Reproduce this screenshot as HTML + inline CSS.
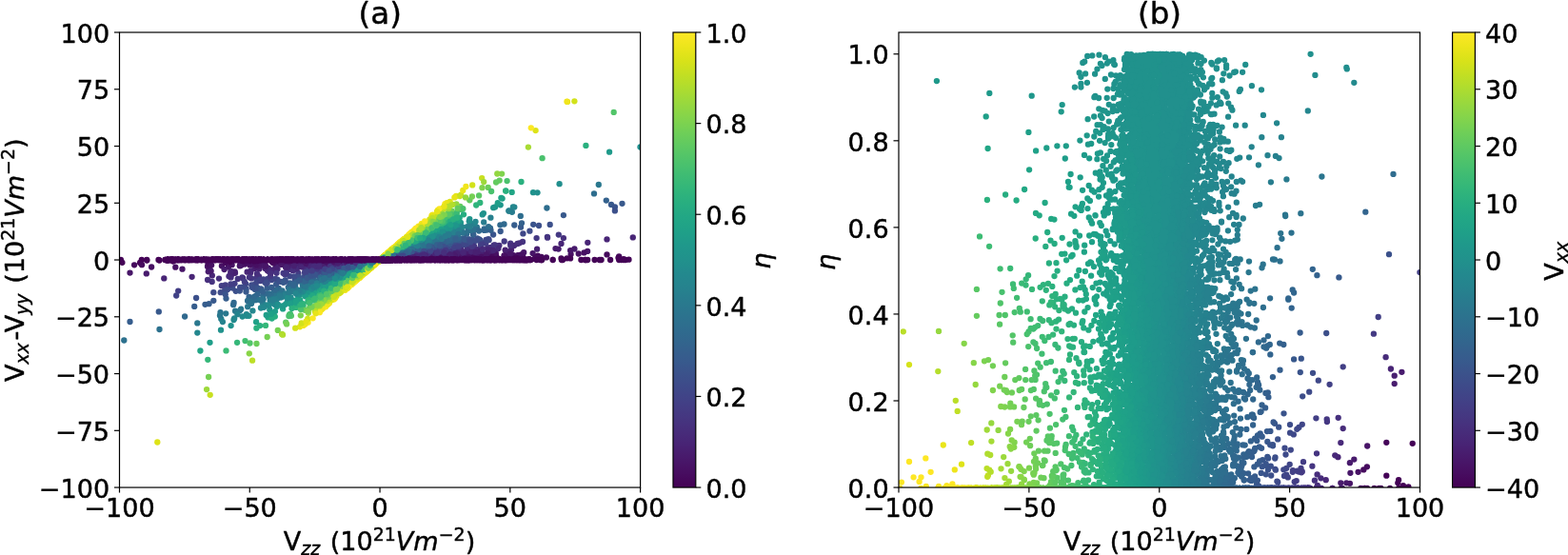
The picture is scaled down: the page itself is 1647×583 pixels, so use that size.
<!DOCTYPE html>
<html lang="en"><head><meta charset="utf-8"><title>EFG distribution scatter plots</title>
<style>html,body{margin:0;padding:0;background:#fff;overflow:hidden}svg{display:block}text{font-family:"DejaVu Sans","Liberation Sans",sans-serif;font-size:27.05px;fill:#000;stroke:#000;stroke-width:0.45px;stroke-linejoin:round}.t{font-size:32.5px}.i{font-style:italic}.s{font-size:18.93px}</style></head><body>
<svg width="1647" height="583" viewBox="0 0 1647 583">
<rect width="1647" height="583" fill="#fff"/>
<defs><linearGradient id="vg" x1="0" y1="0" x2="0" y2="1"><stop offset="0.0000" stop-color="#fde725"/><stop offset="0.0312" stop-color="#ece51b"/><stop offset="0.0625" stop-color="#d8e219"/><stop offset="0.0938" stop-color="#c2df23"/><stop offset="0.1250" stop-color="#addc30"/><stop offset="0.1562" stop-color="#98d83e"/><stop offset="0.1875" stop-color="#84d44b"/><stop offset="0.2188" stop-color="#70cf57"/><stop offset="0.2500" stop-color="#5ec962"/><stop offset="0.2812" stop-color="#4ec36b"/><stop offset="0.3125" stop-color="#3fbc73"/><stop offset="0.3438" stop-color="#32b67a"/><stop offset="0.3750" stop-color="#28ae80"/><stop offset="0.4062" stop-color="#22a785"/><stop offset="0.4375" stop-color="#1fa088"/><stop offset="0.4688" stop-color="#1f988b"/><stop offset="0.5000" stop-color="#21918c"/><stop offset="0.5312" stop-color="#23898e"/><stop offset="0.5625" stop-color="#26828e"/><stop offset="0.5938" stop-color="#297a8e"/><stop offset="0.6250" stop-color="#2c728e"/><stop offset="0.6562" stop-color="#2f6b8e"/><stop offset="0.6875" stop-color="#33638d"/><stop offset="0.7188" stop-color="#375b8d"/><stop offset="0.7500" stop-color="#3b528b"/><stop offset="0.7812" stop-color="#3e4989"/><stop offset="0.8125" stop-color="#424086"/><stop offset="0.8438" stop-color="#453781"/><stop offset="0.8750" stop-color="#472d7b"/><stop offset="0.9062" stop-color="#482374"/><stop offset="0.9375" stop-color="#48186a"/><stop offset="0.9688" stop-color="#470d60"/><stop offset="1.0000" stop-color="#440154"/></linearGradient>
<clipPath id="ca"><rect x="125.50" y="34.00" width="547.10" height="478.05"/></clipPath>
<clipPath id="cb"><rect x="944.00" y="34.00" width="547.50" height="478.05"/></clipPath>
</defs>
<g clip-path="url(#ca)" fill="none" stroke-width="6.30" stroke-linecap="round">
<path stroke="#30698e" d="M302.8 301.8h0"/>
<path stroke="#63cb5f" d="M483.4 216.9h0"/>
<path stroke="#fbe723" d="M408.1 265.1h0"/>
<path stroke="#42be71" d="M305.0 329.9h0"/>
<path stroke="#460a5d" d="M397.6 273.0h0"/>
<path stroke="#7fd34e" d="M330.7 321.4h0"/>
<path stroke="#450457" d="M387.6 273.0h0"/>
<path stroke="#fbe723" d="M362.5 304.7h0"/>
<path stroke="#450457" d="M284.8 273.0h0"/>
<path stroke="#6ccd5a" d="M474.6 221.7h0"/>
<path stroke="#fbe723" d="M419.1 255.6h0"/>
<path stroke="#450457" d="M419.9 272.9h0M389.9 273.1h0"/>
<path stroke="#1f968b" d="M520.1 217.4h0"/>
<path stroke="#450457" d="M450.4 273.0h0M417.9 273.0h0"/>
<path stroke="#365d8d" d="M280.5 302.8h0"/>
<path stroke="#460a5d" d="M400.4 273.0h0"/>
<path stroke="#450457" d="M395.6 273.0h0M409.8 273.0h0M324.6 273.0h0"/>
<path stroke="#32658e" d="M292.7 302.9h0"/>
<path stroke="#450457" d="M290.6 273.0h0"/>
<path stroke="#3a548c" d="M518.1 246.5h0"/>
<path stroke="#482576" d="M589.5 255.9h0"/>
<path stroke="#21a585" d="M325.5 310.3h0"/>
<path stroke="#30698e" d="M317.3 297.0h0"/>
<path stroke="#472f7d" d="M308.7 283.4h0"/>
<path stroke="#365d8d" d="M215.5 319.8h0"/>
<path stroke="#450457" d="M400.8 273.0h0"/>
<path stroke="#472f7d" d="M242.5 291.4h0"/>
<path stroke="#450457" d="M387.4 273.1h0"/>
<path stroke="#fbe723" d="M403.3 269.3h0"/>
<path stroke="#471063" d="M403.0 272.9h0"/>
<path stroke="#433e85" d="M313.4 286.9h0"/>
<path stroke="#3e4c8a" d="M278.2 296.4h0"/>
<path stroke="#f1e51d" d="M396.8 275.0h0"/>
<path stroke="#482071" d="M281.8 281.7h0"/>
<path stroke="#e7e419" d="M596.0 106.9h0"/>
<path stroke="#450457" d="M197.4 273.0h0"/>
<path stroke="#3f4788" d="M285.4 294.1h0"/>
<path stroke="#460a5d" d="M274.8 275.5h0"/>
<path stroke="#450457" d="M488.4 273.0h0"/>
<path stroke="#fbe723" d="M376.5 292.6h0"/>
<path stroke="#3e4c8a" d="M513.0 251.2h0"/>
<path stroke="#450457" d="M556.7 273.0h0"/>
<path stroke="#93d741" d="M479.4 214.4h0"/>
<path stroke="#4ac16d" d="M480.0 223.1h0"/>
<path stroke="#450457" d="M657.0 273.0h0"/>
<path stroke="#481668" d="M400.3 273.0h0"/>
<path stroke="#414287" d="M506.7 255.1h0"/>
<path stroke="#2d718e" d="M290.9 307.6h0"/>
<path stroke="#fbe723" d="M424.7 250.9h0"/>
<path stroke="#f1e51d" d="M393.5 277.8h0"/>
<path stroke="#481668" d="M516.0 268.0h0"/>
<path stroke="#450457" d="M404.9 273.0h0"/>
<path stroke="#fbe723" d="M365.0 302.7h0"/>
<path stroke="#bddf26" d="M397.4 274.3h0"/>
<path stroke="#fbe723" d="M412.0 261.7h0"/>
<path stroke="#450457" d="M186.6 273.0h0M407.3 272.9h0M297.7 273.0h0M393.3 273.1h0"/>
<path stroke="#433e85" d="M299.4 288.6h0"/>
<path stroke="#482071" d="M278.5 281.9h0"/>
<path stroke="#471063" d="M539.2 268.2h0"/>
<path stroke="#450457" d="M424.6 273.0h0"/>
<path stroke="#472a7a" d="M282.2 285.0h0"/>
<path stroke="#450457" d="M351.8 273.0h0M388.5 273.0h0"/>
<path stroke="#f1e51d" d="M352.2 313.0h0"/>
<path stroke="#34618d" d="M497.0 246.3h0"/>
<path stroke="#450457" d="M507.2 273.0h0M412.5 273.0h0"/>
<path stroke="#2ab07f" d="M531.4 200.6h0"/>
<path stroke="#228b8d" d="M245.5 336.0h0"/>
<path stroke="#481668" d="M267.4 279.9h0"/>
<path stroke="#450457" d="M380.8 273.0h0"/>
<path stroke="#f1e51d" d="M407.0 266.2h0"/>
<path stroke="#20928c" d="M507.9 224.1h0"/>
<path stroke="#24878e" d="M495.0 235.0h0"/>
<path stroke="#472a7a" d="M304.2 282.8h0"/>
<path stroke="#f1e51d" d="M402.9 269.7h0"/>
<path stroke="#450457" d="M425.6 273.0h0M312.4 273.0h0M403.5 273.0h0"/>
<path stroke="#471063" d="M397.6 273.1h0"/>
<path stroke="#d2e21b" d="M451.4 230.5h0"/>
<path stroke="#450457" d="M401.3 273.0h0M406.0 273.0h0"/>
<path stroke="#2e6d8e" d="M276.2 310.3h0"/>
<path stroke="#32658e" d="M304.5 300.0h0"/>
<path stroke="#482576" d="M263.5 284.4h0"/>
<path stroke="#2e6d8e" d="M574.4 218.5h0"/>
<path stroke="#450457" d="M216.5 273.0h0M186.7 273.0h0"/>
<path stroke="#460a5d" d="M403.1 272.9h0"/>
<path stroke="#450457" d="M216.4 273.0h0"/>
<path stroke="#fbe723" d="M391.5 279.6h0"/>
<path stroke="#3c508b" d="M247.7 305.8h0"/>
<path stroke="#460a5d" d="M396.8 273.1h0"/>
<path stroke="#450457" d="M540.2 273.0h0M408.7 272.9h0M441.0 273.0h0"/>
<path stroke="#481668" d="M276.3 278.4h0"/>
<path stroke="#f1e51d" d="M404.2 268.6h0"/>
<path stroke="#fbe723" d="M400.6 271.7h0"/>
<path stroke="#1f968b" d="M301.5 317.7h0"/>
<path stroke="#2ab07f" d="M309.6 322.0h0"/>
<path stroke="#f1e51d" d="M397.3 274.5h0"/>
<path stroke="#450457" d="M348.3 273.0h0"/>
<path stroke="#2a788e" d="M260.2 322.2h0"/>
<path stroke="#3e4c8a" d="M482.1 257.1h0"/>
<path stroke="#450457" d="M405.8 273.0h0M468.5 273.0h0M236.2 273.0h0M405.6 272.9h0"/>
<path stroke="#d2e21b" d="M397.5 274.3h0"/>
<path stroke="#450457" d="M530.9 273.0h0M546.8 273.0h0M402.0 273.0h0M154.3 273.5h0M401.5 273.0h0"/>
<path stroke="#24878e" d="M476.6 241.8h0"/>
<path stroke="#e7e419" d="M315.0 343.3h0"/>
<path stroke="#450457" d="M408.4 273.0h0"/>
<path stroke="#25838e" d="M290.0 315.5h0"/>
<path stroke="#30698e" d="M490.1 245.7h0"/>
<path stroke="#471063" d="M402.4 272.9h0"/>
<path stroke="#450457" d="M326.4 273.0h0M241.5 273.0h0M451.7 273.0h0M519.1 273.0h0M371.4 273.0h0"/>
<path stroke="#365d8d" d="M485.1 250.9h0"/>
<path stroke="#443983" d="M491.5 259.9h0"/>
<path stroke="#c8e020" d="M220.7 414.8h0"/>
<path stroke="#450457" d="M390.4 273.0h0"/>
<path stroke="#f1e51d" d="M404.2 268.6h0"/>
<path stroke="#450457" d="M219.0 273.0h0M414.6 272.9h0M379.3 273.0h0M467.2 273.0h0"/>
<path stroke="#21a585" d="M281.6 333.4h0"/>
<path stroke="#450457" d="M316.3 273.0h0"/>
<path stroke="#fbe723" d="M402.8 269.8h0"/>
<path stroke="#472a7a" d="M322.5 281.2h0"/>
<path stroke="#3f4788" d="M497.4 255.5h0"/>
<path stroke="#450457" d="M402.2 273.0h0"/>
<path stroke="#481b6d" d="M400.4 272.9h0"/>
<path stroke="#3e4c8a" d="M280.7 296.9h0"/>
<path stroke="#f1e51d" d="M393.3 277.9h0"/>
<path stroke="#450457" d="M388.9 273.1h0"/>
<path stroke="#25838e" d="M540.3 217.6h0"/>
<path stroke="#4ac16d" d="M569.6 166.2h0"/>
<path stroke="#3e4c8a" d="M264.3 299.4h0"/>
<path stroke="#450457" d="M344.8 273.1h0M521.7 273.0h0M650.2 273.0h0"/>
<path stroke="#3f4788" d="M489.2 257.0h0"/>
<path stroke="#463480" d="M536.2 255.7h0"/>
<path stroke="#38598c" d="M591.9 226.1h0"/>
<path stroke="#481b6d" d="M400.4 272.9h0"/>
<path stroke="#460a5d" d="M396.4 273.1h0"/>
<path stroke="#450457" d="M524.9 273.0h0M405.5 273.0h0M424.9 273.0h0M589.5 271.3h0"/>
<path stroke="#463480" d="M249.8 292.9h0"/>
<path stroke="#450457" d="M409.8 273.0h0"/>
<path stroke="#460a5d" d="M253.0 276.2h0"/>
<path stroke="#450457" d="M409.8 273.0h0"/>
<path stroke="#c8e020" d="M484.2 204.7h0"/>
<path stroke="#450457" d="M332.3 273.0h0M437.8 273.0h0"/>
<path stroke="#a8db34" d="M475.6 214.8h0"/>
<path stroke="#460a5d" d="M400.5 273.0h0"/>
<path stroke="#450457" d="M284.8 273.0h0M274.4 273.0h0"/>
<path stroke="#30698e" d="M508.7 240.5h0"/>
<path stroke="#38598c" d="M267.8 303.9h0"/>
<path stroke="#450457" d="M569.1 273.0h0M323.7 273.0h0M207.4 273.0h0"/>
<path stroke="#fbe723" d="M411.6 262.1h0"/>
<path stroke="#450457" d="M236.5 273.0h0M397.9 273.0h0"/>
<path stroke="#26ad81" d="M288.8 332.6h0"/>
<path stroke="#460a5d" d="M406.9 272.9h0"/>
<path stroke="#365d8d" d="M271.6 304.9h0"/>
<path stroke="#471063" d="M299.4 277.0h0"/>
<path stroke="#450457" d="M409.6 272.9h0"/>
<path stroke="#218f8d" d="M321.3 306.9h0"/>
<path stroke="#414287" d="M320.1 286.2h0"/>
<path stroke="#481b6d" d="M603.4 261.5h0"/>
<path stroke="#4ac16d" d="M532.6 190.1h0"/>
<path stroke="#450457" d="M291.9 273.0h0M401.0 273.0h0M514.6 273.0h0M316.1 273.0h0"/>
<path stroke="#365d8d" d="M304.4 297.4h0"/>
<path stroke="#2d718e" d="M296.5 305.3h0"/>
<path stroke="#450457" d="M262.8 273.0h0"/>
<path stroke="#460a5d" d="M396.0 273.1h0"/>
<path stroke="#450457" d="M230.3 273.0h0"/>
<path stroke="#471063" d="M232.9 279.3h0M397.5 273.1h0"/>
<path stroke="#450457" d="M569.0 273.0h0M308.1 273.0h0"/>
<path stroke="#481668" d="M401.0 272.9h0"/>
<path stroke="#460a5d" d="M402.5 272.9h0"/>
<path stroke="#450457" d="M508.7 273.0h0"/>
<path stroke="#482071" d="M320.1 279.2h0"/>
<path stroke="#fbe723" d="M401.5 270.9h0"/>
<path stroke="#460a5d" d="M405.2 272.9h0"/>
<path stroke="#450457" d="M394.5 273.1h0M254.0 273.0h0"/>
<path stroke="#460a5d" d="M401.8 273.0h0"/>
<path stroke="#3e4c8a" d="M236.1 305.1h0"/>
<path stroke="#450457" d="M480.6 273.0h0"/>
<path stroke="#f1e51d" d="M397.2 274.6h0"/>
<path stroke="#472f7d" d="M591.9 250.1h0"/>
<path stroke="#481b6d" d="M520.7 265.6h0"/>
<path stroke="#2b748e" d="M500.9 238.7h0"/>
<path stroke="#450457" d="M439.8 273.0h0M305.2 273.0h0M511.7 273.0h0"/>
<path stroke="#443983" d="M497.0 258.7h0"/>
<path stroke="#450457" d="M323.7 273.0h0"/>
<path stroke="#fbe723" d="M373.1 295.6h0"/>
<path stroke="#450457" d="M302.8 273.0h0M409.5 273.0h0"/>
<path stroke="#481668" d="M397.6 273.1h0"/>
<path stroke="#450457" d="M416.9 273.0h0"/>
<path stroke="#21a585" d="M471.2 235.7h0"/>
<path stroke="#471063" d="M547.6 267.3h0"/>
<path stroke="#75d054" d="M291.8 346.9h0"/>
<path stroke="#450457" d="M265.8 273.0h0"/>
<path stroke="#fbe723" d="M389.1 281.7h0"/>
<path stroke="#460a5d" d="M407.3 272.9h0M397.1 273.1h0"/>
<path stroke="#3f4788" d="M549.4 245.4h0"/>
<path stroke="#450457" d="M388.3 273.0h0"/>
<path stroke="#1fa187" d="M297.1 324.4h0"/>
<path stroke="#450457" d="M317.9 273.0h0"/>
<path stroke="#4ac16d" d="M486.3 219.2h0"/>
<path stroke="#450457" d="M356.5 273.0h0"/>
<path stroke="#472a7a" d="M286.0 284.7h0"/>
<path stroke="#481b6d" d="M507.5 267.0h0"/>
<path stroke="#dde318" d="M397.3 274.5h0"/>
<path stroke="#450457" d="M390.1 273.1h0"/>
<path stroke="#f1e51d" d="M454.5 225.7h0"/>
<path stroke="#fbe723" d="M418.7 255.9h0"/>
<path stroke="#21a585" d="M537.7 201.9h0"/>
<path stroke="#450457" d="M390.3 273.1h0M401.0 273.0h0M397.8 273.0h0M266.1 273.0h0"/>
<path stroke="#460a5d" d="M407.7 272.9h0"/>
<path stroke="#32658e" d="M261.6 312.0h0"/>
<path stroke="#30698e" d="M310.1 299.7h0"/>
<path stroke="#450457" d="M298.0 273.0h0M459.3 273.0h0M432.5 273.0h0M401.7 273.0h0M414.6 272.9h0"/>
<path stroke="#414287" d="M273.4 295.0h0"/>
<path stroke="#228b8d" d="M480.1 238.8h0"/>
<path stroke="#34618d" d="M305.4 298.1h0"/>
<path stroke="#460a5d" d="M396.6 273.1h0"/>
<path stroke="#450457" d="M417.6 272.9h0M464.3 273.0h0"/>
<path stroke="#52c569" d="M305.9 331.8h0"/>
<path stroke="#fbe723" d="M342.2 322.3h0"/>
<path stroke="#471063" d="M397.5 273.1h0"/>
<path stroke="#450457" d="M396.2 273.1h0M394.8 273.1h0"/>
<path stroke="#fbe723" d="M378.7 290.7h0"/>
<path stroke="#471063" d="M400.6 273.0h0"/>
<path stroke="#450457" d="M427.8 273.0h0M343.0 273.0h0"/>
<path stroke="#481b6d" d="M513.3 266.3h0"/>
<path stroke="#20928c" d="M314.7 310.0h0"/>
<path stroke="#fbe723" d="M389.0 281.7h0"/>
<path stroke="#24878e" d="M538.9 217.3h0"/>
<path stroke="#450457" d="M411.4 273.0h0M384.5 273.0h0M363.0 273.0h0"/>
<path stroke="#460a5d" d="M403.6 272.9h0"/>
<path stroke="#482071" d="M267.7 282.0h0"/>
<path stroke="#450457" d="M412.7 272.9h0M652.6 273.0h0M615.0 273.0h0"/>
<path stroke="#fbe723" d="M369.4 298.9h0"/>
<path stroke="#3bbb75" d="M318.5 321.3h0"/>
<path stroke="#450457" d="M493.1 273.0h0"/>
<path stroke="#f1e51d" d="M460.0 220.7h0"/>
<path stroke="#a8db34" d="M339.4 318.4h0"/>
<path stroke="#fbe723" d="M404.9 267.9h0"/>
<path stroke="#2e6d8e" d="M245.1 320.2h0"/>
<path stroke="#34618d" d="M463.6 255.8h0"/>
<path stroke="#450457" d="M350.4 273.0h0"/>
<path stroke="#472f7d" d="M524.4 257.8h0"/>
<path stroke="#a8db34" d="M554.9 154.6h0"/>
<path stroke="#450457" d="M286.7 273.0h0M412.0 272.9h0M226.3 273.0h0"/>
<path stroke="#481b6d" d="M218.8 285.3h0"/>
<path stroke="#27808e" d="M490.8 238.2h0"/>
<path stroke="#450457" d="M316.8 273.0h0"/>
<path stroke="#3a548c" d="M251.8 305.5h0"/>
<path stroke="#26ad81" d="M327.2 311.7h0"/>
<path stroke="#450457" d="M542.2 273.0h0M309.2 273.0h0"/>
<path stroke="#30698e" d="M515.0 239.6h0"/>
<path stroke="#450457" d="M417.2 272.9h0M396.6 273.1h0"/>
<path stroke="#460a5d" d="M286.2 275.6h0"/>
<path stroke="#472f7d" d="M490.5 262.3h0"/>
<path stroke="#450457" d="M405.1 273.0h0"/>
<path stroke="#d2e21b" d="M496.2 194.4h0"/>
<path stroke="#450457" d="M336.9 273.0h0M319.0 273.0h0"/>
<path stroke="#3a548c" d="M309.7 293.8h0"/>
<path stroke="#2d718e" d="M309.4 302.4h0"/>
<path stroke="#460a5d" d="M408.0 272.9h0"/>
<path stroke="#450457" d="M524.4 273.0h0"/>
<path stroke="#460a5d" d="M404.6 272.9h0M406.8 272.9h0"/>
<path stroke="#35b779" d="M323.6 317.0h0"/>
<path stroke="#2a788e" d="M484.7 243.0h0"/>
<path stroke="#2ab07f" d="M547.5 191.0h0"/>
<path stroke="#450457" d="M492.1 273.0h0"/>
<path stroke="#460a5d" d="M277.9 275.3h0"/>
<path stroke="#450457" d="M417.4 273.0h0"/>
<path stroke="#32658e" d="M326.1 293.8h0"/>
<path stroke="#1f9a8a" d="M640.1 159.7h0"/>
<path stroke="#482576" d="M247.0 286.8h0"/>
<path stroke="#f1e51d" d="M344.2 319.9h0"/>
<path stroke="#1f968b" d="M283.3 325.4h0"/>
<path stroke="#450457" d="M367.2 273.0h0"/>
<path stroke="#fbe723" d="M350.8 314.6h0"/>
<path stroke="#20928c" d="M560.0 202.2h0"/>
<path stroke="#450457" d="M476.6 273.0h0M281.9 273.0h0"/>
<path stroke="#dde318" d="M406.1 267.2h0"/>
<path stroke="#fbe723" d="M397.2 274.6h0"/>
<path stroke="#450457" d="M439.9 273.0h0"/>
<path stroke="#27808e" d="M515.4 228.7h0"/>
<path stroke="#471063" d="M218.0 280.0h0"/>
<path stroke="#fbe723" d="M404.5 268.3h0M396.3 275.4h0"/>
<path stroke="#3e4c8a" d="M504.5 252.3h0"/>
<path stroke="#2fb47c" d="M311.0 322.9h0"/>
<path stroke="#471063" d="M607.7 266.5h0"/>
<path stroke="#450457" d="M390.2 273.0h0M245.2 273.0h0"/>
<path stroke="#463480" d="M272.0 290.3h0"/>
<path stroke="#7fd34e" d="M351.2 306.9h0"/>
<path stroke="#450457" d="M492.6 273.0h0M218.5 273.0h0M516.0 273.0h0"/>
<path stroke="#2e6d8e" d="M624.0 203.4h0"/>
<path stroke="#2d718e" d="M491.4 242.8h0"/>
<path stroke="#365d8d" d="M487.2 250.5h0"/>
<path stroke="#32658e" d="M467.1 254.0h0"/>
<path stroke="#471063" d="M400.5 273.0h0"/>
<path stroke="#21a585" d="M311.0 318.4h0"/>
<path stroke="#481b6d" d="M153.8 287.4h0"/>
<path stroke="#e7e419" d="M397.5 274.3h0"/>
<path stroke="#2e6d8e" d="M260.1 315.9h0"/>
<path stroke="#fbe723" d="M433.4 243.4h0"/>
<path stroke="#482576" d="M201.6 290.8h0"/>
<path stroke="#fbe723" d="M390.3 280.6h0"/>
<path stroke="#a8db34" d="M296.1 351.0h0"/>
<path stroke="#fbe723" d="M362.3 304.7h0"/>
<path stroke="#287c8e" d="M252.2 326.1h0"/>
<path stroke="#f1e51d" d="M345.9 318.6h0"/>
<path stroke="#460a5d" d="M402.4 273.0h0M141.1 278.3h0"/>
<path stroke="#7fd34e" d="M471.1 222.8h0"/>
<path stroke="#450457" d="M344.3 273.0h0"/>
<path stroke="#f1e51d" d="M404.3 268.5h0"/>
<path stroke="#471063" d="M220.6 279.3h0"/>
<path stroke="#450457" d="M397.7 273.0h0M381.5 273.0h0"/>
<path stroke="#20928c" d="M232.0 346.7h0"/>
<path stroke="#450457" d="M410.6 273.0h0M407.4 273.0h0M393.8 273.1h0M403.0 273.0h0M551.4 273.0h0"/>
<path stroke="#f1e51d" d="M397.7 274.1h0"/>
<path stroke="#fbe723" d="M393.5 277.8h0"/>
<path stroke="#dde318" d="M465.2 218.7h0"/>
<path stroke="#21a585" d="M334.6 305.7h0"/>
<path stroke="#450457" d="M432.5 272.9h0M471.6 273.0h0M488.4 273.0h0"/>
<path stroke="#d2e21b" d="M397.4 274.4h0"/>
<path stroke="#2ab07f" d="M273.1 342.1h0"/>
<path stroke="#450457" d="M419.3 273.0h0M655.1 273.0h0"/>
<path stroke="#471063" d="M401.6 272.9h0"/>
<path stroke="#450457" d="M287.9 273.0h0"/>
<path stroke="#443983" d="M563.6 250.1h0"/>
<path stroke="#482576" d="M244.1 287.8h0"/>
<path stroke="#481668" d="M400.8 272.9h0"/>
<path stroke="#dde318" d="M562.6 137.1h0"/>
<path stroke="#443983" d="M574.9 248.8h0"/>
<path stroke="#472f7d" d="M515.6 259.8h0"/>
<path stroke="#450457" d="M126.9 273.0h0"/>
<path stroke="#2fb47c" d="M318.3 319.2h0"/>
<path stroke="#481b6d" d="M400.2 273.0h0"/>
<path stroke="#450457" d="M182.2 273.0h0"/>
<path stroke="#481668" d="M239.9 280.6h0"/>
<path stroke="#481b6d" d="M401.0 272.9h0"/>
<path stroke="#450457" d="M242.2 273.0h0"/>
<path stroke="#3c508b" d="M496.6 251.9h0"/>
<path stroke="#1f9a8a" d="M299.7 319.8h0"/>
<path stroke="#fbe723" d="M406.8 266.3h0"/>
<path stroke="#dde318" d="M403.0 269.8h0M397.6 274.2h0"/>
<path stroke="#3e4c8a" d="M239.2 303.7h0"/>
<path stroke="#38598c" d="M480.3 253.9h0"/>
<path stroke="#450457" d="M406.2 273.0h0"/>
<path stroke="#93d741" d="M459.8 228.7h0"/>
<path stroke="#450457" d="M414.5 273.0h0"/>
<path stroke="#7fd34e" d="M315.8 331.3h0"/>
<path stroke="#1f9a8a" d="M308.0 315.7h0"/>
<path stroke="#bddf26" d="M344.0 316.2h0"/>
<path stroke="#450457" d="M212.0 273.0h0"/>
<path stroke="#dde318" d="M165.3 464.5h0"/>
<path stroke="#3c508b" d="M299.7 294.4h0"/>
<path stroke="#433e85" d="M187.2 305.6h0"/>
<path stroke="#450457" d="M392.7 273.0h0M403.2 273.0h0M660.5 272.7h0"/>
<path stroke="#460a5d" d="M394.6 273.1h0"/>
<path stroke="#450457" d="M441.5 273.0h0"/>
<path stroke="#460a5d" d="M532.4 269.6h0"/>
<path stroke="#471063" d="M400.3 273.0h0"/>
<path stroke="#450457" d="M290.4 273.0h0M402.9 273.0h0M391.7 273.0h0M405.0 273.0h0"/>
<path stroke="#fbe723" d="M409.4 264.0h0"/>
<path stroke="#450457" d="M402.1 273.0h0M508.8 273.0h0"/>
<path stroke="#481b6d" d="M269.2 280.6h0"/>
<path stroke="#e7e419" d="M333.9 328.0h0"/>
<path stroke="#287c8e" d="M299.8 308.7h0"/>
<path stroke="#2d718e" d="M264.1 316.3h0"/>
<path stroke="#dde318" d="M348.3 315.2h0"/>
<path stroke="#450457" d="M392.5 273.0h0"/>
<path stroke="#38598c" d="M642.0 214.9h0"/>
<path stroke="#482071" d="M272.3 282.4h0"/>
<path stroke="#471063" d="M397.0 273.1h0"/>
<path stroke="#450457" d="M410.2 273.0h0"/>
<path stroke="#463480" d="M254.4 291.3h0"/>
<path stroke="#450457" d="M519.5 273.0h0M302.7 273.0h0"/>
<path stroke="#5ac864" d="M469.6 227.4h0"/>
<path stroke="#450457" d="M220.4 273.0h0"/>
<path stroke="#d2e21b" d="M397.2 274.5h0"/>
<path stroke="#63cb5f" d="M300.2 338.6h0"/>
<path stroke="#450457" d="M515.8 273.0h0"/>
<path stroke="#3a548c" d="M299.0 296.0h0"/>
<path stroke="#450457" d="M263.4 273.0h0"/>
<path stroke="#218f8d" d="M261.5 331.8h0"/>
<path stroke="#471063" d="M159.1 280.5h0"/>
<path stroke="#fbe723" d="M405.0 267.9h0"/>
<path stroke="#450457" d="M414.6 273.0h0M407.4 273.0h0M471.3 273.0h0"/>
<path stroke="#2b748e" d="M285.9 310.6h0"/>
<path stroke="#450457" d="M269.7 273.0h0M468.1 273.0h0M395.5 273.0h0M255.8 273.0h0M166.5 273.0h0"/>
<path stroke="#1f968b" d="M525.7 215.3h0"/>
<path stroke="#450457" d="M281.4 273.0h0M294.0 273.0h0M397.1 273.0h0M521.1 273.0h0M402.8 273.0h0"/>
<path stroke="#3f4788" d="M492.0 255.6h0"/>
<path stroke="#3a548c" d="M270.4 302.3h0"/>
<path stroke="#460a5d" d="M403.1 272.9h0"/>
<path stroke="#472a7a" d="M263.2 286.4h0"/>
<path stroke="#450457" d="M402.5 273.0h0"/>
<path stroke="#482071" d="M400.5 272.9h0"/>
<path stroke="#450457" d="M395.1 273.0h0M263.3 273.0h0"/>
<path stroke="#481668" d="M269.2 278.7h0"/>
<path stroke="#75d054" d="M324.2 324.8h0"/>
<path stroke="#450457" d="M408.3 273.0h0"/>
<path stroke="#30698e" d="M245.6 317.9h0"/>
<path stroke="#450457" d="M243.6 273.0h0"/>
<path stroke="#287c8e" d="M289.6 312.9h0"/>
<path stroke="#443983" d="M269.8 291.9h0"/>
<path stroke="#450457" d="M379.7 273.0h0"/>
<path stroke="#24878e" d="M321.0 304.1h0"/>
<path stroke="#a8db34" d="M345.0 313.8h0"/>
<path stroke="#481b6d" d="M400.3 272.9h0"/>
<path stroke="#2a788e" d="M247.1 326.7h0"/>
<path stroke="#450457" d="M419.6 273.0h0"/>
<path stroke="#30698e" d="M268.9 310.7h0"/>
<path stroke="#f1e51d" d="M396.4 275.3h0"/>
<path stroke="#450457" d="M285.4 274.3h0"/>
<path stroke="#2a788e" d="M311.3 303.9h0"/>
<path stroke="#482071" d="M246.7 285.4h0"/>
<path stroke="#450457" d="M198.5 273.0h0"/>
<path stroke="#2ab07f" d="M331.9 309.8h0"/>
<path stroke="#414287" d="M242.7 299.5h0"/>
<path stroke="#9dd93b" d="M323.9 328.8h0"/>
<path stroke="#450457" d="M480.3 273.0h0"/>
<path stroke="#2e6d8e" d="M287.5 307.4h0"/>
<path stroke="#fbe723" d="M404.7 268.1h0"/>
<path stroke="#450457" d="M429.5 273.0h0M441.6 273.0h0M394.9 273.0h0"/>
<path stroke="#3e4c8a" d="M244.3 302.6h0"/>
<path stroke="#450457" d="M393.9 273.1h0"/>
<path stroke="#2b748e" d="M283.2 312.1h0"/>
<path stroke="#450457" d="M391.4 273.1h0"/>
<path stroke="#6ccd5a" d="M512.7 196.9h0"/>
<path stroke="#dde318" d="M403.0 269.7h0"/>
<path stroke="#450457" d="M177.9 273.0h0M428.1 273.0h0M389.5 273.1h0"/>
<path stroke="#20928c" d="M330.3 303.6h0"/>
<path stroke="#f1e51d" d="M469.4 213.1h0"/>
<path stroke="#450457" d="M332.9 273.0h0M408.0 272.9h0"/>
<path stroke="#2fb47c" d="M471.4 232.1h0"/>
<path stroke="#450457" d="M470.8 273.0h0"/>
<path stroke="#fbe723" d="M422.7 252.5h0"/>
<path stroke="#f1e51d" d="M396.8 275.0h0"/>
<path stroke="#450457" d="M194.8 273.0h0"/>
<path stroke="#42be71" d="M257.5 358.1h0"/>
<path stroke="#450457" d="M403.3 273.0h0"/>
<path stroke="#443983" d="M529.7 253.5h0"/>
<path stroke="#450457" d="M404.4 273.0h0"/>
<path stroke="#fbe723" d="M407.4 265.7h0"/>
<path stroke="#450457" d="M186.5 273.0h0"/>
<path stroke="#fbe723" d="M412.0 261.8h0"/>
<path stroke="#471063" d="M400.6 273.0h0"/>
<path stroke="#218f8d" d="M672.5 154.5h0"/>
<path stroke="#27808e" d="M232.3 335.0h0"/>
<path stroke="#e7e419" d="M459.2 222.3h0"/>
<path stroke="#450457" d="M392.7 273.1h0"/>
<path stroke="#482576" d="M617.3 254.8h0"/>
<path stroke="#450457" d="M215.6 273.0h0"/>
<path stroke="#472f7d" d="M512.1 260.2h0"/>
<path stroke="#b2dd2d" d="M346.1 313.9h0"/>
<path stroke="#481b6d" d="M531.7 264.2h0"/>
<path stroke="#463480" d="M478.3 262.5h0"/>
<path stroke="#450457" d="M466.8 273.0h0"/>
<path stroke="#472a7a" d="M483.6 264.0h0"/>
<path stroke="#fbe723" d="M390.2 280.7h0"/>
<path stroke="#24878e" d="M258.9 330.2h0"/>
<path stroke="#472a7a" d="M240.5 290.2h0"/>
<path stroke="#27808e" d="M534.5 221.7h0"/>
<path stroke="#450457" d="M532.3 273.0h0"/>
<path stroke="#63cb5f" d="M521.1 191.5h0"/>
<path stroke="#433e85" d="M236.7 299.4h0"/>
<path stroke="#287c8e" d="M297.9 309.9h0"/>
<path stroke="#450457" d="M409.8 273.0h0"/>
<path stroke="#471063" d="M400.4 273.0h0"/>
<path stroke="#450457" d="M520.4 273.0h0"/>
<path stroke="#26ad81" d="M325.2 313.2h0"/>
<path stroke="#2d718e" d="M266.8 315.3h0"/>
<path stroke="#fbe723" d="M396.4 275.3h0"/>
<path stroke="#450457" d="M400.2 273.0h0M408.1 272.9h0"/>
<path stroke="#f1e51d" d="M393.3 277.9h0"/>
<path stroke="#450457" d="M385.9 273.0h0"/>
<path stroke="#fbe723" d="M404.4 268.4h0"/>
<path stroke="#482576" d="M512.5 262.5h0"/>
<path stroke="#450457" d="M442.1 273.0h0"/>
<path stroke="#f1e51d" d="M595.5 106.7h0"/>
<path stroke="#26ad81" d="M336.6 306.3h0"/>
<path stroke="#450457" d="M393.3 273.0h0"/>
<path stroke="#2b748e" d="M303.9 304.2h0"/>
<path stroke="#f1e51d" d="M453.5 226.4h0"/>
<path stroke="#450457" d="M332.7 273.0h0"/>
<path stroke="#27808e" d="M296.8 311.7h0"/>
<path stroke="#481b6d" d="M235.6 283.0h0"/>
<path stroke="#460a5d" d="M400.8 273.0h0"/>
<path stroke="#450457" d="M404.2 273.0h0"/>
<path stroke="#42be71" d="M304.1 330.5h0"/>
<path stroke="#450457" d="M402.4 273.0h0"/>
<path stroke="#471063" d="M400.2 273.0h0"/>
<path stroke="#dde318" d="M397.6 274.2h0"/>
<path stroke="#365d8d" d="M475.7 253.4h0"/>
<path stroke="#450457" d="M409.8 273.0h0"/>
<path stroke="#1f968b" d="M290.9 322.0h0"/>
<path stroke="#6ccd5a" d="M472.9 223.0h0"/>
<path stroke="#4ac16d" d="M303.4 332.0h0"/>
<path stroke="#3c508b" d="M258.6 303.5h0"/>
<path stroke="#450457" d="M527.2 273.0h0M529.3 273.0h0M327.2 273.0h0M419.0 273.0h0"/>
<path stroke="#63cb5f" d="M493.3 210.3h0"/>
<path stroke="#450457" d="M395.7 273.0h0"/>
<path stroke="#460a5d" d="M397.5 273.0h0"/>
<path stroke="#450457" d="M407.2 273.0h0"/>
<path stroke="#f1e51d" d="M403.2 269.5h0"/>
<path stroke="#460a5d" d="M404.9 272.9h0"/>
<path stroke="#472a7a" d="M478.1 264.8h0"/>
<path stroke="#460a5d" d="M396.0 273.1h0"/>
<path stroke="#6ccd5a" d="M320.3 325.8h0"/>
<path stroke="#fbe723" d="M385.8 284.5h0M432.2 244.1h0"/>
<path stroke="#450457" d="M395.3 273.0h0M503.7 273.0h0M419.9 273.0h0"/>
<path stroke="#481b6d" d="M520.4 265.9h0"/>
<path stroke="#450457" d="M247.2 273.0h0"/>
<path stroke="#fbe723" d="M387.6 283.0h0"/>
<path stroke="#450457" d="M462.6 273.0h0M418.5 272.9h0"/>
<path stroke="#1fa187" d="M468.5 238.6h0"/>
<path stroke="#fbe723" d="M467.4 214.1h0"/>
<path stroke="#450457" d="M389.3 273.0h0M359.4 273.0h0"/>
<path stroke="#482071" d="M400.6 272.9h0"/>
<path stroke="#2e6d8e" d="M546.8 226.9h0"/>
<path stroke="#481668" d="M400.5 273.0h0M397.4 273.1h0"/>
<path stroke="#450457" d="M469.5 273.0h0"/>
<path stroke="#fbe723" d="M377.2 292.1h0"/>
<path stroke="#450457" d="M405.8 273.0h0M419.9 273.0h0"/>
<path stroke="#fbe723" d="M403.3 269.3h0"/>
<path stroke="#471063" d="M400.7 273.0h0"/>
<path stroke="#460a5d" d="M402.6 272.9h0"/>
<path stroke="#e7e419" d="M486.3 200.0h0"/>
<path stroke="#32658e" d="M306.0 299.4h0"/>
<path stroke="#fbe723" d="M404.3 268.5h0M421.7 253.3h0"/>
<path stroke="#471063" d="M400.1 273.0h0"/>
<path stroke="#63cb5f" d="M524.7 189.6h0"/>
<path stroke="#450457" d="M418.4 272.9h0"/>
<path stroke="#fbe723" d="M383.7 286.4h0"/>
<path stroke="#450457" d="M292.0 273.0h0"/>
<path stroke="#481668" d="M617.1 263.9h0"/>
<path stroke="#228b8d" d="M336.8 298.8h0"/>
<path stroke="#450457" d="M225.8 273.0h0M402.2 273.0h0"/>
<path stroke="#fbe723" d="M397.3 274.6h0"/>
<path stroke="#f1e51d" d="M427.4 248.7h0"/>
<path stroke="#1f9e89" d="M311.8 315.5h0"/>
<path stroke="#4ac16d" d="M484.6 220.1h0"/>
<path stroke="#481668" d="M252.0 279.2h0"/>
<path stroke="#482071" d="M537.0 262.6h0"/>
<path stroke="#1f968b" d="M483.9 234.0h0"/>
<path stroke="#fbe723" d="M411.4 262.2h0"/>
<path stroke="#27808e" d="M276.2 319.2h0"/>
<path stroke="#228b8d" d="M259.1 331.8h0"/>
<path stroke="#e7e419" d="M479.1 205.9h0"/>
<path stroke="#38598c" d="M547.0 238.7h0"/>
<path stroke="#450457" d="M308.7 273.0h0M309.3 273.3h0M372.4 273.0h0"/>
<path stroke="#f1e51d" d="M407.2 266.1h0"/>
<path stroke="#450457" d="M351.5 273.0h0M385.9 273.1h0"/>
<path stroke="#460a5d" d="M402.3 272.9h0"/>
<path stroke="#2b748e" d="M335.8 294.0h0"/>
<path stroke="#443983" d="M484.2 261.2h0"/>
<path stroke="#fbe723" d="M420.3 254.5h0"/>
<path stroke="#21a585" d="M315.3 315.5h0"/>
<path stroke="#450457" d="M315.6 273.0h0"/>
<path stroke="#471063" d="M243.6 278.2h0"/>
<path stroke="#3bbb75" d="M343.3 305.8h0"/>
<path stroke="#450457" d="M507.4 273.0h0M421.4 273.0h0M376.0 273.0h0"/>
<path stroke="#f1e51d" d="M392.9 278.3h0"/>
<path stroke="#3e4c8a" d="M486.9 256.1h0"/>
<path stroke="#414287" d="M276.7 293.3h0"/>
<path stroke="#dde318" d="M353.4 310.9h0"/>
<path stroke="#2d718e" d="M324.8 296.6h0"/>
<path stroke="#450457" d="M526.6 273.0h0M406.4 272.9h0"/>
<path stroke="#481668" d="M401.0 272.9h0"/>
<path stroke="#f1e51d" d="M424.9 250.9h0"/>
<path stroke="#482071" d="M400.4 272.9h0"/>
<path stroke="#450457" d="M394.7 273.0h0"/>
<path stroke="#460a5d" d="M400.9 273.0h0"/>
<path stroke="#450457" d="M550.6 273.0h0"/>
<path stroke="#bddf26" d="M397.3 274.4h0"/>
<path stroke="#450457" d="M550.6 273.0h0M468.8 273.0h0M300.8 273.0h0"/>
<path stroke="#481b6d" d="M312.8 278.1h0"/>
<path stroke="#450457" d="M531.2 273.0h0"/>
<path stroke="#fbe723" d="M370.6 297.8h0M382.3 287.5h0"/>
<path stroke="#d2e21b" d="M351.8 311.5h0"/>
<path stroke="#bddf26" d="M335.4 323.0h0"/>
<path stroke="#d2e21b" d="M397.3 274.5h0"/>
<path stroke="#450457" d="M344.3 273.0h0M401.5 273.0h0"/>
<path stroke="#1f968b" d="M324.4 306.7h0"/>
<path stroke="#450457" d="M437.2 273.0h0M475.0 273.0h0M274.7 273.0h0"/>
<path stroke="#b2dd2d" d="M453.1 231.1h0"/>
<path stroke="#471063" d="M545.4 268.4h0"/>
<path stroke="#93d741" d="M341.0 315.3h0"/>
<path stroke="#9dd93b" d="M217.1 409.1h0"/>
<path stroke="#e7e419" d="M396.8 274.9h0"/>
<path stroke="#471063" d="M520.6 268.5h0"/>
<path stroke="#1fa187" d="M337.3 303.7h0"/>
<path stroke="#460a5d" d="M396.1 273.1h0"/>
<path stroke="#e7e419" d="M403.7 269.1h0"/>
<path stroke="#450457" d="M420.4 273.0h0"/>
<path stroke="#482576" d="M311.0 280.3h0"/>
<path stroke="#450457" d="M208.2 273.0h0"/>
<path stroke="#fbe723" d="M410.4 263.2h0M392.4 278.8h0"/>
<path stroke="#450457" d="M408.0 273.0h0"/>
<path stroke="#2d718e" d="M486.3 244.5h0"/>
<path stroke="#450457" d="M255.1 273.0h0M369.2 273.0h0"/>
<path stroke="#1f9a8a" d="M306.5 316.1h0"/>
<path stroke="#4ac16d" d="M516.1 201.0h0"/>
<path stroke="#3c508b" d="M269.0 301.3h0"/>
<path stroke="#482576" d="M259.6 285.7h0"/>
<path stroke="#52c569" d="M262.5 360.5h0"/>
<path stroke="#450457" d="M291.7 273.0h0"/>
<path stroke="#fbe723" d="M323.6 338.7h0"/>
<path stroke="#482071" d="M564.1 261.7h0"/>
<path stroke="#d2e21b" d="M454.6 227.9h0"/>
<path stroke="#42be71" d="M474.4 227.4h0"/>
<path stroke="#450457" d="M391.0 273.1h0"/>
<path stroke="#89d548" d="M332.6 320.7h0"/>
<path stroke="#450457" d="M407.2 273.0h0"/>
<path stroke="#463480" d="M255.1 292.2h0"/>
<path stroke="#450457" d="M404.7 273.0h0"/>
<path stroke="#2d718e" d="M271.6 314.6h0"/>
<path stroke="#32658e" d="M511.4 241.5h0"/>
<path stroke="#35b779" d="M218.3 377.8h0"/>
<path stroke="#450457" d="M400.1 273.0h0"/>
<path stroke="#481668" d="M502.1 268.2h0"/>
<path stroke="#471063" d="M396.6 273.1h0"/>
<path stroke="#c8e020" d="M397.4 274.3h0"/>
<path stroke="#dde318" d="M316.7 341.2h0"/>
<path stroke="#450457" d="M414.8 273.0h0"/>
<path stroke="#2b748e" d="M290.5 309.4h0"/>
<path stroke="#42be71" d="M469.1 230.9h0"/>
<path stroke="#2a788e" d="M332.4 296.2h0"/>
<path stroke="#450457" d="M327.8 273.0h0M411.1 273.0h0"/>
<path stroke="#471063" d="M184.3 280.7h0"/>
<path stroke="#30698e" d="M289.8 304.5h0"/>
<path stroke="#1f9e89" d="M304.9 319.2h0"/>
<path stroke="#218f8d" d="M288.9 320.0h0"/>
<path stroke="#fbe723" d="M403.9 268.8h0"/>
<path stroke="#450457" d="M511.4 273.0h0"/>
<path stroke="#3e4c8a" d="M291.3 293.7h0"/>
<path stroke="#472a7a" d="M318.8 280.8h0"/>
<path stroke="#6ccd5a" d="M470.0 224.8h0"/>
<path stroke="#433e85" d="M510.3 255.2h0"/>
<path stroke="#7fd34e" d="M506.5 197.2h0"/>
<path stroke="#450457" d="M405.6 273.0h0"/>
<path stroke="#e7e419" d="M397.0 274.8h0"/>
<path stroke="#2fb47c" d="M500.2 215.5h0"/>
<path stroke="#e7e419" d="M403.6 269.2h0"/>
<path stroke="#450457" d="M397.0 273.0h0"/>
<path stroke="#fbe723" d="M385.8 284.5h0"/>
<path stroke="#460a5d" d="M499.3 270.8h0"/>
<path stroke="#450457" d="M377.0 273.0h0"/>
<path stroke="#75d054" d="M495.9 206.5h0"/>
<path stroke="#450457" d="M271.9 273.0h0"/>
<path stroke="#35b779" d="M326.3 315.1h0"/>
<path stroke="#3e4c8a" d="M231.7 307.2h0"/>
<path stroke="#25838e" d="M233.9 338.1h0"/>
<path stroke="#27808e" d="M318.9 303.3h0"/>
<path stroke="#450457" d="M396.7 273.0h0M409.0 273.0h0M392.1 273.0h0"/>
<path stroke="#228b8d" d="M254.6 332.5h0"/>
<path stroke="#460a5d" d="M395.1 273.1h0"/>
<path stroke="#481668" d="M400.4 273.0h0"/>
<path stroke="#460a5d" d="M650.2 269.3h0"/>
<path stroke="#3e4c8a" d="M267.2 299.1h0"/>
<path stroke="#472a7a" d="M540.0 258.0h0"/>
<path stroke="#fbe723" d="M393.6 277.7h0"/>
<path stroke="#287c8e" d="M283.7 315.4h0"/>
<path stroke="#460a5d" d="M534.0 270.3h0"/>
<path stroke="#c8e020" d="M483.0 206.0h0"/>
<path stroke="#450457" d="M508.4 273.0h0"/>
<path stroke="#1fa187" d="M269.1 338.2h0"/>
<path stroke="#93d741" d="M489.0 207.4h0"/>
<path stroke="#450457" d="M402.3 273.0h0"/>
<path stroke="#c8e020" d="M506.2 187.1h0"/>
<path stroke="#450457" d="M245.7 273.0h0"/>
<path stroke="#1f9e89" d="M279.7 331.0h0"/>
<path stroke="#dde318" d="M356.3 308.2h0"/>
<path stroke="#450457" d="M553.4 273.0h0"/>
<path stroke="#1f968b" d="M326.6 305.9h0"/>
<path stroke="#fbe723" d="M390.0 280.9h0"/>
<path stroke="#450457" d="M445.2 273.0h0M394.7 273.0h0"/>
<path stroke="#f1e51d" d="M422.2 253.1h0"/>
<path stroke="#3f4788" d="M289.2 292.8h0"/>
<path stroke="#3bbb75" d="M474.9 228.1h0"/>
<path stroke="#450457" d="M410.5 273.0h0M239.7 273.0h0M471.5 273.0h0"/>
<path stroke="#fbe723" d="M404.4 268.4h0"/>
<path stroke="#450457" d="M488.0 273.0h0M393.4 273.0h0"/>
<path stroke="#2b748e" d="M231.5 328.1h0"/>
<path stroke="#fbe723" d="M410.3 263.4h0"/>
<path stroke="#c8e020" d="M397.3 274.4h0"/>
<path stroke="#460a5d" d="M406.4 272.9h0"/>
<path stroke="#89d548" d="M345.2 311.9h0"/>
<path stroke="#fbe723" d="M420.8 254.1h0"/>
<path stroke="#450457" d="M456.8 273.0h0"/>
<path stroke="#1f9a8a" d="M320.3 310.4h0"/>
<path stroke="#1f9e89" d="M337.7 303.1h0"/>
<path stroke="#1f968b" d="M327.7 305.4h0"/>
<path stroke="#450457" d="M373.7 273.0h0M329.4 273.0h0M211.7 273.0h0"/>
<path stroke="#3c508b" d="M577.7 235.9h0"/>
<path stroke="#450457" d="M424.6 273.0h0"/>
<path stroke="#f1e51d" d="M337.2 325.8h0"/>
<path stroke="#e7e419" d="M403.7 269.1h0"/>
<path stroke="#450457" d="M476.4 273.0h0"/>
<path stroke="#471063" d="M521.1 268.7h0"/>
<path stroke="#dde318" d="M453.6 228.1h0"/>
<path stroke="#450457" d="M322.4 273.0h0"/>
<path stroke="#e7e419" d="M397.2 274.5h0"/>
<path stroke="#450457" d="M206.9 273.0h0"/>
<path stroke="#482576" d="M222.8 289.4h0"/>
<path stroke="#450457" d="M313.7 273.8h0"/>
<path stroke="#fbe723" d="M374.5 294.3h0M389.8 281.1h0"/>
<path stroke="#3c508b" d="M313.9 290.8h0"/>
<path stroke="#482576" d="M288.3 282.8h0"/>
<path stroke="#450457" d="M250.2 273.0h0M393.6 273.0h0"/>
<path stroke="#21a585" d="M526.4 207.8h0"/>
<path stroke="#450457" d="M232.7 273.0h0"/>
<path stroke="#433e85" d="M246.5 297.8h0"/>
<path stroke="#6ccd5a" d="M269.5 361.0h0"/>
<path stroke="#fbe723" d="M388.9 281.8h0"/>
<path stroke="#482576" d="M518.1 262.8h0"/>
<path stroke="#f1e51d" d="M404.8 268.1h0"/>
<path stroke="#42be71" d="M467.4 231.8h0"/>
<path stroke="#dde318" d="M472.7 211.9h0"/>
<path stroke="#f1e51d" d="M320.6 340.4h0"/>
<path stroke="#21a585" d="M330.4 308.1h0"/>
<path stroke="#26ad81" d="M472.5 233.0h0"/>
<path stroke="#482071" d="M314.4 279.3h0"/>
<path stroke="#450457" d="M241.7 273.0h0"/>
<path stroke="#f1e51d" d="M404.3 268.5h0"/>
<path stroke="#228b8d" d="M305.4 312.2h0"/>
<path stroke="#f1e51d" d="M396.8 275.0h0"/>
<path stroke="#24878e" d="M286.7 318.6h0"/>
<path stroke="#450457" d="M391.8 273.0h0M402.5 273.0h0"/>
<path stroke="#fbe723" d="M403.9 268.8h0"/>
<path stroke="#450457" d="M394.9 273.0h0M400.6 273.0h0M405.3 273.0h0"/>
<path stroke="#f1e51d" d="M404.4 268.5h0"/>
<path stroke="#3bbb75" d="M237.5 368.4h0"/>
<path stroke="#fbe723" d="M437.7 239.4h0"/>
<path stroke="#2e6d8e" d="M282.8 308.3h0"/>
<path stroke="#1f9e89" d="M289.0 327.1h0"/>
<path stroke="#481668" d="M400.1 273.0h0"/>
<path stroke="#450457" d="M234.4 273.0h0M400.2 273.0h0"/>
<path stroke="#2ab07f" d="M531.2 200.4h0"/>
<path stroke="#35b779" d="M335.5 310.3h0"/>
<path stroke="#450457" d="M397.6 273.0h0"/>
<path stroke="#481b6d" d="M221.6 284.6h0"/>
<path stroke="#450457" d="M366.6 273.0h0M444.2 273.0h0M417.8 273.0h0"/>
<path stroke="#7fd34e" d="M345.4 310.8h0"/>
<path stroke="#460a5d" d="M405.0 272.9h0"/>
<path stroke="#1f968b" d="M518.2 218.2h0"/>
<path stroke="#460a5d" d="M401.6 273.0h0"/>
<path stroke="#471063" d="M253.9 278.3h0"/>
<path stroke="#dde318" d="M397.4 274.4h0"/>
<path stroke="#450457" d="M377.4 273.0h0M238.4 273.0h0"/>
<path stroke="#1f9e89" d="M320.6 311.3h0"/>
<path stroke="#9dd93b" d="M338.9 317.8h0"/>
<path stroke="#52c569" d="M332.2 315.4h0"/>
<path stroke="#450457" d="M394.8 273.1h0"/>
<path stroke="#1fa187" d="M328.4 308.0h0"/>
<path stroke="#450457" d="M271.4 273.0h0M410.9 273.0h0"/>
<path stroke="#f1e51d" d="M403.6 269.2h0"/>
<path stroke="#450457" d="M401.3 273.0h0M245.0 273.0h0M403.2 273.0h0M148.8 273.0h0"/>
<path stroke="#1f9e89" d="M522.8 213.2h0"/>
<path stroke="#433e85" d="M483.8 259.6h0"/>
<path stroke="#fbe723" d="M417.7 256.7h0"/>
<path stroke="#450457" d="M473.1 273.0h0"/>
<path stroke="#482071" d="M400.6 272.9h0"/>
<path stroke="#f1e51d" d="M363.3 303.5h0"/>
<path stroke="#450457" d="M523.4 271.7h0"/>
<path stroke="#471063" d="M400.3 273.0h0"/>
<path stroke="#30698e" d="M525.4 236.3h0"/>
<path stroke="#450457" d="M411.1 273.0h0"/>
<path stroke="#f1e51d" d="M338.8 324.3h0"/>
<path stroke="#414287" d="M273.2 294.7h0"/>
<path stroke="#287c8e" d="M323.9 300.3h0"/>
<path stroke="#450457" d="M260.4 273.0h0"/>
<path stroke="#481668" d="M276.8 278.5h0"/>
<path stroke="#21a585" d="M210.4 368.5h0"/>
<path stroke="#450457" d="M396.7 273.0h0"/>
<path stroke="#443983" d="M264.2 292.4h0"/>
<path stroke="#482071" d="M243.2 285.2h0"/>
<path stroke="#38598c" d="M491.4 251.4h0"/>
<path stroke="#4ac16d" d="M474.9 225.5h0"/>
<path stroke="#e7e419" d="M393.4 277.8h0"/>
<path stroke="#450457" d="M443.0 273.0h0"/>
<path stroke="#fbe723" d="M408.1 265.2h0"/>
<path stroke="#450457" d="M397.8 273.0h0"/>
<path stroke="#fbe723" d="M414.2 259.8h0"/>
<path stroke="#450457" d="M462.4 273.0h0"/>
<path stroke="#365d8d" d="M540.3 236.5h0"/>
<path stroke="#f1e51d" d="M318.6 341.9h0"/>
<path stroke="#21a585" d="M343.1 302.0h0"/>
<path stroke="#450457" d="M408.7 273.0h0M491.1 273.0h0"/>
<path stroke="#365d8d" d="M204.2 321.9h0"/>
<path stroke="#450457" d="M401.0 273.0h0M462.0 273.0h0"/>
<path stroke="#1f968b" d="M493.3 230.1h0"/>
<path stroke="#75d054" d="M341.9 312.7h0"/>
<path stroke="#20928c" d="M338.4 299.8h0"/>
<path stroke="#63cb5f" d="M344.4 309.6h0"/>
<path stroke="#450457" d="M445.1 273.0h0"/>
<path stroke="#c8e020" d="M465.8 219.8h0"/>
<path stroke="#450457" d="M254.0 273.0h0"/>
<path stroke="#b2dd2d" d="M462.9 223.5h0"/>
<path stroke="#450457" d="M649.5 270.8h0"/>
<path stroke="#463480" d="M520.2 257.4h0"/>
<path stroke="#fbe723" d="M417.6 256.9h0"/>
<path stroke="#450457" d="M507.2 273.0h0"/>
<path stroke="#fbe723" d="M412.2 261.6h0"/>
<path stroke="#f1e51d" d="M417.9 256.9h0"/>
<path stroke="#471063" d="M401.5 272.9h0"/>
<path stroke="#450457" d="M492.6 273.0h0M405.1 272.9h0"/>
<path stroke="#27808e" d="M298.0 310.4h0"/>
<path stroke="#f1e51d" d="M403.6 269.1h0"/>
<path stroke="#fbe723" d="M396.8 275.0h0"/>
<path stroke="#2b748e" d="M305.4 304.0h0"/>
<path stroke="#fbe723" d="M419.7 255.1h0"/>
<path stroke="#450457" d="M189.8 273.0h0"/>
<path stroke="#3c508b" d="M279.6 298.0h0"/>
<path stroke="#450457" d="M190.7 273.0h0M205.5 273.0h0"/>
<path stroke="#471063" d="M400.8 273.0h0"/>
<path stroke="#30698e" d="M329.7 293.4h0"/>
<path stroke="#26ad81" d="M464.3 238.1h0"/>
<path stroke="#e7e419" d="M403.7 269.1h0"/>
<path stroke="#fbe723" d="M397.5 274.3h0"/>
<path stroke="#450457" d="M201.5 273.0h0"/>
<path stroke="#2b748e" d="M317.9 299.9h0"/>
<path stroke="#450457" d="M504.2 273.0h0"/>
<path stroke="#30698e" d="M339.1 290.4h0"/>
<path stroke="#a8db34" d="M350.1 310.3h0"/>
<path stroke="#481668" d="M271.4 279.3h0"/>
<path stroke="#fbe723" d="M384.3 285.9h0"/>
<path stroke="#414287" d="M185.2 310.5h0"/>
<path stroke="#463480" d="M261.9 291.3h0"/>
<path stroke="#450457" d="M386.7 273.1h0M385.3 273.0h0"/>
<path stroke="#2ab07f" d="M453.9 242.4h0"/>
<path stroke="#450457" d="M405.7 273.0h0"/>
<path stroke="#3a548c" d="M268.6 302.4h0"/>
<path stroke="#450457" d="M416.4 273.0h0M407.3 273.0h0M416.6 273.0h0"/>
<path stroke="#a8db34" d="M350.2 310.1h0"/>
<path stroke="#38598c" d="M166.8 327.4h0"/>
<path stroke="#481668" d="M400.4 273.0h0"/>
<path stroke="#34618d" d="M475.1 252.7h0"/>
<path stroke="#471063" d="M400.7 273.0h0"/>
<path stroke="#450457" d="M401.7 273.0h0M147.1 276.0h0"/>
<path stroke="#471063" d="M262.4 278.4h0"/>
<path stroke="#450457" d="M406.4 272.9h0"/>
<path stroke="#f1e51d" d="M397.8 274.1h0"/>
<path stroke="#25838e" d="M249.5 330.2h0"/>
<path stroke="#450457" d="M543.6 273.0h0M405.2 273.0h0"/>
<path stroke="#481b6d" d="M307.5 278.4h0"/>
<path stroke="#450457" d="M395.3 273.1h0M307.0 273.0h0M199.9 273.0h0"/>
<path stroke="#fbe723" d="M413.4 260.5h0"/>
<path stroke="#450457" d="M412.8 273.0h0"/>
<path stroke="#1f9a8a" d="M456.6 245.5h0"/>
<path stroke="#5ac864" d="M503.1 205.4h0"/>
<path stroke="#450457" d="M421.9 273.0h0"/>
<path stroke="#21a585" d="M459.0 242.1h0"/>
<path stroke="#450457" d="M328.7 273.0h0"/>
<path stroke="#443983" d="M324.1 283.6h0"/>
<path stroke="#c8e020" d="M355.2 307.7h0"/>
<path stroke="#24878e" d="M483.0 238.7h0"/>
<path stroke="#481668" d="M504.3 267.4h0"/>
<path stroke="#3c508b" d="M311.3 291.6h0"/>
<path stroke="#443983" d="M498.3 259.1h0"/>
<path stroke="#bddf26" d="M397.4 274.3h0"/>
<path stroke="#482576" d="M280.9 284.2h0"/>
<path stroke="#450457" d="M435.3 273.0h0"/>
<path stroke="#d2e21b" d="M448.9 232.8h0"/>
<path stroke="#472a7a" d="M502.2 262.2h0"/>
<path stroke="#35b779" d="M249.1 359.8h0"/>
<path stroke="#463480" d="M339.3 280.7h0"/>
<path stroke="#fbe723" d="M377.3 291.9h0"/>
<path stroke="#481b6d" d="M496.2 267.1h0"/>
<path stroke="#450457" d="M413.0 272.9h0M318.9 273.0h0M416.6 273.0h0"/>
<path stroke="#23a983" d="M482.7 228.7h0"/>
<path stroke="#450457" d="M408.2 273.0h0"/>
<path stroke="#471063" d="M291.1 276.9h0"/>
<path stroke="#450457" d="M404.5 273.0h0M540.9 271.4h0"/>
<path stroke="#2b748e" d="M485.7 244.1h0"/>
<path stroke="#450457" d="M330.8 273.0h0M412.7 273.0h0"/>
<path stroke="#414287" d="M281.2 292.8h0"/>
<path stroke="#1f968b" d="M476.0 238.3h0"/>
<path stroke="#472f7d" d="M270.0 287.7h0"/>
<path stroke="#450457" d="M419.9 272.9h0M405.3 273.0h0"/>
<path stroke="#32658e" d="M270.5 309.1h0"/>
<path stroke="#472a7a" d="M477.6 265.4h0"/>
<path stroke="#218f8d" d="M312.6 309.9h0"/>
<path stroke="#34618d" d="M341.7 288.0h0"/>
<path stroke="#fbe723" d="M433.3 243.5h0"/>
<path stroke="#460a5d" d="M404.7 272.9h0"/>
<path stroke="#450457" d="M388.0 273.1h0"/>
<path stroke="#fbe723" d="M404.5 268.3h0"/>
<path stroke="#443983" d="M586.8 246.6h0"/>
<path stroke="#365d8d" d="M486.5 251.2h0"/>
<path stroke="#450457" d="M404.8 273.0h0"/>
<path stroke="#21a585" d="M344.6 300.7h0"/>
<path stroke="#482576" d="M291.5 282.6h0"/>
<path stroke="#f1e51d" d="M404.4 268.5h0"/>
<path stroke="#228b8d" d="M318.1 306.6h0"/>
<path stroke="#450457" d="M448.1 273.0h0"/>
<path stroke="#218f8d" d="M470.1 242.3h0"/>
<path stroke="#450457" d="M400.9 273.0h0"/>
<path stroke="#35b779" d="M346.4 303.7h0"/>
<path stroke="#450457" d="M385.6 273.0h0M405.4 273.0h0"/>
<path stroke="#93d741" d="M464.8 225.3h0"/>
<path stroke="#3a548c" d="M560.2 235.8h0"/>
<path stroke="#450457" d="M395.2 273.1h0M290.5 273.0h0"/>
<path stroke="#fbe723" d="M391.3 279.7h0"/>
<path stroke="#2b748e" d="M264.0 318.9h0"/>
<path stroke="#20928c" d="M506.7 225.4h0"/>
<path stroke="#450457" d="M476.7 273.0h0"/>
<path stroke="#460a5d" d="M401.6 273.0h0"/>
<path stroke="#471063" d="M400.6 273.0h0"/>
<path stroke="#450457" d="M433.4 273.0h0"/>
<path stroke="#fbe723" d="M382.8 287.2h0"/>
<path stroke="#450457" d="M400.9 273.0h0"/>
<path stroke="#472a7a" d="M523.4 260.9h0"/>
<path stroke="#450457" d="M315.8 273.0h0"/>
<path stroke="#4ac16d" d="M316.0 324.9h0"/>
<path stroke="#450457" d="M442.7 273.0h0M440.0 273.0h0"/>
<path stroke="#433e85" d="M358.2 279.3h0"/>
<path stroke="#460a5d" d="M403.5 272.9h0"/>
<path stroke="#e7e419" d="M397.4 274.4h0"/>
<path stroke="#450457" d="M408.1 272.9h0"/>
<path stroke="#25838e" d="M474.3 243.7h0"/>
<path stroke="#481668" d="M550.2 265.2h0M400.4 273.0h0"/>
<path stroke="#fbe723" d="M335.8 328.2h0"/>
<path stroke="#d2e21b" d="M316.7 339.5h0"/>
<path stroke="#463480" d="M518.8 257.3h0"/>
<path stroke="#482071" d="M530.7 262.6h0"/>
<path stroke="#3a548c" d="M645.9 217.4h0"/>
<path stroke="#481b6d" d="M304.1 279.4h0"/>
<path stroke="#450457" d="M396.1 273.1h0"/>
<path stroke="#fbe723" d="M404.5 268.4h0"/>
<path stroke="#38598c" d="M482.3 252.8h0"/>
<path stroke="#450457" d="M251.7 273.0h0"/>
<path stroke="#471063" d="M513.1 269.0h0"/>
<path stroke="#a8db34" d="M335.7 321.4h0"/>
<path stroke="#481668" d="M461.2 269.8h0"/>
<path stroke="#24878e" d="M315.9 306.5h0"/>
<path stroke="#482576" d="M515.4 263.0h0M464.7 266.9h0"/>
<path stroke="#21a585" d="M337.7 304.1h0"/>
<path stroke="#1f9a8a" d="M468.9 239.9h0"/>
<path stroke="#450457" d="M548.4 273.0h0"/>
<path stroke="#2d718e" d="M130.3 357.5h0"/>
<path stroke="#450457" d="M386.3 273.0h0M412.2 273.0h0"/>
<path stroke="#481668" d="M535.9 266.7h0"/>
<path stroke="#450457" d="M449.2 273.0h0"/>
<path stroke="#f1e51d" d="M371.1 297.0h0"/>
<path stroke="#450457" d="M397.0 273.0h0"/>
<path stroke="#460a5d" d="M400.3 273.0h0M400.2 273.0h0"/>
<path stroke="#dde318" d="M358.0 307.1h0"/>
<path stroke="#450457" d="M407.1 273.0h0"/>
<path stroke="#3e4c8a" d="M487.4 256.1h0"/>
<path stroke="#471063" d="M269.5 277.9h0"/>
<path stroke="#450457" d="M408.6 273.0h0M372.3 273.0h0M400.3 273.0h0"/>
<path stroke="#481b6d" d="M586.6 261.6h0"/>
<path stroke="#450457" d="M182.2 273.0h0"/>
<path stroke="#5ac864" d="M471.9 225.4h0"/>
<path stroke="#481b6d" d="M324.6 277.8h0"/>
<path stroke="#460a5d" d="M637.5 267.4h0"/>
<path stroke="#21a585" d="M453.2 244.9h0"/>
<path stroke="#3a548c" d="M295.7 295.9h0"/>
<path stroke="#f1e51d" d="M489.4 196.0h0"/>
<path stroke="#450457" d="M223.7 273.0h0M154.2 273.0h0M397.7 273.0h0"/>
<path stroke="#fbe723" d="M404.1 268.7h0"/>
<path stroke="#450457" d="M178.7 273.0h0M479.5 273.0h0"/>
<path stroke="#482071" d="M498.5 265.8h0"/>
<path stroke="#fbe723" d="M387.6 283.1h0"/>
<path stroke="#38598c" d="M290.1 298.6h0"/>
<path stroke="#450457" d="M519.7 273.0h0"/>
<path stroke="#75d054" d="M301.1 340.4h0"/>
<path stroke="#481668" d="M498.6 268.9h0"/>
<path stroke="#2ab07f" d="M615.4 152.9h0"/>
<path stroke="#450457" d="M207.1 273.0h0"/>
<path stroke="#fbe723" d="M403.9 268.8h0"/>
<path stroke="#450457" d="M236.6 273.0h0M443.4 273.0h0M391.9 273.1h0M318.5 273.0h0"/>
<path stroke="#9dd93b" d="M330.5 324.2h0"/>
<path stroke="#460a5d" d="M401.4 273.0h0"/>
<path stroke="#f1e51d" d="M407.6 265.7h0"/>
<path stroke="#e7e419" d="M469.4 213.6h0"/>
<path stroke="#1fa187" d="M527.6 208.6h0"/>
<path stroke="#2b748e" d="M348.9 289.5h0"/>
<path stroke="#fbe723" d="M389.1 281.6h0"/>
<path stroke="#bddf26" d="M330.7 326.8h0"/>
<path stroke="#7fd34e" d="M527.1 182.6h0"/>
<path stroke="#f1e51d" d="M386.6 283.7h0"/>
<path stroke="#fbe723" d="M389.7 281.2h0"/>
<path stroke="#482576" d="M283.6 283.4h0"/>
<path stroke="#2ab07f" d="M462.9 237.4h0"/>
<path stroke="#450457" d="M457.1 273.0h0"/>
<path stroke="#472f7d" d="M484.5 263.0h0"/>
<path stroke="#450457" d="M409.4 272.9h0"/>
<path stroke="#21a585" d="M459.9 241.5h0"/>
<path stroke="#450457" d="M426.9 273.0h0"/>
<path stroke="#481668" d="M400.6 272.9h0"/>
<path stroke="#472a7a" d="M469.5 266.1h0"/>
<path stroke="#482071" d="M400.4 272.9h0M506.3 264.5h0"/>
<path stroke="#463480" d="M549.0 254.0h0"/>
<path stroke="#450457" d="M249.7 273.0h0M349.7 273.0h0"/>
<path stroke="#460a5d" d="M218.6 276.9h0"/>
<path stroke="#75d054" d="M280.7 354.0h0"/>
<path stroke="#450457" d="M498.7 273.0h0"/>
<path stroke="#7fd34e" d="M457.5 232.0h0"/>
<path stroke="#471063" d="M549.0 268.2h0"/>
<path stroke="#482576" d="M637.5 251.4h0"/>
<path stroke="#89d548" d="M339.9 315.7h0"/>
<path stroke="#365d8d" d="M237.5 313.6h0"/>
<path stroke="#38598c" d="M274.1 303.3h0"/>
<path stroke="#460a5d" d="M498.5 271.5h0"/>
<path stroke="#481668" d="M401.1 272.9h0"/>
<path stroke="#218f8d" d="M564.5 202.3h0"/>
<path stroke="#1f968b" d="M481.0 236.0h0"/>
<path stroke="#fbe723" d="M389.1 281.7h0"/>
<path stroke="#460a5d" d="M397.4 273.1h0"/>
<path stroke="#481b6d" d="M512.5 266.0h0"/>
<path stroke="#463480" d="M222.7 295.9h0"/>
<path stroke="#24878e" d="M343.9 295.5h0"/>
<path stroke="#9dd93b" d="M471.4 219.0h0"/>
<path stroke="#450457" d="M513.0 273.0h0"/>
<path stroke="#472f7d" d="M218.1 294.0h0"/>
<path stroke="#450457" d="M407.7 272.9h0"/>
<path stroke="#e7e419" d="M362.3 304.0h0"/>
<path stroke="#93d741" d="M522.3 182.5h0"/>
<path stroke="#f1e51d" d="M386.8 283.4h0"/>
<path stroke="#dde318" d="M454.5 227.3h0"/>
<path stroke="#3e4c8a" d="M478.7 257.6h0"/>
<path stroke="#482576" d="M488.9 265.4h0"/>
<path stroke="#fbe723" d="M389.8 281.0h0"/>
<path stroke="#450457" d="M405.4 273.0h0"/>
<path stroke="#481b6d" d="M278.2 279.7h0"/>
<path stroke="#472a7a" d="M311.8 282.2h0"/>
<path stroke="#450457" d="M409.1 273.0h0"/>
<path stroke="#30698e" d="M335.6 291.8h0"/>
<path stroke="#450457" d="M405.2 273.0h0"/>
<path stroke="#3bbb75" d="M465.4 233.5h0"/>
<path stroke="#450457" d="M377.2 273.0h0"/>
<path stroke="#414287" d="M341.4 282.5h0"/>
<path stroke="#450457" d="M198.5 273.0h0M406.7 273.0h0"/>
<path stroke="#d2e21b" d="M357.6 306.6h0"/>
<path stroke="#30698e" d="M278.7 308.6h0"/>
<path stroke="#fbe723" d="M397.0 274.8h0"/>
<path stroke="#481668" d="M480.5 269.5h0M136.5 286.6h0"/>
<path stroke="#218f8d" d="M492.8 232.4h0"/>
<path stroke="#433e85" d="M320.7 285.7h0"/>
<path stroke="#3e4c8a" d="M224.3 307.2h0"/>
<path stroke="#472a7a" d="M504.7 261.9h0"/>
<path stroke="#fbe723" d="M369.0 299.1h0"/>
<path stroke="#482576" d="M325.9 279.5h0"/>
<path stroke="#52c569" d="M449.1 241.4h0"/>
<path stroke="#34618d" d="M515.5 241.8h0M548.0 234.3h0"/>
<path stroke="#450457" d="M380.6 273.1h0"/>
<path stroke="#365d8d" d="M327.8 291.2h0"/>
<path stroke="#450457" d="M304.8 273.0h0"/>
<path stroke="#3a548c" d="M493.0 251.4h0M340.0 286.1h0"/>
<path stroke="#482576" d="M400.5 272.9h0"/>
<path stroke="#f1e51d" d="M386.6 283.7h0"/>
<path stroke="#fbe723" d="M420.7 254.2h0"/>
<path stroke="#450457" d="M538.6 273.0h0M400.8 273.0h0"/>
<path stroke="#fbe723" d="M403.9 268.8h0"/>
<path stroke="#450457" d="M554.1 273.0h0"/>
<path stroke="#3c508b" d="M493.6 253.4h0"/>
<path stroke="#450457" d="M490.5 273.0h0"/>
<path stroke="#b2dd2d" d="M446.0 237.0h0"/>
<path stroke="#38598c" d="M325.9 290.4h0"/>
<path stroke="#481668" d="M559.6 266.1h0"/>
<path stroke="#fbe723" d="M423.6 251.7h0"/>
<path stroke="#450457" d="M430.2 273.0h0"/>
<path stroke="#fbe723" d="M404.2 268.6h0"/>
<path stroke="#450457" d="M514.3 273.0h0"/>
<path stroke="#3e4c8a" d="M279.7 297.0h0"/>
<path stroke="#34618d" d="M480.6 251.0h0"/>
<path stroke="#460a5d" d="M402.6 273.0h0"/>
<path stroke="#450457" d="M506.0 273.0h0"/>
<path stroke="#471063" d="M397.7 273.1h0"/>
<path stroke="#3e4c8a" d="M556.4 242.7h0"/>
<path stroke="#32658e" d="M508.7 241.9h0"/>
<path stroke="#fbe723" d="M397.4 274.4h0"/>
<path stroke="#450457" d="M262.8 274.0h0"/>
<path stroke="#1f9a8a" d="M339.8 300.7h0"/>
<path stroke="#460a5d" d="M404.4 272.9h0"/>
<path stroke="#450457" d="M270.5 274.1h0"/>
<path stroke="#482576" d="M480.9 265.8h0M307.7 281.3h0"/>
<path stroke="#450457" d="M501.9 273.0h0"/>
<path stroke="#3f4788" d="M487.9 257.0h0"/>
<path stroke="#3c508b" d="M503.3 251.5h0"/>
<path stroke="#d2e21b" d="M403.2 269.7h0"/>
<path stroke="#f1e51d" d="M410.6 263.2h0"/>
<path stroke="#fbe723" d="M378.2 291.2h0"/>
<path stroke="#471063" d="M529.5 268.3h0"/>
<path stroke="#460a5d" d="M297.9 275.5h0"/>
<path stroke="#34618d" d="M636.8 210.6h0"/>
<path stroke="#27808e" d="M498.5 236.1h0"/>
<path stroke="#1fa187" d="M481.1 232.0h0"/>
<path stroke="#481668" d="M279.1 279.4h0"/>
<path stroke="#450457" d="M411.4 273.0h0"/>
<path stroke="#460a5d" d="M298.2 274.9h0"/>
<path stroke="#34618d" d="M275.8 306.2h0"/>
<path stroke="#fbe723" d="M404.0 268.7h0"/>
<path stroke="#481b6d" d="M400.4 272.9h0"/>
<path stroke="#fbe723" d="M409.4 264.0h0"/>
<path stroke="#3e4c8a" d="M476.4 257.7h0"/>
<path stroke="#b2dd2d" d="M297.0 351.7h0"/>
<path stroke="#f1e51d" d="M385.9 284.3h0"/>
<path stroke="#27808e" d="M314.5 304.9h0"/>
<path stroke="#2a788e" d="M473.6 247.5h0"/>
<path stroke="#2ab07f" d="M306.5 324.1h0"/>
<path stroke="#450457" d="M519.0 273.0h0"/>
<path stroke="#24878e" d="M485.4 238.4h0"/>
<path stroke="#433e85" d="M242.4 298.5h0"/>
<path stroke="#450457" d="M421.9 273.0h0"/>
<path stroke="#e7e419" d="M397.7 274.1h0"/>
<path stroke="#25838e" d="M344.3 294.2h0"/>
<path stroke="#414287" d="M323.2 285.9h0"/>
<path stroke="#f1e51d" d="M390.1 280.7h0"/>
<path stroke="#287c8e" d="M537.9 222.8h0"/>
<path stroke="#38598c" d="M333.2 288.8h0"/>
<path stroke="#450457" d="M412.1 273.0h0M284.5 273.0h0"/>
<path stroke="#460a5d" d="M495.1 271.2h0"/>
<path stroke="#450457" d="M376.3 273.0h0M390.4 273.1h0"/>
<path stroke="#3f4788" d="M510.6 251.8h0"/>
<path stroke="#52c569" d="M449.4 241.4h0"/>
<path stroke="#3f4788" d="M258.1 298.1h0"/>
<path stroke="#450457" d="M330.0 273.1h0M333.2 273.0h0"/>
<path stroke="#460a5d" d="M253.9 276.1h0"/>
<path stroke="#27808e" d="M322.2 302.2h0"/>
<path stroke="#450457" d="M265.6 273.0h0"/>
<path stroke="#3c508b" d="M293.0 295.6h0"/>
<path stroke="#450457" d="M452.3 273.0h0"/>
<path stroke="#27808e" d="M466.5 247.6h0"/>
<path stroke="#dde318" d="M423.9 252.4h0"/>
<path stroke="#35b779" d="M461.6 237.1h0"/>
<path stroke="#c8e020" d="M397.3 274.4h0"/>
<path stroke="#481668" d="M465.0 269.5h0"/>
<path stroke="#450457" d="M175.9 273.8h0"/>
<path stroke="#30698e" d="M460.0 255.4h0"/>
<path stroke="#460a5d" d="M405.0 272.9h0"/>
<path stroke="#fbe723" d="M378.2 291.2h0"/>
<path stroke="#450457" d="M176.8 273.0h0"/>
<path stroke="#52c569" d="M644.7 117.9h0"/>
<path stroke="#2ab07f" d="M447.5 245.9h0"/>
<path stroke="#218f8d" d="M462.2 245.8h0"/>
<path stroke="#450457" d="M251.4 273.0h0"/>
<path stroke="#482071" d="M504.0 264.4h0"/>
<path stroke="#450457" d="M412.2 273.0h0"/>
<path stroke="#2a788e" d="M207.3 339.4h0"/>
<path stroke="#450457" d="M507.2 273.0h0"/>
<path stroke="#460a5d" d="M406.6 272.9h0"/>
<path stroke="#b2dd2d" d="M474.4 215.3h0"/>
<path stroke="#450457" d="M396.1 273.1h0"/>
<path stroke="#2d718e" d="M342.9 290.7h0M472.8 249.4h0"/>
<path stroke="#482071" d="M326.8 278.1h0"/>
<path stroke="#228b8d" d="M301.9 313.0h0"/>
<path stroke="#1f9e89" d="M311.9 315.2h0"/>
<path stroke="#460a5d" d="M402.6 273.0h0"/>
<path stroke="#218f8d" d="M349.9 294.2h0"/>
<path stroke="#450457" d="M595.5 271.3h0"/>
<path stroke="#218f8d" d="M457.7 247.7h0"/>
<path stroke="#fbe723" d="M403.7 269.0h0"/>
<path stroke="#482576" d="M172.3 292.4h0"/>
<path stroke="#21a585" d="M481.1 231.3h0"/>
<path stroke="#471063" d="M505.9 269.9h0"/>
<path stroke="#450457" d="M407.0 272.9h0"/>
<path stroke="#f1e51d" d="M390.0 280.8h0"/>
<path stroke="#471063" d="M543.9 268.2h0"/>
<path stroke="#460a5d" d="M564.8 268.7h0"/>
<path stroke="#e7e419" d="M331.5 329.3h0"/>
<path stroke="#481b6d" d="M490.8 267.3h0"/>
<path stroke="#471063" d="M599.6 267.1h0"/>
<path stroke="#30698e" d="M308.2 300.2h0"/>
<path stroke="#450457" d="M194.5 273.0h0"/>
<path stroke="#2d718e" d="M268.5 315.2h0M167.5 346.0h0"/>
<path stroke="#7fd34e" d="M336.5 316.8h0"/>
<path stroke="#fbe723" d="M439.7 237.6h0"/>
<path stroke="#463480" d="M473.1 263.4h0"/>
<path stroke="#38598c" d="M319.5 291.7h0"/>
<path stroke="#450457" d="M376.5 273.0h0M552.6 273.0h0M412.6 273.0h0M392.0 273.0h0"/>
<path stroke="#26ad81" d="M285.6 334.5h0"/>
<path stroke="#450457" d="M432.0 273.0h0M475.2 273.0h0"/>
<path stroke="#482071" d="M316.1 278.8h0"/>
<path stroke="#450457" d="M343.9 273.0h0"/>
<path stroke="#32658e" d="M321.5 295.2h0"/>
<path stroke="#450457" d="M415.6 273.0h0"/>
<path stroke="#23a983" d="M328.5 310.6h0"/>
<path stroke="#32658e" d="M455.5 257.5h0"/>
<path stroke="#fbe723" d="M408.0 265.2h0"/>
<path stroke="#450457" d="M407.0 273.0h0"/>
<path stroke="#fbe723" d="M413.9 260.2h0"/>
<path stroke="#450457" d="M401.8 273.0h0"/>
<path stroke="#89d548" d="M336.6 317.6h0"/>
<path stroke="#f1e51d" d="M371.3 296.7h0"/>
<path stroke="#481668" d="M251.9 279.2h0"/>
<path stroke="#450457" d="M365.7 273.0h0"/>
<path stroke="#f1e51d" d="M400.7 271.6h0"/>
<path stroke="#460a5d" d="M516.5 270.2h0"/>
<path stroke="#3bbb75" d="M330.8 313.7h0"/>
<path stroke="#30698e" d="M336.9 291.5h0"/>
<path stroke="#1fa187" d="M478.4 233.5h0"/>
<path stroke="#fbe723" d="M408.9 264.5h0"/>
<path stroke="#482576" d="M326.6 279.6h0"/>
<path stroke="#450457" d="M552.1 273.0h0"/>
<path stroke="#35b779" d="M466.1 233.7h0"/>
<path stroke="#450457" d="M249.3 273.0h0"/>
<path stroke="#433e85" d="M505.8 256.7h0"/>
<path stroke="#450457" d="M225.5 273.0h0"/>
<path stroke="#24878e" d="M246.2 334.4h0"/>
<path stroke="#450457" d="M188.0 273.0h0"/>
<path stroke="#1fa187" d="M310.8 316.9h0"/>
<path stroke="#fbe723" d="M383.1 286.8h0"/>
<path stroke="#c8e020" d="M355.7 307.8h0"/>
<path stroke="#471063" d="M266.6 276.8h0"/>
<path stroke="#2b748e" d="M276.6 314.2h0"/>
<path stroke="#450457" d="M464.7 273.0h0"/>
<path stroke="#472a7a" d="M499.3 263.1h0"/>
<path stroke="#450457" d="M385.9 273.1h0"/>
<path stroke="#443983" d="M471.1 262.8h0"/>
<path stroke="#30698e" d="M529.5 235.5h0"/>
<path stroke="#fbe723" d="M421.6 253.6h0M415.8 258.5h0"/>
<path stroke="#2b748e" d="M468.7 249.9h0"/>
<path stroke="#472f7d" d="M307.5 284.2h0"/>
<path stroke="#1f9e89" d="M342.0 301.0h0"/>
<path stroke="#460a5d" d="M404.4 272.9h0"/>
<path stroke="#75d054" d="M348.6 307.8h0"/>
<path stroke="#450457" d="M174.9 273.0h0M404.7 273.0h0"/>
<path stroke="#460a5d" d="M469.4 271.8h0"/>
<path stroke="#450457" d="M404.0 273.0h0"/>
<path stroke="#c8e020" d="M360.2 304.0h0"/>
<path stroke="#450457" d="M181.9 274.5h0"/>
<path stroke="#460a5d" d="M562.1 270.7h0"/>
<path stroke="#471063" d="M222.1 278.6h0"/>
<path stroke="#e7e419" d="M477.4 207.4h0"/>
<path stroke="#3e4c8a" d="M470.9 258.9h0"/>
<path stroke="#fbe723" d="M411.1 262.5h0M429.1 247.0h0"/>
<path stroke="#450457" d="M356.9 273.0h0M368.5 273.0h0"/>
<path stroke="#27808e" d="M348.0 291.9h0"/>
<path stroke="#fbe723" d="M400.6 271.7h0"/>
<path stroke="#42be71" d="M339.0 309.4h0"/>
<path stroke="#27808e" d="M291.1 314.0h0"/>
<path stroke="#450457" d="M292.3 273.0h0"/>
<path stroke="#1f9e89" d="M449.5 248.9h0"/>
<path stroke="#481668" d="M321.1 276.8h0"/>
<path stroke="#482071" d="M300.1 280.4h0"/>
<path stroke="#63cb5f" d="M325.6 321.8h0"/>
<path stroke="#27808e" d="M534.5 221.3h0"/>
<path stroke="#450457" d="M270.2 273.0h0M495.0 273.0h0M235.7 273.0h0"/>
<path stroke="#35b779" d="M279.0 341.9h0"/>
<path stroke="#38598c" d="M224.3 315.8h0"/>
<path stroke="#460a5d" d="M511.0 270.1h0"/>
<path stroke="#fbe723" d="M391.6 279.5h0"/>
<path stroke="#450457" d="M365.8 273.0h0"/>
<path stroke="#2d718e" d="M327.7 296.3h0"/>
<path stroke="#450457" d="M332.2 273.0h0M179.8 273.0h0M389.3 273.1h0"/>
<path stroke="#f1e51d" d="M427.0 249.2h0"/>
<path stroke="#482071" d="M477.8 266.9h0"/>
<path stroke="#287c8e" d="M479.0 244.5h0"/>
<path stroke="#34618d" d="M320.5 294.5h0"/>
<path stroke="#218f8d" d="M327.4 303.6h0"/>
<path stroke="#24878e" d="M265.4 326.4h0"/>
<path stroke="#450457" d="M394.6 273.0h0"/>
<path stroke="#3bbb75" d="M479.7 224.8h0"/>
<path stroke="#450457" d="M434.9 273.0h0"/>
<path stroke="#218f8d" d="M451.9 250.0h0"/>
<path stroke="#228b8d" d="M474.7 241.6h0"/>
<path stroke="#471063" d="M290.4 276.7h0"/>
<path stroke="#20928c" d="M479.4 237.7h0"/>
<path stroke="#460a5d" d="M400.6 273.0h0"/>
<path stroke="#450457" d="M401.3 273.0h0M456.6 273.0h0"/>
<path stroke="#fbe723" d="M411.2 262.5h0"/>
<path stroke="#482071" d="M479.1 267.0h0"/>
<path stroke="#f1e51d" d="M351.5 313.6h0"/>
<path stroke="#460a5d" d="M406.5 272.9h0"/>
<path stroke="#d2e21b" d="M323.2 334.9h0"/>
<path stroke="#482576" d="M518.2 263.0h0"/>
<path stroke="#450457" d="M267.1 274.4h0"/>
<path stroke="#471063" d="M403.5 272.9h0"/>
<path stroke="#2ab07f" d="M340.3 305.6h0"/>
<path stroke="#481668" d="M191.5 282.7h0"/>
<path stroke="#450457" d="M404.7 273.0h0"/>
<path stroke="#34618d" d="M311.9 295.8h0"/>
<path stroke="#472f7d" d="M450.5 267.3h0"/>
<path stroke="#e7e419" d="M321.5 337.7h0"/>
<path stroke="#481b6d" d="M583.5 261.1h0"/>
<path stroke="#481668" d="M334.8 276.1h0"/>
<path stroke="#fbe723" d="M392.9 278.3h0"/>
<path stroke="#30698e" d="M476.8 249.7h0"/>
<path stroke="#472f7d" d="M455.2 266.6h0"/>
<path stroke="#450457" d="M395.9 273.0h0M307.3 273.4h0"/>
<path stroke="#481668" d="M510.8 267.7h0"/>
<path stroke="#2fb47c" d="M504.3 213.0h0"/>
<path stroke="#450457" d="M319.4 273.0h0"/>
<path stroke="#fbe723" d="M407.3 265.8h0"/>
<path stroke="#f1e51d" d="M396.4 275.3h0M386.0 284.3h0"/>
<path stroke="#3c508b" d="M474.0 257.2h0"/>
<path stroke="#38598c" d="M258.5 306.5h0"/>
<path stroke="#25838e" d="M340.5 295.9h0"/>
<path stroke="#bddf26" d="M351.0 310.7h0"/>
<path stroke="#52c569" d="M343.1 308.8h0"/>
<path stroke="#450457" d="M284.1 273.0h0"/>
<path stroke="#3a548c" d="M341.3 285.8h0"/>
<path stroke="#471063" d="M397.4 273.1h0"/>
<path stroke="#3e4c8a" d="M336.0 285.4h0"/>
<path stroke="#2fb47c" d="M317.3 319.3h0"/>
<path stroke="#3a548c" d="M491.7 252.6h0"/>
<path stroke="#450457" d="M230.6 273.0h0"/>
<path stroke="#dde318" d="M369.5 297.6h0"/>
<path stroke="#fbe723" d="M405.0 267.8h0"/>
<path stroke="#450457" d="M436.0 273.0h0"/>
<path stroke="#481668" d="M317.8 276.5h0"/>
<path stroke="#482576" d="M664.8 249.4h0"/>
<path stroke="#32658e" d="M452.6 257.9h0"/>
<path stroke="#471063" d="M257.1 277.6h0"/>
<path stroke="#3c508b" d="M320.2 289.7h0"/>
<path stroke="#fbe723" d="M419.7 255.1h0"/>
<path stroke="#3c508b" d="M265.0 302.1h0"/>
<path stroke="#6ccd5a" d="M337.2 314.8h0"/>
<path stroke="#fbe723" d="M378.2 291.1h0M407.8 265.5h0"/>
<path stroke="#34618d" d="M497.2 246.3h0"/>
<path stroke="#26ad81" d="M487.0 225.3h0"/>
<path stroke="#24878e" d="M329.0 301.3h0"/>
<path stroke="#450457" d="M409.1 272.9h0"/>
<path stroke="#414287" d="M477.1 259.9h0"/>
<path stroke="#e7e419" d="M397.7 274.2h0"/>
<path stroke="#450457" d="M274.8 273.0h0"/>
<path stroke="#fbe723" d="M402.8 269.8h0"/>
<path stroke="#460a5d" d="M236.8 276.1h0"/>
<path stroke="#450457" d="M383.6 273.0h0"/>
<path stroke="#2a788e" d="M471.0 247.6h0"/>
<path stroke="#460a5d" d="M397.2 273.1h0"/>
<path stroke="#481668" d="M454.0 270.5h0"/>
<path stroke="#38598c" d="M525.7 243.0h0"/>
<path stroke="#f1e51d" d="M403.0 269.7h0"/>
<path stroke="#287c8e" d="M307.4 306.0h0"/>
<path stroke="#472f7d" d="M536.3 257.9h0"/>
<path stroke="#3c508b" d="M206.1 313.0h0"/>
<path stroke="#1f968b" d="M478.4 236.6h0"/>
<path stroke="#2a788e" d="M320.6 300.8h0"/>
<path stroke="#433e85" d="M345.9 281.5h0"/>
<path stroke="#450457" d="M431.7 273.0h0M278.3 273.0h0"/>
<path stroke="#3bbb75" d="M446.8 244.5h0"/>
<path stroke="#450457" d="M406.2 273.0h0M457.1 273.0h0M184.1 273.0h0"/>
<path stroke="#fbe723" d="M403.0 269.6h0"/>
<path stroke="#2fb47c" d="M315.3 320.1h0"/>
<path stroke="#482576" d="M341.1 278.5h0"/>
<path stroke="#218f8d" d="M466.1 243.9h0"/>
<path stroke="#b2dd2d" d="M447.8 235.6h0"/>
<path stroke="#450457" d="M205.5 273.0h0M599.1 271.4h0"/>
<path stroke="#481b6d" d="M449.9 269.8h0"/>
<path stroke="#450457" d="M405.5 273.0h0"/>
<path stroke="#2ab07f" d="M476.2 230.3h0"/>
<path stroke="#3bbb75" d="M328.3 315.5h0"/>
<path stroke="#450457" d="M427.1 273.0h0"/>
<path stroke="#482071" d="M290.1 280.6h0"/>
<path stroke="#443983" d="M462.9 264.3h0"/>
<path stroke="#450457" d="M388.4 273.1h0"/>
<path stroke="#482576" d="M242.2 286.0h0"/>
<path stroke="#450457" d="M260.4 273.0h0M387.4 273.0h0"/>
<path stroke="#89d548" d="M453.3 234.3h0"/>
<path stroke="#482576" d="M495.1 264.1h0"/>
<path stroke="#3a548c" d="M443.0 263.3h0"/>
<path stroke="#fbe723" d="M407.9 265.3h0"/>
<path stroke="#450457" d="M490.2 273.0h0"/>
<path stroke="#482576" d="M329.6 279.3h0"/>
<path stroke="#450457" d="M401.2 273.0h0"/>
<path stroke="#460a5d" d="M402.5 273.0h0"/>
<path stroke="#450457" d="M466.6 273.0h0"/>
<path stroke="#460a5d" d="M493.9 271.6h0"/>
<path stroke="#450457" d="M247.5 273.0h0"/>
<path stroke="#f1e51d" d="M397.7 274.2h0"/>
<path stroke="#472f7d" d="M545.6 255.3h0"/>
<path stroke="#414287" d="M334.3 284.1h0"/>
<path stroke="#471063" d="M400.2 273.0h0"/>
<path stroke="#fbe723" d="M375.9 293.1h0"/>
<path stroke="#450457" d="M419.5 273.0h0M374.6 273.0h0M241.2 275.0h0"/>
<path stroke="#bddf26" d="M470.0 217.1h0"/>
<path stroke="#450457" d="M237.7 273.0h0"/>
<path stroke="#481b6d" d="M400.6 272.9h0"/>
<path stroke="#2a788e" d="M338.2 293.9h0"/>
<path stroke="#38598c" d="M472.5 255.9h0"/>
<path stroke="#4ac16d" d="M464.8 232.5h0"/>
<path stroke="#463480" d="M290.5 286.8h0"/>
<path stroke="#450457" d="M355.5 273.0h0M128.4 275.8h0M299.8 273.0h0"/>
<path stroke="#27808e" d="M451.6 253.1h0"/>
<path stroke="#450457" d="M542.9 271.1h0"/>
<path stroke="#2ab07f" d="M269.4 344.7h0"/>
<path stroke="#27808e" d="M295.0 312.6h0"/>
<path stroke="#450457" d="M506.3 273.0h0"/>
<path stroke="#fbe723" d="M430.4 245.6h0"/>
<path stroke="#27808e" d="M476.5 244.3h0"/>
<path stroke="#b2dd2d" d="M471.6 216.9h0"/>
<path stroke="#3e4c8a" d="M309.0 290.3h0"/>
<path stroke="#450457" d="M321.6 273.5h0"/>
<path stroke="#481668" d="M330.8 276.6h0"/>
<path stroke="#fbe723" d="M414.4 259.8h0"/>
<path stroke="#443983" d="M284.0 290.1h0"/>
<path stroke="#34618d" d="M474.2 253.0h0"/>
<path stroke="#fbe723" d="M396.9 274.9h0"/>
<path stroke="#481668" d="M295.7 277.9h0"/>
<path stroke="#fbe723" d="M378.2 291.1h0"/>
<path stroke="#450457" d="M390.7 273.0h0"/>
<path stroke="#fbe723" d="M407.5 265.7h0"/>
<path stroke="#2b748e" d="M458.8 253.1h0"/>
<path stroke="#450457" d="M468.0 272.4h0"/>
<path stroke="#3c508b" d="M645.9 221.4h0"/>
<path stroke="#2b748e" d="M293.5 308.8h0"/>
<path stroke="#26ad81" d="M479.9 228.9h0"/>
<path stroke="#52c569" d="M336.4 312.5h0"/>
<path stroke="#450457" d="M503.4 272.7h0M415.0 273.0h0"/>
<path stroke="#32658e" d="M470.1 253.5h0"/>
<path stroke="#3c508b" d="M449.2 262.5h0"/>
<path stroke="#2e6d8e" d="M513.1 238.2h0"/>
<path stroke="#460a5d" d="M397.4 273.1h0"/>
<path stroke="#24878e" d="M280.2 320.3h0"/>
<path stroke="#2d718e" d="M441.5 259.2h0"/>
<path stroke="#482071" d="M480.0 267.0h0"/>
<path stroke="#471063" d="M402.6 272.9h0"/>
<path stroke="#450457" d="M408.7 273.0h0"/>
<path stroke="#f1e51d" d="M403.2 269.5h0"/>
<path stroke="#38598c" d="M488.2 251.7h0"/>
<path stroke="#fbe723" d="M442.9 235.0h0M384.6 285.6h0"/>
<path stroke="#460a5d" d="M403.5 272.9h0"/>
<path stroke="#3bbb75" d="M335.7 311.0h0"/>
<path stroke="#450457" d="M489.3 273.0h0"/>
<path stroke="#1f9a8a" d="M351.6 295.2h0"/>
<path stroke="#450457" d="M431.7 273.0h0"/>
<path stroke="#30698e" d="M445.1 259.5h0"/>
<path stroke="#fbe723" d="M365.2 302.5h0"/>
<path stroke="#450457" d="M421.5 273.0h0"/>
<path stroke="#93d741" d="M443.5 240.6h0"/>
<path stroke="#63cb5f" d="M480.6 219.0h0"/>
<path stroke="#f1e51d" d="M385.7 284.4h0"/>
<path stroke="#450457" d="M546.0 273.0h0M401.3 273.0h0"/>
<path stroke="#6ccd5a" d="M358.7 300.3h0"/>
<path stroke="#c8e020" d="M454.5 229.0h0"/>
<path stroke="#414287" d="M321.0 286.7h0"/>
<path stroke="#3f4788" d="M304.4 290.2h0"/>
<path stroke="#fbe723" d="M404.5 268.3h0"/>
<path stroke="#2a788e" d="M628.8 194.0h0"/>
<path stroke="#450457" d="M167.5 273.5h0"/>
<path stroke="#472f7d" d="M230.0 292.6h0"/>
<path stroke="#472a7a" d="M338.4 279.5h0"/>
<path stroke="#f1e51d" d="M387.9 282.6h0"/>
<path stroke="#dde318" d="M370.0 296.8h0"/>
<path stroke="#30698e" d="M348.5 288.1h0"/>
<path stroke="#75d054" d="M327.5 322.6h0"/>
<path stroke="#450457" d="M468.1 272.6h0M368.2 273.0h0"/>
<path stroke="#38598c" d="M297.6 296.8h0"/>
<path stroke="#481b6d" d="M449.0 270.3h0"/>
<path stroke="#27808e" d="M285.2 315.5h0"/>
<path stroke="#dde318" d="M361.7 304.0h0"/>
<path stroke="#fbe723" d="M436.7 240.2h0"/>
<path stroke="#365d8d" d="M463.3 256.8h0"/>
<path stroke="#450457" d="M389.5 273.1h0"/>
<path stroke="#414287" d="M481.9 258.7h0"/>
<path stroke="#f1e51d" d="M404.6 268.3h0"/>
<path stroke="#482576" d="M301.0 281.5h0"/>
<path stroke="#3e4c8a" d="M238.2 304.5h0"/>
<path stroke="#463480" d="M459.0 265.4h0"/>
<path stroke="#7fd34e" d="M466.6 225.6h0"/>
<path stroke="#d2e21b" d="M310.2 344.7h0"/>
<path stroke="#fbe723" d="M381.4 288.3h0"/>
<path stroke="#1fa187" d="M356.9 294.3h0"/>
<path stroke="#32658e" d="M319.5 295.5h0"/>
<path stroke="#f1e51d" d="M417.6 257.1h0"/>
<path stroke="#460a5d" d="M568.6 269.9h0"/>
<path stroke="#2fb47c" d="M444.8 247.1h0"/>
<path stroke="#482071" d="M472.2 267.5h0"/>
<path stroke="#450457" d="M173.7 273.0h0"/>
<path stroke="#481b6d" d="M488.1 267.6h0"/>
<path stroke="#3bbb75" d="M445.0 246.0h0"/>
<path stroke="#450457" d="M401.9 273.0h0M391.3 273.1h0"/>
<path stroke="#fbe723" d="M389.4 281.4h0"/>
<path stroke="#450457" d="M306.1 273.0h0"/>
<path stroke="#481668" d="M485.6 269.3h0"/>
<path stroke="#fbe723" d="M400.7 271.6h0"/>
<path stroke="#93d741" d="M360.9 300.9h0"/>
<path stroke="#2fb47c" d="M323.7 315.4h0"/>
<path stroke="#9dd93b" d="M508.2 191.1h0"/>
<path stroke="#fbe723" d="M374.7 294.2h0"/>
<path stroke="#450457" d="M353.2 273.0h0"/>
<path stroke="#21a585" d="M357.4 294.3h0"/>
<path stroke="#42be71" d="M356.5 298.8h0"/>
<path stroke="#481668" d="M599.1 263.1h0"/>
<path stroke="#20928c" d="M450.5 250.4h0"/>
<path stroke="#f1e51d" d="M387.4 282.9h0"/>
<path stroke="#460a5d" d="M257.2 275.1h0"/>
<path stroke="#5ac864" d="M462.2 231.8h0"/>
<path stroke="#d2e21b" d="M426.5 250.5h0"/>
<path stroke="#2d718e" d="M494.9 242.0h0"/>
<path stroke="#3c508b" d="M566.0 237.0h0"/>
<path stroke="#460a5d" d="M400.7 273.0h0"/>
<path stroke="#5ac864" d="M348.1 306.0h0"/>
<path stroke="#27808e" d="M470.3 245.9h0"/>
<path stroke="#e7e419" d="M405.9 267.3h0"/>
<path stroke="#450457" d="M415.2 273.0h0"/>
<path stroke="#25838e" d="M456.0 250.6h0"/>
<path stroke="#450457" d="M414.9 273.0h0M407.8 273.0h0M410.5 273.0h0"/>
<path stroke="#24878e" d="M499.5 232.8h0"/>
<path stroke="#7fd34e" d="M464.0 227.4h0"/>
<path stroke="#fbe723" d="M461.5 219.3h0"/>
<path stroke="#63cb5f" d="M450.6 238.9h0"/>
<path stroke="#450457" d="M419.0 272.9h0M327.3 273.0h0M408.7 272.9h0"/>
<path stroke="#443983" d="M467.2 263.1h0"/>
<path stroke="#fbe723" d="M412.7 261.2h0"/>
<path stroke="#26ad81" d="M352.2 298.1h0"/>
<path stroke="#450457" d="M377.2 273.0h0M397.5 273.0h0"/>
<path stroke="#365d8d" d="M285.2 301.9h0"/>
<path stroke="#450457" d="M211.3 273.0h0"/>
<path stroke="#228b8d" d="M443.3 254.8h0"/>
<path stroke="#fbe723" d="M401.8 270.6h0"/>
<path stroke="#450457" d="M368.8 273.0h0M549.6 273.0h0M430.8 273.0h0"/>
<path stroke="#fbe723" d="M380.4 289.2h0"/>
<path stroke="#6ccd5a" d="M450.2 238.4h0"/>
<path stroke="#450457" d="M439.1 272.9h0"/>
<path stroke="#3e4c8a" d="M331.6 286.3h0"/>
<path stroke="#450457" d="M179.3 273.0h0"/>
<path stroke="#27808e" d="M287.7 314.5h0"/>
<path stroke="#450457" d="M412.0 273.0h0"/>
<path stroke="#1f9e89" d="M352.1 296.1h0"/>
<path stroke="#2b748e" d="M456.3 253.8h0"/>
<path stroke="#1f9a8a" d="M445.7 251.1h0"/>
<path stroke="#20928c" d="M462.4 244.6h0"/>
<path stroke="#27808e" d="M482.0 242.2h0"/>
<path stroke="#450457" d="M188.2 273.0h0"/>
<path stroke="#32658e" d="M481.7 250.1h0"/>
<path stroke="#fbe723" d="M377.4 291.7h0"/>
<path stroke="#450457" d="M193.5 273.0h0"/>
<path stroke="#2a788e" d="M231.0 331.4h0"/>
<path stroke="#bddf26" d="M436.8 243.2h0"/>
<path stroke="#460a5d" d="M400.3 273.0h0"/>
<path stroke="#482071" d="M308.8 279.3h0"/>
<path stroke="#287c8e" d="M508.2 233.4h0"/>
<path stroke="#e7e419" d="M391.3 279.6h0"/>
<path stroke="#fbe723" d="M373.0 295.7h0"/>
<path stroke="#472f7d" d="M284.3 286.8h0"/>
<path stroke="#fbe723" d="M411.9 261.9h0"/>
<path stroke="#f1e51d" d="M375.0 293.6h0"/>
<path stroke="#450457" d="M382.7 273.0h0M317.9 273.0h0"/>
<path stroke="#fbe723" d="M435.3 241.5h0"/>
<path stroke="#1f968b" d="M472.7 239.8h0"/>
<path stroke="#460a5d" d="M400.8 273.0h0"/>
<path stroke="#443983" d="M297.6 286.9h0"/>
<path stroke="#450457" d="M184.9 273.0h0"/>
<path stroke="#460a5d" d="M394.0 273.1h0"/>
<path stroke="#450457" d="M385.0 273.1h0"/>
<path stroke="#f1e51d" d="M403.1 269.5h0"/>
<path stroke="#38598c" d="M322.7 291.7h0"/>
<path stroke="#24878e" d="M207.3 349.6h0"/>
<path stroke="#482071" d="M339.4 277.6h0"/>
<path stroke="#450457" d="M453.1 273.0h0M290.1 274.2h0"/>
<path stroke="#443983" d="M332.6 282.6h0"/>
<path stroke="#2fb47c" d="M351.1 300.0h0"/>
<path stroke="#443983" d="M352.8 279.5h0"/>
<path stroke="#32658e" d="M360.0 284.0h0"/>
<path stroke="#450457" d="M545.2 273.0h0"/>
<path stroke="#e7e419" d="M432.9 244.5h0"/>
<path stroke="#6ccd5a" d="M456.5 234.6h0"/>
<path stroke="#287c8e" d="M293.8 310.6h0"/>
<path stroke="#365d8d" d="M314.5 294.3h0"/>
<path stroke="#218f8d" d="M441.1 254.7h0"/>
<path stroke="#433e85" d="M504.9 256.9h0"/>
<path stroke="#52c569" d="M434.0 250.9h0"/>
<path stroke="#42be71" d="M453.7 239.5h0"/>
<path stroke="#30698e" d="M347.6 288.5h0"/>
<path stroke="#e7e419" d="M402.4 270.2h0"/>
<path stroke="#2a788e" d="M442.8 257.8h0"/>
<path stroke="#23a983" d="M350.0 298.5h0"/>
<path stroke="#e7e419" d="M396.8 274.9h0"/>
<path stroke="#450457" d="M383.2 273.0h0"/>
<path stroke="#472a7a" d="M351.5 278.0h0"/>
<path stroke="#460a5d" d="M401.1 273.0h0"/>
<path stroke="#89d548" d="M261.8 371.3h0"/>
<path stroke="#1fa187" d="M435.3 255.1h0M462.4 241.2h0"/>
<path stroke="#450457" d="M410.9 272.9h0"/>
<path stroke="#443983" d="M442.7 266.8h0"/>
<path stroke="#9dd93b" d="M337.3 319.3h0"/>
<path stroke="#450457" d="M347.7 273.0h0M655.0 272.1h0M360.0 273.1h0M263.7 273.0h0"/>
<path stroke="#365d8d" d="M219.5 319.2h0"/>
<path stroke="#38598c" d="M450.2 260.6h0"/>
<path stroke="#e7e419" d="M421.9 253.8h0"/>
<path stroke="#d2e21b" d="M603.4 106.3h0"/>
<path stroke="#471063" d="M464.2 270.7h0"/>
<path stroke="#75d054" d="M456.9 233.1h0"/>
<path stroke="#365d8d" d="M349.6 285.8h0"/>
<path stroke="#fbe723" d="M395.2 276.3h0"/>
<path stroke="#450457" d="M417.6 273.0h0"/>
<path stroke="#bddf26" d="M460.0 225.0h0"/>
<path stroke="#fbe723" d="M390.0 280.9h0"/>
<path stroke="#2a788e" d="M237.2 329.3h0"/>
<path stroke="#f1e51d" d="M382.2 287.4h0"/>
<path stroke="#fbe723" d="M557.8 134.3h0"/>
<path stroke="#6ccd5a" d="M354.2 303.4h0"/>
<path stroke="#414287" d="M451.5 264.4h0"/>
<path stroke="#450457" d="M354.1 273.0h0"/>
<path stroke="#2ab07f" d="M432.8 254.4h0"/>
<path stroke="#fbe723" d="M430.8 245.4h0"/>
<path stroke="#f1e51d" d="M410.8 262.9h0"/>
<path stroke="#450457" d="M500.5 273.0h0"/>
<path stroke="#218f8d" d="M367.9 286.3h0"/>
<path stroke="#450457" d="M262.8 273.0h0M332.3 273.0h0M498.4 273.0h0"/>
<path stroke="#7fd34e" d="M323.1 326.9h0"/>
<path stroke="#2b748e" d="M481.5 245.9h0"/>
<path stroke="#450457" d="M401.0 273.0h0M405.6 273.0h0"/>
<path stroke="#2fb47c" d="M431.2 254.9h0"/>
<path stroke="#443983" d="M438.8 267.5h0"/>
<path stroke="#f1e51d" d="M397.7 274.2h0"/>
<path stroke="#2d718e" d="M434.2 261.9h0"/>
<path stroke="#471063" d="M492.4 270.4h0"/>
<path stroke="#e7e419" d="M441.3 237.6h0"/>
<path stroke="#450457" d="M409.1 273.0h0"/>
<path stroke="#34618d" d="M468.2 254.6h0"/>
<path stroke="#450457" d="M393.9 273.1h0"/>
<path stroke="#89d548" d="M360.7 300.3h0"/>
<path stroke="#3f4788" d="M269.5 296.3h0"/>
<path stroke="#1fa187" d="M347.5 298.6h0"/>
<path stroke="#481668" d="M457.7 270.5h0"/>
<path stroke="#450457" d="M409.3 273.0h0"/>
<path stroke="#3c508b" d="M493.1 252.5h0"/>
<path stroke="#472a7a" d="M328.9 280.2h0"/>
<path stroke="#2b748e" d="M369.5 283.1h0"/>
<path stroke="#414287" d="M455.9 263.4h0"/>
<path stroke="#2d718e" d="M354.4 287.6h0"/>
<path stroke="#25838e" d="M454.6 251.3h0"/>
<path stroke="#3a548c" d="M354.2 283.3h0"/>
<path stroke="#27808e" d="M332.7 297.6h0"/>
<path stroke="#35b779" d="M348.0 302.7h0"/>
<path stroke="#450457" d="M421.2 273.0h0M416.0 273.0h0"/>
<path stroke="#3a548c" d="M236.7 309.2h0"/>
<path stroke="#472a7a" d="M506.9 262.0h0"/>
<path stroke="#2b748e" d="M457.4 253.1h0"/>
<path stroke="#38598c" d="M451.8 260.3h0"/>
<path stroke="#450457" d="M358.3 273.1h0M340.1 273.0h0"/>
<path stroke="#472f7d" d="M334.4 280.3h0"/>
<path stroke="#3f4788" d="M513.6 252.2h0"/>
<path stroke="#228b8d" d="M370.3 285.0h0"/>
<path stroke="#450457" d="M324.5 273.0h0M395.3 273.1h0"/>
<path stroke="#e7e419" d="M459.1 222.2h0"/>
<path stroke="#433e85" d="M256.8 296.0h0"/>
<path stroke="#3a548c" d="M501.4 250.3h0"/>
<path stroke="#e7e419" d="M382.1 287.2h0"/>
<path stroke="#fbe723" d="M394.2 277.2h0"/>
<path stroke="#450457" d="M310.8 273.0h0M401.8 273.0h0M482.1 273.0h0"/>
<path stroke="#2a788e" d="M447.9 255.8h0"/>
<path stroke="#481668" d="M477.7 269.2h0"/>
<path stroke="#218f8d" d="M292.0 319.8h0"/>
<path stroke="#7fd34e" d="M440.9 243.4h0"/>
<path stroke="#472a7a" d="M330.8 279.7h0"/>
<path stroke="#1fa187" d="M360.2 292.3h0"/>
<path stroke="#450457" d="M471.5 273.0h0"/>
<path stroke="#482071" d="M341.8 277.5h0"/>
<path stroke="#460a5d" d="M340.3 274.0h0"/>
<path stroke="#443983" d="M496.1 258.8h0"/>
<path stroke="#463480" d="M575.1 249.7h0"/>
<path stroke="#24878e" d="M274.0 323.5h0"/>
<path stroke="#dde318" d="M422.9 253.2h0"/>
<path stroke="#fbe723" d="M389.7 281.2h0"/>
<path stroke="#2d718e" d="M499.1 240.9h0"/>
<path stroke="#463480" d="M449.0 266.5h0"/>
<path stroke="#93d741" d="M333.9 320.6h0"/>
<path stroke="#450457" d="M391.9 273.0h0"/>
<path stroke="#e7e419" d="M377.8 291.0h0"/>
<path stroke="#450457" d="M280.4 273.0h0"/>
<path stroke="#63cb5f" d="M440.4 245.6h0"/>
<path stroke="#482576" d="M486.7 265.5h0"/>
<path stroke="#450457" d="M254.4 273.9h0"/>
<path stroke="#3e4c8a" d="M254.6 301.6h0"/>
<path stroke="#481b6d" d="M477.3 268.1h0"/>
<path stroke="#482576" d="M316.2 280.3h0"/>
<path stroke="#f1e51d" d="M389.5 281.3h0"/>
<path stroke="#fbe723" d="M419.6 255.3h0"/>
<path stroke="#1fa187" d="M463.6 240.9h0"/>
<path stroke="#25838e" d="M432.9 259.7h0"/>
<path stroke="#460a5d" d="M303.4 274.4h0"/>
<path stroke="#1fa187" d="M284.9 329.9h0"/>
<path stroke="#450457" d="M341.8 273.0h0"/>
<path stroke="#38598c" d="M454.1 260.0h0"/>
<path stroke="#e7e419" d="M411.4 262.7h0"/>
<path stroke="#30698e" d="M357.3 285.6h0"/>
<path stroke="#365d8d" d="M434.6 264.0h0"/>
<path stroke="#450457" d="M396.9 273.1h0"/>
<path stroke="#472a7a" d="M335.1 279.3h0"/>
<path stroke="#f1e51d" d="M363.6 303.3h0"/>
<path stroke="#482576" d="M400.4 272.9h0"/>
<path stroke="#3c508b" d="M465.6 258.8h0"/>
<path stroke="#460a5d" d="M407.1 272.9h0"/>
<path stroke="#fbe723" d="M380.0 289.6h0"/>
<path stroke="#24878e" d="M450.0 252.5h0"/>
<path stroke="#218f8d" d="M357.0 291.3h0"/>
<path stroke="#463480" d="M447.9 266.4h0"/>
<path stroke="#25838e" d="M354.0 290.3h0"/>
<path stroke="#481668" d="M401.0 272.9h0"/>
<path stroke="#4ac16d" d="M336.9 311.6h0"/>
<path stroke="#218f8d" d="M587.6 193.2h0"/>
<path stroke="#32658e" d="M471.3 252.9h0"/>
<path stroke="#20928c" d="M464.8 243.4h0"/>
<path stroke="#2b748e" d="M340.2 293.0h0"/>
<path stroke="#24878e" d="M361.8 287.9h0"/>
<path stroke="#dde318" d="M391.3 279.4h0"/>
<path stroke="#f1e51d" d="M377.2 291.7h0M383.3 286.5h0"/>
<path stroke="#472f7d" d="M543.5 256.0h0"/>
<path stroke="#460a5d" d="M462.6 272.2h0"/>
<path stroke="#2ab07f" d="M479.9 228.7h0"/>
<path stroke="#2b748e" d="M358.7 286.3h0"/>
<path stroke="#e7e419" d="M417.1 257.8h0"/>
<path stroke="#450457" d="M377.1 273.1h0"/>
<path stroke="#460a5d" d="M149.0 278.2h0"/>
<path stroke="#fbe723" d="M384.4 285.7h0"/>
<path stroke="#e7e419" d="M466.6 216.7h0"/>
<path stroke="#b2dd2d" d="M432.2 247.4h0"/>
<path stroke="#3e4c8a" d="M445.2 263.9h0"/>
<path stroke="#52c569" d="M360.6 297.7h0"/>
<path stroke="#2d718e" d="M447.4 257.6h0"/>
<path stroke="#481668" d="M348.6 275.6h0"/>
<path stroke="#450457" d="M404.9 273.0h0M421.4 273.0h0"/>
<path stroke="#482071" d="M473.4 267.7h0"/>
<path stroke="#42be71" d="M358.2 298.0h0"/>
<path stroke="#443983" d="M468.1 263.0h0"/>
<path stroke="#f1e51d" d="M401.1 271.3h0"/>
<path stroke="#450457" d="M462.0 273.0h0"/>
<path stroke="#2b748e" d="M446.0 257.3h0"/>
<path stroke="#1fa187" d="M473.3 236.2h0"/>
<path stroke="#bddf26" d="M454.6 229.4h0"/>
<path stroke="#a8db34" d="M453.0 232.4h0"/>
<path stroke="#450457" d="M460.1 273.0h0"/>
<path stroke="#30698e" d="M479.3 250.0h0"/>
<path stroke="#450457" d="M474.7 273.0h0"/>
<path stroke="#30698e" d="M474.7 250.6h0"/>
<path stroke="#f1e51d" d="M385.8 284.2h0"/>
<path stroke="#20928c" d="M454.6 248.5h0"/>
<path stroke="#89d548" d="M454.8 232.8h0"/>
<path stroke="#3f4788" d="M360.3 280.2h0"/>
<path stroke="#460a5d" d="M453.0 272.2h0"/>
<path stroke="#2a788e" d="M347.1 291.2h0"/>
<path stroke="#b2dd2d" d="M433.9 246.2h0"/>
<path stroke="#f1e51d" d="M412.2 261.8h0"/>
<path stroke="#dde318" d="M382.8 286.5h0"/>
<path stroke="#450457" d="M392.1 273.0h0M178.0 273.0h0"/>
<path stroke="#e7e419" d="M444.2 235.3h0"/>
<path stroke="#25838e" d="M461.5 248.9h0"/>
<path stroke="#f1e51d" d="M388.4 282.1h0"/>
<path stroke="#93d741" d="M365.5 297.7h0"/>
<path stroke="#75d054" d="M435.7 247.9h0"/>
<path stroke="#450457" d="M316.4 273.0h0"/>
<path stroke="#30698e" d="M266.8 311.8h0"/>
<path stroke="#450457" d="M421.6 273.0h0"/>
<path stroke="#414287" d="M434.8 267.0h0"/>
<path stroke="#fbe723" d="M386.7 283.7h0"/>
<path stroke="#42be71" d="M325.0 318.1h0"/>
<path stroke="#30698e" d="M194.1 332.5h0"/>
<path stroke="#42be71" d="M458.2 236.9h0"/>
<path stroke="#482071" d="M440.1 269.7h0"/>
<path stroke="#433e85" d="M355.9 279.9h0"/>
<path stroke="#34618d" d="M439.3 262.3h0"/>
<path stroke="#f1e51d" d="M408.0 265.4h0"/>
<path stroke="#1f9e89" d="M220.5 359.8h0"/>
<path stroke="#3c508b" d="M459.2 260.3h0"/>
<path stroke="#e7e419" d="M402.8 269.9h0"/>
<path stroke="#34618d" d="M347.2 287.0h0"/>
<path stroke="#450457" d="M530.7 273.0h0"/>
<path stroke="#471063" d="M343.6 275.2h0"/>
<path stroke="#463480" d="M347.1 279.7h0"/>
<path stroke="#287c8e" d="M471.4 246.7h0"/>
<path stroke="#f1e51d" d="M409.3 264.3h0"/>
<path stroke="#23a983" d="M436.6 253.3h0"/>
<path stroke="#3bbb75" d="M447.3 244.6h0"/>
<path stroke="#fbe723" d="M436.8 240.2h0"/>
<path stroke="#463480" d="M445.1 266.9h0M456.9 265.8h0"/>
<path stroke="#450457" d="M515.3 273.0h0"/>
<path stroke="#471063" d="M613.5 265.4h0"/>
<path stroke="#fbe723" d="M419.8 255.2h0"/>
<path stroke="#24878e" d="M432.8 259.3h0"/>
<path stroke="#a8db34" d="M362.9 300.3h0"/>
<path stroke="#23a983" d="M351.7 298.2h0"/>
<path stroke="#482071" d="M499.5 265.1h0"/>
<path stroke="#2b748e" d="M273.9 315.6h0"/>
<path stroke="#9dd93b" d="M429.7 250.1h0"/>
<path stroke="#460a5d" d="M396.6 273.1h0"/>
<path stroke="#2d718e" d="M363.7 284.4h0"/>
<path stroke="#3a548c" d="M326.7 289.1h0"/>
<path stroke="#f1e51d" d="M392.9 278.3h0M389.9 280.8h0"/>
<path stroke="#450457" d="M311.7 273.0h0M492.6 273.0h0"/>
<path stroke="#460a5d" d="M401.5 273.0h0"/>
<path stroke="#c8e020" d="M402.9 270.0h0"/>
<path stroke="#fbe723" d="M380.6 288.9h0"/>
<path stroke="#e7e419" d="M388.2 282.2h0"/>
<path stroke="#365d8d" d="M136.5 338.0h0"/>
<path stroke="#32658e" d="M369.5 281.4h0"/>
<path stroke="#21a585" d="M437.5 253.4h0"/>
<path stroke="#27808e" d="M438.5 258.3h0"/>
<path stroke="#471063" d="M287.6 276.6h0"/>
<path stroke="#fbe723" d="M409.7 263.8h0"/>
<path stroke="#450457" d="M389.9 273.1h0M400.1 273.0h0"/>
<path stroke="#f1e51d" d="M390.5 280.3h0"/>
<path stroke="#450457" d="M433.8 273.0h0"/>
<path stroke="#482576" d="M361.0 276.6h0"/>
<path stroke="#dde318" d="M403.9 269.0h0"/>
<path stroke="#482576" d="M447.0 268.7h0"/>
<path stroke="#450457" d="M553.0 273.0h0"/>
<path stroke="#2a788e" d="M253.2 324.6h0"/>
<path stroke="#dde318" d="M378.0 290.4h0"/>
<path stroke="#481b6d" d="M441.3 270.5h0"/>
<path stroke="#e7e419" d="M401.0 271.4h0"/>
<path stroke="#460a5d" d="M357.4 273.8h0"/>
<path stroke="#450457" d="M393.9 273.0h0M427.5 273.0h0"/>
<path stroke="#a8db34" d="M448.9 235.1h0"/>
<path stroke="#450457" d="M395.2 273.1h0"/>
<path stroke="#27808e" d="M449.4 254.0h0"/>
<path stroke="#75d054" d="M363.9 297.1h0"/>
<path stroke="#fbe723" d="M366.6 301.3h0"/>
<path stroke="#3e4c8a" d="M252.1 301.8h0"/>
<path stroke="#443983" d="M437.5 267.7h0"/>
<path stroke="#450457" d="M390.5 273.0h0"/>
<path stroke="#23a983" d="M436.4 253.5h0"/>
<path stroke="#d2e21b" d="M363.3 302.3h0"/>
<path stroke="#e7e419" d="M425.2 250.9h0"/>
<path stroke="#21a585" d="M429.2 257.5h0"/>
<path stroke="#fbe723" d="M446.2 232.5h0"/>
<path stroke="#3e4c8a" d="M500.8 252.5h0"/>
<path stroke="#30698e" d="M345.0 288.7h0"/>
<path stroke="#e7e419" d="M379.9 289.0h0"/>
<path stroke="#2b748e" d="M432.6 261.7h0"/>
<path stroke="#4ac16d" d="M431.9 252.5h0"/>
<path stroke="#6ccd5a" d="M363.4 297.3h0"/>
<path stroke="#433e85" d="M461.8 263.0h0"/>
<path stroke="#25838e" d="M449.2 253.7h0"/>
<path stroke="#e7e419" d="M384.5 285.2h0"/>
<path stroke="#a8db34" d="M440.3 241.6h0"/>
<path stroke="#365d8d" d="M365.1 281.4h0"/>
<path stroke="#1f9a8a" d="M296.6 321.3h0"/>
<path stroke="#3e4c8a" d="M494.3 254.3h0"/>
<path stroke="#482576" d="M457.6 267.7h0"/>
<path stroke="#471063" d="M356.3 274.4h0"/>
<path stroke="#30698e" d="M503.1 242.5h0"/>
<path stroke="#d2e21b" d="M423.4 253.2h0"/>
<path stroke="#dde318" d="M364.9 301.4h0"/>
<path stroke="#38598c" d="M341.4 286.6h0"/>
<path stroke="#b2dd2d" d="M402.0 270.7h0"/>
<path stroke="#414287" d="M430.2 267.9h0"/>
<path stroke="#472a7a" d="M443.5 268.4h0"/>
<path stroke="#f1e51d" d="M376.4 292.3h0"/>
<path stroke="#3a548c" d="M330.8 288.3h0"/>
<path stroke="#228b8d" d="M282.4 321.0h0"/>
<path stroke="#21a585" d="M364.1 291.0h0"/>
<path stroke="#dde318" d="M416.0 259.1h0"/>
<path stroke="#fbe723" d="M394.6 276.9h0"/>
<path stroke="#481668" d="M430.7 271.4h0"/>
<path stroke="#e7e419" d="M393.8 277.4h0"/>
<path stroke="#433e85" d="M327.8 284.4h0M232.8 300.2h0"/>
<path stroke="#450457" d="M377.6 273.0h0"/>
<path stroke="#e7e419" d="M391.8 279.1h0"/>
<path stroke="#2d718e" d="M432.5 262.2h0"/>
<path stroke="#52c569" d="M439.0 247.5h0"/>
<path stroke="#dde318" d="M396.7 275.0h0"/>
<path stroke="#1f9a8a" d="M366.9 288.2h0"/>
<path stroke="#c8e020" d="M377.4 290.2h0"/>
<path stroke="#fbe723" d="M328.6 334.3h0"/>
<path stroke="#433e85" d="M435.9 267.3h0"/>
<path stroke="#63cb5f" d="M438.1 247.3h0"/>
<path stroke="#34618d" d="M459.1 257.2h0"/>
<path stroke="#b2dd2d" d="M425.1 253.0h0"/>
<path stroke="#27808e" d="M371.4 283.3h0"/>
<path stroke="#481668" d="M350.8 275.2h0"/>
<path stroke="#1f9a8a" d="M368.0 287.5h0"/>
<path stroke="#414287" d="M273.2 294.0h0"/>
<path stroke="#fbe723" d="M407.0 266.2h0"/>
<path stroke="#24878e" d="M277.2 322.8h0"/>
<path stroke="#d2e21b" d="M388.6 281.5h0"/>
<path stroke="#450457" d="M455.5 272.8h0"/>
<path stroke="#20928c" d="M374.2 284.2h0"/>
<path stroke="#b2dd2d" d="M417.5 258.9h0"/>
<path stroke="#27808e" d="M493.6 238.0h0"/>
<path stroke="#228b8d" d="M332.9 300.3h0"/>
<path stroke="#27808e" d="M493.5 237.8h0"/>
<path stroke="#38598c" d="M462.1 258.3h0"/>
<path stroke="#472f7d" d="M466.3 265.5h0"/>
<path stroke="#f1e51d" d="M406.3 266.9h0"/>
<path stroke="#dde318" d="M412.1 262.3h0"/>
<path stroke="#460a5d" d="M488.0 271.7h0"/>
<path stroke="#472f7d" d="M362.8 277.2h0"/>
<path stroke="#460a5d" d="M573.9 270.4h0"/>
<path stroke="#c8e020" d="M371.2 295.2h0"/>
<path stroke="#2a788e" d="M463.9 250.9h0"/>
<path stroke="#c8e020" d="M407.7 266.0h0"/>
<path stroke="#f1e51d" d="M419.6 255.4h0"/>
<path stroke="#d2e21b" d="M375.1 292.6h0"/>
<path stroke="#450457" d="M386.9 273.1h0"/>
<path stroke="#e7e419" d="M396.2 275.4h0"/>
<path stroke="#414287" d="M341.4 282.6h0"/>
<path stroke="#dde318" d="M390.4 280.2h0"/>
<path stroke="#450457" d="M406.7 272.9h0"/>
<path stroke="#e7e419" d="M420.7 254.9h0"/>
<path stroke="#32658e" d="M308.4 298.7h0"/>
<path stroke="#89d548" d="M462.2 227.8h0"/>
<path stroke="#1fa187" d="M310.9 316.5h0"/>
<path stroke="#b2dd2d" d="M390.2 279.9h0"/>
<path stroke="#3f4788" d="M452.2 263.3h0"/>
<path stroke="#b2dd2d" d="M442.5 239.2h0"/>
<path stroke="#38598c" d="M427.4 266.3h0M361.4 281.9h0"/>
<path stroke="#c8e020" d="M388.0 281.8h0"/>
<path stroke="#3f4788" d="M348.9 282.3h0"/>
<path stroke="#1fa187" d="M424.2 260.7h0"/>
<path stroke="#3a548c" d="M432.6 265.5h0"/>
<path stroke="#c8e020" d="M423.0 253.8h0"/>
<path stroke="#fbe723" d="M401.2 271.2h0"/>
<path stroke="#482071" d="M433.1 270.6h0"/>
<path stroke="#9dd93b" d="M375.4 290.5h0"/>
<path stroke="#b2dd2d" d="M397.4 274.3h0"/>
<path stroke="#5ac864" d="M366.0 294.3h0"/>
<path stroke="#450457" d="M338.7 273.0h0"/>
<path stroke="#75d054" d="M219.1 396.0h0"/>
<path stroke="#c8e020" d="M369.7 296.3h0"/>
<path stroke="#24878e" d="M310.7 308.2h0"/>
<path stroke="#2a788e" d="M374.0 281.6h0"/>
<path stroke="#450457" d="M641.1 273.0h0"/>
<path stroke="#52c569" d="M374.1 288.7h0"/>
<path stroke="#25838e" d="M450.0 253.0h0"/>
<path stroke="#c8e020" d="M350.8 311.9h0"/>
<path stroke="#38598c" d="M653.5 213.8h0"/>
<path stroke="#481b6d" d="M364.1 275.4h0"/>
<path stroke="#b2dd2d" d="M400.3 272.1h0"/>
<path stroke="#e7e419" d="M383.6 286.0h0"/>
<path stroke="#3bbb75" d="M438.5 249.8h0"/>
<path stroke="#472a7a" d="M437.2 268.9h0"/>
<path stroke="#6ccd5a" d="M401.4 271.4h0"/>
<path stroke="#450457" d="M395.1 273.0h0"/>
<path stroke="#42be71" d="M391.1 277.9h0"/>
<path stroke="#34618d" d="M478.5 251.5h0"/>
<path stroke="#c8e020" d="M419.6 256.6h0"/>
<path stroke="#2a788e" d="M429.5 262.4h0"/>
<path stroke="#463480" d="M367.9 277.0h0"/>
<path stroke="#1fa187" d="M366.8 289.1h0"/>
<path stroke="#c8e020" d="M381.4 287.1h0"/>
<path stroke="#20928c" d="M242.6 342.1h0"/>
<path stroke="#38598c" d="M399.1 273.0h0"/>
<path stroke="#e7e419" d="M413.2 261.2h0"/>
<path stroke="#21a585" d="M444.4 249.9h0"/>
<path stroke="#3a548c" d="M366.7 280.3h0"/>
<path stroke="#6ccd5a" d="M352.9 304.2h0"/>
<path stroke="#38598c" d="M367.5 280.5h0"/>
<path stroke="#93d741" d="M382.0 285.5h0"/>
<path stroke="#c8e020" d="M412.4 262.3h0"/>
<path stroke="#482071" d="M427.3 271.0h0"/>
<path stroke="#fbe723" d="M414.6 259.6h0"/>
<path stroke="#24878e" d="M422.8 263.4h0"/>
<path stroke="#c8e020" d="M408.7 265.3h0"/>
<path stroke="#471063" d="M365.2 274.3h0"/>
<path stroke="#450457" d="M527.6 273.0h0"/>
<path stroke="#89d548" d="M399.1 273.0h0"/>
<path stroke="#fbe723" d="M405.5 267.4h0"/>
<path stroke="#dde318" d="M428.3 248.9h0"/>
<path stroke="#fbe723" d="M396.5 275.3h0"/>
<path stroke="#3c508b" d="M345.7 284.4h0"/>
<path stroke="#63cb5f" d="M375.9 288.5h0"/>
<path stroke="#32658e" d="M450.7 258.4h0"/>
<path stroke="#287c8e" d="M303.3 307.1h0"/>
<path stroke="#481b6d" d="M428.8 271.1h0"/>
<path stroke="#287c8e" d="M360.2 286.9h0"/>
<path stroke="#3c508b" d="M365.7 280.3h0"/>
<path stroke="#7fd34e" d="M403.1 270.2h0"/>
<path stroke="#2b748e" d="M341.1 292.1h0"/>
<path stroke="#63cb5f" d="M370.2 292.1h0"/>
<path stroke="#482071" d="M354.9 276.5h0"/>
<path stroke="#25838e" d="M419.7 264.9h0"/>
<path stroke="#482071" d="M370.2 275.2h0"/>
<path stroke="#9dd93b" d="M388.2 281.1h0"/>
<path stroke="#2ab07f" d="M377.9 284.8h0"/>
<path stroke="#365d8d" d="M375.1 279.0h0"/>
<path stroke="#2ab07f" d="M418.5 262.3h0"/>
<path stroke="#30698e" d="M428.6 264.4h0"/>
<path stroke="#2e6d8e" d="M421.3 266.1h0"/>
<path stroke="#460a5d" d="M402.2 273.0h0"/>
<path stroke="#bddf26" d="M265.1 378.7h0"/>
<path stroke="#fbe723" d="M404.3 268.5h0"/>
<path stroke="#482071" d="M300.4 281.1h0"/>
<path stroke="#287c8e" d="M467.6 248.2h0"/>
<path stroke="#471063" d="M435.6 271.8h0"/>
<path stroke="#1f9a8a" d="M415.3 265.4h0"/>
<path stroke="#52c569" d="M416.4 262.0h0"/>
<path stroke="#dde318" d="M393.3 277.8h0"/>
<path stroke="#27808e" d="M380.9 279.9h0"/>
<path stroke="#3e4c8a" d="M421.0 268.7h0"/>
<path stroke="#e7e419" d="M384.4 285.3h0"/>
<path stroke="#3a548c" d="M416.2 269.1h0"/>
<path stroke="#433e85" d="M378.8 276.1h0"/>
<path stroke="#dde318" d="M384.6 285.0h0"/>
<path stroke="#25838e" d="M377.8 281.3h0"/>
<path stroke="#75d054" d="M402.3 270.8h0"/>
<path stroke="#c8e020" d="M394.1 277.0h0"/>
<path stroke="#34618d" d="M371.8 280.2h0"/>
<path stroke="#1f9a8a" d="M375.6 284.1h0"/>
<path stroke="#35b779" d="M422.7 259.2h0"/>
<path stroke="#472f7d" d="M417.1 271.0h0"/>
<path stroke="#63cb5f" d="M424.7 256.0h0"/>
<path stroke="#463480" d="M459.1 265.4h0"/>
<path stroke="#228b8d" d="M352.0 292.6h0"/>
<path stroke="#52c569" d="M457.4 236.0h0"/>
<path stroke="#26ad81" d="M441.3 250.1h0"/>
<path stroke="#3bbb75" d="M429.1 255.2h0"/>
<path stroke="#b2dd2d" d="M396.6 274.9h0"/>
<path stroke="#365d8d" d="M371.1 280.1h0"/>
<path stroke="#f1e51d" d="M409.2 264.4h0"/>
<path stroke="#bddf26" d="M378.4 289.3h0"/>
<path stroke="#1f9e89" d="M400.8 272.2h0"/>
<path stroke="#63cb5f" d="M404.0 269.8h0"/>
<path stroke="#93d741" d="M417.4 259.5h0"/>
<path stroke="#e7e419" d="M414.9 259.8h0"/>
<path stroke="#471063" d="M379.2 273.6h0"/>
<path stroke="#443983" d="M300.8 287.0h0"/>
<path stroke="#2b748e" d="M412.9 268.3h0"/>
<path stroke="#3bbb75" d="M382.5 282.9h0"/>
<path stroke="#2a788e" d="M384.0 278.3h0"/>
<path stroke="#9dd93b" d="M408.6 265.9h0"/>
<path stroke="#482071" d="M434.6 270.4h0"/>
<path stroke="#3e4c8a" d="M399.3 273.0h0"/>
<path stroke="#460a5d" d="M433.2 272.5h0"/>
<path stroke="#2fb47c" d="M425.9 257.7h0"/>
<path stroke="#450457" d="M312.0 273.0h0M490.4 273.0h0"/>
<path stroke="#35b779" d="M371.3 289.0h0"/>
<path stroke="#5ac864" d="M385.6 281.8h0"/>
<path stroke="#e7e419" d="M386.6 283.5h0"/>
<path stroke="#34618d" d="M426.1 265.8h0"/>
<path stroke="#c8e020" d="M411.4 263.1h0"/>
<path stroke="#472a7a" d="M445.7 268.5h0"/>
<path stroke="#42be71" d="M458.7 236.6h0"/>
<path stroke="#287c8e" d="M386.6 277.5h0"/>
<path stroke="#5ac864" d="M402.4 270.8h0"/>
<path stroke="#2b748e" d="M410.6 269.2h0"/>
<path stroke="#481668" d="M370.0 274.5h0"/>
<path stroke="#228b8d" d="M404.0 270.9h0"/>
<path stroke="#93d741" d="M415.6 261.0h0"/>
<path stroke="#3f4788" d="M423.4 268.7h0"/>
<path stroke="#481b6d" d="M412.1 272.3h0"/>
<path stroke="#463480" d="M374.1 276.3h0"/>
<path stroke="#2b748e" d="M378.2 279.9h0"/>
<path stroke="#2ab07f" d="M397.7 273.8h0"/>
<path stroke="#75d054" d="M386.9 281.5h0"/>
<path stroke="#f1e51d" d="M394.1 277.3h0"/>
<path stroke="#2ab07f" d="M388.9 278.6h0"/>
<path stroke="#471063" d="M383.0 273.5h0"/>
<path stroke="#3f4788" d="M399.9 272.9h0"/>
<path stroke="#460a5d" d="M286.6 275.4h0"/>
<path stroke="#2e6d8e" d="M392.2 275.1h0"/>
<path stroke="#3bbb75" d="M417.4 262.2h0"/>
<path stroke="#27808e" d="M390.2 276.3h0"/>
<path stroke="#7fd34e" d="M407.6 267.0h0"/>
<path stroke="#450457" d="M501.5 273.0h0M253.7 273.0h0M539.9 273.0h0M304.3 273.0h0M368.1 273.0h0M247.5 273.0h0M568.7 273.0h0M272.3 273.0h0M378.4 273.0h0M536.1 273.0h0M556.7 273.0h0M292.8 273.0h0M291.5 273.0h0M525.8 273.0h0M398.5 273.0h0M478.0 273.0h0M193.8 273.0h0M360.5 273.0h0M281.9 273.0h0M187.1 273.0h0M418.6 273.0h0M176.1 273.0h0M292.9 273.0h0M334.3 273.0h0M246.9 273.0h0M458.2 273.0h0M258.4 273.0h0M485.7 273.0h0M302.0 273.0h0M204.1 273.0h0M555.3 273.0h0M199.3 273.0h0M469.5 273.0h0M233.7 273.0h0M187.0 273.0h0M520.3 273.0h0M407.2 273.0h0M516.2 273.0h0M303.3 273.0h0M339.2 273.0h0M614.5 273.0h0M181.1 273.0h0M202.7 273.0h0M386.8 273.0h0M235.2 273.0h0M491.4 273.0h0M420.3 273.0h0M538.9 273.0h0M445.4 273.0h0M326.3 273.0h0M510.7 273.0h0M385.7 273.0h0M214.6 273.0h0M497.1 273.0h0M425.5 273.0h0M181.5 273.0h0M519.6 273.0h0M509.5 273.0h0M354.1 273.0h0M280.8 273.0h0M473.5 273.0h0M261.5 273.0h0M534.9 273.0h0M420.5 273.0h0M325.3 273.0h0M271.6 273.0h0M176.7 273.0h0M512.4 273.0h0M256.6 273.0h0M193.3 273.0h0M192.1 273.0h0M489.1 273.0h0M191.2 273.0h0M369.9 273.0h0M314.6 273.0h0M580.6 273.0h0M330.5 273.0h0M337.7 273.0h0M408.8 273.0h0M228.4 273.0h0M502.6 273.0h0M295.2 273.0h0M391.9 273.0h0M261.9 273.0h0M265.5 273.0h0M380.5 273.0h0M383.6 273.0h0M224.0 273.0h0M580.8 273.0h0M245.9 273.0h0M356.2 273.0h0M521.6 273.0h0M523.8 273.0h0M455.3 273.0h0M231.7 273.0h0M352.5 273.0h0M258.9 273.0h0M468.6 273.0h0M274.2 273.0h0M381.0 273.0h0M541.0 273.0h0M500.0 273.0h0M521.6 273.0h0M362.6 273.0h0M502.0 273.0h0M462.2 273.0h0M208.9 273.0h0M395.0 273.0h0M377.2 273.0h0M375.9 273.0h0M205.8 273.0h0M297.3 273.0h0M341.0 273.0h0M266.2 273.0h0M290.2 273.0h0M539.7 273.0h0M180.4 273.0h0M276.8 273.0h0M262.1 273.0h0M250.6 273.0h0M403.4 273.0h0M471.3 273.0h0M360.1 273.0h0M294.0 273.0h0M505.6 273.0h0M422.0 273.0h0M458.8 273.0h0M433.4 273.0h0M188.8 273.0h0M376.5 273.0h0M386.9 273.0h0M265.5 273.0h0M516.1 273.0h0M422.9 273.0h0M463.4 273.0h0M522.6 273.0h0M256.4 273.0h0M267.0 273.0h0M473.9 273.0h0M314.9 273.0h0M382.2 273.0h0M453.8 273.0h0M437.2 273.0h0M465.6 273.0h0M362.1 273.0h0M398.1 273.0h0M536.5 273.0h0M200.1 273.0h0M256.8 273.0h0M327.9 273.0h0M446.8 273.0h0M233.1 273.0h0M347.5 273.0h0M467.8 273.0h0M476.3 273.0h0M516.4 273.0h0M245.6 273.0h0M176.2 273.0h0M273.6 273.0h0M493.3 273.0h0M314.6 273.0h0M194.7 273.0h0M296.5 273.0h0M458.3 273.0h0M318.0 273.0h0M370.6 273.0h0M417.8 273.0h0M512.6 273.0h0M217.0 273.0h0M367.1 273.0h0M525.8 273.0h0M369.6 273.0h0M223.0 273.0h0M462.8 273.0h0M610.4 273.0h0M197.7 273.0h0M346.3 273.0h0M206.7 273.0h0M341.9 273.0h0M294.4 273.0h0M359.7 273.0h0M423.8 273.0h0M371.2 273.0h0M225.1 273.0h0M272.0 273.0h0M256.5 273.0h0M262.6 273.0h0M556.3 273.0h0M258.1 273.0h0M230.2 273.0h0M357.6 273.0h0M377.7 273.0h0M374.5 273.0h0M541.5 273.0h0M419.6 273.0h0M223.1 273.0h0M281.3 273.0h0M486.4 273.0h0M274.3 273.0h0M325.0 273.0h0M277.6 273.0h0M184.1 273.0h0M191.7 273.0h0M180.0 273.0h0M379.5 273.0h0M440.2 273.0h0M280.4 273.0h0M247.0 273.0h0M456.6 273.0h0M463.4 273.0h0M325.5 273.0h0M475.5 273.0h0M504.2 273.0h0M300.8 273.0h0M466.7 273.0h0M309.9 273.0h0M514.9 273.0h0M547.9 273.0h0M268.8 273.0h0M305.6 273.0h0M403.6 273.0h0M425.9 273.0h0M269.5 273.0h0M339.3 273.0h0M342.5 273.0h0M294.2 273.0h0M526.1 273.0h0M313.5 273.0h0M222.3 273.0h0M524.0 273.0h0M284.9 273.0h0M321.4 273.0h0M295.6 273.0h0M236.8 273.0h0M451.6 273.0h0M274.8 273.0h0M547.7 273.0h0M195.7 273.0h0M261.3 273.0h0M533.6 273.0h0M193.9 273.0h0M337.8 273.0h0M523.4 273.0h0M318.0 273.0h0M216.8 273.0h0M383.9 273.0h0M486.6 273.0h0M255.0 273.0h0M403.8 273.0h0M174.0 273.0h0M235.6 273.0h0M178.5 273.0h0M591.1 273.0h0M204.1 273.0h0M462.6 273.0h0M361.8 273.0h0M275.5 273.0h0M557.2 273.0h0M234.4 273.0h0M438.4 273.0h0M349.4 273.0h0M255.1 273.0h0M180.5 273.0h0M328.4 273.0h0M531.6 273.0h0M312.8 273.0h0M629.7 273.0h0M398.6 273.0h0M358.8 273.0h0M345.6 273.0h0M395.8 273.0h0M369.4 273.0h0M381.5 273.0h0M528.3 273.0h0M222.9 273.0h0M208.1 273.0h0M402.5 273.0h0M244.6 273.0h0M407.9 273.0h0M175.9 273.0h0M224.4 273.0h0M400.4 273.0h0M454.8 273.0h0M405.8 273.0h0M548.9 273.0h0M359.7 273.0h0M493.3 273.0h0M450.8 273.0h0M250.3 273.0h0M542.2 273.0h0M299.6 273.0h0M277.1 273.0h0M307.2 273.0h0M399.7 273.0h0M331.1 273.0h0M289.6 273.0h0M274.4 273.0h0M400.5 273.0h0M459.6 273.0h0M355.6 273.0h0M446.0 273.0h0M358.9 273.0h0M457.2 273.0h0M416.9 273.0h0M343.0 273.0h0M426.8 273.0h0M399.0 273.0h0M375.1 273.0h0M376.5 273.0h0M296.6 273.0h0M263.8 273.0h0M235.3 273.0h0M377.5 273.0h0M425.4 273.0h0M181.7 273.0h0M301.2 273.0h0M451.8 273.0h0M417.7 273.0h0M333.4 273.0h0M385.4 273.0h0M402.2 273.0h0M179.6 273.0h0M442.8 273.0h0M359.5 273.0h0M482.6 273.0h0M222.5 273.0h0M356.7 273.0h0M202.1 273.0h0M347.4 273.0h0M231.3 273.0h0M556.2 273.0h0M549.8 273.0h0M401.7 273.0h0M267.9 273.0h0M307.7 273.0h0M383.9 273.0h0M429.3 273.0h0M348.3 273.0h0M515.6 273.0h0M405.7 273.0h0M187.1 273.0h0M465.1 273.0h0M524.3 273.0h0M327.7 273.0h0M451.1 273.0h0M225.8 273.0h0M214.7 273.0h0M504.5 273.0h0M498.7 273.0h0M468.4 273.0h0M351.8 273.0h0M423.4 273.0h0M295.3 273.0h0M181.1 273.0h0M358.2 273.0h0M265.1 273.0h0M515.5 273.0h0M437.9 273.0h0M402.8 273.0h0M557.0 273.0h0M244.0 273.0h0M415.7 273.0h0M285.4 273.0h0M434.6 273.0h0M312.3 273.0h0M239.9 273.0h0M239.3 273.0h0M295.5 273.0h0M325.4 273.0h0M241.2 273.0h0M208.3 273.0h0M327.7 273.0h0M440.1 273.0h0M338.3 273.0h0M209.8 273.0h0M445.0 273.0h0M360.5 273.0h0M487.5 273.0h0M419.4 273.0h0M420.0 273.0h0M509.9 273.0h0M351.7 273.0h0M259.4 273.0h0M242.6 273.0h0M444.0 273.0h0M235.9 273.0h0M514.6 273.0h0M259.7 273.0h0M555.4 273.0h0M201.4 273.0h0M419.6 273.0h0M266.4 273.0h0M474.9 273.0h0M321.3 273.0h0M305.1 273.0h0M374.9 273.0h0M214.1 273.0h0M529.6 273.0h0M443.7 273.0h0M485.6 273.0h0M213.2 273.0h0M378.5 273.0h0M327.7 273.0h0M370.4 273.0h0M505.4 273.0h0M543.9 273.0h0M304.9 273.0h0M401.5 273.0h0M499.8 273.0h0M500.9 273.0h0M538.0 273.0h0M316.5 273.0h0M317.5 273.0h0M431.4 273.0h0M551.4 273.0h0M352.9 273.0h0M186.4 273.0h0M373.8 273.0h0M288.2 273.0h0M390.8 273.0h0M466.3 273.0h0M205.3 273.0h0M295.5 273.0h0M429.2 273.0h0M420.4 273.0h0M589.9 273.0h0M541.9 273.0h0M302.6 273.0h0M364.8 273.0h0M365.4 273.0h0M466.8 273.0h0M462.6 273.0h0M350.2 273.0h0M216.7 273.0h0M498.1 273.0h0M542.3 273.0h0M489.3 273.0h0M330.9 273.0h0M338.8 273.0h0M215.9 273.0h0M245.3 273.0h0M179.0 273.0h0M264.8 273.0h0M367.0 273.0h0M440.8 273.0h0M176.7 273.0h0M480.9 273.0h0M518.0 273.0h0M453.9 273.0h0M348.4 273.0h0M200.5 273.0h0M283.9 273.0h0M367.1 273.0h0M173.4 273.0h0M402.0 273.0h0M314.9 273.0h0M392.4 273.0h0M362.8 273.0h0M543.3 273.0h0M254.3 273.0h0M543.9 273.0h0M229.3 273.0h0M251.3 273.0h0M470.6 273.0h0M313.6 273.0h0M407.8 273.0h0M182.5 273.0h0M371.4 273.0h0M391.6 273.0h0M465.1 273.0h0M517.7 273.0h0M224.3 273.0h0M308.9 273.0h0M184.7 273.0h0M422.2 273.0h0M410.6 273.0h0M440.2 273.0h0M369.0 273.0h0M228.7 273.0h0M206.0 273.0h0M463.6 273.0h0M307.1 273.0h0M409.0 273.0h0M415.5 273.0h0M375.8 273.0h0M182.4 273.0h0M325.1 273.0h0M372.5 273.0h0M466.8 273.0h0M413.8 273.0h0M445.3 273.0h0M339.6 273.0h0M516.2 273.0h0M452.8 273.0h0M345.1 273.0h0M268.0 273.0h0M350.0 273.0h0M250.5 273.0h0M381.2 273.0h0M344.8 273.0h0M414.8 273.0h0M324.9 273.0h0M524.8 273.0h0M183.5 273.0h0M509.8 273.0h0M463.9 273.0h0M501.3 273.0h0M461.0 273.0h0M407.8 273.0h0M534.2 273.0h0M395.4 273.0h0M334.9 273.0h0M517.1 273.0h0M213.3 273.0h0M352.5 273.0h0M494.0 273.0h0M545.6 273.0h0M473.8 273.0h0M552.4 273.0h0M471.9 273.0h0M426.1 273.0h0M550.7 273.0h0M590.4 273.0h0M551.2 273.0h0M417.0 273.0h0M310.1 273.0h0M369.7 273.0h0M314.6 273.0h0M268.7 273.0h0M255.8 273.0h0M248.7 273.0h0M459.1 273.0h0M268.0 273.0h0M291.2 273.0h0M361.7 273.0h0M527.8 273.0h0M466.1 273.0h0M297.0 273.0h0M311.2 273.0h0M248.9 273.0h0M502.9 273.0h0M366.7 273.0h0M331.1 273.0h0M269.0 273.0h0M345.7 273.0h0M209.1 273.0h0M452.5 273.0h0M318.4 273.0h0M467.8 273.0h0M433.9 273.0h0M317.4 273.0h0M339.9 273.0h0M483.9 273.0h0M312.6 273.0h0M238.3 273.0h0M474.7 273.0h0M222.7 273.0h0M358.7 273.0h0M521.4 273.0h0M449.8 273.0h0M329.8 273.0h0M438.1 273.0h0M231.5 273.0h0M526.7 273.0h0M386.0 273.0h0M390.1 273.0h0M338.3 273.0h0M524.3 273.0h0M288.5 273.0h0M567.1 273.0h0M264.9 273.0h0M416.0 273.0h0M248.7 273.0h0M365.4 273.0h0M417.0 273.0h0M428.5 273.0h0M469.6 273.0h0M407.3 273.0h0M285.1 273.0h0M224.4 273.0h0M517.0 273.0h0M249.4 273.0h0M408.5 273.0h0M198.9 273.0h0M403.8 273.0h0M239.2 273.0h0M384.2 273.0h0M257.5 273.0h0M551.2 273.0h0M370.2 273.0h0M453.9 273.0h0M401.8 273.0h0M242.5 273.0h0M393.1 273.0h0M456.5 273.0h0M320.1 273.0h0M311.3 273.0h0M246.8 273.0h0M289.0 273.0h0M379.9 273.0h0M512.9 273.0h0M276.4 273.0h0M293.5 273.0h0M473.1 273.0h0M437.2 273.0h0M617.2 273.0h0M234.7 273.0h0M254.8 273.0h0M554.6 273.0h0M512.3 273.0h0M514.0 273.0h0M198.4 273.0h0M470.2 273.0h0M206.6 273.0h0M283.6 273.0h0M540.4 273.0h0M427.2 273.0h0M454.6 273.0h0M248.4 273.0h0M324.0 273.0h0M382.3 273.0h0M357.3 273.0h0M222.8 273.0h0M202.7 273.0h0M231.5 273.0h0M407.2 273.0h0M316.6 273.0h0M337.8 273.0h0M538.2 273.0h0M205.1 273.0h0M358.2 273.0h0M370.0 273.0h0M248.7 273.0h0M439.4 273.0h0M460.3 273.0h0M479.4 273.0h0M307.7 273.0h0M362.6 273.0h0M380.4 273.0h0M330.5 273.0h0M188.3 273.0h0M439.4 273.0h0M406.1 273.0h0M381.9 273.0h0M452.8 273.0h0M505.3 273.0h0M295.4 273.0h0M301.6 273.0h0M427.5 273.0h0M368.5 273.0h0M240.3 273.0h0M387.3 273.0h0M270.4 273.0h0M243.9 273.0h0M438.5 273.0h0M331.1 273.0h0M555.2 273.0h0M305.9 273.0h0M382.4 273.0h0M234.8 273.0h0M402.6 273.0h0M316.7 273.0h0M555.2 273.0h0M214.2 273.0h0M312.9 273.0h0M179.4 273.0h0M366.2 273.0h0M459.9 273.0h0M334.5 273.0h0M508.9 273.0h0M415.7 273.0h0M455.1 273.0h0M237.7 273.0h0M415.9 273.0h0M297.4 273.0h0M219.8 273.0h0M470.8 273.0h0M448.1 273.0h0M210.9 273.0h0M192.3 273.0h0M277.7 273.0h0M373.4 273.0h0M191.4 273.0h0M301.3 273.0h0M508.2 273.0h0M478.4 273.0h0M287.4 273.0h0M385.0 273.0h0M392.7 273.0h0M480.3 273.0h0M416.6 273.0h0M350.1 273.0h0M400.4 273.0h0M337.9 273.0h0M241.2 273.0h0M552.5 273.0h0M473.2 273.0h0M520.8 273.0h0M175.5 273.0h0M400.9 273.0h0M289.6 273.0h0M341.8 273.0h0M480.2 273.0h0M305.4 273.0h0M508.6 273.0h0M535.7 273.0h0M377.2 273.0h0M382.9 273.0h0M406.2 273.0h0M299.9 273.0h0M544.8 273.0h0M306.8 273.0h0M331.8 273.0h0M248.3 273.0h0M402.5 273.0h0M281.3 273.0h0M193.2 273.0h0M345.8 273.0h0M211.5 273.0h0M183.5 273.0h0M321.0 273.0h0M207.9 273.0h0M337.4 273.0h0M391.1 273.0h0M533.5 273.0h0M266.1 273.0h0M235.9 273.0h0M274.2 273.0h0M384.0 273.0h0M405.6 273.0h0M224.3 273.0h0M540.8 273.0h0M326.8 273.0h0M201.4 273.0h0M289.1 273.0h0M454.3 273.0h0M285.5 273.0h0M303.0 273.0h0M535.2 273.0h0M206.4 273.0h0M523.4 273.0h0M306.7 273.0h0M323.4 273.0h0M230.0 273.0h0M340.9 273.0h0M411.9 273.0h0M295.4 273.0h0M251.7 273.0h0M535.7 273.0h0M295.5 273.0h0M337.4 273.0h0M281.1 273.0h0M391.0 273.0h0M486.8 273.0h0M375.7 273.0h0M482.7 273.0h0M437.9 273.0h0M195.4 273.0h0M238.8 273.0h0M178.5 273.0h0M437.4 273.0h0M324.3 273.0h0M286.5 273.0h0M509.7 273.0h0M324.2 273.0h0M243.3 273.0h0M448.5 273.0h0M184.1 273.0h0M206.8 273.0h0M227.1 273.0h0M201.9 273.0h0M439.2 273.0h0M303.1 273.0h0M364.9 273.0h0M335.4 273.0h0M281.6 273.0h0M291.6 273.0h0M436.2 273.0h0M556.3 273.0h0M250.1 273.0h0M365.7 273.0h0M542.4 273.0h0M339.3 273.0h0M181.2 273.0h0M459.0 273.0h0M501.4 273.0h0M324.8 273.0h0M315.3 273.0h0M515.0 273.0h0M503.8 273.0h0M187.4 273.0h0M428.9 273.0h0M183.6 273.0h0M198.1 273.0h0M239.6 273.0h0M493.6 273.0h0M342.3 273.0h0M379.5 273.0h0M222.0 273.0h0M226.5 273.0h0M529.2 273.0h0M407.4 273.0h0M529.6 273.0h0M225.2 273.0h0M467.5 273.0h0M524.6 273.0h0M432.5 273.0h0M315.6 273.0h0M251.2 273.0h0M340.5 273.0h0M446.9 273.0h0M273.7 273.0h0M306.4 273.0h0M208.3 273.0h0M201.1 273.0h0M536.1 273.0h0M388.5 273.0h0M372.5 273.0h0M409.6 273.0h0M340.6 273.0h0M260.7 273.0h0M228.9 273.0h0M340.6 273.0h0M187.3 273.0h0M300.3 273.0h0M537.5 273.0h0M228.4 273.0h0M407.2 273.0h0M557.6 273.0h0M435.7 273.0h0M395.0 273.0h0M529.4 273.0h0M487.3 273.0h0M353.3 273.0h0M223.1 273.0h0M442.7 273.0h0M317.2 273.0h0M175.7 273.0h0M308.3 273.0h0M279.7 273.0h0M239.6 273.0h0M185.4 273.0h0M395.0 273.0h0M428.1 273.0h0M520.0 273.0h0M200.1 273.0h0M499.2 273.0h0M308.5 273.0h0M516.5 273.0h0M436.0 273.0h0M513.4 273.0h0M196.9 273.0h0M455.8 273.0h0M368.9 273.0h0M518.7 273.0h0M259.6 273.0h0M430.0 273.0h0M259.1 273.0h0M340.1 273.0h0M446.9 273.0h0M368.9 273.0h0M544.9 273.0h0M308.0 273.0h0M237.8 273.0h0M193.3 273.0h0M544.7 273.0h0M235.5 273.0h0M235.9 273.0h0M308.0 273.0h0M535.2 273.0h0M307.5 273.0h0M494.1 273.0h0M358.5 273.0h0M218.4 273.0h0M379.6 273.0h0M241.1 273.0h0M494.1 273.0h0M511.6 273.0h0M395.4 273.0h0M512.0 273.0h0M244.9 273.0h0M433.5 273.0h0M227.9 273.0h0M308.2 273.0h0M292.8 273.0h0M449.1 273.0h0M521.7 273.0h0M248.5 273.0h0M256.6 273.0h0M303.9 273.0h0M353.9 273.0h0M467.8 273.0h0M329.0 273.0h0M444.5 273.0h0M394.6 273.0h0M299.3 273.0h0M327.7 273.0h0M430.1 273.0h0M450.9 273.0h0M447.9 273.0h0M302.0 273.0h0M277.7 273.0h0M344.9 273.0h0M554.2 273.0h0M524.7 273.0h0M542.0 273.0h0M215.3 273.0h0M550.2 273.0h0M338.5 273.0h0M454.2 273.0h0M298.2 273.0h0M343.4 273.0h0M455.5 273.0h0M478.0 273.0h0M488.9 273.0h0M525.8 273.0h0M187.7 273.0h0M294.3 273.0h0M294.5 273.0h0M340.9 273.0h0M508.5 273.0h0M523.1 273.0h0M198.5 273.0h0M510.3 273.0h0M290.7 273.0h0M297.0 273.0h0M411.9 273.0h0M433.9 273.0h0M492.1 273.0h0M226.4 273.0h0M518.1 273.0h0M486.5 273.0h0M184.8 273.0h0M359.3 273.0h0M217.7 273.0h0M519.6 273.0h0M353.1 273.0h0M363.2 273.0h0M452.5 273.0h0M453.6 273.0h0M452.2 273.0h0M300.0 273.0h0M554.6 273.0h0M459.2 273.0h0M549.0 273.0h0M452.9 273.0h0M342.5 273.0h0M210.9 273.0h0M464.3 273.0h0M384.1 273.0h0M190.0 273.0h0M541.6 273.0h0M322.2 273.0h0M476.7 273.0h0M336.0 273.0h0M529.0 273.0h0M204.0 273.0h0M480.2 273.0h0M201.9 273.0h0M483.2 273.0h0M193.2 273.0h0M529.5 273.0h0M367.5 273.0h0M624.6 273.0h0M502.2 273.0h0M380.6 273.0h0M510.6 273.0h0M563.5 273.0h0M535.0 273.0h0M242.8 273.0h0M257.7 273.0h0M555.1 273.0h0M186.2 273.0h0M336.1 273.0h0M357.9 273.0h0M334.2 273.0h0M270.6 273.0h0M228.0 273.0h0M317.7 273.0h0M231.0 273.0h0M377.4 273.0h0M544.5 273.0h0M365.4 273.0h0M221.0 273.0h0M349.9 273.0h0M274.3 273.0h0M548.3 273.0h0M528.1 273.0h0M460.1 273.0h0M478.1 273.0h0M460.7 273.0h0M416.6 273.0h0M350.8 273.0h0M285.7 273.0h0M423.7 273.0h0M422.4 273.0h0M317.9 273.0h0M296.8 273.0h0M265.5 273.0h0M270.6 273.0h0M412.6 273.0h0M333.2 273.0h0M233.6 273.0h0M475.7 273.0h0M544.5 273.0h0M525.0 273.0h0M417.3 273.0h0M393.7 273.0h0M286.6 273.0h0M231.6 273.0h0M271.9 273.0h0M368.0 273.0h0M366.7 273.0h0M358.5 273.0h0M470.3 273.0h0M177.1 273.0h0M233.4 273.0h0M551.1 273.0h0M229.6 273.0h0M319.0 273.0h0M297.6 273.0h0M316.7 273.0h0M330.7 273.0h0M214.2 273.0h0M288.2 273.0h0M281.4 273.0h0M262.1 273.0h0M538.8 273.0h0M227.8 273.0h0M492.4 273.0h0M414.4 273.0h0M207.6 273.0h0M301.5 273.0h0M441.9 273.0h0M435.8 273.0h0M483.6 273.0h0M353.4 273.0h0M206.5 273.0h0M255.3 273.0h0M263.4 273.0h0M255.7 273.0h0M317.3 273.0h0M464.6 273.0h0M197.6 273.0h0M199.2 273.0h0M477.1 273.0h0M262.6 273.0h0M332.9 273.0h0M436.3 273.0h0M443.9 273.0h0M228.3 273.0h0M397.3 273.0h0M478.8 273.0h0M543.7 273.0h0M370.7 273.0h0M412.8 273.0h0M264.4 273.0h0M477.3 273.0h0M442.7 273.0h0M325.3 273.0h0M322.9 273.0h0M377.9 273.0h0M357.3 273.0h0M249.7 273.0h0M265.9 273.0h0M458.3 273.0h0M338.0 273.0h0M344.5 273.0h0M407.9 273.0h0M411.0 273.0h0M296.6 273.0h0M177.8 273.0h0M370.2 273.0h0M241.2 273.0h0M496.0 273.0h0M427.8 273.0h0M532.4 273.0h0M417.4 273.0h0M250.7 273.0h0M376.6 273.0h0M272.8 273.0h0M276.7 273.0h0M254.3 273.0h0M198.5 273.0h0M323.6 273.0h0M496.0 273.0h0M253.8 273.0h0M218.9 273.0h0M226.8 273.0h0M343.8 273.0h0M490.0 273.0h0M353.9 273.0h0M530.2 273.0h0M439.9 273.0h0M256.8 273.0h0M368.4 273.0h0M463.1 273.0h0M430.9 273.0h0M286.7 273.0h0M271.8 273.0h0M321.5 273.0h0M350.9 273.0h0M478.2 273.0h0M256.6 273.0h0M496.0 273.0h0M259.4 273.0h0M207.3 273.0h0M430.6 273.0h0M196.6 273.0h0M631.6 273.0h0M258.7 273.0h0M274.2 273.0h0M228.6 273.0h0M268.3 273.0h0M298.6 273.0h0M372.9 273.0h0M293.1 273.0h0M457.8 273.0h0M517.7 273.0h0M385.4 273.0h0M379.1 273.0h0M307.9 273.0h0M486.5 273.0h0M332.1 273.0h0M418.7 273.0h0M390.6 273.0h0M342.1 273.0h0M504.5 273.0h0M401.0 273.0h0M243.8 273.0h0M476.5 273.0h0M513.5 273.0h0M490.0 273.0h0M225.1 273.0h0M389.8 273.0h0M483.6 273.0h0M213.6 273.0h0M553.1 273.0h0"/>
</g>
<rect x="125.50" y="34.00" width="547.10" height="478.05" fill="none" stroke="#000" stroke-width="1.20"/>
<line x1="125.50" y1="512.05" x2="125.50" y2="517.55" stroke="#000" stroke-width="1.20"/>
<text x="125.50" y="543.00" text-anchor="middle">−100</text>
<line x1="262.27" y1="512.05" x2="262.27" y2="517.55" stroke="#000" stroke-width="1.20"/>
<text x="262.27" y="543.00" text-anchor="middle">−50</text>
<line x1="399.05" y1="512.05" x2="399.05" y2="517.55" stroke="#000" stroke-width="1.20"/>
<text x="399.05" y="543.00" text-anchor="middle">0</text>
<line x1="535.83" y1="512.05" x2="535.83" y2="517.55" stroke="#000" stroke-width="1.20"/>
<text x="535.83" y="543.00" text-anchor="middle">50</text>
<line x1="672.60" y1="512.05" x2="672.60" y2="517.55" stroke="#000" stroke-width="1.20"/>
<text x="672.60" y="543.00" text-anchor="middle">100</text>
<line x1="120.00" y1="512.05" x2="125.50" y2="512.05" stroke="#000" stroke-width="1.20"/>
<text x="115.10" y="522.75" text-anchor="end">−100</text>
<line x1="120.00" y1="452.29" x2="125.50" y2="452.29" stroke="#000" stroke-width="1.20"/>
<text x="115.10" y="462.99" text-anchor="end">−75</text>
<line x1="120.00" y1="392.54" x2="125.50" y2="392.54" stroke="#000" stroke-width="1.20"/>
<text x="115.10" y="403.24" text-anchor="end">−50</text>
<line x1="120.00" y1="332.78" x2="125.50" y2="332.78" stroke="#000" stroke-width="1.20"/>
<text x="115.10" y="343.48" text-anchor="end">−25</text>
<line x1="120.00" y1="273.02" x2="125.50" y2="273.02" stroke="#000" stroke-width="1.20"/>
<text x="115.10" y="283.72" text-anchor="end">0</text>
<line x1="120.00" y1="213.27" x2="125.50" y2="213.27" stroke="#000" stroke-width="1.20"/>
<text x="115.10" y="223.97" text-anchor="end">25</text>
<line x1="120.00" y1="153.51" x2="125.50" y2="153.51" stroke="#000" stroke-width="1.20"/>
<text x="115.10" y="164.21" text-anchor="end">50</text>
<line x1="120.00" y1="93.76" x2="125.50" y2="93.76" stroke="#000" stroke-width="1.20"/>
<text x="115.10" y="104.46" text-anchor="end">75</text>
<line x1="120.00" y1="34.00" x2="125.50" y2="34.00" stroke="#000" stroke-width="1.20"/>
<text x="115.10" y="44.70" text-anchor="end">100</text>
<rect x="707.00" y="34.00" width="23.80" height="478.05" fill="url(#vg)" stroke="#000" stroke-width="1.20"/>
<line x1="730.80" y1="512.05" x2="736.30" y2="512.05" stroke="#000" stroke-width="1.20"/>
<text x="741.50" y="522.75" text-anchor="start">0.0</text>
<line x1="730.80" y1="416.44" x2="736.30" y2="416.44" stroke="#000" stroke-width="1.20"/>
<text x="741.50" y="427.14" text-anchor="start">0.2</text>
<line x1="730.80" y1="320.83" x2="736.30" y2="320.83" stroke="#000" stroke-width="1.20"/>
<text x="741.50" y="331.53" text-anchor="start">0.4</text>
<line x1="730.80" y1="225.22" x2="736.30" y2="225.22" stroke="#000" stroke-width="1.20"/>
<text x="741.50" y="235.92" text-anchor="start">0.6</text>
<line x1="730.80" y1="129.61" x2="736.30" y2="129.61" stroke="#000" stroke-width="1.20"/>
<text x="741.50" y="140.31" text-anchor="start">0.8</text>
<line x1="730.80" y1="34.00" x2="736.30" y2="34.00" stroke="#000" stroke-width="1.20"/>
<text x="741.50" y="44.70" text-anchor="start">1.0</text>
<g clip-path="url(#cb)" fill="none" stroke-width="6.30" stroke-linecap="round">
<path stroke="#440256" d="M1475.9 512.8h0M1469.1 512.8h0M1471.5 512.8h0M1433.9 512.8h0M1474.0 512.8h0M1479.4 511.4h0"/>
<path stroke="#460b5e" d="M1435.9 490.3h0"/>
<path stroke="#471164" d="M1426.6 495.8h0"/>
<path stroke="#481467" d="M1436.2 468.5h0"/>
<path stroke="#481a6c" d="M1408.3 507.3h0M1422.3 482.6h0"/>
<path stroke="#482475" d="M1460.9 387.5h0"/>
<path stroke="#482979" d="M1408.3 465.1h0M1387.9 512.8h0M1387.9 512.8h0"/>
<path stroke="#472c7a" d="M1410.7 450.1h0M1383.8 509.9h0"/>
<path stroke="#46307e" d="M1375.5 512.8h0"/>
<path stroke="#453581" d="M1370.2 512.8h0M1369.4 512.8h0M1369.4 512.8h0"/>
<path stroke="#453882" d="M1365.6 512.8h0M1393.7 440.3h0"/>
<path stroke="#443a83" d="M1442.9 350.7h0"/>
<path stroke="#433d84" d="M1359.0 512.8h0M1366.5 491.8h0M1361.0 512.8h0"/>
<path stroke="#423f85" d="M1410.7 385.3h0M1382.4 439.3h0M1491.4 286.1h0"/>
<path stroke="#424186" d="M1357.8 495.8h0M1358.0 494.1h0"/>
<path stroke="#414487" d="M1349.7 512.8h0M1351.1 512.8h0M1348.1 512.8h0M1350.0 512.8h0"/>
<path stroke="#404688" d="M1351.3 491.8h0M1351.2 498.7h0M1349.0 499.9h0M1346.0 512.8h0M1345.4 512.8h0"/>
<path stroke="#3f4889" d="M1343.7 512.8h0M1343.2 512.8h0M1355.8 472.6h0"/>
<path stroke="#3e4a89" d="M1337.9 512.8h0M1340.5 512.8h0M1338.3 512.8h0M1339.9 512.8h0M1350.5 477.5h0M1339.2 512.8h0"/>
<path stroke="#3d4d8a" d="M1355.0 446.1h0M1368.2 416.3h0M1334.8 512.8h0M1334.6 512.8h0"/>
<path stroke="#3c4f8a" d="M1393.2 350.0h0M1333.3 512.8h0M1339.5 480.4h0M1339.2 481.6h0"/>
<path stroke="#3b518b" d="M1334.8 489.7h0M1327.5 512.8h0M1330.5 512.8h0M1459.0 267.2h0M1327.5 512.8h0"/>
<path stroke="#3a538b" d="M1326.0 512.8h0M1332.1 481.4h0M1343.2 448.7h0M1348.5 434.3h0M1365.8 391.1h0M1326.2 512.8h0"/>
<path stroke="#38588c" d="M1320.1 508.3h0M1326.3 483.2h0M1334.4 452.9h0M1331.3 463.9h0"/>
<path stroke="#375a8c" d="M1330.9 453.1h0"/>
<path stroke="#365c8d" d="M1311.8 512.8h0M1310.8 512.8h0M1311.4 512.8h0M1365.6 349.5h0M1323.7 455.4h0"/>
<path stroke="#355e8d" d="M1307.2 512.8h0M1331.8 412.3h0M1317.7 472.7h0M1320.3 462.9h0M1315.2 475.2h0M1307.1 512.8h0"/>
<path stroke="#34608d" d="M1336.9 396.1h0M1311.8 474.1h0M1325.5 425.5h0M1310.7 475.8h0"/>
<path stroke="#33628d" d="M1303.5 496.9h0M1316.1 446.5h0M1315.9 437.9h0"/>
<path stroke="#32648e" d="M1303.5 492.9h0M1299.4 512.8h0M1315.8 435.6h0M1309.3 450.9h0M1378.8 282.8h0M1323.3 409.7h0M1321.2 404.9h0M1299.1 512.8h0M1300.4 496.3h0M1300.9 491.4h0M1304.5 485.4h0M1301.5 498.0h0"/>
<path stroke="#31668e" d="M1321.0 401.4h0M1296.8 502.2h0M1310.3 438.2h0M1316.2 419.5h0M1359.1 307.5h0M1357.7 304.4h0M1333.8 361.9h0M1295.3 512.8h0M1353.3 314.7h0M1331.5 363.2h0M1301.0 480.7h0"/>
<path stroke="#31688e" d="M1293.7 503.2h0M1308.0 419.5h0M1327.5 357.3h0M1297.9 482.8h0M1315.4 399.1h0M1310.7 414.2h0M1292.8 506.1h0M1299.4 468.6h0M1302.3 456.5h0M1297.1 479.6h0"/>
<path stroke="#306a8e" d="M1293.2 474.2h0M1296.0 466.7h0M1298.3 449.4h0M1291.1 500.4h0M1295.5 464.2h0M1296.8 457.9h0M1303.0 439.6h0M1305.7 411.9h0"/>
<path stroke="#2f6c8e" d="M1315.8 370.1h0M1287.1 495.0h0M1286.1 499.6h0M1334.1 313.3h0M1296.2 436.6h0M1290.2 466.2h0M1288.3 498.3h0M1297.0 443.1h0M1287.4 499.5h0"/>
<path stroke="#2e6e8e" d="M1301.2 410.2h0M1286.0 469.9h0M1280.4 507.1h0M1287.3 481.9h0M1300.9 411.9h0M1283.5 495.9h0M1319.7 336.5h0M1285.1 491.1h0M1304.7 393.2h0M1305.9 378.7h0M1284.2 493.1h0M1286.3 478.4h0M1285.5 480.2h0"/>
<path stroke="#2d708e" d="M1293.8 417.2h0M1308.9 355.8h0M1285.5 448.5h0M1303.8 378.1h0M1299.0 390.6h0M1278.0 512.8h0M1277.0 504.0h0M1278.5 495.2h0M1278.9 496.0h0M1286.6 460.6h0M1299.1 389.2h0M1288.9 447.2h0M1344.5 274.4h0M1279.8 500.1h0M1281.6 472.6h0M1278.1 501.8h0"/>
<path stroke="#2c718e" d="M1338.9 272.7h0M1287.2 420.0h0M1275.2 504.0h0M1284.5 432.1h0M1289.5 416.4h0M1276.6 487.8h0M1356.5 244.6h0M1311.2 330.0h0M1284.1 432.9h0M1310.2 341.5h0M1287.9 430.2h0M1275.0 509.7h0M1277.6 483.5h0M1285.5 441.6h0"/>
<path stroke="#2c738e" d="M1269.2 511.4h0M1282.2 440.3h0M1326.7 277.7h0M1313.7 305.6h0M1270.4 512.8h0M1277.7 468.8h0M1271.3 494.6h0M1309.6 314.6h0M1303.5 329.6h0M1366.3 224.2h0M1283.7 417.6h0M1277.5 460.3h0M1295.9 355.8h0M1294.5 378.7h0M1273.7 486.0h0M1276.1 479.1h0"/>
<path stroke="#2b758e" d="M1294.9 354.9h0M1286.1 379.3h0M1350.2 227.1h0M1293.6 360.4h0M1271.9 481.0h0M1299.1 338.3h0M1270.1 487.7h0M1272.2 461.1h0M1388.4 185.5h0M1270.8 476.3h0M1275.2 447.5h0M1302.1 317.0h0M1300.2 334.7h0M1283.0 399.1h0M1301.2 328.1h0M1278.1 419.0h0M1289.2 380.6h0M1274.5 450.7h0M1294.0 356.7h0M1269.6 480.2h0M1272.8 462.7h0M1299.1 332.7h0M1273.1 451.4h0M1282.1 397.2h0M1281.9 404.5h0"/>
<path stroke="#2a778e" d="M1270.0 446.1h0M1283.4 376.0h0M1294.1 324.2h0M1277.2 398.5h0M1299.8 322.2h0M1272.4 440.9h0M1267.9 467.3h0M1287.7 352.9h0M1286.6 371.5h0M1296.7 328.2h0M1266.1 490.5h0M1282.4 373.3h0M1270.4 456.1h0M1269.2 472.8h0M1285.8 366.4h0M1276.8 413.7h0M1293.6 341.9h0M1277.3 400.9h0M1283.1 389.5h0M1272.2 432.8h0"/>
<path stroke="#29798e" d="M1263.5 471.6h0M1295.8 296.7h0M1295.4 302.6h0M1269.3 438.5h0M1286.2 344.3h0M1298.9 292.4h0M1277.4 388.6h0M1270.7 422.9h0M1278.5 380.5h0M1262.3 485.1h0M1275.5 406.1h0M1276.1 381.7h0M1261.6 499.9h0M1288.9 332.8h0M1293.9 321.2h0M1271.1 418.0h0M1268.8 433.1h0M1269.2 446.1h0"/>
<path stroke="#297b8e" d="M1281.1 340.2h0M1266.5 436.7h0M1298.3 271.9h0M1284.8 330.6h0M1259.1 488.9h0M1258.9 482.7h0M1265.3 439.7h0M1277.2 369.1h0M1351.4 188.4h0M1265.9 414.7h0M1259.5 470.6h0M1257.0 497.4h0M1269.6 394.5h0M1287.6 312.5h0M1259.3 487.6h0M1262.0 472.4h0M1302.7 272.4h0M1267.1 417.7h0M1271.0 405.6h0"/>
<path stroke="#287d8e" d="M1255.0 482.1h0M1266.4 403.9h0M1268.6 393.2h0M1268.9 379.1h0M1289.4 291.1h0M1266.7 386.7h0M1261.6 429.0h0M1281.0 319.0h0M1265.0 410.5h0M1282.3 311.8h0M1270.0 361.4h0M1261.5 421.6h0M1275.6 344.4h0M1259.7 435.4h0M1258.4 451.4h0M1263.5 412.8h0M1263.4 398.8h0"/>
<path stroke="#277f8e" d="M1273.9 327.6h0M1264.2 384.4h0M1262.4 383.4h0M1266.8 372.7h0M1258.4 431.1h0M1263.6 367.0h0M1268.9 354.5h0M1261.6 378.0h0M1254.3 448.9h0M1269.8 333.5h0M1258.9 424.1h0M1261.2 403.8h0M1267.3 359.5h0M1253.1 480.2h0M1268.7 333.6h0M1268.4 348.7h0M1285.4 275.3h0M1281.4 294.2h0M1258.3 407.0h0M1286.7 270.9h0M1259.7 394.2h0M1266.1 362.2h0M1258.5 429.1h0M1275.3 317.2h0M1290.3 267.9h0M1266.7 343.0h0M1265.0 358.1h0M1260.7 403.1h0M1259.9 395.9h0M1272.0 333.8h0"/>
<path stroke="#26818e" d="M1260.9 360.3h0M1279.9 272.9h0M1279.8 278.4h0M1254.4 402.6h0M1258.8 388.2h0M1289.9 242.3h0M1255.8 405.6h0M1253.8 418.1h0M1296.1 235.8h0M1265.3 332.9h0M1275.5 294.3h0M1272.7 283.5h0M1259.7 365.1h0M1250.3 444.9h0M1339.9 163.9h0M1266.2 320.4h0M1255.9 404.2h0M1287.2 253.4h0M1279.7 267.2h0M1343.5 166.1h0M1251.2 468.1h0M1257.4 371.3h0"/>
<path stroke="#26828e" d="M1296.5 203.7h0M1249.8 404.1h0M1261.3 336.6h0M1278.5 239.5h0M1261.7 331.3h0M1266.5 293.7h0M1305.1 190.8h0M1256.5 344.9h0M1276.5 246.0h0M1249.8 410.5h0M1256.2 350.6h0M1251.2 396.8h0M1272.9 269.9h0M1248.2 443.1h0M1283.0 233.5h0M1273.1 279.3h0M1331.5 163.2h0M1290.1 217.6h0M1252.8 401.4h0M1252.1 410.0h0M1251.9 388.0h0M1270.0 276.7h0M1255.9 355.9h0M1303.4 189.6h0M1263.3 310.8h0"/>
<path stroke="#25848e" d="M1289.0 190.8h0M1252.8 352.4h0M1298.8 190.9h0M1269.7 237.2h0M1261.4 306.3h0M1252.1 339.8h0M1275.0 221.6h0M1264.2 259.5h0M1261.7 288.5h0M1258.2 312.7h0M1249.1 373.6h0M1266.7 257.3h0M1249.9 358.6h0M1259.0 313.2h0M1247.4 398.3h0M1267.2 253.0h0M1247.4 401.9h0M1255.8 335.5h0M1273.6 245.3h0M1273.9 239.8h0M1259.8 309.2h0M1266.4 263.5h0M1253.3 337.9h0M1312.0 165.3h0M1254.4 323.4h0M1244.0 450.3h0M1251.3 342.3h0"/>
<path stroke="#24868e" d="M1302.2 165.6h0M1267.1 244.4h0M1248.2 353.3h0M1260.0 257.6h0M1274.0 210.8h0M1267.4 219.4h0M1256.1 300.5h0M1249.8 314.3h0M1254.0 314.5h0M1247.0 354.1h0M1250.1 320.2h0M1273.4 197.0h0M1275.0 219.8h0M1258.7 257.7h0M1262.3 247.7h0M1269.8 215.9h0M1373.8 116.4h0M1270.0 211.8h0M1266.7 217.8h0M1265.4 240.0h0M1257.0 263.7h0M1287.8 179.8h0M1288.3 174.8h0M1245.5 344.6h0M1247.3 345.1h0M1253.8 286.6h0M1254.3 306.0h0M1259.0 250.5h0M1253.7 309.1h0M1246.8 326.6h0M1284.9 195.0h0M1253.4 314.1h0M1252.8 320.6h0M1252.7 306.8h0M1272.1 216.8h0M1256.7 271.4h0M1251.1 336.0h0M1262.5 234.9h0M1245.6 339.2h0M1271.6 209.1h0M1245.7 380.5h0M1264.9 254.5h0"/>
<path stroke="#23888e" d="M1293.3 157.7h0M1275.4 169.2h0M1268.9 181.3h0M1250.4 258.6h0M1246.4 295.0h0M1285.7 148.6h0M1261.0 216.2h0M1247.7 308.7h0M1257.6 217.4h0M1271.6 183.8h0M1255.6 256.7h0M1278.4 169.9h0M1285.0 170.0h0M1251.5 259.2h0M1240.4 345.8h0M1273.1 174.8h0M1275.6 184.9h0M1253.3 271.4h0M1272.6 190.8h0M1272.0 198.7h0M1274.1 176.0h0M1289.8 148.7h0M1259.1 228.6h0M1250.1 273.5h0M1247.6 316.5h0M1270.1 182.9h0M1248.9 298.5h0M1281.2 164.4h0M1246.4 284.4h0M1268.3 185.9h0M1269.9 196.0h0M1291.7 158.9h0M1263.9 195.5h0M1264.5 194.1h0M1247.3 316.4h0M1253.2 265.9h0M1281.6 156.3h0M1246.1 284.9h0M1258.7 210.1h0M1247.1 281.9h0M1268.4 207.5h0"/>
<path stroke="#238a8d" d="M1263.0 185.4h0M1298.1 131.7h0M1246.0 258.5h0M1243.5 260.6h0M1251.0 231.6h0M1243.0 258.7h0M1254.3 194.6h0M1267.6 176.4h0M1259.5 173.0h0M1247.3 227.1h0M1271.5 156.8h0M1250.7 215.2h0M1281.9 144.4h0M1257.0 194.1h0M1249.6 233.2h0M1273.7 165.7h0M1265.0 176.2h0M1251.1 235.6h0M1255.5 201.3h0M1246.2 232.3h0M1254.7 194.3h0M1249.5 238.8h0M1255.6 195.4h0M1254.9 210.2h0M1251.3 231.3h0M1247.1 263.0h0M1270.1 172.5h0M1273.3 153.4h0M1256.0 195.5h0M1246.8 217.9h0M1253.6 217.3h0M1231.6 425.0h0M1272.3 169.6h0M1247.5 238.9h0M1250.9 205.2h0"/>
<path stroke="#228c8d" d="M1258.1 142.0h0M1277.7 110.4h0M1254.0 148.8h0M1265.9 138.0h0M1252.4 171.5h0M1253.3 163.9h0M1302.9 94.0h0M1294.4 115.7h0M1244.9 188.0h0M1247.1 215.6h0M1265.3 149.7h0M1275.5 119.7h0M1249.9 197.2h0M1314.9 90.2h0M1251.0 168.9h0M1256.2 144.6h0M1269.7 133.5h0M1261.5 144.2h0M1248.4 205.8h0M1381.4 78.9h0M1278.5 131.8h0M1274.6 135.9h0M1242.2 230.5h0M1271.1 130.9h0M1273.6 119.8h0M1241.6 231.5h0M1268.9 145.4h0M1281.2 107.6h0M1252.7 167.2h0M1274.3 130.8h0M1247.2 200.9h0M1250.3 162.4h0M1260.5 135.4h0M1242.1 229.8h0M1263.7 128.0h0M1247.3 183.2h0M1242.1 234.9h0M1245.6 169.3h0M1266.9 143.4h0M1235.9 302.3h0M1282.5 108.9h0M1256.9 150.9h0"/>
<path stroke="#218e8d" d="M1414.8 72.4h0M1269.4 111.9h0M1270.1 88.2h0M1251.6 113.7h0M1249.6 129.8h0M1256.0 132.8h0M1252.1 120.2h0M1247.0 158.3h0M1239.5 173.8h0M1244.7 157.0h0M1264.5 117.3h0M1249.1 138.7h0M1250.3 126.1h0M1244.2 156.2h0M1283.9 84.2h0M1258.3 125.0h0M1261.5 108.3h0M1243.9 133.1h0M1254.2 141.7h0M1251.4 143.6h0M1249.7 114.6h0M1256.2 135.1h0M1265.0 94.3h0M1251.8 113.3h0M1254.6 120.4h0M1414.3 71.0h0M1305.1 75.8h0M1243.8 158.5h0M1248.3 111.7h0"/>
<path stroke="#21908d" d="M1255.4 72.4h0M1261.5 67.0h0M1250.4 88.6h0M1259.8 88.4h0M1242.4 62.3h0M1259.0 87.7h0M1255.3 76.2h0M1246.0 77.9h0M1243.7 79.1h0M1273.2 67.6h0M1245.7 75.1h0M1278.7 64.6h0M1261.1 78.2h0M1243.1 78.5h0M1244.3 80.9h0M1257.3 84.6h0M1252.1 62.9h0M1247.0 81.2h0M1249.7 103.9h0M1243.8 73.5h0M1249.9 74.1h0M1288.1 68.5h0M1247.3 105.6h0M1258.0 61.1h0M1277.9 72.3h0M1239.2 113.5h0M1250.6 80.3h0M1272.3 66.0h0M1244.2 72.2h0M1261.3 73.1h0M1248.9 98.7h0M1251.4 69.5h0M1251.0 57.6h0M1286.1 63.1h0M1258.4 66.4h0M1246.1 64.2h0M1230.1 57.3h0M1297.9 75.3h0M1239.0 57.3h0M1243.7 67.1h0M1239.5 109.8h0M1243.2 68.5h0"/>
<path stroke="#20928c" d="M1181.2 60.8h0M1183.7 57.0h0M1170.9 68.1h0M1186.5 79.2h0M1215.3 57.4h0M1160.8 82.9h0M1185.0 98.1h0M1160.9 60.2h0M1197.4 58.6h0M1185.2 93.0h0M1188.1 57.1h0M1162.9 66.6h0M1169.4 63.2h0M1187.6 66.6h0M1209.8 56.8h0M1187.5 61.1h0M1181.0 63.0h0M1164.6 64.6h0M1187.2 86.3h0M1188.8 89.8h0M1184.2 62.6h0M1152.5 72.6h0M1167.0 78.5h0M1182.7 89.5h0M1191.8 101.6h0M1180.1 88.6h0M1180.3 84.4h0M1171.7 85.8h0M1188.5 106.3h0M1193.4 71.0h0M1215.1 57.3h0M1194.6 99.6h0M1188.0 92.3h0M1190.9 104.3h0M1193.7 65.0h0M1188.2 102.4h0M1216.0 57.5h0M1189.2 70.7h0M1172.1 79.3h0M1210.9 56.8h0M1189.3 58.4h0M1170.4 88.2h0"/>
<path stroke="#20938c" d="M1150.4 101.0h0M1163.3 93.6h0M1133.7 76.5h0M1177.0 109.1h0M1184.3 145.9h0M1135.4 87.8h0M1176.3 114.5h0M1169.5 111.7h0M1178.1 123.1h0M1185.3 117.5h0M1180.1 116.9h0M1176.8 124.4h0M1186.5 111.1h0M1183.8 143.9h0M1173.4 116.2h0M1180.7 102.2h0M1177.3 98.8h0M1162.7 102.8h0M1194.3 188.7h0M1178.2 111.9h0M1164.8 109.8h0M1197.7 192.6h0M1154.1 103.0h0"/>
<path stroke="#1f958b" d="M1185.2 197.6h0M1182.3 146.9h0M1173.2 130.5h0M1172.0 144.8h0M1164.2 141.0h0M1189.8 198.9h0M1178.8 174.8h0M1186.5 202.8h0M1188.3 183.5h0M1156.0 131.1h0M1168.6 140.0h0M1174.2 128.6h0M1184.4 193.8h0M1169.7 134.2h0M1194.7 196.3h0M1160.7 116.6h0M1167.3 143.3h0M1158.0 115.8h0M1189.8 203.7h0M1169.9 142.9h0M1178.3 142.9h0M1185.3 194.7h0M1190.1 214.9h0M1184.7 188.4h0M1177.1 147.8h0M1183.1 175.4h0M1181.2 144.0h0M1193.0 200.6h0M1163.6 119.0h0M1174.7 162.6h0M1164.8 127.6h0M1159.7 135.3h0M1186.5 194.0h0M1176.7 152.0h0M1186.9 190.8h0M1182.9 179.8h0M1192.0 206.1h0M1190.7 173.7h0M1177.4 136.1h0M1166.8 141.7h0M1167.5 143.0h0M1179.4 157.2h0M1178.7 166.8h0M1188.9 210.1h0"/>
<path stroke="#1f978b" d="M1149.3 143.5h0M1177.8 210.9h0M1166.5 158.9h0M1169.8 170.4h0M1182.3 200.7h0M1175.0 194.7h0M1190.9 287.6h0M1164.0 144.6h0M1187.2 236.8h0M1190.1 265.5h0M1178.9 212.2h0M1174.0 167.7h0M1142.6 125.2h0M1164.0 143.8h0M1184.7 224.3h0M1182.1 191.5h0M1184.0 210.3h0M1187.2 222.7h0M1189.2 258.7h0M1181.9 222.1h0M1184.3 216.0h0M1178.8 198.7h0"/>
<path stroke="#1f998a" d="M1178.9 219.1h0M1187.8 278.0h0M1152.4 167.2h0M1173.5 219.3h0M1177.6 217.6h0M1039.3 97.9h0M1183.6 254.4h0M1165.5 200.7h0M1179.5 254.7h0M1159.2 167.0h0M1167.5 182.6h0M1175.7 212.7h0M1164.0 183.3h0M1186.9 298.9h0M1178.3 224.3h0M1167.9 209.6h0M1177.2 212.0h0M1114.7 117.3h0M1134.4 147.6h0M1171.1 209.5h0M983.9 85.1h0M1155.5 180.5h0M1187.2 297.2h0M1157.3 185.5h0M1142.9 151.7h0M1187.3 284.8h0M1188.8 277.5h0M1178.6 241.4h0M1187.3 294.0h0M1168.0 184.8h0M1168.1 186.8h0M1177.3 239.9h0M1186.5 281.6h0M1176.9 219.0h0M1185.2 250.8h0M1155.6 181.3h0"/>
<path stroke="#1e9b8a" d="M1181.1 309.3h0M1163.9 223.6h0M1175.7 246.5h0M1180.2 286.5h0M1182.0 317.2h0M1185.0 303.3h0M1177.2 280.1h0M1188.4 357.4h0M1187.9 369.5h0M1164.6 219.6h0M1175.2 275.0h0M1180.9 274.5h0M1169.0 240.1h0M1174.2 239.6h0M1163.7 214.2h0M1186.8 329.1h0M1161.0 218.7h0M1164.7 204.5h0M1159.0 192.1h0M1184.3 316.4h0M1188.3 362.2h0M1192.3 368.6h0M1186.3 319.2h0M1178.9 268.7h0M1190.1 364.5h0M1175.5 252.4h0M1139.0 162.9h0M1186.8 331.9h0M1162.0 205.5h0M1189.8 364.2h0M1188.7 362.7h0"/>
<path stroke="#1e9d89" d="M1177.9 329.2h0M1175.0 303.1h0M1159.8 226.4h0M1110.4 153.3h0M1167.2 266.2h0M1169.8 273.2h0M1186.7 363.8h0M1180.1 330.4h0M1171.8 281.9h0M1118.8 166.5h0M1172.1 292.5h0M1181.7 320.3h0M1181.2 346.8h0"/>
<path stroke="#1f9f88" d="M1150.4 226.1h0M1175.2 321.1h0M1165.2 291.8h0M1161.5 273.3h0M1183.1 392.6h0M1156.8 237.0h0M1173.9 335.1h0M1182.2 376.1h0M1124.6 183.0h0M1137.1 199.8h0M1142.3 208.5h0M1166.6 296.1h0M1187.0 455.6h0M1153.2 247.8h0M1179.4 345.8h0M1160.5 269.0h0M1182.0 367.6h0M1175.7 350.0h0M1158.9 260.3h0M1150.6 226.4h0M1176.5 323.0h0M1155.3 234.1h0M1186.5 421.8h0M1165.6 291.6h0M1174.6 333.0h0M1180.2 354.3h0M1183.0 412.0h0M1166.4 286.1h0M1160.8 264.3h0M1158.9 256.0h0M1179.0 361.8h0"/>
<path stroke="#1fa188" d="M1123.6 196.8h0M1167.5 334.6h0M1169.1 334.5h0M1181.0 421.2h0M1180.2 407.0h0M1150.9 246.2h0M1173.9 347.1h0M1160.8 297.9h0M1154.1 273.5h0M1176.0 360.0h0M1145.8 232.0h0M1155.2 277.7h0M1180.8 406.6h0M1162.7 306.2h0M1135.7 220.9h0M1174.8 355.0h0M1136.9 214.0h0M1156.5 271.4h0M1162.2 283.0h0M1179.8 425.0h0M1175.2 362.4h0M1165.7 314.3h0M1171.7 327.6h0M1163.6 288.9h0M1177.2 402.4h0M1183.2 423.2h0M1182.1 425.4h0M1143.8 228.5h0M1122.8 196.7h0M1122.0 191.0h0M1163.8 303.3h0M1158.7 284.1h0M1162.5 309.2h0M1183.2 460.6h0"/>
<path stroke="#1fa287" d="M1144.2 247.5h0M1178.1 417.3h0M1128.3 226.8h0M1163.5 340.3h0M1179.5 436.6h0M1173.6 388.9h0M1170.1 366.4h0M1169.3 350.0h0M1129.6 217.3h0M1174.3 383.8h0M1175.0 394.2h0M1179.9 452.1h0M1181.1 449.3h0M1178.7 440.3h0M1183.3 473.5h0M1157.0 288.7h0M1178.2 422.5h0M1155.2 286.5h0M1149.0 280.1h0M1184.8 510.5h0M1176.2 403.0h0M1173.0 400.9h0M1169.3 355.6h0M1155.5 296.6h0"/>
<path stroke="#20a486" d="M1174.2 425.2h0M1167.5 397.0h0M1162.6 360.7h0M1154.3 304.1h0M1173.7 422.4h0M1164.9 381.0h0M1156.6 327.7h0M1176.9 472.0h0M1167.2 365.6h0M1170.7 420.9h0M1171.6 397.3h0M1166.5 386.2h0M1129.6 243.4h0M1171.6 394.8h0M1175.9 449.8h0M1158.3 331.9h0M1169.5 382.3h0M1177.6 447.6h0M1173.6 416.4h0M1174.0 446.8h0M1175.0 444.1h0M1173.1 434.2h0M1182.2 497.8h0M1152.0 311.3h0M1177.9 461.2h0M1134.0 247.6h0M1175.3 423.7h0"/>
<path stroke="#21a685" d="M1164.5 392.9h0M1163.4 390.8h0M1163.9 386.4h0M1158.2 355.6h0M1162.6 372.8h0M1154.0 345.5h0M1149.8 314.7h0M1139.9 285.0h0M1157.0 342.6h0M1170.7 449.0h0M1172.4 460.0h0M1176.8 504.8h0M1177.1 510.4h0M1165.6 398.3h0M1156.2 350.7h0M1156.8 352.0h0M1130.5 258.2h0M1154.5 339.0h0"/>
<path stroke="#22a884" d="M1138.0 301.5h0M1159.8 380.9h0M1165.8 440.3h0M1107.4 230.6h0M1140.8 308.9h0M1115.7 249.8h0M1162.9 413.3h0M1157.6 378.7h0M1133.3 283.9h0M1161.1 410.2h0M1163.1 402.9h0M1173.3 501.6h0M1174.3 508.9h0M1172.7 475.6h0M1158.6 381.9h0M1126.6 267.9h0M1171.4 467.9h0M1139.7 304.5h0M1162.1 416.4h0M1161.0 413.6h0M1172.5 499.0h0M1076.1 199.0h0M1171.8 474.2h0M1174.6 501.7h0M1149.3 337.0h0M1173.4 491.7h0"/>
<path stroke="#24aa83" d="M1154.1 393.7h0M1120.1 273.3h0M1156.3 393.7h0M1166.0 466.3h0M1157.6 407.1h0M1171.6 495.5h0M1156.9 410.2h0M1091.7 226.3h0M1118.4 266.6h0M1165.4 462.6h0M1164.2 443.6h0M1158.1 416.9h0M1143.4 346.7h0"/>
<path stroke="#25ac82" d="M1161.9 474.4h0M1160.0 456.5h0M1154.5 405.7h0M1166.0 497.8h0M1149.3 395.9h0M1100.2 244.0h0M1138.3 344.4h0M1161.4 468.1h0M1160.6 461.0h0M1151.8 404.7h0M1168.3 500.6h0M1168.5 509.9h0M1144.8 363.9h0M1159.0 446.1h0M1159.6 456.4h0M1162.9 472.4h0M1137.3 337.1h0M1151.7 396.1h0M1156.8 429.2h0M1137.2 337.6h0M1155.3 413.0h0"/>
<path stroke="#27ad81" d="M1141.8 379.7h0M1142.3 383.0h0M1136.0 359.2h0M1156.8 460.1h0M1163.4 505.2h0M1161.6 484.3h0M1155.1 452.7h0M1163.5 511.7h0M1153.7 429.0h0M1165.7 509.2h0M1158.8 477.6h0M1158.6 458.0h0M1130.0 328.7h0M1164.2 495.2h0M1138.5 369.9h0M1109.5 276.2h0M1162.4 499.2h0M1157.5 467.1h0"/>
<path stroke="#29af7f" d="M1117.7 320.2h0M1118.5 311.7h0M1150.1 433.2h0M1149.4 442.7h0M1144.9 407.5h0M1161.6 512.8h0M1128.0 341.6h0M1101.9 276.5h0M1163.0 512.8h0M1162.0 504.3h0M1157.3 482.0h0M1150.5 445.5h0M1115.4 314.7h0"/>
<path stroke="#2cb17e" d="M1147.7 443.0h0M1108.7 308.9h0M1155.4 495.3h0M1155.3 482.3h0M1128.8 355.8h0M1148.5 454.8h0M1153.7 478.4h0M1149.0 453.6h0M1156.5 499.6h0M1118.4 324.6h0M1152.7 471.9h0M1133.5 382.1h0M1116.5 321.9h0M1122.6 341.0h0M1144.3 437.9h0"/>
<path stroke="#2eb37c" d="M1121.5 356.1h0M1152.8 495.1h0M1149.9 474.7h0M1123.2 363.5h0M1145.3 446.6h0M1138.8 424.8h0M1124.0 372.4h0M1151.8 500.3h0M1108.2 322.3h0M1154.6 506.6h0M1105.3 311.1h0M1124.6 364.3h0M1148.3 465.9h0"/>
<path stroke="#31b57b" d="M1141.2 456.4h0M1123.0 377.9h0M1115.2 348.2h0M1128.3 391.2h0M1146.0 487.4h0M1147.9 493.1h0"/>
<path stroke="#34b679" d="M1143.5 496.4h0M1132.0 427.9h0M1109.5 345.6h0M1142.4 475.0h0M1080.1 289.2h0M1104.5 339.2h0M1101.8 336.2h0M1094.8 316.3h0"/>
<path stroke="#37b878" d="M1143.3 512.8h0M1111.4 365.5h0M1145.1 512.8h0M1138.8 471.4h0M1137.1 475.0h0M1118.3 400.0h0M1117.7 392.6h0M1106.1 351.6h0M1077.5 299.6h0M1145.8 512.8h0M1136.8 477.4h0M1077.7 293.3h0"/>
<path stroke="#3aba76" d="M1127.3 452.1h0M1137.7 486.0h0M1138.7 495.3h0"/>
<path stroke="#3dbc74" d="M1118.0 430.8h0M1064.0 298.4h0M1094.8 353.8h0M1136.5 512.8h0M1137.6 512.8h0M1134.0 485.4h0M1128.8 460.5h0M1128.4 462.3h0M1131.5 481.1h0"/>
<path stroke="#40bd72" d="M1099.1 381.2h0M1122.9 458.2h0M1078.8 327.4h0M1134.9 512.8h0M1134.7 512.8h0M1135.4 512.8h0M1050.6 282.3h0M1082.7 345.0h0M1126.5 478.6h0M1085.4 345.5h0M1134.3 512.8h0"/>
<path stroke="#44bf70" d="M1080.5 348.4h0M1070.8 323.8h0M1087.5 361.0h0M1125.4 489.0h0"/>
<path stroke="#48c16e" d="M1104.1 415.3h0M1099.3 406.9h0M1090.2 381.6h0M1078.7 351.1h0M1065.7 328.1h0M1127.9 510.5h0"/>
<path stroke="#4cc26c" d="M1096.8 411.2h0M1121.2 492.5h0M1118.0 491.2h0M1080.2 364.1h0M1124.0 510.8h0M1089.0 393.6h0"/>
<path stroke="#50c46a" d="M1117.3 498.4h0M1086.4 389.5h0M1121.3 512.8h0M1050.8 318.5h0M1095.3 425.8h0M1119.4 512.8h0"/>
<path stroke="#54c568" d="M1104.4 460.7h0M1104.7 458.1h0M1092.0 420.9h0M1063.7 352.3h0M1117.0 507.9h0M1064.2 359.7h0M1114.5 506.4h0M1114.9 510.0h0"/>
<path stroke="#58c765" d="M1100.8 458.5h0M1082.9 410.1h0M1108.6 490.3h0M1101.9 460.5h0M1110.5 501.8h0M1077.2 399.1h0"/>
<path stroke="#5cc863" d="M1100.5 473.7h0M1110.5 512.8h0M1090.6 441.3h0M1106.8 500.3h0M1088.4 436.1h0M1110.6 512.8h0"/>
<path stroke="#60ca60" d="M1097.1 473.7h0M1070.4 397.1h0M1104.8 500.0h0M1104.0 506.2h0"/>
<path stroke="#65cb5e" d="M1102.9 509.6h0M1066.3 399.1h0M1103.4 512.8h0M1090.9 473.7h0"/>
<path stroke="#69cd5b" d="M1094.9 489.1h0M1096.5 502.2h0M1100.5 512.8h0M1100.0 512.8h0"/>
<path stroke="#6ece58" d="M1093.4 501.7h0M1082.1 468.2h0M1086.3 476.3h0M1087.8 481.7h0M1081.8 460.8h0M1062.9 412.4h0"/>
<path stroke="#73d056" d="M1086.0 484.8h0M1093.0 512.8h0M1054.7 409.6h0M1057.8 412.1h0M1073.0 446.2h0M1087.8 489.5h0M1061.3 423.7h0"/>
<path stroke="#77d153" d="M1068.4 442.8h0M1086.5 496.7h0"/>
<path stroke="#7cd250" d="M1034.0 379.3h0M1084.4 512.8h0M1084.7 512.8h0M1055.3 427.5h0"/>
<path stroke="#81d34d" d="M1061.1 450.9h0M1065.6 464.7h0"/>
<path stroke="#86d549" d="M1062.7 462.5h0M1065.3 469.8h0M1075.7 503.7h0M1059.0 455.5h0M1070.6 490.3h0"/>
<path stroke="#8bd646" d="M1071.6 500.8h0"/>
<path stroke="#95d840" d="M1062.1 494.8h0"/>
<path stroke="#9bd93c" d="M1063.8 512.8h0M1058.5 487.2h0M1054.2 480.1h0M1065.8 512.8h0"/>
<path stroke="#a0da39" d="M1060.8 512.8h0M1062.2 512.8h0"/>
<path stroke="#a5db36" d="M1060.0 512.8h0M1051.5 492.3h0M1057.1 509.0h0"/>
<path stroke="#b0dd2f" d="M1037.3 476.7h0"/>
<path stroke="#b5de2b" d="M1048.9 512.8h0"/>
<path stroke="#bade28" d="M1044.9 512.8h0M1036.6 492.1h0M1039.2 493.7h0M1044.4 512.8h0"/>
<path stroke="#c0df25" d="M1037.9 499.3h0M1020.1 465.1h0M1005.7 431.9h0"/>
<path stroke="#c5e021" d="M1037.5 512.8h0M1037.1 512.8h0M1039.0 512.8h0"/>
<path stroke="#cae11f" d="M1035.0 512.8h0M1035.0 512.8h0M1034.2 512.8h0"/>
<path stroke="#d0e11c" d="M1030.6 512.8h0"/>
<path stroke="#dae319" d="M1025.9 512.8h0"/>
<path stroke="#e5e419" d="M1016.0 512.8h0M1017.0 512.8h0"/>
<path stroke="#eae51a" d="M1013.4 512.8h0"/>
<path stroke="#f8e621" d="M1005.1 512.8h0M1005.3 512.8h0M1005.0 512.8h0"/>
<path stroke="#fde725" d="M972.8 510.9h0M972.3 481.4h0M959.6 501.3h0M945.4 512.8h0M977.6 495.8h0M985.1 512.8h0"/>
<path stroke="#440256" d="M1469.1 504.2h0M1468.3 507.3h0M1456.3 499.7h0"/>
<path stroke="#450559" d="M1456.3 464.8h0"/>
<path stroke="#481f70" d="M1464.7 394.7h0"/>
<path stroke="#482475" d="M1405.4 480.2h0"/>
<path stroke="#46307e" d="M1405.7 438.8h0"/>
<path stroke="#46337f" d="M1372.2 512.8h0M1372.9 512.8h0"/>
<path stroke="#453581" d="M1383.0 476.3h0M1378.4 489.7h0"/>
<path stroke="#453882" d="M1367.2 512.8h0"/>
<path stroke="#443a83" d="M1367.0 496.3h0M1362.5 512.8h0M1367.8 495.4h0"/>
<path stroke="#433d84" d="M1364.2 495.6h0M1369.0 485.2h0"/>
<path stroke="#423f85" d="M1359.7 506.1h0M1357.4 512.8h0"/>
<path stroke="#424186" d="M1396.6 403.8h0"/>
<path stroke="#414487" d="M1352.8 501.4h0"/>
<path stroke="#404688" d="M1354.7 487.8h0M1367.8 445.8h0"/>
<path stroke="#3f4889" d="M1358.8 456.4h0"/>
<path stroke="#3e4a89" d="M1341.4 505.6h0M1342.2 506.5h0M1349.5 470.7h0M1338.5 512.8h0M1375.2 411.7h0"/>
<path stroke="#3d4d8a" d="M1339.4 492.8h0M1339.9 493.7h0M1379.0 391.8h0"/>
<path stroke="#3c4f8a" d="M1331.8 512.8h0M1333.1 512.8h0"/>
<path stroke="#3b518b" d="M1330.2 512.8h0M1342.2 461.4h0"/>
<path stroke="#3a538b" d="M1327.2 512.8h0M1330.0 489.0h0M1336.9 467.1h0M1326.0 512.8h0M1331.9 493.4h0M1324.8 512.8h0"/>
<path stroke="#39558c" d="M1338.9 444.8h0M1334.2 467.3h0M1325.8 490.2h0M1331.3 480.0h0M1366.8 376.7h0"/>
<path stroke="#38588c" d="M1320.9 504.6h0M1359.1 377.4h0M1337.6 443.5h0M1317.4 512.8h0"/>
<path stroke="#375a8c" d="M1320.8 487.7h0M1318.1 500.4h0M1323.1 484.4h0M1325.1 470.8h0M1317.3 504.3h0"/>
<path stroke="#365c8d" d="M1311.3 512.8h0M1314.4 504.9h0M1317.4 490.4h0M1323.5 457.0h0"/>
<path stroke="#355e8d" d="M1329.1 428.4h0M1306.8 512.8h0M1309.9 512.8h0M1321.0 457.4h0M1315.0 480.0h0M1317.2 474.1h0M1309.3 512.8h0"/>
<path stroke="#34608d" d="M1306.8 504.1h0M1306.4 497.2h0"/>
<path stroke="#33628d" d="M1306.4 486.3h0M1344.2 360.6h0M1317.1 439.0h0M1304.2 500.5h0M1383.4 289.2h0"/>
<path stroke="#32648e" d="M1321.4 403.1h0M1306.3 477.4h0M1298.3 512.8h0M1434.3 222.7h0M1307.7 467.6h0M1334.3 372.4h0"/>
<path stroke="#31668e" d="M1330.1 365.7h0M1295.2 512.8h0M1295.4 512.8h0M1299.2 489.3h0"/>
<path stroke="#31688e" d="M1295.2 489.4h0M1292.3 509.4h0M1291.9 512.8h0M1295.9 481.5h0M1303.3 450.9h0M1312.4 403.9h0M1327.5 364.3h0"/>
<path stroke="#306a8e" d="M1287.5 507.1h0M1302.6 429.4h0M1296.4 461.5h0M1306.2 412.3h0M1311.8 392.2h0"/>
<path stroke="#2f6c8e" d="M1286.0 502.8h0M1310.2 389.9h0M1294.8 454.1h0M1287.3 503.1h0M1286.9 490.3h0M1291.6 471.6h0"/>
<path stroke="#2e6e8e" d="M1296.8 417.8h0M1281.3 507.3h0M1281.2 512.8h0M1280.7 512.8h0M1283.2 507.8h0M1305.3 382.2h0M1285.0 496.5h0M1282.5 502.2h0M1288.2 460.9h0M1297.5 411.5h0"/>
<path stroke="#2d708e" d="M1282.4 469.6h0M1282.5 479.2h0M1289.2 439.4h0M1285.2 455.6h0M1284.9 466.3h0M1287.7 438.7h0M1301.1 384.0h0M1301.0 385.6h0M1280.0 485.1h0M1283.4 463.6h0"/>
<path stroke="#2c718e" d="M1283.0 457.6h0M1337.0 272.4h0M1341.6 260.2h0M1276.5 500.9h0M1282.8 463.0h0M1346.4 250.8h0M1299.4 371.2h0M1275.1 507.6h0"/>
<path stroke="#2c738e" d="M1305.1 341.9h0M1273.9 488.5h0M1272.0 492.8h0M1276.8 473.9h0M1286.9 407.3h0M1277.7 465.1h0M1290.5 378.3h0M1345.2 245.1h0M1285.8 417.9h0M1293.8 372.9h0M1277.3 470.0h0M1304.5 338.1h0M1325.5 281.3h0M1295.4 364.3h0"/>
<path stroke="#2b758e" d="M1277.1 424.3h0M1271.6 468.7h0M1350.0 225.6h0M1293.2 351.0h0M1270.0 503.8h0M1290.3 376.2h0M1267.6 508.4h0M1276.7 442.9h0M1282.6 394.3h0"/>
<path stroke="#2a778e" d="M1270.4 452.6h0M1290.1 356.6h0M1272.5 428.1h0M1294.6 340.6h0M1267.2 474.6h0M1268.3 470.7h0M1269.8 470.1h0M1265.9 503.2h0M1312.0 274.6h0M1271.3 440.2h0M1273.7 442.1h0M1274.4 441.0h0M1301.7 298.8h0M1266.7 486.7h0M1265.4 495.1h0M1311.6 286.1h0M1265.5 507.7h0M1267.5 492.8h0"/>
<path stroke="#29798e" d="M1270.5 424.2h0M1269.3 439.0h0M1286.6 336.1h0M1263.7 477.3h0M1264.7 482.4h0M1274.2 403.8h0M1266.3 471.1h0M1263.9 480.7h0M1273.2 416.7h0M1264.1 465.9h0M1268.5 451.2h0M1287.0 338.6h0M1289.1 337.5h0M1272.1 410.5h0M1276.5 385.9h0M1270.4 433.4h0M1279.0 384.0h0M1293.1 309.1h0M1269.5 430.8h0M1261.1 501.7h0M1261.9 500.0h0"/>
<path stroke="#297b8e" d="M1281.4 326.9h0M1262.8 437.6h0M1262.6 454.3h0M1270.7 408.9h0M1270.7 387.6h0M1273.4 382.4h0M1265.3 418.9h0M1299.8 276.7h0M1275.0 367.3h0M1263.1 456.0h0"/>
<path stroke="#287d8e" d="M1267.7 391.5h0M1334.9 191.3h0M1275.0 337.4h0M1255.1 485.7h0M1319.0 216.0h0M1255.0 499.9h0M1257.8 462.1h0M1255.2 503.3h0M1254.1 500.7h0M1258.2 463.6h0M1282.1 323.0h0M1255.6 478.5h0M1259.3 467.6h0M1259.0 465.1h0M1256.5 477.5h0M1258.0 480.5h0M1260.0 442.4h0M1257.4 467.6h0M1259.6 445.1h0M1263.2 425.1h0M1294.7 276.9h0M1288.9 286.9h0M1254.1 503.9h0M1264.8 393.5h0M1275.8 340.8h0M1260.8 419.4h0M1256.9 464.5h0"/>
<path stroke="#277f8e" d="M1260.5 396.1h0M1299.8 241.3h0M1257.7 412.6h0M1260.0 398.7h0M1254.7 444.4h0M1255.2 471.7h0M1273.6 330.1h0M1285.6 282.4h0M1266.2 358.6h0M1266.2 346.9h0M1253.9 466.0h0M1269.9 332.3h0M1267.8 365.3h0M1263.1 387.6h0M1261.9 384.0h0M1252.2 470.8h0M1250.7 491.2h0M1301.5 235.9h0M1256.2 429.9h0M1255.9 445.2h0M1258.1 419.0h0M1254.7 469.8h0M1268.3 340.4h0M1253.0 492.1h0M1287.6 265.0h0M1276.3 303.2h0M1270.8 329.9h0M1251.0 498.4h0M1259.4 397.3h0M1272.0 332.2h0M1252.3 486.0h0"/>
<path stroke="#26818e" d="M1298.8 212.7h0M1266.3 330.3h0M1252.7 448.4h0M1251.7 445.9h0M1285.0 261.6h0M1256.6 398.1h0M1291.2 228.2h0M1250.4 464.6h0M1257.5 382.2h0M1259.4 386.2h0M1250.9 479.0h0M1262.0 365.0h0M1250.5 482.5h0M1248.7 488.1h0M1246.7 498.8h0M1249.2 482.4h0M1261.2 373.9h0M1250.6 458.3h0M1253.8 412.7h0M1258.9 359.6h0M1258.5 387.9h0M1250.2 471.7h0M1273.8 288.6h0M1251.9 444.9h0M1254.2 435.7h0M1269.7 309.1h0"/>
<path stroke="#26828e" d="M1273.6 260.7h0M1247.5 445.9h0M1250.2 413.8h0M1262.7 304.5h0M1267.0 301.9h0M1272.3 276.0h0M1262.9 320.3h0M1279.4 256.5h0M1273.7 275.2h0M1293.7 203.2h0M1256.2 350.2h0M1258.1 345.1h0M1263.8 319.4h0M1265.0 301.7h0M1267.8 278.4h0M1250.2 434.0h0M1264.1 310.5h0M1283.0 232.7h0M1252.4 411.3h0M1270.8 264.4h0M1270.0 270.8h0M1275.3 263.2h0M1321.9 173.3h0M1277.8 243.9h0M1252.7 392.0h0M1265.2 304.9h0M1249.5 446.4h0M1261.5 339.6h0M1255.2 384.7h0M1260.4 319.0h0M1269.7 291.2h0M1254.0 393.7h0M1249.7 446.8h0M1258.8 330.3h0M1268.5 293.6h0M1253.8 360.5h0M1248.1 427.0h0M1345.9 144.2h0M1278.6 242.1h0M1249.9 439.8h0M1249.8 428.3h0M1251.9 419.5h0M1271.7 286.0h0M1245.2 504.4h0M1261.3 312.5h0"/>
<path stroke="#25848e" d="M1243.3 431.4h0M1293.2 196.3h0M1244.6 425.9h0M1287.9 199.0h0M1275.8 240.6h0M1325.3 144.2h0M1314.7 154.3h0M1246.1 406.8h0M1251.0 371.4h0M1273.4 252.3h0M1251.5 358.4h0M1257.2 330.2h0M1259.7 314.1h0M1261.9 303.2h0M1286.1 197.7h0M1245.8 425.5h0M1253.5 344.5h0M1259.0 306.1h0M1275.6 221.9h0M1250.2 380.5h0M1249.7 384.7h0M1264.0 279.3h0M1293.7 185.5h0M1260.2 289.4h0M1256.1 323.9h0M1261.3 272.4h0M1247.2 422.0h0M1257.2 327.3h0M1248.4 370.2h0M1244.3 453.2h0M1261.3 283.8h0M1260.5 311.6h0M1270.5 240.8h0M1257.0 321.1h0M1255.4 315.8h0M1249.8 385.3h0M1245.6 432.8h0M1280.5 216.1h0M1257.0 322.8h0M1247.4 410.8h0M1259.3 296.6h0M1271.9 241.8h0M1262.8 269.2h0M1250.0 359.5h0M1249.5 369.7h0M1248.5 377.1h0M1281.7 221.3h0M1257.9 301.0h0M1284.1 201.7h0M1254.4 351.5h0M1250.6 388.1h0"/>
<path stroke="#24868e" d="M1247.6 331.1h0M1244.4 383.1h0M1263.6 233.2h0M1259.1 247.4h0M1247.6 322.2h0M1267.2 233.8h0M1264.0 240.9h0M1244.3 355.2h0M1254.4 281.4h0M1245.6 385.3h0M1251.7 287.4h0M1242.4 422.5h0M1244.9 367.5h0M1246.4 352.6h0M1251.1 324.0h0M1249.0 340.1h0M1247.3 334.2h0M1245.1 351.9h0M1272.6 220.9h0M1241.6 430.4h0M1245.7 336.0h0M1277.8 197.3h0M1265.9 246.5h0M1258.7 275.5h0M1243.4 381.0h0M1249.7 335.7h0M1241.2 424.7h0M1252.1 285.8h0M1262.9 243.8h0M1290.6 171.2h0M1255.1 297.4h0M1251.5 331.5h0M1251.1 304.9h0M1247.6 322.4h0M1252.6 298.6h0M1255.7 275.9h0M1260.2 240.9h0M1341.1 129.3h0M1245.7 358.3h0M1246.6 327.4h0"/>
<path stroke="#23888e" d="M1265.7 213.1h0M1259.7 235.3h0M1268.9 183.6h0M1243.2 309.1h0M1249.2 275.8h0M1268.9 198.9h0M1247.3 277.3h0M1265.6 192.3h0M1288.7 157.8h0M1248.4 263.6h0M1276.1 178.8h0M1307.7 131.7h0M1246.8 274.0h0M1262.7 201.7h0M1245.9 302.6h0M1245.3 313.3h0M1241.3 348.7h0M1260.7 220.2h0M1261.4 232.3h0M1241.3 342.1h0M1237.7 406.4h0M1238.5 428.8h0M1248.3 292.0h0M1255.3 225.2h0M1242.8 340.6h0M1273.1 193.4h0M1276.9 186.8h0M1243.5 314.9h0M1242.2 333.1h0M1241.9 354.3h0M1246.5 273.6h0M1280.2 176.4h0M1260.2 211.2h0M1241.8 372.0h0M1246.9 287.7h0M1245.0 286.5h0M1237.0 390.2h0M1237.3 429.9h0M1249.8 281.6h0M1239.9 387.3h0M1243.5 339.1h0M1243.8 305.7h0M1238.6 374.2h0M1260.7 207.9h0M1282.4 177.1h0M1250.3 269.2h0M1245.5 336.4h0M1267.9 183.5h0M1252.6 248.6h0M1236.9 402.2h0M1257.5 240.8h0M1239.3 368.6h0"/>
<path stroke="#238a8d" d="M1254.7 220.1h0M1238.2 295.3h0M1242.8 257.5h0M1251.3 220.3h0M1244.7 278.5h0M1238.6 336.8h0M1263.2 169.3h0M1274.2 140.2h0M1245.2 265.5h0M1254.7 222.9h0M1251.5 205.7h0M1245.4 281.5h0M1246.4 273.2h0M1268.6 161.2h0M1248.4 256.0h0M1257.2 197.3h0M1249.9 219.6h0M1258.8 207.7h0M1249.1 225.0h0M1249.7 212.4h0M1259.9 186.4h0M1283.6 133.6h0M1244.3 277.1h0M1231.9 404.4h0M1242.7 282.4h0M1281.5 149.4h0M1266.7 155.1h0M1257.0 203.1h0M1244.7 240.8h0M1239.0 286.8h0M1239.9 298.6h0M1268.9 151.6h0M1276.2 146.4h0M1239.1 294.7h0M1290.1 122.7h0M1232.0 403.4h0M1246.2 252.1h0M1243.0 249.0h0M1239.1 281.1h0"/>
<path stroke="#228c8d" d="M1250.2 167.5h0M1241.5 234.5h0M1255.4 172.2h0M1248.6 194.8h0M1245.1 206.5h0M1301.7 95.9h0M1325.0 94.3h0M1249.4 181.3h0M1245.0 225.3h0M1249.5 176.7h0M1234.3 299.5h0M1252.4 175.8h0M1232.7 297.5h0M1260.5 147.5h0M1239.6 228.1h0M1239.0 238.3h0M1253.4 184.9h0M1247.0 164.4h0M1266.3 143.8h0M1239.9 233.5h0M1254.7 145.3h0M1244.5 206.0h0M1238.3 228.9h0M1260.3 165.3h0M1251.9 149.9h0M1245.6 182.2h0M1235.1 237.2h0M1281.6 107.6h0M1248.0 174.7h0M1260.1 133.2h0M1238.1 249.4h0M1256.8 167.2h0M1241.1 225.5h0M1242.5 235.3h0M1241.3 201.6h0M1249.6 196.7h0M1244.3 176.9h0M1239.6 221.9h0M1232.5 310.1h0M1239.0 220.5h0M1255.4 177.6h0M1272.5 120.2h0M1251.0 168.0h0M1268.9 137.3h0M1262.6 131.5h0M1238.1 251.4h0M1245.9 190.5h0M1240.6 252.9h0M1261.1 161.4h0M1251.5 151.7h0M1248.9 204.1h0M1230.1 384.2h0M1235.6 304.6h0M1250.0 186.1h0M1244.0 194.5h0M1263.1 158.6h0M1246.2 210.4h0M1243.6 225.4h0M1235.5 293.8h0M1247.6 210.4h0M1249.8 187.4h0M1244.1 193.7h0M1232.9 293.2h0M1235.7 245.4h0"/>
<path stroke="#218e8d" d="M1258.6 97.5h0M1271.9 108.5h0M1240.5 137.2h0M1257.5 125.6h0M1273.3 88.3h0M1240.7 178.1h0M1247.1 128.5h0M1244.4 143.5h0M1244.5 122.6h0M1287.5 98.2h0M1263.7 115.6h0M1246.2 134.1h0M1291.5 79.5h0M1241.8 179.8h0M1250.1 146.3h0M1245.0 137.0h0M1247.6 116.2h0M1242.3 153.9h0M1284.6 96.3h0M1245.9 141.4h0M1243.7 158.0h0M1241.9 126.1h0M1242.6 179.9h0M1244.6 116.8h0M1264.3 107.4h0M1237.7 179.1h0M1242.9 159.7h0M1250.3 106.5h0M1260.9 99.5h0M1235.0 205.0h0M1267.6 91.6h0M1242.1 121.7h0M1242.0 131.8h0M1242.2 181.5h0M1249.2 124.6h0M1241.6 137.7h0M1243.9 143.1h0M1251.2 131.5h0M1261.1 117.0h0M1245.4 152.6h0M1253.6 102.6h0M1249.4 153.7h0M1245.0 163.6h0M1249.1 150.9h0M1238.2 151.9h0M1237.6 182.3h0M1239.3 137.3h0M1264.7 112.0h0"/>
<path stroke="#21908d" d="M1248.9 97.0h0M1241.5 74.7h0M1246.8 92.8h0M1240.9 64.0h0M1239.5 57.7h0M1247.4 106.1h0M1240.0 83.7h0M1272.3 83.0h0M1249.5 70.7h0M1249.0 92.1h0M1225.2 57.0h0M1256.4 58.9h0M1236.4 57.3h0M1252.1 73.8h0M1263.5 89.9h0M1232.9 56.8h0M1239.2 116.1h0M1250.2 66.9h0M1239.1 67.6h0M1241.3 77.2h0M1249.7 71.1h0M1230.9 57.4h0M1257.9 94.5h0M1249.5 88.6h0M1244.0 90.7h0M1236.6 112.4h0M1251.5 95.7h0M1232.1 57.7h0M1243.4 113.8h0M1233.7 83.3h0M1247.8 95.4h0M1240.7 100.1h0M1252.0 62.6h0M1255.1 97.5h0M1241.5 62.0h0M1228.6 167.9h0M1308.2 67.9h0M1241.7 119.1h0M1250.3 81.6h0M1288.1 71.5h0M1227.7 165.4h0M1231.6 87.1h0M1251.2 83.2h0M1242.5 72.5h0M1230.2 169.9h0M1273.2 81.8h0M1241.7 86.6h0M1244.5 99.1h0M1239.4 59.1h0M1242.3 58.8h0"/>
<path stroke="#20928c" d="M1185.1 75.7h0M1211.1 56.9h0M1197.4 121.1h0M1195.1 62.2h0M1182.7 81.9h0M1142.2 58.9h0M1193.6 120.8h0M1189.4 73.5h0M1175.0 82.7h0M1181.7 71.3h0M1181.2 94.7h0M1192.0 89.3h0M1155.9 66.8h0M1186.7 97.0h0M1181.6 89.6h0M1185.7 65.6h0M1139.2 64.7h0M1184.9 73.2h0M1187.0 84.9h0M1183.5 69.7h0M1194.0 118.6h0M1198.5 120.1h0M1182.0 68.0h0M1157.5 68.9h0M1137.3 65.9h0M1195.7 118.1h0M1192.1 93.6h0M1189.7 73.8h0M1184.7 96.1h0M1190.9 59.7h0M1179.6 91.7h0M1198.1 88.1h0M1201.4 58.0h0M1192.6 114.3h0M1154.5 57.7h0M1189.8 64.8h0M1176.7 79.1h0M1198.9 90.0h0M1206.3 56.9h0M1199.0 101.4h0M1207.8 57.5h0M1181.0 73.1h0M1176.3 89.2h0M1193.7 109.7h0M1187.7 59.3h0M1203.6 105.2h0M1189.6 75.9h0"/>
<path stroke="#20938c" d="M1192.3 169.3h0M1188.2 110.5h0M1175.5 98.3h0M1186.9 141.7h0M1180.4 105.4h0M1135.4 80.8h0M1187.8 141.3h0M1175.7 129.5h0M1182.6 108.5h0M1195.2 193.9h0M1192.6 121.4h0M1192.6 143.5h0M1174.7 109.9h0M1212.6 427.7h0M1198.0 189.0h0M1186.4 135.2h0M1197.6 210.6h0M1190.4 151.4h0M1182.8 135.6h0M1168.8 114.7h0M1185.8 144.0h0M1168.8 117.0h0M1183.8 132.5h0M1173.9 99.0h0M1183.6 124.0h0M1190.2 122.4h0M1195.4 154.4h0M1196.2 186.5h0M1189.8 132.3h0M1192.7 156.4h0M1135.4 91.6h0M1196.0 156.3h0M1192.8 131.7h0M1191.5 141.4h0M1189.0 156.6h0M1183.7 104.4h0M1191.3 165.8h0M1174.3 127.0h0M1149.4 102.2h0M1192.3 149.3h0M1198.5 153.8h0M1190.9 119.8h0M1176.3 99.5h0M1192.1 158.4h0M1191.4 137.3h0M1197.6 188.4h0M1191.3 160.8h0M1202.9 212.2h0M1184.4 112.8h0M1190.4 128.3h0M1194.1 174.6h0M1198.0 185.6h0M1187.6 152.6h0M1193.4 134.8h0"/>
<path stroke="#1f958b" d="M1159.6 133.2h0M1193.3 200.8h0M1177.0 169.3h0M1190.6 217.0h0M1181.6 162.9h0M1163.9 135.4h0M1196.2 236.5h0M1181.7 161.6h0M1194.6 233.0h0M1185.0 169.5h0M1176.5 151.5h0M1157.6 124.1h0M1191.7 206.6h0M1192.6 187.1h0M1194.0 214.5h0M1176.4 157.8h0M1187.8 172.2h0M1188.6 170.9h0M1189.2 218.7h0M1181.3 153.2h0M1190.9 181.8h0M1154.3 114.3h0M1190.6 191.6h0M1176.8 165.0h0M1194.3 219.2h0M1206.5 416.7h0M1149.2 122.5h0M1203.3 293.0h0M1201.7 338.5h0M1185.4 183.0h0M1181.0 150.2h0M1202.4 263.8h0M1185.7 156.5h0M1201.2 295.9h0M1202.8 344.6h0M1196.2 238.0h0"/>
<path stroke="#1f978b" d="M1180.6 205.1h0M1151.2 138.0h0M1183.5 206.1h0M1187.1 232.0h0M1192.3 287.0h0M1183.8 232.8h0M1190.0 235.0h0M1191.8 259.2h0M1164.1 145.5h0M1179.9 212.6h0M1188.1 263.8h0M1190.6 231.9h0M1160.6 150.1h0M1163.0 163.5h0M1190.8 237.5h0M1203.2 449.7h0M1192.4 270.0h0M1189.6 230.8h0M1180.1 192.3h0M1189.8 239.0h0M1193.8 286.0h0M1193.1 250.1h0M1192.3 249.6h0M1192.5 289.8h0M1179.5 182.5h0M1172.3 179.6h0M1192.5 266.9h0M1183.7 239.4h0M1171.6 168.4h0M1190.7 251.0h0M1171.3 188.6h0M1197.9 299.2h0M1178.3 177.3h0M1158.5 135.9h0M1188.3 242.4h0M1192.2 255.1h0M1194.9 300.9h0M1188.6 220.9h0M1181.1 225.4h0"/>
<path stroke="#1f998a" d="M1162.1 169.1h0M1176.6 234.3h0M1167.0 203.0h0M1191.5 301.5h0M1191.8 349.8h0M1187.1 302.3h0M1185.0 273.7h0M1191.9 353.6h0M1186.0 271.3h0M1158.4 174.2h0M1169.4 189.7h0M1180.7 260.1h0M1191.8 344.7h0M1199.1 455.7h0M1192.4 347.0h0M1191.1 302.4h0M1152.9 161.3h0M1196.5 390.4h0M1180.5 248.0h0M1186.8 269.9h0M1187.9 297.8h0M1187.4 299.1h0M1181.0 232.1h0M1199.5 450.4h0M1179.6 243.4h0M1171.2 223.9h0M1195.0 387.1h0M1202.0 454.6h0M1192.6 346.1h0M1193.4 355.5h0M1199.8 409.1h0M1195.6 352.0h0M1181.2 235.2h0M1191.0 293.3h0M1190.5 320.6h0M1197.0 409.5h0M1181.3 267.8h0M1191.9 327.4h0M1195.6 355.0h0M1176.1 223.8h0M1195.8 395.2h0M1187.4 286.5h0M1201.0 456.1h0M1197.3 410.5h0M1187.9 311.0h0"/>
<path stroke="#1e9b8a" d="M1188.2 372.3h0M1184.3 310.7h0M1191.6 399.5h0M1189.0 338.7h0M1180.5 301.6h0M1181.8 309.4h0M1186.5 308.2h0M1187.7 355.8h0M1186.4 346.4h0M1191.5 358.7h0M1185.9 333.4h0M1188.9 364.1h0M1180.6 288.4h0M1190.1 374.1h0M1189.1 349.7h0M1172.0 228.5h0M1157.6 186.4h0M1186.4 313.7h0M1195.1 453.6h0M1183.1 308.7h0M1150.8 181.7h0M1186.6 324.3h0M1193.3 411.0h0M1188.4 324.5h0M1193.6 392.6h0M1197.2 449.7h0M1184.4 329.0h0M1188.8 351.7h0M1191.7 404.6h0M1190.3 389.4h0M1176.3 247.3h0M1186.5 349.3h0M1165.1 208.0h0M1183.3 290.9h0M1193.5 386.3h0M1182.1 298.2h0M1185.8 315.6h0M1192.5 394.0h0M1183.7 323.7h0M1180.1 283.8h0M1187.5 343.5h0"/>
<path stroke="#1e9d89" d="M1172.8 298.8h0M1186.1 375.1h0M1185.4 377.3h0M1171.1 270.6h0M1179.7 332.0h0M1183.2 340.7h0M1183.7 336.0h0M1185.5 385.9h0M1173.7 269.2h0M1173.4 275.0h0M1190.8 430.9h0M1154.1 206.6h0M1172.0 294.6h0M1161.7 242.7h0M1178.0 301.5h0M1166.3 268.5h0M1188.8 432.7h0M1179.3 339.0h0M1189.1 405.2h0M1189.7 427.8h0M1188.3 420.2h0M1187.9 416.5h0M1174.9 275.0h0M1163.3 247.2h0M1186.4 404.3h0M1134.7 186.3h0M1119.8 153.3h0M1191.6 427.4h0M1190.3 424.5h0M1185.5 364.7h0M1191.3 410.3h0M1186.7 364.5h0M1185.4 352.8h0"/>
<path stroke="#1f9f88" d="M1035.7 122.4h0M1156.0 252.9h0M1183.4 404.7h0M1144.9 210.9h0M1170.1 314.9h0M1181.5 358.7h0M1156.3 256.6h0M1184.7 412.9h0M1185.3 410.6h0M1178.8 359.6h0M1168.3 288.5h0M1184.4 427.9h0M1183.5 417.1h0M1186.8 439.2h0M1181.5 380.7h0M1162.3 272.2h0M1184.6 393.3h0M1186.1 442.3h0M1178.9 349.6h0M1190.2 482.1h0M1156.3 248.6h0M1186.7 410.6h0M1187.8 424.9h0M1181.2 389.1h0M1188.4 435.9h0M1099.3 155.5h0M1178.7 372.3h0M1165.6 292.1h0"/>
<path stroke="#1fa188" d="M1185.1 438.7h0M1177.2 370.2h0M1189.3 508.7h0M1156.5 264.8h0M1165.8 321.9h0M1188.7 505.1h0M1185.4 482.4h0M1088.1 158.4h0M1184.1 449.5h0M1149.0 246.0h0M1186.6 459.9h0M1178.5 388.4h0M1147.0 254.2h0M1170.8 329.7h0M1182.3 431.8h0M1157.1 281.9h0M1180.7 415.4h0M1185.7 448.6h0M1168.7 311.5h0M1184.9 483.2h0M1185.7 451.6h0M1184.8 461.9h0M1166.2 301.5h0M1183.3 443.7h0M1185.0 463.7h0M1162.6 300.1h0M1175.6 382.7h0M1185.1 477.4h0"/>
<path stroke="#1fa287" d="M1173.0 399.7h0M1179.2 456.5h0M1164.4 338.6h0M1178.2 444.5h0M1179.3 450.2h0M1177.8 413.2h0M1175.8 417.3h0M1176.5 429.6h0M1180.5 450.8h0M1182.1 478.8h0M1175.7 398.7h0M1165.1 335.5h0M1180.7 437.1h0M1176.9 431.5h0M1172.8 395.9h0M1182.7 463.9h0M1167.5 340.7h0M1171.7 393.8h0M1184.0 497.7h0M1165.0 332.0h0"/>
<path stroke="#20a486" d="M1143.0 277.1h0M1175.2 434.0h0M1081.1 178.3h0M1169.5 406.0h0M1178.9 495.8h0M1167.8 381.5h0M1181.1 483.8h0M1175.3 456.3h0M1145.3 275.5h0M1179.2 494.0h0M1138.9 264.7h0M1146.3 276.1h0M1166.9 393.3h0M1139.2 257.7h0M1172.2 408.7h0M1167.8 392.9h0M1174.8 438.7h0M1160.5 345.2h0M1179.9 478.7h0M1161.7 335.0h0M1173.6 443.4h0M1170.4 403.3h0M1172.1 412.3h0"/>
<path stroke="#21a685" d="M1173.3 448.6h0M1151.1 330.9h0M1170.3 418.9h0M1177.2 498.6h0M1170.8 439.6h0M1157.7 361.4h0M1149.8 313.1h0M1177.9 503.8h0M1160.3 375.6h0M1162.8 370.5h0M1171.7 457.1h0"/>
<path stroke="#22a884" d="M1125.1 269.4h0M1123.5 256.5h0M1171.3 467.3h0M1168.7 459.0h0M1164.0 420.3h0M1142.6 323.1h0M1162.5 420.1h0M1172.9 492.8h0M1131.2 289.7h0M1136.7 295.7h0M1171.9 486.6h0M1154.2 357.6h0M1172.8 474.2h0M1158.7 396.5h0M1172.5 486.6h0"/>
<path stroke="#24aa83" d="M1160.0 415.5h0M1155.9 395.4h0M1172.2 508.6h0M1137.5 315.6h0M1162.4 430.2h0M1158.7 403.1h0M1165.9 466.2h0M1171.4 501.7h0M1148.3 358.8h0M1161.1 441.0h0M1162.0 423.0h0M1167.0 465.6h0M1163.9 447.4h0M1166.0 465.7h0M1134.6 302.1h0M1166.8 454.8h0M1160.0 426.4h0M1171.9 508.3h0"/>
<path stroke="#25ac82" d="M1164.3 464.7h0M1168.8 503.7h0M1124.0 294.1h0M1164.2 471.2h0M1107.6 256.0h0M1167.4 504.9h0M1136.6 339.4h0M1067.6 210.5h0M1158.0 445.3h0M1162.5 468.7h0M1168.3 512.8h0M1165.0 496.4h0M1146.5 379.0h0"/>
<path stroke="#27ad81" d="M1098.3 258.9h0M1056.1 204.5h0M1155.1 450.1h0M1160.3 469.9h0M1162.9 492.3h0M1162.1 482.6h0M1144.6 388.2h0"/>
<path stroke="#29af7f" d="M1163.0 512.8h0M1107.5 290.1h0M1157.1 491.4h0M1153.2 447.0h0M1087.7 250.5h0M1153.8 464.4h0M1150.0 440.2h0"/>
<path stroke="#2cb17e" d="M1036.9 210.0h0M1154.7 500.1h0M1156.3 488.1h0M1154.6 484.5h0M1105.3 300.9h0M1116.6 319.3h0M1124.1 339.9h0M1153.0 487.4h0M1138.5 394.2h0"/>
<path stroke="#2eb37c" d="M1131.1 395.2h0M1154.5 508.8h0M1148.7 484.0h0M1132.5 403.0h0M1142.7 438.2h0M1149.6 473.2h0M1139.4 427.9h0"/>
<path stroke="#31b57b" d="M1109.1 337.7h0M1102.3 320.4h0M1147.1 482.1h0M1129.9 401.9h0M1149.0 509.1h0M1144.5 465.6h0"/>
<path stroke="#34b679" d="M1145.5 488.9h0M1137.5 461.3h0M1143.2 478.3h0"/>
<path stroke="#37b878" d="M1108.4 362.0h0M1140.1 496.5h0M1139.8 493.3h0M1143.1 504.3h0"/>
<path stroke="#3aba76" d="M1073.2 297.6h0M1133.0 473.7h0M1101.5 354.0h0M1136.1 490.6h0M1138.3 504.7h0M1138.0 505.6h0M1114.4 396.7h0M1130.4 457.0h0"/>
<path stroke="#3dbc74" d="M1129.6 468.8h0M1090.2 342.1h0M1029.0 248.4h0M1137.5 512.8h0M1108.7 389.7h0M1137.1 512.8h0M1097.3 357.9h0"/>
<path stroke="#40bd72" d="M1109.9 411.9h0M1132.4 507.2h0M1126.6 479.5h0M1068.1 312.8h0M1126.1 481.5h0M1082.6 335.2h0M1134.4 512.8h0"/>
<path stroke="#44bf70" d="M1107.8 418.4h0M1089.1 366.0h0M1122.7 477.0h0"/>
<path stroke="#48c16e" d="M1052.5 306.8h0M1098.2 403.1h0M1092.7 385.7h0M1098.4 407.1h0"/>
<path stroke="#4cc26c" d="M1099.8 424.6h0"/>
<path stroke="#50c46a" d="M1087.6 398.9h0M1087.2 394.7h0M1110.2 465.6h0"/>
<path stroke="#54c568" d="M1085.8 408.9h0M1106.9 466.1h0M1091.8 422.3h0"/>
<path stroke="#58c765" d="M1050.1 340.7h0M1099.5 462.7h0M1109.7 493.4h0M1102.2 465.2h0"/>
<path stroke="#5cc863" d="M1110.3 512.8h0M1109.1 512.8h0"/>
<path stroke="#60ca60" d="M1107.4 508.8h0M1082.8 437.3h0M1088.6 452.6h0"/>
<path stroke="#65cb5e" d="M1095.4 488.8h0M1056.1 381.3h0M1096.8 483.4h0"/>
<path stroke="#69cd5b" d="M1080.5 442.8h0"/>
<path stroke="#6ece58" d="M1073.7 442.6h0M1090.0 486.3h0"/>
<path stroke="#73d056" d="M1093.3 512.8h0M1078.1 464.6h0M1065.1 427.4h0M1088.1 492.5h0"/>
<path stroke="#77d153" d="M1090.5 512.8h0M1050.2 405.7h0M1085.8 498.7h0"/>
<path stroke="#7cd250" d="M1081.0 491.7h0"/>
<path stroke="#81d34d" d="M1042.9 410.0h0"/>
<path stroke="#86d549" d="M1072.5 493.0h0M1079.0 512.8h0M1022.8 381.2h0"/>
<path stroke="#8bd646" d="M1061.8 471.5h0"/>
<path stroke="#95d840" d="M1068.8 512.8h0M1070.3 512.8h0M1068.2 512.8h0M1041.3 444.4h0"/>
<path stroke="#9bd93c" d="M1064.3 512.8h0"/>
<path stroke="#a0da39" d="M1063.6 512.8h0M1036.7 451.5h0"/>
<path stroke="#a5db36" d="M1058.3 512.8h0M1041.4 463.6h0M1060.3 512.8h0M1057.0 512.8h0"/>
<path stroke="#aadc32" d="M1055.1 512.8h0"/>
<path stroke="#b0dd2f" d="M1051.3 512.8h0M1053.0 512.8h0M1040.2 478.0h0"/>
<path stroke="#b5de2b" d="M985.3 390.1h0"/>
<path stroke="#bade28" d="M1003.8 420.8h0M948.8 348.3h0"/>
<path stroke="#c0df25" d="M1042.3 512.8h0M1037.2 500.8h0"/>
<path stroke="#d0e11c" d="M1030.2 512.8h0"/>
<path stroke="#d5e21a" d="M1026.8 512.8h0"/>
<path stroke="#dae319" d="M1025.5 512.8h0M1024.1 512.8h0M1025.7 512.8h0"/>
<path stroke="#dfe318" d="M1020.1 512.8h0"/>
<path stroke="#e5e419" d="M1018.5 512.8h0M1017.1 512.8h0"/>
<path stroke="#efe51c" d="M1002.8 493.4h0M1009.2 512.8h0"/>
<path stroke="#f4e61e" d="M1008.3 512.8h0"/>
<path stroke="#fde725" d="M967.3 512.8h0M965.6 505.9h0M972.7 512.8h0M955.0 485.0h0"/>
<path stroke="#440256" d="M1483.7 465.8h0"/>
<path stroke="#481467" d="M1417.9 507.8h0"/>
<path stroke="#481769" d="M1414.3 507.3h0M1418.4 496.8h0"/>
<path stroke="#481c6e" d="M1464.7 403.1h0"/>
<path stroke="#482979" d="M1402.3 478.3h0"/>
<path stroke="#472c7a" d="M1455.6 375.2h0"/>
<path stroke="#472e7c" d="M1383.6 498.4h0"/>
<path stroke="#46307e" d="M1380.9 504.7h0"/>
<path stroke="#453581" d="M1371.5 512.8h0M1371.0 512.8h0"/>
<path stroke="#443a83" d="M1364.8 512.8h0"/>
<path stroke="#433d84" d="M1361.7 505.1h0"/>
<path stroke="#423f85" d="M1362.7 494.7h0M1447.7 333.0h0"/>
<path stroke="#3f4889" d="M1348.3 493.3h0M1364.4 448.9h0"/>
<path stroke="#3e4a89" d="M1337.7 512.8h0M1355.1 454.7h0"/>
<path stroke="#3c4f8a" d="M1335.2 499.5h0"/>
<path stroke="#3a538b" d="M1326.0 512.8h0M1329.7 498.3h0M1337.0 468.3h0M1325.1 512.8h0"/>
<path stroke="#39558c" d="M1324.7 496.9h0M1329.6 487.1h0M1322.1 510.5h0"/>
<path stroke="#375a8c" d="M1313.8 512.8h0"/>
<path stroke="#365c8d" d="M1313.9 502.2h0M1322.8 469.4h0M1312.7 504.3h0"/>
<path stroke="#355e8d" d="M1318.1 460.7h0M1344.5 388.7h0M1309.0 512.8h0M1308.0 512.8h0"/>
<path stroke="#34608d" d="M1329.4 412.9h0M1324.6 432.3h0M1348.3 362.0h0M1313.8 463.4h0"/>
<path stroke="#33628d" d="M1309.6 479.8h0"/>
<path stroke="#32648e" d="M1322.1 404.6h0M1356.7 323.6h0"/>
<path stroke="#31668e" d="M1295.1 506.8h0M1294.0 512.8h0M1353.3 313.3h0M1294.9 505.0h0"/>
<path stroke="#31688e" d="M1299.7 466.3h0M1293.3 498.3h0M1297.9 472.6h0M1295.2 487.9h0M1331.9 353.1h0M1298.8 473.4h0"/>
<path stroke="#306a8e" d="M1306.7 418.3h0M1295.1 478.5h0M1288.1 502.8h0M1296.6 471.7h0M1310.5 397.4h0"/>
<path stroke="#2f6c8e" d="M1463.5 182.9h0M1316.0 370.1h0M1286.7 507.1h0M1283.8 510.8h0"/>
<path stroke="#2e6e8e" d="M1283.7 484.1h0M1291.8 444.5h0M1295.8 424.2h0M1281.7 504.7h0M1306.9 387.3h0"/>
<path stroke="#2d708e" d="M1295.2 408.7h0M1289.8 438.0h0"/>
<path stroke="#2c718e" d="M1317.3 318.8h0M1289.7 409.9h0M1292.7 402.0h0"/>
<path stroke="#2c738e" d="M1271.0 512.8h0M1273.6 496.1h0M1283.8 419.7h0M1292.6 373.4h0M1272.8 488.5h0M1281.6 440.7h0M1291.3 390.5h0M1292.9 373.4h0"/>
<path stroke="#2b758e" d="M1274.2 453.3h0M1278.6 416.3h0M1267.7 499.2h0M1269.4 494.1h0M1295.6 356.1h0M1274.0 452.2h0M1279.7 420.3h0M1276.8 449.5h0M1276.3 431.0h0M1277.0 450.5h0M1288.8 369.0h0"/>
<path stroke="#2a778e" d="M1292.3 333.6h0M1280.3 389.8h0M1304.1 303.2h0M1265.4 498.7h0M1291.5 344.8h0M1275.4 429.5h0M1267.4 484.4h0M1268.0 482.4h0M1290.3 346.6h0M1297.8 326.2h0M1264.8 507.4h0M1269.2 454.1h0M1265.9 509.7h0M1268.6 478.7h0M1295.3 318.6h0"/>
<path stroke="#29798e" d="M1261.5 493.0h0M1265.0 471.8h0M1261.3 508.3h0M1287.5 338.8h0M1268.6 440.6h0M1289.8 327.7h0M1269.4 425.7h0M1274.9 400.8h0M1271.7 409.9h0M1262.8 501.8h0"/>
<path stroke="#297b8e" d="M1263.5 439.1h0M1285.2 315.6h0M1278.8 361.1h0M1263.8 444.3h0M1274.2 368.9h0M1261.3 474.2h0M1277.5 350.8h0M1271.6 378.8h0M1267.4 421.3h0M1293.4 295.7h0M1298.1 283.1h0M1261.9 462.2h0M1297.2 272.9h0M1261.5 449.5h0M1260.0 475.5h0M1266.1 426.5h0M1267.9 402.2h0"/>
<path stroke="#287d8e" d="M1267.4 397.7h0M1299.8 251.6h0M1257.0 491.1h0M1259.7 457.2h0M1261.4 422.6h0M1255.1 475.9h0M1253.8 505.6h0M1299.8 246.8h0M1276.4 328.6h0M1260.0 461.8h0M1258.0 455.0h0M1258.8 450.4h0M1323.1 214.8h0M1255.6 498.1h0M1271.4 365.0h0M1280.9 327.6h0M1262.9 415.2h0M1253.7 499.4h0M1277.6 338.8h0"/>
<path stroke="#277f8e" d="M1254.9 465.6h0M1261.7 410.4h0M1260.2 416.2h0M1256.1 445.8h0M1271.6 317.7h0M1280.9 287.4h0M1255.6 428.9h0M1257.1 436.0h0M1297.2 252.6h0M1257.6 414.9h0M1254.7 469.5h0M1262.8 394.6h0M1260.8 409.8h0M1252.0 501.1h0M1259.5 402.6h0M1305.8 229.5h0M1254.9 444.5h0M1284.9 285.9h0M1249.1 509.6h0M1266.1 349.9h0M1261.7 396.3h0M1251.3 495.8h0M1252.8 475.5h0M1252.7 496.4h0"/>
<path stroke="#26818e" d="M1248.6 488.4h0M1272.8 302.6h0M1251.9 444.8h0M1257.4 389.2h0M1254.5 436.7h0M1250.3 455.1h0M1276.4 287.4h0M1251.3 432.8h0M1256.6 382.6h0M1249.5 478.6h0M1253.0 453.1h0M1261.4 371.3h0M1255.5 414.4h0M1248.5 493.5h0M1264.6 337.1h0M1282.3 267.7h0M1245.8 501.2h0M1250.4 464.4h0M1259.1 375.1h0M1254.1 408.9h0M1248.7 475.9h0M1270.9 306.7h0M1295.0 223.9h0M1270.3 314.0h0M1298.6 227.9h0M1249.3 451.8h0M1263.8 359.3h0M1248.8 464.7h0"/>
<path stroke="#26828e" d="M1256.0 362.5h0M1248.4 430.4h0M1253.0 369.7h0M1251.5 399.3h0M1253.3 365.9h0M1244.5 482.0h0M1250.7 421.7h0M1248.2 430.5h0M1261.4 325.6h0M1268.9 293.4h0M1244.2 486.9h0M1244.3 507.4h0M1256.8 363.2h0M1246.0 449.2h0M1298.5 200.7h0M1270.6 285.3h0M1254.8 382.5h0M1251.4 425.0h0M1265.1 315.6h0M1244.7 490.3h0M1260.1 349.2h0M1245.4 452.3h0M1256.5 367.8h0M1260.2 342.8h0M1247.6 435.9h0M1243.8 499.4h0"/>
<path stroke="#25848e" d="M1241.1 500.7h0M1249.6 378.8h0M1280.4 212.8h0M1258.4 293.9h0M1251.8 359.3h0M1254.0 329.8h0M1243.1 447.6h0M1247.1 419.3h0M1253.3 343.4h0M1247.8 376.6h0M1251.9 368.6h0M1255.8 337.7h0M1247.7 390.7h0M1245.6 400.2h0M1239.7 503.1h0M1257.9 290.9h0M1284.9 206.2h0M1259.0 293.8h0M1247.6 418.0h0M1245.4 437.1h0M1268.2 262.8h0M1244.6 444.0h0M1261.1 280.1h0M1246.3 395.2h0M1253.8 354.6h0M1244.2 441.3h0M1241.1 507.6h0M1251.2 366.2h0M1251.6 359.4h0M1241.2 499.8h0M1242.4 438.9h0M1261.6 296.2h0M1259.1 316.9h0M1257.3 315.6h0M1249.2 364.2h0M1243.4 478.2h0M1251.0 367.0h0M1259.9 281.4h0M1241.1 472.6h0M1243.4 462.2h0M1242.2 478.0h0"/>
<path stroke="#24868e" d="M1244.1 393.8h0M1262.5 254.7h0M1237.0 502.7h0M1239.3 451.1h0M1265.4 223.0h0M1243.8 365.1h0M1237.9 474.8h0M1266.3 220.4h0M1251.4 291.0h0M1248.8 308.5h0M1241.1 402.0h0M1237.0 497.3h0M1240.1 423.8h0M1241.3 421.5h0M1250.5 322.0h0M1260.5 272.9h0M1239.6 420.7h0M1242.0 390.7h0M1244.2 377.0h0M1241.6 431.6h0M1248.7 349.0h0M1263.7 256.2h0M1240.7 431.0h0M1239.2 488.0h0M1238.1 448.7h0M1245.2 348.2h0M1238.4 505.1h0M1253.6 293.4h0M1246.1 349.2h0M1244.5 366.1h0M1251.3 296.0h0M1236.9 470.5h0M1244.0 396.2h0M1251.3 309.6h0M1260.3 248.1h0M1242.6 416.0h0M1237.7 467.1h0M1244.4 407.3h0M1283.6 191.0h0M1260.6 245.8h0M1241.7 442.8h0M1243.5 408.4h0M1236.3 503.1h0M1299.3 166.8h0"/>
<path stroke="#23888e" d="M1244.7 289.5h0M1252.3 244.0h0M1252.6 272.0h0M1268.1 184.4h0M1248.2 300.7h0M1242.7 338.8h0M1247.2 314.0h0M1243.4 328.4h0M1239.7 352.2h0M1256.8 233.5h0M1238.3 406.0h0M1234.2 475.4h0M1238.8 377.4h0M1240.7 391.2h0M1245.3 322.6h0M1246.6 324.7h0M1244.4 316.9h0M1237.4 423.7h0M1234.0 476.5h0M1256.1 254.9h0M1242.5 324.1h0M1257.1 225.6h0M1235.7 421.9h0M1253.2 273.7h0M1259.2 223.8h0M1261.4 205.8h0M1236.5 426.1h0M1252.4 260.0h0M1243.4 337.8h0M1235.9 477.1h0M1239.8 375.3h0M1251.2 265.0h0M1235.5 493.3h0M1265.5 201.2h0M1250.1 252.4h0M1239.0 404.6h0M1240.6 383.3h0M1243.5 357.0h0M1239.8 397.9h0M1236.1 464.5h0M1240.2 361.4h0"/>
<path stroke="#238a8d" d="M1233.5 362.9h0M1244.3 249.5h0M1242.7 246.5h0M1233.5 357.4h0M1241.9 296.1h0M1241.7 279.3h0M1239.1 345.8h0M1242.0 306.4h0M1242.7 286.6h0M1246.2 236.9h0M1240.9 266.0h0M1244.0 238.9h0M1234.6 349.5h0M1228.5 504.4h0M1228.3 499.8h0M1243.3 262.0h0M1244.7 268.8h0M1236.2 345.9h0M1258.8 184.5h0M1237.2 366.3h0M1238.5 334.9h0M1243.8 251.9h0M1235.4 394.1h0M1235.7 363.0h0M1236.6 334.9h0M1237.4 369.1h0M1230.2 492.5h0M1235.4 332.8h0M1248.3 223.5h0M1236.6 367.1h0M1241.3 298.5h0M1232.6 396.0h0M1232.0 474.0h0M1236.7 324.7h0M1242.5 273.9h0M1242.6 272.2h0M1251.2 241.7h0M1236.7 341.7h0M1229.5 496.8h0M1242.2 259.1h0M1237.4 321.6h0M1249.5 247.2h0M1258.6 197.7h0M1260.4 197.7h0M1230.2 474.2h0M1242.8 245.6h0M1242.9 292.6h0M1242.2 305.0h0M1253.5 230.0h0M1244.3 264.7h0M1256.9 188.3h0"/>
<path stroke="#228c8d" d="M1259.9 167.6h0M1230.1 403.2h0M1249.8 165.0h0M1243.9 190.8h0M1253.4 185.5h0M1242.0 196.9h0M1250.6 166.8h0M1232.4 298.2h0M1257.5 158.5h0M1227.2 394.1h0M1236.0 285.7h0M1293.1 112.7h0M1232.3 284.3h0M1241.9 219.4h0M1249.8 192.3h0M1232.5 300.0h0M1252.1 159.0h0M1232.2 297.4h0M1231.8 302.9h0M1240.3 244.6h0M1239.6 239.2h0M1236.1 248.0h0M1247.3 198.1h0M1239.0 219.7h0M1235.7 291.9h0M1242.8 204.3h0M1243.0 208.6h0M1241.6 192.6h0M1239.4 215.2h0M1258.2 169.7h0M1234.0 310.8h0M1230.7 405.7h0M1241.5 218.2h0M1238.1 225.9h0M1229.4 325.0h0M1231.4 294.7h0M1227.8 506.2h0M1237.0 240.7h0M1229.3 384.3h0M1231.0 408.2h0M1271.3 142.3h0M1235.9 312.5h0M1230.6 354.3h0M1238.6 253.0h0M1226.4 496.0h0M1272.1 140.0h0M1225.9 500.0h0M1237.8 276.7h0M1238.0 227.1h0M1288.8 101.5h0M1228.0 478.8h0M1238.9 254.5h0M1236.5 244.2h0M1237.3 232.1h0M1239.5 259.8h0M1240.0 202.9h0M1238.0 256.3h0M1242.4 216.9h0M1290.3 108.6h0M1247.1 200.7h0M1225.3 484.7h0M1228.1 389.6h0M1232.5 291.8h0M1226.4 493.4h0M1229.5 328.5h0M1262.2 132.4h0M1233.4 257.4h0M1245.0 175.5h0"/>
<path stroke="#218e8d" d="M1241.7 139.7h0M1233.4 164.7h0M1231.9 204.1h0M1230.3 244.8h0M1238.7 201.4h0M1235.4 176.4h0M1251.7 146.2h0M1239.3 191.6h0M1236.9 172.5h0M1245.9 147.6h0M1232.7 169.2h0M1235.2 175.1h0M1249.3 134.3h0M1249.4 153.1h0M1228.5 219.1h0M1229.2 247.0h0M1231.0 247.6h0M1238.4 161.4h0M1234.3 168.7h0M1239.4 130.1h0M1261.0 120.1h0M1226.0 357.1h0M1234.0 229.7h0M1234.1 164.1h0M1236.2 195.1h0M1230.3 203.1h0M1231.9 178.1h0M1234.7 192.1h0M1242.6 127.2h0M1228.9 296.2h0M1248.6 108.9h0M1238.2 185.9h0M1232.2 200.1h0M1225.1 358.0h0M1236.6 220.4h0M1230.3 294.3h0M1258.3 126.6h0M1230.9 226.1h0M1235.7 170.4h0M1266.5 111.9h0M1222.9 404.5h0M1234.1 239.2h0M1234.6 233.9h0M1225.5 267.2h0M1231.9 274.3h0M1229.3 293.7h0M1229.6 215.3h0M1245.4 127.2h0M1235.1 161.3h0M1233.1 242.5h0M1224.3 392.1h0M1244.7 120.3h0M1226.2 409.5h0M1225.2 404.7h0M1222.7 472.0h0M1230.1 227.4h0M1222.8 402.3h0M1240.4 163.8h0M1230.8 227.3h0M1223.5 485.1h0M1255.3 136.4h0M1227.9 255.8h0M1223.2 378.7h0M1233.9 218.0h0M1223.9 356.2h0M1222.2 501.7h0M1226.8 325.4h0M1232.7 252.9h0M1241.1 143.0h0M1273.2 98.0h0M1224.2 422.0h0"/>
<path stroke="#21908d" d="M1238.4 122.3h0M1250.3 82.5h0M1224.3 120.1h0M1256.1 82.0h0M1239.1 82.7h0M1245.8 106.6h0M1228.1 58.8h0M1242.6 79.2h0M1242.8 95.6h0M1226.4 225.7h0M1230.1 163.4h0M1240.8 109.2h0M1258.5 58.7h0M1236.1 118.4h0M1231.3 170.0h0M1230.1 163.4h0M1232.6 60.3h0M1236.8 87.9h0M1249.4 95.7h0M1250.3 94.2h0M1251.0 100.7h0M1240.3 62.9h0M1234.5 60.8h0M1230.2 100.1h0M1296.2 76.0h0M1247.8 60.7h0M1219.3 56.9h0M1252.5 92.6h0M1234.9 102.4h0M1227.1 99.6h0M1245.7 67.2h0M1263.9 81.3h0M1250.2 64.6h0M1227.4 130.5h0M1233.9 111.6h0M1220.7 308.0h0M1238.4 59.0h0M1234.3 98.0h0M1239.8 109.1h0M1221.5 56.9h0M1240.8 87.3h0M1244.9 102.2h0M1222.3 389.4h0M1240.5 104.1h0M1221.7 57.2h0M1239.9 106.1h0M1224.5 201.8h0M1219.1 393.2h0M1221.5 181.3h0M1224.0 104.9h0M1220.0 386.2h0M1237.8 93.4h0M1231.1 138.9h0M1234.2 137.0h0M1226.4 102.2h0M1230.5 160.3h0M1227.1 116.8h0M1238.9 70.0h0M1220.1 445.9h0M1218.0 314.0h0M1237.5 96.9h0M1249.2 57.3h0M1236.0 81.8h0M1221.9 394.6h0M1222.1 119.2h0M1225.1 130.0h0M1218.7 403.8h0M1224.3 238.4h0M1226.2 57.4h0M1234.5 139.6h0M1218.6 65.6h0M1225.7 168.4h0M1244.8 89.8h0M1238.7 86.0h0M1225.5 225.0h0M1227.3 161.6h0M1261.7 60.2h0M1231.9 71.7h0M1237.1 101.2h0M1220.0 505.4h0M1232.5 160.5h0M1238.9 69.9h0M1218.6 162.6h0M1223.2 57.3h0M1227.5 122.0h0M1221.4 419.0h0M1226.5 104.1h0"/>
<path stroke="#20928c" d="M1191.5 95.3h0M1209.0 196.8h0M1190.5 112.1h0M1196.9 58.5h0M1192.7 87.4h0M1210.7 249.9h0M1203.8 105.8h0M1150.1 77.7h0M1203.0 160.2h0M1207.0 192.2h0M1197.7 113.0h0M1190.0 67.2h0M1193.4 108.1h0M1195.8 116.4h0M1199.1 90.4h0M1206.1 189.5h0M1208.6 177.9h0M1207.3 160.5h0M1210.2 207.9h0M1187.3 97.2h0M1206.3 156.0h0M1216.4 277.6h0M1193.4 97.9h0M1193.4 89.1h0M1204.8 155.2h0M1210.3 58.1h0M1198.2 106.9h0M1199.9 113.4h0M1199.6 116.7h0M1194.4 97.8h0M1170.2 67.6h0M1203.8 58.6h0M1197.6 118.1h0M1192.3 82.5h0M1191.5 105.6h0M1207.5 147.6h0M1188.1 79.3h0M1199.2 85.7h0M1196.9 59.0h0M1209.8 244.7h0M1209.4 241.8h0M1210.4 247.7h0M1211.8 277.5h0M1193.3 93.3h0M1211.5 203.7h0M1210.6 195.9h0M1207.8 187.5h0M1213.1 57.0h0M1195.6 117.7h0M1198.8 110.0h0M1205.7 145.2h0M1215.9 161.4h0M1215.1 156.6h0M1194.8 91.6h0M1194.6 59.5h0M1213.5 276.5h0M1216.7 439.7h0M1208.0 143.0h0M1206.8 120.9h0M1209.7 214.9h0M1216.7 246.7h0M1214.7 246.2h0M1200.8 101.8h0M1213.7 317.2h0M1217.7 67.1h0M1193.4 78.8h0M1205.9 104.7h0M1203.7 122.5h0M1212.0 210.3h0M1192.0 115.8h0M1216.7 488.3h0M1198.8 133.2h0M1195.2 103.1h0M1216.1 504.0h0M1198.9 110.4h0M1217.0 400.2h0M1201.7 120.7h0M1203.3 60.5h0M1203.1 113.9h0M1217.0 189.6h0M1183.8 58.7h0M1216.5 250.2h0M1212.1 276.4h0M1210.8 128.5h0M1214.0 440.8h0M1198.6 120.0h0M1208.9 193.0h0M1212.0 187.4h0"/>
<path stroke="#20938c" d="M1185.3 148.2h0M1187.5 158.6h0M1199.5 152.5h0M1204.4 193.4h0M1182.8 128.8h0M1207.6 245.1h0M1206.7 212.2h0M1204.6 287.1h0M1196.8 146.3h0M1194.9 164.1h0M1185.6 125.7h0M1194.4 185.5h0M1206.2 233.9h0M1195.5 139.9h0M1206.8 235.2h0M1204.5 247.1h0M1193.4 126.5h0M1196.5 186.0h0M1209.6 267.4h0M1198.1 144.2h0M1189.0 116.6h0M1200.9 235.3h0M1196.0 173.8h0M1187.8 150.3h0M1174.4 93.5h0M1207.9 214.5h0M1200.8 176.3h0M1202.4 176.5h0M1178.8 97.3h0M1183.1 107.3h0M1198.8 141.1h0M1207.3 243.9h0M1189.5 122.2h0M1204.4 247.6h0M1196.3 200.7h0M1211.2 345.0h0M1202.9 179.7h0M1194.9 170.0h0M1141.9 86.8h0M1204.9 231.0h0M1140.1 77.4h0M1201.1 184.2h0M1192.6 140.7h0M1199.4 177.3h0M1206.3 286.7h0M1169.7 103.0h0M1186.3 118.7h0M1197.2 168.7h0M1182.0 114.6h0M1196.0 178.6h0M1198.5 139.9h0M1210.0 377.6h0M1203.1 195.4h0M1204.6 266.1h0M1204.1 281.2h0M1194.2 170.4h0M1210.5 435.7h0M1198.4 209.6h0M1193.0 149.7h0M1211.9 479.3h0M1206.6 326.4h0M1195.0 150.6h0M1195.6 164.4h0M1189.0 137.5h0M1200.7 150.5h0M1208.8 382.2h0M1201.4 158.0h0M1208.6 368.4h0M1194.2 125.1h0M1197.7 159.7h0M1179.5 135.6h0M1195.5 194.6h0M1197.9 182.9h0M1202.2 182.3h0M1198.8 179.1h0M1203.1 250.3h0M1200.1 215.3h0"/>
<path stroke="#1f958b" d="M1191.3 183.5h0M1203.2 368.3h0M1197.6 284.1h0M1177.0 159.8h0M1185.2 164.0h0M1201.2 310.3h0M1201.0 322.5h0M1202.2 323.1h0M1198.6 289.0h0M1195.9 250.1h0M1201.6 266.5h0M1188.5 186.9h0M1201.1 314.9h0M1198.5 289.4h0M1186.5 187.6h0M1180.4 160.6h0M1194.6 205.9h0M1199.0 229.6h0M1188.6 169.1h0M1189.7 207.2h0M1206.8 376.7h0M1193.8 239.9h0M1202.3 325.7h0M1200.6 247.4h0M1199.0 294.8h0M1196.2 201.9h0M1186.8 178.0h0M1205.5 313.2h0M1200.4 285.2h0M1206.7 343.0h0M1204.2 316.5h0M1201.3 307.1h0M1207.8 461.7h0M1201.0 296.7h0M1193.4 206.6h0M1204.7 347.9h0M1192.7 227.3h0M1204.2 373.9h0M1200.5 316.7h0M1196.0 209.5h0M1190.2 188.8h0M1191.4 186.4h0M1190.5 189.7h0M1196.6 254.0h0M1202.9 337.4h0M1203.1 281.4h0M1191.6 176.8h0M1208.4 459.3h0M1198.2 275.4h0M1192.6 223.5h0M1198.5 260.4h0M1203.0 322.6h0M1207.1 448.8h0M1197.7 229.1h0M1203.0 372.4h0M1208.2 414.9h0M1206.7 420.1h0M1208.7 431.0h0M1202.2 268.1h0M1197.1 225.9h0M1189.0 210.8h0M1203.1 370.5h0M1195.0 212.9h0M1200.8 288.4h0M1199.0 289.4h0M1209.7 486.7h0M1200.6 289.5h0M1177.4 160.2h0M1206.6 346.1h0M1200.8 288.4h0M1201.7 288.4h0"/>
<path stroke="#1f978b" d="M1194.7 297.1h0M1180.4 199.4h0M1197.2 330.1h0M1173.4 178.5h0M1115.7 110.1h0M1186.6 247.5h0M1205.8 453.5h0M1190.7 279.8h0M1155.1 147.8h0M1189.6 243.5h0M1155.2 139.8h0M1197.8 296.5h0M1186.0 245.9h0M1189.5 272.8h0M1177.3 192.3h0M1167.3 152.1h0M1192.5 271.7h0M1200.1 332.7h0M1201.8 431.1h0M1191.7 260.6h0M1204.3 454.2h0M1199.2 389.7h0M1194.9 262.4h0M1197.0 302.6h0M1186.7 227.6h0M1196.5 312.2h0M1178.8 214.1h0M1202.8 417.8h0M1198.9 380.4h0M1191.3 248.2h0M1195.2 317.0h0M1189.3 275.1h0M1200.0 382.4h0M1188.8 253.4h0M1185.4 212.9h0M1190.7 243.1h0M1193.7 269.1h0M1197.6 328.1h0M1183.2 207.5h0M1201.6 349.2h0M1202.8 455.8h0M1198.6 361.5h0M1197.5 327.1h0M1188.2 247.5h0M1201.5 376.5h0M1199.5 358.3h0M1198.9 373.2h0M1191.4 281.8h0M1199.7 383.0h0M1202.1 425.8h0M1207.1 496.0h0M1201.9 435.2h0M1196.7 293.4h0M1202.6 439.8h0M1202.8 463.3h0M1202.6 416.3h0"/>
<path stroke="#1f998a" d="M1193.3 346.6h0M1176.2 235.7h0M1194.4 378.0h0M1196.8 387.5h0M1181.8 271.3h0M1182.1 236.2h0M1192.4 304.9h0M1190.3 296.1h0M1183.4 241.7h0M1182.9 264.4h0M1180.2 227.4h0M1185.8 288.2h0M1191.5 334.2h0M1188.8 317.4h0M1179.5 257.7h0M1184.0 284.8h0M1198.6 393.2h0M1185.4 284.0h0M1197.8 395.0h0M1191.9 327.8h0M1194.1 346.6h0M1197.7 378.7h0M1193.2 364.8h0M1188.3 308.0h0M1197.6 435.2h0M1199.4 449.0h0M1193.4 368.0h0M1171.4 201.1h0M1187.6 314.5h0M1161.8 178.7h0M1195.3 402.8h0M1155.9 160.4h0M1174.0 227.7h0M1181.7 231.9h0M1200.6 437.9h0M1199.1 425.1h0M1195.7 347.0h0M1192.8 343.4h0M1198.9 442.6h0M1175.8 230.6h0M1183.5 260.3h0M1198.5 428.6h0M1182.9 242.0h0M1189.4 322.7h0"/>
<path stroke="#1e9b8a" d="M1181.2 297.8h0M1190.1 375.3h0M1181.6 289.9h0M1191.2 373.9h0M1191.3 392.6h0M1195.3 405.9h0M1181.4 294.3h0M1177.1 274.6h0M1177.3 275.9h0M1198.4 477.8h0M1196.8 449.5h0M1157.7 196.8h0M1144.2 166.3h0M1177.8 258.4h0M1191.1 398.5h0M1189.8 341.7h0M1196.9 440.8h0M1184.9 334.0h0M1191.3 382.2h0M1197.8 456.9h0M1192.5 423.0h0M1193.9 393.5h0M1192.7 427.4h0M1189.6 385.6h0M1198.3 489.4h0M1192.5 373.1h0M1198.4 483.3h0M1173.8 243.4h0M1187.5 364.2h0M1197.4 444.1h0M1155.0 183.7h0M1194.0 400.2h0M1174.0 236.6h0M1154.4 199.2h0M1193.3 433.1h0"/>
<path stroke="#1e9d89" d="M1184.0 376.1h0M1185.9 378.6h0M1186.4 392.2h0M1186.2 367.5h0M1178.3 314.5h0M1195.5 479.0h0M1186.3 382.6h0M1183.6 358.6h0M1149.5 201.7h0M1190.6 433.8h0M1188.9 425.6h0M1179.7 343.1h0M1181.4 347.8h0M1188.0 394.2h0M1193.1 484.6h0M1184.2 342.2h0M1190.9 406.3h0M1191.1 449.5h0M1159.0 223.1h0M1181.7 325.3h0M1185.4 365.8h0M1193.3 459.2h0M1187.5 396.8h0M1146.9 199.7h0M1190.1 418.8h0M1192.9 490.8h0M1192.7 461.5h0M1191.9 473.4h0M1170.3 269.0h0M1193.7 465.3h0M1185.9 399.1h0"/>
<path stroke="#1f9f88" d="M1183.3 402.3h0M1173.3 308.2h0M1169.6 298.6h0M1191.6 481.0h0M1176.0 320.6h0M1188.5 477.9h0M1178.4 360.7h0M1184.2 409.8h0M1168.5 306.5h0M1168.5 288.2h0M1174.0 340.2h0M1187.4 451.1h0M1171.3 305.3h0M1160.6 256.7h0M1187.7 467.4h0M1191.7 501.2h0M1189.0 488.4h0M1180.7 383.9h0M1186.7 451.9h0M1187.3 417.3h0M1189.6 484.3h0M1181.4 381.4h0M1185.1 419.7h0M1183.0 397.2h0M1187.6 444.6h0M1186.0 436.8h0M1186.6 453.3h0"/>
<path stroke="#1fa188" d="M1183.0 425.7h0M1158.5 268.4h0M1187.9 477.9h0M1162.9 310.6h0M1184.3 433.5h0M1184.6 464.6h0M1178.1 394.9h0M1184.5 454.0h0M1147.1 234.7h0M1187.1 494.0h0M1186.7 499.8h0M1185.1 470.0h0M1187.1 512.8h0M1166.7 319.5h0M1188.3 487.1h0M1136.0 216.8h0M1176.9 384.8h0M1134.0 219.4h0M1182.0 415.5h0M1174.8 373.6h0M1188.2 498.6h0"/>
<path stroke="#1fa287" d="M1179.1 432.4h0M1182.2 456.4h0M1125.1 224.7h0M1166.7 354.4h0M1170.6 364.9h0M1179.9 445.4h0M1181.1 474.8h0M1183.6 508.3h0M1183.6 486.4h0M1183.1 477.6h0M1186.1 501.2h0M1184.5 512.8h0M1176.0 412.0h0M1159.2 308.6h0M1180.3 440.5h0M1174.5 397.9h0M1183.1 504.8h0M1176.6 400.7h0"/>
<path stroke="#20a486" d="M1173.7 438.9h0M1173.2 435.0h0M1169.6 412.6h0M1161.6 347.6h0M1172.2 427.2h0M1168.5 391.6h0M1171.5 399.5h0M1168.6 391.5h0M1146.1 289.7h0M1181.1 491.5h0M1177.6 481.3h0M1173.3 440.5h0M1180.8 490.1h0M1169.1 382.3h0M1166.5 365.5h0M1156.9 332.9h0"/>
<path stroke="#21a685" d="M1178.9 508.8h0M1170.7 430.4h0M1150.2 315.0h0M1178.6 500.6h0M1161.4 370.0h0M1130.5 259.7h0M1155.6 357.0h0M1129.4 253.1h0M1170.2 426.4h0M1174.1 462.9h0M1174.4 474.5h0M1147.7 302.1h0M1170.8 453.4h0M1165.4 404.4h0M1173.9 481.8h0M1175.6 467.4h0M1177.6 485.6h0"/>
<path stroke="#22a884" d="M1171.7 474.0h0M1169.2 451.7h0M1140.9 314.1h0M1168.2 435.8h0M1104.2 229.9h0M1171.5 480.8h0M1170.9 457.8h0M1097.6 213.0h0M1160.0 396.7h0M1164.5 428.8h0M1170.8 456.9h0M1174.1 512.8h0"/>
<path stroke="#24aa83" d="M1151.9 387.2h0M1167.5 488.8h0M1167.7 482.1h0M1171.5 508.8h0M1168.5 476.3h0M1168.2 494.0h0M1146.4 341.8h0M1166.7 457.3h0M1167.6 485.3h0M1139.3 327.5h0M1088.0 223.9h0"/>
<path stroke="#25ac82" d="M1160.1 441.3h0M1151.7 407.9h0M1133.1 315.6h0M1160.9 450.9h0M1164.7 489.6h0M1160.5 441.4h0M1154.6 410.1h0"/>
<path stroke="#27ad81" d="M1161.9 476.5h0M1120.5 297.7h0M1140.2 363.4h0M1161.4 487.4h0M1139.1 370.0h0M1126.0 324.3h0M1159.8 462.5h0M1153.0 423.0h0M1157.1 456.1h0"/>
<path stroke="#29af7f" d="M1146.8 410.7h0M1162.6 512.8h0M1147.2 425.1h0M1158.1 496.2h0"/>
<path stroke="#2cb17e" d="M1141.8 423.4h0M1147.4 453.9h0M1126.8 356.0h0M1138.2 389.5h0M1109.7 314.2h0M1130.5 376.2h0M1153.4 487.0h0M1138.8 402.2h0M1113.6 313.9h0"/>
<path stroke="#2eb37c" d="M1145.3 464.4h0M1148.2 465.3h0M1149.5 484.9h0M1112.1 335.6h0M1098.8 304.8h0M1139.6 420.5h0"/>
<path stroke="#31b57b" d="M1151.9 512.8h0M1145.5 475.8h0M1150.9 512.8h0"/>
<path stroke="#34b679" d="M1148.7 511.6h0M1127.7 412.0h0"/>
<path stroke="#37b878" d="M1139.8 487.0h0M1084.0 303.9h0M1123.1 417.4h0"/>
<path stroke="#3aba76" d="M1134.8 475.6h0M1095.2 337.0h0M1136.4 489.7h0M1140.3 509.1h0"/>
<path stroke="#3dbc74" d="M1126.3 464.7h0M1111.6 401.1h0M1126.1 448.7h0"/>
<path stroke="#40bd72" d="M1094.4 371.7h0M1087.1 343.8h0M1064.8 302.9h0"/>
<path stroke="#48c16e" d="M1118.7 473.1h0M1125.9 510.1h0"/>
<path stroke="#4cc26c" d="M1109.1 446.1h0M1102.6 434.8h0"/>
<path stroke="#50c46a" d="M1116.5 499.4h0M1116.9 502.2h0M1114.3 487.4h0"/>
<path stroke="#54c568" d="M1077.1 387.9h0M1083.6 399.1h0M1108.7 475.9h0M1118.4 512.8h0"/>
<path stroke="#58c765" d="M1109.1 494.3h0"/>
<path stroke="#5cc863" d="M1110.9 512.8h0"/>
<path stroke="#60ca60" d="M1097.7 484.2h0M1076.7 419.4h0"/>
<path stroke="#65cb5e" d="M1103.1 512.8h0M1025.9 331.8h0M1102.7 512.8h0"/>
<path stroke="#6ece58" d="M1097.0 512.8h0"/>
<path stroke="#73d056" d="M1042.9 384.3h0M1093.4 512.8h0"/>
<path stroke="#77d153" d="M1089.1 507.5h0M1061.0 427.4h0M1085.2 497.1h0M1088.8 512.8h0"/>
<path stroke="#7cd250" d="M1085.7 506.8h0"/>
<path stroke="#81d34d" d="M1081.4 508.3h0M1084.2 512.8h0M1075.7 495.1h0"/>
<path stroke="#86d549" d="M1070.5 490.2h0M1079.0 512.8h0"/>
<path stroke="#8bd646" d="M1072.5 500.9h0M1060.7 469.1h0"/>
<path stroke="#90d743" d="M1048.6 451.9h0"/>
<path stroke="#95d840" d="M1070.0 512.8h0M986.0 347.9h0M1067.9 512.8h0M1024.7 404.0h0"/>
<path stroke="#9bd93c" d="M1066.0 512.8h0"/>
<path stroke="#a0da39" d="M1059.8 505.7h0"/>
<path stroke="#a5db36" d="M1055.4 502.1h0"/>
<path stroke="#aadc32" d="M1054.2 512.8h0M1056.3 512.8h0"/>
<path stroke="#b5de2b" d="M1040.7 495.7h0M1049.2 512.8h0"/>
<path stroke="#bade28" d="M1044.1 512.8h0"/>
<path stroke="#dae319" d="M1024.1 512.8h0"/>
<path stroke="#dfe318" d="M1010.0 487.7h0"/>
<path stroke="#eae51a" d="M990.8 467.5h0M1013.0 512.8h0"/>
<path stroke="#f4e61e" d="M1006.6 512.8h0"/>
<path stroke="#f8e621" d="M1002.6 512.8h0"/>
<path stroke="#fde725" d="M994.4 510.2h0M995.3 512.8h0M993.4 512.8h0M1000.4 508.5h0M998.4 512.8h0M946.9 506.6h0M986.0 510.9h0"/>
<path stroke="#440256" d="M1473.9 510.2h0"/>
<path stroke="#481a6c" d="M1417.9 486.2h0"/>
<path stroke="#472c7a" d="M1387.4 502.3h0"/>
<path stroke="#453581" d="M1368.5 512.8h0"/>
<path stroke="#453882" d="M1393.9 443.0h0"/>
<path stroke="#443a83" d="M1364.0 512.8h0"/>
<path stroke="#3f4889" d="M1384.8 399.7h0"/>
<path stroke="#38588c" d="M1319.3 512.8h0M1317.2 512.8h0"/>
<path stroke="#365c8d" d="M1325.7 458.7h0"/>
<path stroke="#355e8d" d="M1311.1 497.3h0M1332.4 417.2h0"/>
<path stroke="#34608d" d="M1323.7 432.9h0"/>
<path stroke="#33628d" d="M1306.8 480.4h0M1304.3 489.4h0M1300.8 512.8h0"/>
<path stroke="#32648e" d="M1314.8 435.7h0M1305.5 467.4h0"/>
<path stroke="#31668e" d="M1320.2 396.4h0"/>
<path stroke="#31688e" d="M1296.4 487.0h0M1290.2 512.8h0M1296.1 479.3h0"/>
<path stroke="#306a8e" d="M1286.9 509.1h0M1311.9 398.6h0"/>
<path stroke="#2f6c8e" d="M1300.6 421.7h0M1291.0 472.8h0"/>
<path stroke="#2e6e8e" d="M1326.9 323.0h0M1283.0 493.1h0M1317.9 344.5h0"/>
<path stroke="#2d708e" d="M1313.6 343.6h0"/>
<path stroke="#2c718e" d="M1285.9 435.8h0M1300.4 367.7h0M1276.4 489.2h0"/>
<path stroke="#2c738e" d="M1318.3 303.7h0M1300.2 340.7h0"/>
<path stroke="#2b758e" d="M1277.8 445.9h0M1286.9 373.3h0"/>
<path stroke="#2a778e" d="M1265.5 506.1h0M1267.7 483.6h0M1282.0 380.7h0M1263.7 506.0h0M1300.7 318.3h0M1263.5 503.8h0M1274.6 423.6h0"/>
<path stroke="#29798e" d="M1262.8 492.2h0M1270.2 426.6h0M1267.7 443.8h0"/>
<path stroke="#297b8e" d="M1264.6 444.8h0M1265.0 431.4h0M1289.1 314.1h0M1257.8 511.1h0M1259.8 495.0h0M1259.1 505.9h0M1264.0 449.6h0M1270.5 386.2h0M1258.4 507.1h0M1263.9 461.2h0"/>
<path stroke="#287d8e" d="M1260.7 452.6h0M1254.9 488.5h0M1269.3 375.0h0M1275.0 337.5h0M1291.5 276.8h0M1254.8 507.7h0M1261.4 437.6h0M1268.9 385.1h0M1276.1 334.4h0"/>
<path stroke="#277f8e" d="M1274.7 307.0h0M1281.1 278.1h0M1252.1 508.5h0M1257.5 440.0h0M1251.9 473.8h0M1253.8 453.6h0"/>
<path stroke="#26818e" d="M1249.4 472.5h0M1247.4 506.5h0M1257.5 379.2h0M1246.9 492.5h0M1247.5 504.0h0M1250.0 463.1h0M1273.3 308.0h0M1266.6 328.7h0"/>
<path stroke="#26828e" d="M1247.1 437.0h0M1254.0 376.6h0M1269.2 282.4h0M1247.7 470.9h0M1251.5 390.8h0M1243.9 477.0h0M1243.5 496.0h0M1248.5 414.7h0M1261.6 331.2h0M1249.6 414.1h0M1246.9 461.2h0M1250.5 421.5h0M1281.1 249.7h0M1246.2 457.3h0M1247.1 431.8h0M1247.4 470.7h0M1247.8 434.3h0M1246.8 458.0h0M1244.2 505.9h0M1252.5 371.9h0"/>
<path stroke="#25848e" d="M1243.4 474.2h0M1242.2 458.9h0M1241.9 465.3h0M1244.5 445.8h0M1262.1 297.6h0M1264.4 267.5h0M1259.9 285.3h0M1248.0 404.3h0M1239.8 505.1h0M1247.5 378.6h0M1242.9 455.4h0M1240.5 508.0h0M1245.4 398.3h0M1252.9 346.6h0M1250.8 378.3h0M1240.3 484.2h0M1241.2 480.4h0M1243.9 439.9h0M1243.3 458.5h0"/>
<path stroke="#24868e" d="M1251.0 311.3h0M1248.9 338.5h0M1242.7 381.7h0M1243.1 406.2h0M1245.1 397.0h0M1235.6 497.4h0M1237.7 509.5h0M1243.6 371.0h0M1241.9 434.0h0M1239.1 485.5h0M1239.5 453.1h0M1239.5 446.8h0M1249.2 347.3h0M1241.8 416.5h0M1240.4 433.1h0M1248.3 342.8h0M1246.7 379.2h0M1251.8 329.6h0M1236.7 491.0h0M1238.0 492.9h0M1241.2 446.5h0M1236.3 510.1h0M1238.1 469.9h0M1241.8 412.9h0M1243.2 374.2h0M1244.6 348.9h0M1247.4 345.1h0M1238.6 462.5h0M1236.6 491.6h0M1236.2 484.3h0M1243.1 395.4h0"/>
<path stroke="#23888e" d="M1232.7 504.2h0M1234.7 459.5h0M1252.5 237.3h0M1263.5 216.1h0M1234.3 496.5h0M1263.7 205.0h0M1235.9 431.4h0M1234.8 464.7h0M1234.6 508.0h0M1237.3 416.7h0M1326.9 120.9h0M1242.1 333.2h0M1253.9 241.1h0M1280.9 172.1h0M1234.5 469.7h0M1239.1 411.5h0M1237.1 382.2h0M1245.8 292.7h0M1242.8 358.4h0M1235.6 429.4h0M1234.5 504.0h0M1233.8 477.8h0M1238.5 397.6h0M1251.7 266.6h0M1244.9 296.4h0M1247.7 269.0h0M1239.8 402.8h0M1233.1 469.1h0M1233.4 464.8h0M1235.9 434.9h0M1241.9 326.0h0M1235.5 443.3h0M1272.4 192.7h0M1235.9 401.2h0M1254.0 254.3h0M1234.9 426.0h0M1243.4 360.5h0M1234.7 436.7h0M1234.9 430.2h0M1240.8 381.6h0M1246.8 290.8h0M1235.5 443.3h0M1242.7 351.3h0M1250.3 287.9h0M1234.7 509.8h0M1235.1 455.1h0M1236.3 456.1h0M1235.4 414.7h0"/>
<path stroke="#238a8d" d="M1231.7 499.9h0M1232.9 365.2h0M1243.0 298.8h0M1240.4 313.0h0M1240.1 323.2h0M1236.5 331.3h0M1244.3 262.3h0M1236.4 373.2h0M1285.4 146.0h0M1234.0 348.7h0M1231.3 460.7h0M1235.9 314.9h0M1231.9 399.5h0M1256.2 202.4h0M1232.9 398.2h0M1236.5 337.9h0M1282.8 146.1h0M1269.3 166.5h0M1249.6 224.3h0M1269.0 159.1h0M1252.4 231.8h0M1229.7 493.0h0M1234.4 409.8h0M1240.0 319.7h0M1244.6 246.6h0M1244.8 275.3h0M1232.3 447.6h0M1244.5 251.4h0M1242.7 260.9h0M1242.3 292.5h0M1238.4 317.5h0M1236.7 340.2h0M1235.5 338.0h0M1275.2 163.1h0M1229.8 459.0h0M1242.0 278.5h0M1231.5 469.2h0M1229.6 508.2h0M1230.3 489.6h0M1234.7 385.2h0M1422.3 86.8h0M1234.4 385.0h0M1275.6 152.0h0M1237.4 294.1h0M1232.1 391.6h0M1234.1 420.0h0M1251.6 225.1h0M1236.0 369.7h0M1237.3 375.2h0M1233.6 393.0h0M1257.5 178.4h0M1239.4 291.2h0M1250.0 219.2h0M1234.5 410.8h0M1228.0 512.8h0M1233.4 372.3h0M1241.3 308.8h0M1231.4 469.0h0M1239.5 302.8h0M1232.5 408.9h0M1228.6 491.8h0M1237.7 328.9h0M1228.7 483.9h0M1229.4 466.2h0"/>
<path stroke="#228c8d" d="M1235.9 309.8h0M1226.6 422.9h0M1236.8 263.5h0M1231.2 332.9h0M1233.0 329.0h0M1239.1 269.9h0M1229.6 351.8h0M1230.0 391.9h0M1231.2 369.7h0M1230.2 369.2h0M1233.3 333.4h0M1230.6 320.0h0M1237.7 244.7h0M1235.9 254.2h0M1253.8 143.5h0M1230.0 379.5h0M1229.7 336.0h0M1229.2 447.2h0M1230.0 385.2h0M1236.9 223.1h0M1230.1 318.3h0M1234.6 333.1h0M1232.1 289.7h0M1239.1 210.3h0M1249.1 161.4h0M1227.5 423.5h0M1231.0 363.3h0M1227.0 489.9h0M1236.5 231.9h0M1229.6 322.5h0M1232.8 266.0h0M1233.9 269.1h0M1231.3 357.9h0M1232.0 288.1h0M1242.3 240.9h0M1252.8 182.0h0M1229.6 417.3h0M1232.0 351.5h0M1227.0 432.7h0M1237.7 282.4h0M1225.7 465.1h0M1228.5 433.8h0M1235.3 321.7h0M1237.3 283.6h0M1233.3 324.3h0M1234.1 327.3h0M1237.1 226.7h0M1239.4 272.1h0M1231.7 355.6h0M1228.6 365.7h0M1229.9 387.0h0M1227.7 372.3h0M1245.4 222.9h0M1226.9 472.5h0M1243.1 187.3h0M1243.8 186.3h0M1238.4 259.3h0M1233.5 328.6h0M1227.8 510.2h0M1237.0 249.4h0M1228.4 402.1h0M1236.7 283.8h0M1235.8 278.3h0M1232.2 356.4h0M1243.0 236.8h0M1259.6 143.5h0M1226.4 426.7h0M1230.2 349.6h0M1228.3 443.5h0M1235.8 263.5h0M1231.5 364.8h0M1259.1 166.3h0M1242.3 212.1h0M1226.8 439.4h0"/>
<path stroke="#218e8d" d="M1243.2 156.7h0M1228.6 313.2h0M1242.1 146.2h0M1235.4 165.5h0M1231.3 221.6h0M1243.7 131.0h0M1227.0 291.8h0M1227.8 242.6h0M1230.5 202.3h0M1223.5 494.5h0M1222.9 360.1h0M1224.4 396.3h0M1225.8 301.4h0M1224.5 489.3h0M1230.0 264.7h0M1243.2 155.2h0M1226.7 360.8h0M1226.8 298.1h0M1227.7 300.0h0M1242.8 149.1h0M1238.8 144.9h0M1228.8 204.1h0M1255.5 100.6h0M1233.5 231.2h0M1233.9 207.3h0M1225.7 349.9h0M1247.7 152.2h0M1231.0 178.2h0M1237.7 208.2h0M1233.6 184.6h0M1223.8 338.9h0M1236.6 152.2h0M1235.0 175.8h0M1229.8 208.8h0M1230.3 231.1h0M1224.9 437.0h0M1226.0 256.8h0M1225.7 415.4h0M1228.7 340.7h0M1223.2 397.4h0M1225.0 401.2h0M1226.2 254.4h0M1237.8 154.5h0M1226.2 353.3h0M1243.4 138.0h0M1278.8 102.1h0M1227.5 262.6h0M1224.1 361.8h0M1225.5 404.3h0M1242.5 167.1h0M1226.7 287.9h0M1224.3 397.9h0M1224.1 454.1h0M1222.3 409.6h0M1228.2 269.4h0M1237.6 185.8h0M1238.6 170.1h0M1226.6 307.6h0M1223.1 487.6h0M1233.2 238.8h0M1235.3 158.6h0M1234.9 153.8h0M1232.5 235.9h0M1225.8 276.2h0M1224.2 327.7h0M1228.1 280.2h0M1230.1 184.0h0M1223.1 466.9h0M1234.4 188.6h0M1238.3 204.1h0M1222.4 495.6h0M1224.1 377.1h0M1225.4 449.8h0M1226.6 307.2h0M1232.6 212.9h0M1242.2 167.9h0M1233.0 251.8h0M1236.8 212.5h0M1223.0 360.6h0M1231.0 198.9h0M1230.2 234.7h0M1224.3 311.9h0M1225.2 419.8h0M1225.6 340.9h0M1224.7 418.2h0M1228.4 220.8h0M1228.8 261.8h0M1222.5 493.7h0M1222.6 451.2h0M1224.4 368.2h0M1226.5 246.6h0M1233.3 223.5h0M1227.2 255.7h0M1227.7 240.0h0M1236.7 218.7h0M1233.2 158.2h0M1226.6 333.1h0M1229.6 190.6h0M1221.6 495.0h0M1225.7 367.6h0M1227.0 285.7h0M1225.7 312.9h0M1223.5 488.5h0M1226.4 293.9h0"/>
<path stroke="#21908d" d="M1219.2 89.7h0M1236.6 115.9h0M1235.1 134.8h0M1222.7 206.5h0M1255.5 57.7h0M1224.5 225.9h0M1218.1 199.8h0M1225.0 168.0h0M1225.0 199.8h0M1239.6 123.5h0M1234.4 93.4h0M1220.9 204.0h0M1225.0 208.2h0M1218.5 99.7h0M1236.3 64.9h0M1222.1 287.2h0M1221.8 90.4h0M1225.8 158.3h0M1220.9 414.0h0M1223.5 177.7h0M1231.6 119.4h0M1220.9 100.4h0M1222.4 184.7h0M1222.8 326.2h0M1220.1 161.4h0M1218.9 181.5h0M1234.8 89.3h0M1245.2 85.5h0M1220.6 264.0h0M1241.0 97.6h0M1219.4 503.2h0M1218.3 324.9h0M1225.7 243.0h0M1226.5 163.7h0M1218.1 284.8h0M1221.4 102.3h0M1280.2 63.5h0M1221.4 322.9h0M1218.0 187.0h0M1219.0 67.4h0M1226.5 98.8h0M1217.9 251.6h0M1243.0 80.2h0M1232.0 128.0h0M1225.5 133.7h0M1224.1 143.1h0M1224.4 212.7h0M1218.0 291.2h0M1218.6 156.3h0M1228.3 74.7h0M1219.6 104.6h0M1225.3 228.7h0M1245.2 109.8h0M1218.7 263.0h0M1218.0 265.3h0M1222.3 348.0h0M1232.3 131.7h0M1218.8 105.7h0M1229.7 118.7h0M1236.0 119.5h0M1217.8 426.5h0M1239.7 88.9h0M1219.0 504.6h0M1228.3 155.7h0M1218.2 175.2h0M1223.7 112.5h0M1220.8 206.5h0M1228.4 107.1h0M1230.6 59.2h0M1220.0 418.2h0M1222.2 397.0h0M1237.9 100.8h0M1254.0 58.5h0M1227.3 216.7h0M1220.9 448.1h0M1219.9 311.1h0M1219.5 501.7h0M1230.2 110.0h0M1222.7 221.8h0M1222.3 306.0h0M1221.8 67.9h0M1226.9 179.2h0M1219.3 154.7h0M1227.7 126.3h0M1218.8 405.5h0M1221.6 282.4h0M1224.3 236.7h0M1222.3 176.3h0M1224.3 221.3h0M1242.0 119.3h0M1251.7 74.0h0M1230.0 88.9h0M1226.6 93.8h0M1220.5 232.3h0M1231.3 155.7h0M1219.5 170.5h0M1221.1 78.0h0M1219.1 88.1h0M1228.8 174.5h0M1218.6 449.6h0M1222.2 258.1h0M1227.3 163.1h0M1219.9 499.8h0M1219.4 165.0h0M1225.5 69.1h0M1223.5 153.4h0M1224.1 214.9h0M1219.1 113.6h0M1249.3 96.0h0M1221.7 364.1h0M1219.3 416.7h0M1219.5 85.0h0M1220.6 301.4h0M1218.4 435.2h0M1240.6 73.8h0M1221.6 167.8h0M1225.8 100.0h0M1223.2 154.9h0M1224.5 109.5h0M1224.5 131.6h0M1224.4 88.5h0M1218.8 240.5h0M1222.8 150.4h0M1242.1 96.4h0M1376.6 56.8h0M1228.5 152.1h0M1225.2 78.6h0M1218.9 345.9h0M1224.5 242.4h0M1218.0 453.7h0M1236.2 138.5h0M1224.4 185.8h0M1218.7 375.7h0M1249.5 57.9h0M1219.6 229.2h0M1218.6 260.0h0M1222.2 116.1h0M1238.0 79.6h0M1235.5 111.0h0M1229.5 64.4h0M1227.0 221.1h0M1228.3 116.1h0M1225.2 173.1h0M1219.1 132.5h0M1225.8 207.0h0M1220.9 435.9h0M1225.2 56.8h0M1260.1 76.1h0M1219.9 435.2h0M1219.5 210.2h0M1233.1 66.3h0M1226.2 85.2h0M1231.8 162.3h0M1231.5 92.7h0M1218.3 139.9h0M1219.1 298.0h0M1235.1 77.3h0M1224.2 252.8h0M1221.0 159.9h0M1218.7 70.2h0M1221.2 261.2h0M1223.8 271.9h0M1218.8 79.6h0M1225.3 80.6h0M1229.8 78.0h0M1235.5 123.2h0M1226.2 90.0h0M1219.8 140.1h0M1218.0 317.4h0M1218.6 144.9h0M1217.8 231.8h0M1222.1 305.0h0M1277.9 71.4h0M1219.3 451.9h0M1231.2 117.5h0M1219.0 80.9h0M1222.9 288.9h0M1231.9 117.2h0M1218.0 361.6h0M1225.7 233.1h0M1220.5 507.6h0M1218.7 425.5h0M1222.5 270.4h0M1228.5 124.1h0M1218.6 124.7h0M1241.7 79.2h0M1219.9 166.3h0M1224.9 175.2h0M1230.6 133.8h0M1233.9 68.7h0M1222.8 261.4h0M1227.0 180.1h0M1232.5 90.3h0"/>
<path stroke="#20928c" d="M1188.7 85.1h0M1194.9 74.7h0M1217.3 447.5h0M1207.2 198.8h0M1213.9 191.1h0M1212.4 282.2h0M1180.3 80.6h0M1198.4 117.9h0M1214.8 474.6h0M1211.7 309.5h0M1202.8 92.0h0M1217.6 443.0h0M1214.7 405.1h0M1208.1 58.1h0M1197.1 125.6h0M1193.0 91.0h0M1209.5 193.0h0M1216.1 448.2h0M1208.2 202.7h0M1193.4 58.3h0M1206.2 183.2h0M1217.6 286.2h0M1204.0 88.8h0M1206.8 175.0h0M1210.8 83.8h0M1216.7 251.6h0M1204.1 108.7h0M1213.6 332.2h0M1214.5 486.6h0M1215.9 401.7h0M1211.4 148.3h0M1214.7 244.9h0M1208.3 89.9h0M1216.4 173.7h0M1210.8 252.2h0M1199.1 58.7h0M1213.7 401.3h0M1199.6 120.6h0M1214.8 200.1h0M1190.8 109.2h0M1203.6 84.2h0M1205.4 98.2h0M1212.4 213.5h0M1211.7 294.8h0M1200.3 119.8h0M1192.3 117.3h0M1200.9 121.2h0M1215.2 484.4h0M1200.3 69.0h0M1196.1 62.1h0M1207.6 106.9h0M1191.6 59.3h0M1216.8 76.7h0M1217.7 183.7h0M1201.9 118.8h0M1207.6 208.4h0M1200.6 137.2h0M1216.5 485.2h0M1193.7 66.3h0M1208.0 92.5h0M1206.5 139.2h0M1195.9 75.1h0M1214.1 365.3h0M1210.2 142.7h0M1209.1 108.1h0M1207.9 141.5h0M1214.8 155.0h0M1203.3 70.4h0M1217.5 64.6h0M1202.9 72.0h0M1214.0 213.0h0M1213.3 355.9h0M1208.5 126.6h0M1215.3 117.6h0M1214.1 143.8h0M1199.6 95.9h0M1196.9 93.1h0M1205.6 164.7h0M1201.7 126.2h0M1206.6 164.6h0M1217.0 428.9h0M1205.3 129.0h0M1211.8 318.2h0M1214.7 345.7h0M1211.3 223.4h0M1214.6 91.8h0M1214.3 349.8h0M1208.9 118.2h0M1210.9 244.4h0M1212.0 292.1h0M1209.4 113.2h0M1202.1 81.9h0M1214.4 93.5h0M1208.7 96.5h0M1211.3 153.5h0M1196.8 83.3h0M1213.9 61.8h0M1211.3 266.7h0M1214.0 231.6h0M1208.7 62.2h0M1200.9 66.5h0M1201.8 140.8h0M1210.4 97.2h0M1212.9 144.0h0M1192.9 109.2h0M1215.2 131.8h0M1214.5 244.2h0M1216.1 133.5h0M1213.8 255.8h0M1217.0 252.7h0M1216.6 397.5h0M1216.7 180.3h0M1209.6 215.6h0M1214.2 324.7h0M1214.8 432.7h0M1215.4 262.2h0M1217.6 302.3h0M1211.2 182.3h0M1216.4 71.0h0M1217.0 94.2h0M1216.6 231.4h0M1217.0 214.7h0M1212.5 182.0h0M1217.6 98.1h0M1203.1 65.1h0M1215.4 311.8h0M1213.9 423.1h0M1217.7 321.9h0M1217.0 269.3h0M1215.4 99.9h0M1216.2 302.9h0M1214.9 169.4h0M1213.1 305.8h0M1212.4 97.3h0M1214.4 357.3h0M1217.4 153.2h0M1201.7 143.1h0M1212.0 313.2h0M1214.5 453.7h0M1215.6 470.8h0M1217.1 202.2h0M1213.8 369.3h0M1202.8 142.0h0M1212.9 210.3h0M1213.1 89.1h0M1207.0 199.3h0M1200.8 73.8h0M1209.1 141.7h0M1212.9 63.5h0M1209.4 100.6h0M1210.6 94.8h0M1215.9 306.8h0M1213.6 319.4h0M1216.1 194.1h0M1205.6 112.2h0M1217.7 324.5h0M1209.6 103.9h0M1208.4 56.8h0M1214.1 409.4h0M1215.8 304.6h0M1216.8 230.1h0M1201.8 137.0h0M1211.4 287.5h0M1190.1 103.6h0M1216.6 289.1h0M1196.4 71.3h0M1215.9 183.8h0M1205.8 82.6h0M1214.9 215.7h0M1217.3 474.4h0M1211.0 85.0h0M1213.8 208.0h0M1216.4 282.7h0M1206.4 154.4h0M1215.5 384.7h0M1215.8 339.5h0M1216.2 194.4h0"/>
<path stroke="#20938c" d="M1208.3 277.9h0M1202.4 214.0h0M1208.2 333.7h0M1196.3 133.2h0M1128.9 91.6h0M1203.6 218.1h0M1210.1 299.1h0M1211.7 335.9h0M1205.7 241.9h0M1205.9 265.4h0M1203.5 207.9h0M1179.6 131.2h0M1193.4 134.8h0M1202.3 237.5h0M1203.1 219.0h0M1202.7 225.6h0M1202.9 163.9h0M1207.8 340.2h0M1198.4 145.6h0M1213.6 446.9h0M1199.4 163.8h0M1200.1 192.1h0M1202.7 189.5h0M1203.9 174.2h0M1211.7 438.3h0M1203.1 213.4h0M1209.5 272.7h0M1210.4 368.0h0M1210.9 369.4h0M1205.9 311.6h0M1204.7 198.5h0M1198.3 177.1h0M1208.4 299.1h0M1202.7 244.6h0M1199.6 220.1h0M1204.8 295.1h0M1190.4 148.3h0M1189.7 123.7h0M1209.8 337.6h0M1211.4 463.8h0M1189.3 163.9h0M1213.5 445.6h0M1201.7 162.6h0M1190.0 144.7h0M1208.6 347.5h0M1192.8 140.1h0M1211.7 474.4h0M1209.7 383.5h0M1201.3 168.3h0M1196.8 169.3h0M1212.7 408.1h0M1212.2 349.1h0M1201.0 170.8h0M1192.1 117.6h0M1189.3 130.9h0M1209.9 257.0h0M1208.4 313.3h0M1212.8 469.7h0M1207.9 267.8h0M1190.2 149.0h0M1207.8 322.5h0M1202.7 196.7h0M1212.6 370.3h0M1206.2 313.2h0M1197.3 171.2h0M1184.1 120.9h0M1204.3 243.3h0M1204.5 227.6h0M1212.6 393.7h0M1212.0 400.6h0M1213.5 428.9h0M1211.5 350.3h0M1210.6 469.6h0M1204.3 243.3h0M1212.8 385.5h0M1213.2 480.4h0M1205.5 300.4h0M1212.0 487.6h0M1208.3 350.5h0M1210.6 323.0h0M1211.6 320.7h0M1211.7 326.0h0M1210.4 418.9h0M1207.3 250.9h0M1207.3 219.0h0M1205.6 216.5h0M1210.2 419.1h0M1211.4 378.2h0M1184.6 109.9h0M1204.0 270.0h0M1211.8 337.8h0M1211.5 391.4h0M1214.0 507.2h0M1199.1 181.0h0M1207.4 233.2h0M1203.0 185.1h0M1201.0 155.0h0M1210.1 458.6h0M1206.9 322.1h0M1186.6 128.3h0M1203.1 192.9h0M1193.2 158.6h0M1211.5 396.4h0M1212.9 481.6h0M1210.7 312.0h0M1206.5 241.0h0M1212.2 442.7h0M1212.9 480.9h0M1204.1 239.2h0M1205.8 213.6h0M1210.6 276.3h0"/>
<path stroke="#1f958b" d="M1182.8 170.9h0M1188.0 162.7h0M1203.0 302.1h0M1201.2 278.3h0M1192.0 182.2h0M1200.0 244.9h0M1196.7 227.6h0M1190.9 197.9h0M1203.2 297.9h0M1195.1 210.8h0M1201.7 273.5h0M1198.2 242.1h0M1206.8 357.9h0M1207.4 465.3h0M1204.1 308.9h0M1189.8 223.5h0M1201.0 279.5h0M1203.0 366.6h0M1199.4 236.3h0M1199.9 232.1h0M1206.9 427.1h0M1206.5 349.0h0M1197.5 277.4h0M1203.6 343.2h0M1185.5 188.5h0M1193.7 244.0h0M1198.4 250.6h0M1204.4 317.6h0M1204.9 404.9h0M1209.0 463.3h0M1199.0 262.6h0M1198.7 291.1h0M1205.1 371.6h0M1156.0 121.5h0M1188.3 174.3h0M1189.8 168.9h0M1194.6 218.7h0M1209.7 494.9h0M1209.2 459.1h0M1202.2 336.4h0M1207.3 399.1h0M1186.2 162.6h0M1209.6 475.3h0M1194.0 229.0h0M1203.0 360.9h0M1172.9 159.0h0M1204.0 337.0h0M1207.4 395.8h0M1208.5 403.3h0M1205.8 317.3h0M1195.4 257.0h0M1198.9 238.2h0M1210.5 500.5h0M1194.1 216.2h0M1184.6 164.1h0M1200.2 242.5h0M1195.5 219.2h0M1188.8 194.1h0M1205.5 429.5h0M1208.4 413.7h0M1208.6 404.3h0M1179.4 141.2h0M1205.8 429.4h0M1197.2 231.8h0M1208.4 406.7h0M1209.1 448.0h0M1183.3 158.7h0M1210.2 503.6h0M1191.4 176.7h0M1197.9 245.4h0M1206.4 431.0h0M1207.3 364.1h0M1205.0 411.1h0M1207.3 410.5h0M1208.1 454.4h0M1204.5 384.9h0M1204.8 389.0h0"/>
<path stroke="#1f978b" d="M1204.4 448.0h0M1202.3 438.7h0M1204.2 435.6h0M1203.1 392.6h0M1198.7 305.7h0M1202.3 459.5h0M1205.8 447.7h0M1185.9 213.3h0M1199.5 351.6h0M1200.5 357.9h0M1201.7 355.2h0M1189.9 272.1h0M1175.2 196.6h0M1203.0 381.4h0M1202.1 447.6h0M1202.6 421.2h0M1204.4 457.9h0M1166.7 174.8h0M1205.0 436.2h0M1183.0 217.5h0M1201.1 365.4h0M1195.1 290.3h0M1202.3 417.4h0M1201.4 435.8h0M1206.7 485.5h0M1198.5 353.3h0M1202.2 445.7h0M1198.7 341.6h0M1190.8 274.7h0M1200.8 395.3h0M1197.0 349.5h0M1196.7 283.6h0M1206.1 491.5h0M1204.9 458.0h0M1194.4 298.5h0M1195.3 279.0h0M1200.3 397.5h0M1195.0 275.0h0M1201.9 428.7h0M1195.3 319.2h0M1189.8 264.6h0M1202.6 437.7h0M1199.7 317.3h0M1201.4 401.6h0M1193.6 298.0h0M1198.2 316.1h0M1202.6 383.0h0M1195.2 306.8h0M1201.7 384.3h0M1193.9 255.6h0M1202.1 405.3h0M1202.2 441.8h0M1206.8 502.4h0M1205.5 472.8h0M1205.3 446.8h0M1203.7 484.4h0M1198.0 367.3h0M1192.9 244.9h0M1189.4 223.1h0M1203.6 422.0h0M1198.5 355.6h0M1205.7 482.0h0M1152.6 131.2h0M1202.0 388.9h0M1198.5 371.4h0"/>
<path stroke="#1f998a" d="M1188.8 302.5h0M1146.2 150.9h0M1198.7 446.3h0M1199.0 445.4h0M1196.2 367.9h0M1193.3 325.6h0M1191.2 314.2h0M1196.8 425.7h0M1200.3 446.7h0M1199.9 414.0h0M1191.4 308.8h0M1186.7 260.5h0M1184.3 254.1h0M1192.7 323.3h0M1195.0 353.3h0M1200.9 489.9h0M1198.9 461.9h0M1196.8 428.4h0M1201.4 500.2h0M1191.2 310.6h0M1199.8 419.4h0M1196.0 347.5h0M1193.6 339.9h0M1197.5 416.1h0M1198.0 411.1h0M1197.2 412.1h0M1200.6 435.2h0M1194.4 363.5h0M1186.5 290.6h0M1201.6 466.2h0M1141.7 142.3h0M1197.1 420.5h0M1191.8 311.6h0M1190.9 291.3h0M1189.0 294.8h0M1198.3 388.7h0M1202.4 507.0h0M1178.9 252.8h0M1201.0 493.2h0M1196.0 359.6h0"/>
<path stroke="#1e9b8a" d="M1189.8 362.3h0M1188.2 337.3h0M1185.7 336.3h0M1175.6 249.4h0M1189.3 354.5h0M1194.1 437.3h0M1184.7 316.1h0M1176.1 245.3h0M1198.3 485.7h0M1170.9 232.6h0M1186.7 349.1h0M1192.9 420.5h0M1191.4 359.3h0M1194.2 407.0h0M1195.9 444.7h0M1169.7 219.5h0M1195.5 441.4h0M1168.7 241.2h0M1198.3 476.3h0M1193.0 422.6h0M1190.4 343.1h0M1178.7 281.6h0M1197.8 469.7h0M1188.2 334.9h0M1195.1 434.9h0M1166.7 209.4h0M1180.4 305.5h0M1179.7 278.3h0M1199.6 487.6h0"/>
<path stroke="#1e9d89" d="M1194.6 484.3h0M1195.5 484.6h0M1175.4 312.2h0M1192.0 477.7h0M1194.1 489.3h0M1190.3 439.3h0M1170.7 256.5h0M1193.5 493.0h0M1189.7 441.2h0M1191.0 462.6h0M1194.2 469.1h0M1195.1 498.6h0M1183.0 351.3h0M1185.1 388.8h0M1178.8 330.7h0M1176.5 311.1h0M1188.5 407.1h0M1166.2 253.1h0M1179.2 336.6h0M1189.9 441.3h0M1179.6 341.5h0M1196.5 500.3h0M1188.8 415.9h0"/>
<path stroke="#1f9f88" d="M1184.8 432.0h0M1184.9 402.8h0M1188.0 427.5h0M1142.4 219.1h0M1183.5 375.2h0M1183.1 407.1h0M1189.5 455.5h0M1178.3 338.4h0M1178.7 365.0h0M1190.8 509.5h0M1080.4 138.9h0M1182.6 373.6h0M1176.4 334.1h0M1182.7 396.0h0M1189.9 494.0h0M1182.3 389.6h0M1186.5 429.7h0M1193.4 506.4h0M1189.8 469.3h0M1188.0 436.8h0M1189.9 470.9h0"/>
<path stroke="#1fa188" d="M1187.5 512.8h0M1184.5 452.3h0M1181.9 432.6h0M1187.8 491.6h0M1173.0 342.3h0M1187.6 499.7h0M1185.4 454.1h0M1187.5 471.5h0"/>
<path stroke="#1fa287" d="M1167.2 356.8h0M1186.8 512.8h0M1183.3 474.8h0M1183.8 495.4h0M1165.2 343.8h0M1166.2 355.6h0M1172.9 393.1h0"/>
<path stroke="#20a486" d="M1177.2 443.6h0M1179.0 469.6h0M1168.3 376.9h0M1181.3 510.5h0M1179.1 460.2h0"/>
<path stroke="#21a685" d="M1174.9 484.7h0M1168.7 425.0h0M1170.9 423.3h0M1171.5 438.9h0M1178.7 511.5h0M1176.6 489.8h0M1151.4 319.4h0M1177.0 511.5h0M1176.3 494.7h0M1175.8 466.7h0"/>
<path stroke="#22a884" d="M1172.8 483.0h0M1170.1 457.2h0"/>
<path stroke="#24aa83" d="M1171.9 512.8h0M1172.7 512.8h0"/>
<path stroke="#25ac82" d="M1166.4 493.1h0M1165.0 480.0h0"/>
<path stroke="#27ad81" d="M1138.2 364.5h0M1150.2 409.9h0M1158.0 471.7h0M1166.3 512.8h0M1162.3 481.3h0M1163.7 499.8h0M1145.8 401.0h0M1110.6 284.6h0M1160.4 470.9h0"/>
<path stroke="#29af7f" d="M1151.3 452.2h0M1141.4 384.5h0M1151.3 436.9h0M1153.0 453.7h0M1158.9 503.1h0"/>
<path stroke="#2cb17e" d="M1133.2 380.7h0M1158.8 512.8h0M1149.4 460.8h0"/>
<path stroke="#2eb37c" d="M1106.3 318.1h0M1112.4 326.1h0M1147.6 458.5h0"/>
<path stroke="#31b57b" d="M1103.9 317.4h0M1151.0 512.8h0M1092.6 301.8h0"/>
<path stroke="#34b679" d="M1145.9 512.8h0"/>
<path stroke="#37b878" d="M1116.3 390.0h0M1143.1 512.8h0M1134.8 466.1h0"/>
<path stroke="#3dbc74" d="M1103.9 380.0h0M1136.5 512.8h0"/>
<path stroke="#40bd72" d="M1127.5 475.9h0"/>
<path stroke="#44bf70" d="M1119.6 467.0h0M1116.3 440.6h0M1129.5 512.8h0"/>
<path stroke="#4cc26c" d="M1124.8 512.8h0"/>
<path stroke="#50c46a" d="M1102.9 449.7h0M1055.8 331.0h0"/>
<path stroke="#54c568" d="M1049.6 331.0h0"/>
<path stroke="#58c765" d="M1025.9 303.9h0M1088.1 418.6h0"/>
<path stroke="#5cc863" d="M1108.7 506.2h0"/>
<path stroke="#60ca60" d="M1073.1 408.9h0"/>
<path stroke="#65cb5e" d="M1075.4 428.0h0"/>
<path stroke="#69cd5b" d="M1099.0 512.8h0"/>
<path stroke="#6ece58" d="M1055.3 396.0h0"/>
<path stroke="#73d056" d="M1056.8 410.2h0"/>
<path stroke="#77d153" d="M1038.1 378.1h0"/>
<path stroke="#81d34d" d="M1082.3 512.8h0M1081.4 512.8h0"/>
<path stroke="#86d549" d="M1075.8 504.3h0"/>
<path stroke="#90d743" d="M1073.0 508.7h0"/>
<path stroke="#d0e11c" d="M1029.9 512.8h0"/>
<path stroke="#efe51c" d="M1012.1 512.8h0"/>
<path stroke="#f4e61e" d="M1006.8 512.8h0"/>
<path stroke="#f8e621" d="M1003.5 512.8h0"/>
<path stroke="#fde725" d="M992.2 512.8h0M997.8 512.8h0"/>
<path stroke="#440256" d="M1460.0 512.8h0"/>
<path stroke="#460b5e" d="M1432.3 493.4h0"/>
<path stroke="#481c6e" d="M1472.4 390.8h0"/>
<path stroke="#482677" d="M1392.7 504.2h0"/>
<path stroke="#46337f" d="M1371.9 512.8h0"/>
<path stroke="#414487" d="M1349.5 512.8h0"/>
<path stroke="#404688" d="M1346.4 512.8h0"/>
<path stroke="#3f4889" d="M1362.3 450.8h0"/>
<path stroke="#3c4f8a" d="M1334.1 512.8h0"/>
<path stroke="#375a8c" d="M1406.4 291.4h0"/>
<path stroke="#365c8d" d="M1311.4 512.8h0"/>
<path stroke="#355e8d" d="M1318.2 470.8h0"/>
<path stroke="#34608d" d="M1306.8 504.5h0"/>
<path stroke="#31668e" d="M1293.5 512.8h0M1319.6 406.8h0"/>
<path stroke="#31688e" d="M1313.1 409.9h0"/>
<path stroke="#306a8e" d="M1321.9 359.4h0"/>
<path stroke="#2f6c8e" d="M1292.2 474.7h0"/>
<path stroke="#2e6e8e" d="M1281.4 504.9h0M1280.8 512.8h0"/>
<path stroke="#2d708e" d="M1278.8 512.8h0M1285.1 453.7h0"/>
<path stroke="#2c718e" d="M1286.9 436.7h0M1274.3 509.6h0M1297.3 370.6h0"/>
<path stroke="#2c738e" d="M1298.0 362.2h0M1271.7 504.2h0M1280.5 428.9h0M1276.3 464.4h0M1312.3 318.8h0M1312.3 317.6h0"/>
<path stroke="#2b758e" d="M1284.3 400.9h0M1290.1 366.9h0M1293.5 357.9h0M1275.6 446.9h0"/>
<path stroke="#2a778e" d="M1277.9 401.4h0M1280.8 390.6h0"/>
<path stroke="#29798e" d="M1266.7 441.6h0M1262.9 496.7h0M1290.1 322.1h0M1265.7 465.3h0M1277.8 374.9h0M1271.0 416.4h0"/>
<path stroke="#297b8e" d="M1272.8 388.7h0M1261.7 462.2h0M1259.0 496.5h0M1263.8 442.5h0M1260.0 481.1h0M1262.3 458.0h0M1282.6 334.1h0"/>
<path stroke="#287d8e" d="M1263.9 409.1h0M1280.3 311.0h0M1258.8 469.8h0M1253.1 507.0h0M1252.5 511.9h0M1256.4 494.4h0M1269.4 364.7h0"/>
<path stroke="#277f8e" d="M1283.5 277.3h0M1292.1 253.9h0M1256.3 439.3h0M1254.3 459.7h0M1251.9 475.4h0M1255.9 455.4h0"/>
<path stroke="#26818e" d="M1282.3 252.5h0M1268.7 301.7h0M1298.6 226.0h0M1266.1 345.9h0M1264.8 337.6h0M1273.4 281.7h0M1253.5 424.0h0M1258.0 372.8h0M1246.3 510.8h0M1268.1 315.0h0M1267.9 311.7h0M1249.4 485.0h0M1254.7 431.7h0M1246.9 498.9h0M1268.8 307.2h0M1247.5 478.8h0"/>
<path stroke="#26828e" d="M1253.3 379.7h0M1245.2 476.7h0M1246.1 486.7h0M1246.1 447.8h0M1246.4 467.1h0M1247.0 448.2h0M1243.2 488.5h0M1248.9 425.6h0M1244.6 469.5h0M1251.3 395.5h0M1246.0 473.9h0"/>
<path stroke="#25848e" d="M1246.4 404.0h0M1240.9 468.3h0M1244.0 467.7h0M1241.7 495.0h0M1247.9 391.5h0M1240.1 511.1h0M1241.8 458.2h0M1247.7 405.0h0M1240.3 512.8h0M1244.6 446.2h0M1246.9 413.2h0M1245.7 405.4h0M1244.1 411.7h0M1257.3 318.4h0M1241.9 457.9h0M1248.2 378.1h0M1251.3 335.9h0M1251.2 343.3h0M1246.1 387.7h0M1241.2 479.2h0M1240.3 490.1h0"/>
<path stroke="#24868e" d="M1251.6 307.6h0M1241.1 393.0h0M1240.9 405.6h0M1250.1 298.4h0M1250.7 301.0h0M1276.9 194.1h0M1251.5 300.1h0M1240.4 459.9h0M1242.0 384.3h0M1240.8 410.1h0M1239.2 469.4h0M1239.3 435.9h0M1247.2 370.7h0M1240.6 463.6h0M1236.3 479.4h0M1237.9 478.0h0M1243.4 385.9h0M1240.0 414.4h0M1237.5 480.1h0M1240.4 435.3h0M1237.7 451.1h0M1240.2 441.0h0M1248.2 330.2h0M1263.1 246.6h0"/>
<path stroke="#23888e" d="M1233.3 507.0h0M1242.0 376.6h0M1241.6 319.5h0M1237.7 440.2h0M1237.2 448.5h0M1236.7 441.2h0M1255.3 238.0h0M1266.0 205.3h0M1238.7 409.0h0M1237.3 396.7h0M1241.8 317.4h0M1256.3 246.0h0M1238.7 354.4h0M1255.1 239.9h0M1235.3 415.0h0M1233.1 484.1h0M1241.6 365.5h0M1244.5 325.9h0M1239.7 403.7h0M1236.0 416.0h0M1237.0 400.7h0M1234.3 489.2h0M1234.6 449.0h0M1239.5 404.9h0M1235.5 453.9h0M1236.4 461.2h0M1236.3 420.4h0"/>
<path stroke="#238a8d" d="M1248.2 248.0h0M1236.3 317.1h0M1232.4 379.6h0M1246.4 240.0h0M1230.4 429.6h0M1231.1 412.4h0M1238.9 305.5h0M1228.4 499.3h0M1230.0 452.1h0M1243.5 285.0h0M1237.5 358.6h0M1237.1 354.9h0M1234.6 417.7h0M1240.3 332.2h0M1230.0 498.1h0M1232.3 413.7h0M1234.3 354.8h0M1234.4 393.9h0M1244.8 281.1h0M1235.5 344.2h0M1232.4 407.7h0M1232.9 439.7h0M1230.6 433.1h0M1247.9 243.7h0M1233.8 435.6h0M1229.8 459.9h0M1236.6 382.8h0M1230.9 455.4h0M1232.8 413.2h0M1235.2 378.5h0M1257.8 179.4h0M1231.1 467.8h0M1232.1 472.7h0M1233.1 409.2h0M1230.8 442.4h0M1240.7 327.0h0M1229.6 486.5h0M1234.4 377.7h0M1280.9 138.5h0M1239.6 310.3h0M1236.8 343.2h0M1242.9 255.6h0M1231.5 443.7h0M1257.3 205.1h0M1241.5 301.5h0M1234.7 352.6h0M1232.8 388.7h0"/>
<path stroke="#228c8d" d="M1231.6 370.4h0M1228.2 471.8h0M1225.8 502.2h0M1234.8 304.4h0M1229.9 428.9h0M1228.3 422.8h0M1230.2 363.9h0M1233.9 316.0h0M1245.9 179.4h0M1226.3 460.5h0M1237.4 288.8h0M1228.7 455.6h0M1230.9 349.4h0M1271.8 119.8h0M1246.7 214.3h0M1235.8 255.3h0M1228.8 459.1h0M1273.6 136.3h0M1234.8 282.8h0M1240.4 206.5h0M1254.5 155.2h0M1230.4 424.2h0M1249.6 165.1h0M1230.2 314.9h0M1228.4 434.0h0M1227.8 506.3h0M1233.4 261.4h0M1229.0 461.3h0M1232.2 279.8h0M1226.2 479.8h0M1227.1 444.0h0M1228.2 397.1h0M1226.7 436.5h0M1237.3 270.1h0M1232.5 304.7h0M1233.2 260.3h0M1231.4 363.6h0M1237.9 265.8h0M1250.7 186.4h0M1241.5 241.1h0M1229.9 438.1h0M1226.9 477.5h0M1241.5 194.4h0M1226.5 443.9h0M1235.5 275.2h0M1226.6 470.5h0M1243.5 185.5h0M1256.9 169.2h0M1227.4 404.3h0M1228.1 413.0h0M1232.1 322.4h0M1228.1 469.7h0M1230.1 422.1h0M1226.0 441.8h0M1225.4 505.0h0M1228.9 415.8h0M1243.7 226.2h0M1228.0 375.4h0M1227.2 418.1h0M1229.0 390.4h0M1227.9 450.9h0M1232.2 374.9h0M1230.6 310.4h0M1232.0 340.9h0M1230.3 322.5h0M1231.4 345.8h0M1229.1 372.5h0"/>
<path stroke="#218e8d" d="M1230.6 213.5h0M1222.2 440.8h0M1224.9 297.0h0M1240.7 172.7h0M1224.1 353.6h0M1221.9 494.3h0M1226.1 306.1h0M1229.6 258.0h0M1228.3 258.4h0M1230.4 180.8h0M1231.0 239.5h0M1222.9 456.6h0M1231.9 262.5h0M1225.1 374.4h0M1227.3 260.7h0M1226.2 286.3h0M1223.7 447.3h0M1224.3 385.8h0M1226.3 261.0h0M1225.2 317.8h0M1250.9 109.4h0M1230.1 229.6h0M1221.8 482.1h0M1227.1 239.9h0M1223.6 510.2h0M1235.1 221.0h0M1273.3 102.7h0M1231.5 187.0h0M1228.4 283.2h0M1238.4 136.6h0M1252.6 111.4h0M1222.8 447.0h0M1223.4 484.0h0M1234.9 211.7h0M1247.0 118.3h0M1225.1 324.9h0M1232.0 236.6h0M1230.5 239.8h0M1225.6 321.8h0M1223.2 474.3h0M1231.5 282.9h0M1224.9 321.6h0M1224.0 331.4h0M1233.8 158.6h0M1226.9 374.5h0M1224.0 314.3h0M1229.4 302.6h0M1225.2 383.6h0M1225.6 409.1h0M1248.5 122.7h0M1239.2 158.1h0M1224.0 342.9h0M1223.0 425.8h0M1234.8 160.7h0M1224.1 434.0h0M1233.9 193.5h0M1239.9 190.3h0M1231.2 184.1h0M1222.1 478.9h0M1240.7 125.0h0M1238.6 170.8h0M1225.9 382.3h0M1231.2 212.9h0M1226.8 336.5h0M1222.2 457.9h0M1239.0 168.2h0M1225.2 388.2h0M1238.3 140.5h0M1267.7 116.5h0M1229.5 237.1h0M1223.4 461.4h0M1230.6 247.4h0M1236.7 217.8h0M1235.4 181.6h0M1226.3 404.0h0M1227.5 344.9h0M1259.0 114.6h0M1237.1 208.8h0M1233.5 251.0h0M1236.5 196.9h0M1227.9 271.3h0M1233.7 249.4h0M1223.0 467.6h0M1227.6 329.4h0M1222.9 441.5h0M1231.2 273.4h0M1229.9 195.9h0M1239.1 150.1h0M1225.0 353.8h0M1231.4 236.7h0M1235.4 199.8h0M1223.5 430.2h0M1225.5 428.1h0M1228.9 251.8h0M1224.6 468.3h0M1226.2 304.5h0M1261.2 106.6h0M1236.0 195.4h0M1228.9 275.6h0M1242.7 172.9h0M1225.6 366.2h0M1226.9 249.3h0M1231.1 197.6h0M1223.2 410.1h0M1229.8 307.7h0"/>
<path stroke="#21908d" d="M1238.3 63.9h0M1225.7 160.7h0M1237.8 132.1h0M1221.9 398.4h0M1224.9 80.1h0M1230.1 75.7h0M1219.1 268.0h0M1229.4 81.1h0M1219.9 435.7h0M1218.3 356.7h0M1218.3 307.8h0M1221.9 164.2h0M1220.5 380.1h0M1218.6 421.7h0M1219.4 423.2h0M1220.6 296.0h0M1220.0 304.3h0M1219.7 487.1h0M1227.5 189.1h0M1230.8 108.7h0M1231.7 98.4h0M1218.5 329.1h0M1224.7 123.6h0M1219.5 93.1h0M1221.9 277.3h0M1235.8 73.5h0M1223.8 198.7h0M1240.1 125.7h0M1223.6 83.7h0M1219.4 481.8h0M1219.9 133.4h0M1285.3 77.3h0M1222.0 410.6h0M1220.3 343.0h0M1221.1 473.2h0M1227.3 194.7h0M1218.1 343.3h0M1218.0 343.6h0M1223.0 164.2h0M1231.3 116.6h0M1234.9 119.0h0M1222.0 119.3h0M1219.4 430.9h0M1232.8 140.7h0M1222.4 274.4h0M1219.8 70.3h0M1219.4 214.6h0M1220.8 156.1h0M1224.3 234.2h0M1218.4 389.0h0M1224.5 282.1h0M1237.8 106.4h0M1222.4 135.6h0M1220.6 270.9h0M1230.9 70.0h0M1224.2 243.6h0M1229.6 188.1h0M1220.1 160.1h0M1219.7 394.3h0M1220.9 362.4h0M1222.0 350.0h0M1262.9 75.8h0M1235.6 104.7h0M1218.1 150.0h0M1220.4 95.8h0M1219.9 305.7h0M1223.1 192.7h0M1222.8 253.4h0M1224.0 162.3h0M1227.2 179.9h0M1218.3 349.3h0M1221.6 334.6h0M1219.7 128.7h0M1235.7 143.0h0M1224.2 100.0h0M1220.4 430.4h0M1218.0 456.8h0M1223.0 73.6h0M1227.2 136.7h0M1221.5 72.9h0M1224.4 269.1h0M1221.7 284.2h0M1227.3 169.7h0M1228.0 67.1h0M1218.8 283.1h0M1218.2 457.7h0M1255.5 58.3h0M1222.2 124.0h0M1219.8 214.1h0M1218.3 399.1h0M1238.5 63.4h0M1218.6 365.9h0M1220.6 487.9h0M1219.5 275.5h0M1227.0 181.9h0M1230.7 105.4h0M1217.9 280.8h0M1242.0 96.1h0M1231.1 143.2h0M1223.3 72.0h0M1224.8 99.9h0M1219.9 472.6h0M1220.2 498.1h0M1226.7 210.7h0M1221.6 97.2h0M1218.0 296.0h0M1238.5 96.8h0M1218.1 56.9h0M1221.5 222.1h0M1241.5 106.7h0M1222.3 374.2h0M1220.2 226.7h0M1218.3 353.0h0M1220.5 354.6h0M1228.4 59.8h0M1218.8 507.1h0M1223.6 148.8h0M1219.8 85.0h0M1231.2 148.7h0M1222.6 78.6h0M1230.8 172.6h0M1219.7 72.7h0M1219.7 223.6h0M1225.1 130.8h0M1232.0 151.3h0M1225.4 99.2h0M1218.4 61.9h0M1217.8 332.7h0M1218.1 63.0h0M1232.1 124.1h0M1219.4 337.3h0M1224.4 227.5h0M1224.7 172.1h0M1224.5 191.1h0M1219.1 152.0h0M1229.4 139.9h0M1217.9 176.8h0M1218.2 83.7h0M1221.2 253.3h0M1220.7 313.4h0M1220.3 117.2h0M1235.0 146.8h0M1244.0 72.0h0M1264.9 63.6h0M1218.0 366.9h0M1219.5 470.5h0M1228.2 107.4h0M1225.2 233.1h0M1219.7 250.5h0M1224.5 229.7h0M1220.6 319.3h0M1219.8 242.1h0M1220.1 214.1h0M1237.6 126.0h0M1242.1 88.4h0M1228.1 146.8h0M1222.0 121.1h0M1222.2 371.4h0M1220.7 145.2h0M1220.7 109.5h0M1230.4 170.1h0M1231.2 140.5h0M1225.3 139.3h0M1224.0 127.3h0M1234.7 83.1h0M1221.3 296.2h0M1231.2 92.7h0M1226.1 100.2h0M1219.1 362.9h0M1220.5 192.8h0M1223.8 219.6h0M1221.0 330.1h0M1228.2 89.4h0M1235.5 129.2h0M1222.2 133.9h0M1218.5 510.3h0M1218.1 466.0h0M1219.3 385.6h0M1218.0 254.9h0M1218.3 129.0h0M1235.4 109.7h0M1220.8 462.9h0M1222.6 340.9h0M1243.8 112.6h0M1222.8 290.0h0M1217.8 417.0h0M1227.7 201.1h0M1223.2 96.2h0M1219.8 189.7h0M1225.7 62.7h0M1224.2 298.2h0M1217.9 220.6h0M1240.6 93.6h0M1236.2 112.6h0M1228.6 144.9h0M1220.0 359.7h0M1221.3 246.5h0M1224.0 267.4h0M1226.3 155.8h0M1225.0 66.9h0M1230.8 84.4h0M1220.8 179.1h0M1226.5 92.8h0M1238.3 65.6h0M1223.9 235.8h0M1221.1 464.0h0M1222.6 192.5h0M1239.4 75.0h0M1219.1 439.2h0M1218.9 379.6h0M1225.3 216.3h0M1223.0 236.6h0M1219.4 478.7h0M1221.6 318.6h0M1218.0 420.8h0M1229.4 112.7h0M1241.7 93.6h0M1220.3 99.1h0M1220.5 252.9h0M1219.9 57.9h0M1222.8 351.5h0M1219.6 405.3h0M1224.3 249.0h0M1231.1 153.4h0M1226.9 214.7h0M1220.2 368.8h0M1224.9 124.4h0M1219.5 217.1h0M1217.8 375.9h0M1219.0 107.8h0M1221.7 449.0h0M1220.1 161.2h0M1220.4 384.9h0M1238.3 94.3h0M1220.1 195.7h0M1217.8 389.0h0M1231.9 77.8h0M1223.2 277.3h0M1231.1 94.9h0M1233.3 61.2h0M1227.4 93.1h0M1226.8 147.2h0M1222.6 360.3h0M1217.8 136.7h0M1224.2 58.0h0M1247.0 83.1h0M1223.1 188.8h0M1219.7 250.1h0M1220.2 479.5h0M1221.8 144.9h0"/>
<path stroke="#20928c" d="M1208.2 64.0h0M1217.5 190.8h0M1206.5 165.2h0M1211.8 101.8h0M1211.9 129.4h0M1205.2 117.4h0M1214.5 283.6h0M1217.5 198.8h0M1211.7 123.1h0M1216.4 221.5h0M1212.5 331.3h0M1216.5 176.5h0M1217.1 492.7h0M1217.6 236.9h0M1215.6 505.2h0M1182.3 67.1h0M1214.3 462.6h0M1207.4 154.5h0M1198.6 59.1h0M1206.8 183.2h0M1210.5 115.2h0M1211.9 99.0h0M1214.9 496.3h0M1214.2 498.3h0M1214.5 252.6h0M1202.5 110.5h0M1210.4 201.6h0M1214.3 457.8h0M1203.6 95.6h0M1211.6 131.6h0M1216.0 350.0h0M1209.5 131.0h0M1210.0 80.3h0M1195.9 65.7h0M1206.6 178.8h0M1216.2 207.9h0M1213.6 234.8h0M1202.0 64.3h0M1216.7 322.2h0M1216.6 506.6h0M1213.2 326.7h0M1214.3 357.4h0M1213.1 235.5h0M1215.2 206.7h0M1216.7 326.0h0M1214.6 359.1h0M1203.1 60.4h0M1209.5 138.4h0M1214.1 210.2h0M1199.4 109.6h0M1213.1 117.4h0M1214.6 334.6h0M1214.6 299.4h0M1216.2 138.0h0M1215.0 126.3h0M1213.0 262.8h0M1208.3 125.4h0M1216.0 409.8h0M1215.8 296.0h0M1205.9 131.7h0M1213.6 370.1h0M1204.5 69.8h0M1211.4 141.7h0M1210.6 203.4h0M1215.0 474.0h0M1202.1 144.9h0M1213.7 444.5h0M1201.5 79.9h0M1214.7 147.3h0M1213.5 374.7h0M1211.7 177.2h0M1208.5 149.9h0M1211.5 132.4h0M1207.1 66.5h0M1211.8 228.8h0M1213.4 403.6h0M1213.6 357.3h0M1216.5 288.1h0M1217.7 191.1h0M1217.0 493.4h0M1204.7 133.5h0M1205.4 61.3h0M1203.3 132.7h0M1207.4 135.2h0M1215.1 328.7h0M1215.9 290.6h0M1215.9 183.0h0M1215.3 421.1h0M1216.7 112.9h0M1207.5 164.3h0M1216.3 272.1h0M1216.4 369.6h0M1217.4 481.8h0M1209.2 77.4h0M1213.4 173.3h0M1214.9 491.0h0M1214.8 416.5h0M1215.8 147.0h0M1213.2 181.7h0M1210.3 152.3h0M1213.3 138.9h0M1217.7 62.5h0M1213.6 160.0h0M1207.7 155.2h0M1204.0 150.1h0M1205.3 113.9h0M1210.4 106.7h0M1217.7 296.1h0M1213.4 180.7h0M1211.6 145.8h0M1208.4 152.7h0M1215.3 499.8h0M1202.3 125.7h0M1211.6 65.4h0M1197.6 128.2h0M1208.6 67.9h0M1216.1 391.7h0M1209.7 184.7h0M1199.3 62.3h0M1206.9 71.2h0M1212.8 301.0h0M1208.4 172.9h0M1216.9 257.5h0M1213.8 114.2h0M1213.0 240.1h0M1211.4 196.6h0M1211.4 163.2h0M1209.2 68.0h0M1205.2 80.7h0M1203.4 147.8h0M1217.5 384.8h0M1197.8 93.1h0M1217.2 309.4h0M1216.2 307.9h0M1196.7 80.2h0M1215.2 263.8h0M1217.4 237.1h0M1212.1 311.3h0M1211.8 78.4h0M1214.3 138.0h0M1206.8 128.5h0M1185.3 57.6h0M1209.7 231.6h0M1216.6 371.8h0M1210.0 237.3h0M1208.1 172.8h0M1181.9 85.9h0M1214.7 182.8h0M1214.6 243.5h0M1213.2 170.7h0M1198.3 85.0h0M1212.1 239.2h0M1216.9 192.6h0M1217.3 276.3h0M1212.3 267.1h0M1198.6 76.9h0M1209.9 225.9h0M1205.0 90.5h0M1216.2 223.5h0M1217.3 462.4h0M1216.5 205.7h0M1205.5 148.3h0M1210.6 134.5h0M1214.7 432.5h0M1217.0 218.4h0M1215.8 456.4h0M1212.5 74.6h0M1211.5 220.8h0M1214.4 176.9h0M1215.7 242.1h0M1209.5 188.7h0M1183.5 79.7h0M1205.2 151.7h0M1213.2 379.2h0M1195.0 68.6h0M1210.6 236.5h0M1214.6 151.9h0M1210.4 167.4h0M1213.5 117.3h0M1213.3 57.2h0M1213.6 216.2h0M1212.5 72.3h0M1215.2 138.9h0M1212.4 102.0h0M1210.5 72.3h0M1217.4 308.7h0M1211.6 219.8h0M1215.4 80.1h0M1209.9 157.0h0M1196.1 98.0h0M1213.9 203.4h0M1214.3 493.9h0M1203.3 135.5h0M1212.1 186.6h0M1215.8 390.1h0M1147.3 58.4h0M1206.2 170.2h0M1216.3 420.7h0M1215.1 85.4h0M1213.2 300.9h0M1212.2 177.0h0M1217.3 461.8h0M1216.3 306.5h0M1215.5 479.9h0M1207.3 86.4h0M1214.7 351.6h0M1215.4 104.4h0M1217.2 389.3h0M1214.6 113.4h0M1202.7 132.1h0M1189.9 96.9h0M1212.5 276.0h0M1193.8 86.1h0M1215.0 165.8h0M1214.9 74.7h0M1201.4 136.6h0M1214.3 413.2h0M1213.2 381.1h0M1209.1 81.1h0M1210.7 267.5h0M1206.5 167.3h0M1208.9 108.4h0M1217.1 119.4h0M1206.7 94.7h0M1216.1 112.6h0M1217.5 442.3h0M1201.0 98.0h0M1188.3 98.6h0M1215.1 389.7h0M1216.6 330.2h0M1214.3 134.5h0M1208.6 191.2h0M1207.4 160.5h0M1202.3 75.5h0M1214.6 228.5h0M1204.6 102.5h0M1209.8 192.5h0M1211.3 136.2h0M1212.4 111.6h0M1217.5 479.1h0M1200.1 97.9h0M1215.9 318.9h0M1202.1 110.6h0M1214.8 134.9h0M1211.8 286.8h0M1200.7 130.5h0M1212.5 343.5h0M1217.6 79.7h0M1215.2 57.6h0M1216.7 466.3h0M1204.0 96.9h0M1214.8 164.0h0M1215.7 196.8h0"/>
<path stroke="#20938c" d="M1202.8 223.1h0M1207.6 312.3h0M1210.4 361.1h0M1195.4 129.3h0M1198.7 151.1h0M1209.9 449.6h0M1213.6 455.4h0M1209.9 339.5h0M1189.0 125.0h0M1202.0 190.8h0M1202.5 260.5h0M1209.6 395.7h0M1209.8 386.6h0M1207.1 239.6h0M1208.7 362.9h0M1212.0 382.8h0M1211.1 500.2h0M1211.3 376.0h0M1208.5 287.5h0M1207.8 273.2h0M1201.1 194.2h0M1205.7 253.1h0M1211.0 503.5h0M1212.1 373.0h0M1198.4 170.1h0M1196.4 185.7h0M1200.2 231.5h0M1207.9 329.4h0M1210.8 468.0h0M1208.5 276.2h0M1210.0 412.8h0M1202.2 222.0h0M1206.3 301.8h0M1210.3 388.9h0M1208.6 385.1h0M1213.0 495.0h0M1206.3 289.8h0M1211.8 437.3h0M1206.3 315.4h0M1184.2 129.4h0M1209.8 398.9h0M1206.3 221.5h0M1211.0 508.2h0M1209.5 294.8h0M1206.0 276.3h0M1213.9 468.3h0M1212.3 408.7h0M1206.7 282.7h0M1212.8 436.8h0M1199.9 205.5h0M1197.7 162.5h0M1199.2 158.3h0M1206.9 223.3h0M1207.4 252.1h0M1202.4 252.5h0M1210.5 388.8h0M1195.3 162.7h0M1199.0 208.9h0M1181.6 119.5h0M1202.1 219.8h0M1211.8 430.9h0M1212.2 449.6h0M1203.5 258.6h0M1204.2 279.0h0M1208.5 254.4h0M1197.6 198.4h0M1207.4 309.7h0M1207.2 257.8h0M1210.7 283.7h0M1211.7 429.9h0M1205.3 203.7h0M1206.3 230.8h0M1209.0 374.7h0M1207.3 293.4h0M1210.3 275.3h0M1210.5 304.8h0M1212.6 512.0h0M1205.5 290.7h0M1207.4 253.3h0M1213.9 506.3h0M1202.5 250.5h0M1193.0 159.5h0M1200.6 182.6h0M1197.1 174.3h0M1212.3 499.5h0M1211.3 362.3h0M1212.4 412.3h0M1208.3 285.0h0M1210.2 438.9h0M1196.0 196.3h0M1209.8 261.4h0M1206.2 262.7h0M1203.9 271.7h0M1209.8 395.6h0M1210.0 291.4h0M1207.9 304.8h0M1205.0 210.6h0M1204.2 207.7h0M1197.0 137.1h0M1211.5 416.2h0M1207.0 216.1h0M1211.5 425.0h0M1210.5 421.6h0M1207.7 329.6h0M1194.1 125.3h0M1211.4 411.5h0M1169.4 93.0h0M1213.8 512.8h0M1205.6 210.0h0M1210.4 282.4h0M1209.7 356.5h0M1208.3 366.9h0M1205.7 293.9h0M1194.6 163.6h0M1211.3 489.5h0M1209.9 411.4h0M1210.4 294.3h0M1209.8 444.8h0"/>
<path stroke="#1f958b" d="M1209.7 469.3h0M1207.5 480.7h0M1196.1 233.2h0M1203.3 379.6h0M1187.7 206.3h0M1200.0 244.1h0M1207.7 435.2h0M1207.1 382.9h0M1204.3 393.1h0M1204.5 306.3h0M1206.7 342.5h0M1179.3 177.9h0M1193.3 240.9h0M1200.9 279.6h0M1198.5 291.8h0M1195.1 216.4h0M1206.5 391.7h0M1203.1 300.1h0M1205.8 383.5h0M1204.4 380.2h0M1206.5 334.8h0M1205.9 430.4h0M1208.9 408.7h0M1207.3 435.4h0M1184.8 184.4h0M1209.9 460.9h0M1197.0 270.3h0M1205.0 409.4h0M1208.6 508.1h0M1198.8 223.9h0M1206.2 406.9h0M1208.1 384.1h0M1202.6 323.4h0M1207.5 400.5h0M1208.0 477.0h0M1208.7 455.1h0M1198.4 270.7h0M1204.2 353.2h0M1182.6 155.3h0M1209.2 511.2h0M1197.8 253.0h0M1209.5 465.0h0M1182.1 157.3h0M1209.4 454.8h0M1207.7 424.2h0M1207.4 440.3h0M1209.6 483.1h0M1207.6 435.1h0M1198.6 221.0h0M1195.7 262.4h0M1210.6 503.7h0M1207.6 446.3h0M1205.2 361.9h0M1204.1 351.6h0M1202.9 268.6h0M1202.1 300.9h0M1202.7 335.0h0M1201.1 256.5h0M1199.8 257.4h0M1184.7 176.0h0M1192.8 183.7h0M1199.6 309.3h0M1209.6 476.5h0M1206.5 373.1h0M1209.7 493.3h0M1204.2 336.8h0M1188.8 167.7h0"/>
<path stroke="#1f978b" d="M1184.1 228.5h0M1204.2 436.7h0M1203.6 473.7h0M1200.2 388.7h0M1197.0 341.7h0M1195.7 317.8h0M1198.9 317.4h0M1191.5 280.4h0M1203.0 395.8h0M1203.4 400.9h0M1187.6 248.4h0M1199.6 331.7h0M1176.9 193.2h0M1203.3 472.0h0M1198.9 318.6h0M1198.0 324.3h0M1190.0 225.9h0M1195.6 335.2h0M1197.5 341.8h0M1201.6 395.2h0M1197.2 344.0h0M1205.5 498.6h0M1199.7 347.9h0M1205.3 442.7h0M1204.5 501.9h0M1205.1 467.5h0M1202.1 360.1h0M1203.5 483.3h0M1203.3 383.0h0M1204.1 476.2h0M1200.4 409.6h0M1203.7 412.1h0M1204.5 500.2h0M1203.6 424.1h0M1186.4 255.4h0M1198.9 338.4h0M1192.9 278.6h0M1205.6 510.4h0M1203.3 474.9h0M1204.6 494.4h0M1203.7 467.1h0M1171.6 159.9h0M1206.5 506.8h0"/>
<path stroke="#1f998a" d="M1200.6 419.9h0M1184.0 260.2h0M1196.0 383.3h0M1201.8 474.9h0M1201.8 501.8h0M1191.1 330.3h0M1190.5 341.0h0M1197.3 384.6h0M1201.3 505.2h0M1200.8 445.7h0M1201.2 469.0h0M1201.4 468.0h0M1201.8 480.5h0M1199.7 403.8h0M1193.2 338.9h0M1194.1 381.3h0M1192.5 330.3h0M1197.7 395.8h0M1203.3 503.8h0M1198.0 399.7h0M1197.2 375.2h0M1193.5 369.9h0M1182.8 244.0h0M1198.0 396.3h0M1185.5 267.1h0M1190.9 331.7h0M1190.1 318.3h0M1186.7 269.4h0M1200.3 476.8h0M1192.7 333.4h0M1203.3 493.2h0M1185.5 252.7h0"/>
<path stroke="#1e9b8a" d="M1198.3 460.8h0M1155.6 188.5h0M1180.4 303.7h0M1194.3 440.5h0M1194.5 452.9h0M1170.4 234.9h0M1188.2 364.3h0M1193.3 401.0h0M1196.7 474.2h0M1196.2 419.8h0M1194.7 456.3h0M1200.4 508.6h0M1197.2 464.6h0M1195.9 483.1h0M1197.0 471.9h0M1195.6 419.0h0M1198.8 493.2h0M1199.0 501.9h0M1193.7 414.9h0"/>
<path stroke="#1e9d89" d="M1175.7 285.2h0M1194.9 504.6h0M1195.8 511.2h0M1187.3 410.0h0M1190.6 453.9h0M1191.1 442.1h0M1143.7 195.0h0M1189.4 413.4h0M1191.0 446.7h0M1192.5 449.5h0M1181.8 350.8h0M1182.3 343.8h0M1193.9 463.5h0M1196.4 506.7h0M1190.9 440.7h0M1194.9 473.9h0M1187.9 410.2h0M1196.3 512.8h0M1191.8 456.5h0M1186.1 388.5h0M1178.9 326.0h0"/>
<path stroke="#1f9f88" d="M1188.5 467.0h0M1172.7 312.4h0M1177.4 341.1h0M1189.1 477.4h0M1191.2 494.7h0M1180.8 354.4h0M1192.0 504.3h0M1190.4 459.3h0M1191.5 496.8h0M1183.8 383.7h0M1187.7 461.2h0M1186.6 446.1h0M1185.3 394.5h0M1184.4 398.6h0"/>
<path stroke="#1fa188" d="M1189.4 501.6h0M1175.9 355.8h0M1179.0 416.0h0M1188.4 500.6h0M1187.9 507.0h0M1188.6 490.0h0M1184.5 466.5h0M1180.0 389.0h0"/>
<path stroke="#1fa287" d="M1183.2 474.9h0M1184.3 487.4h0M1165.7 329.8h0M1180.3 453.5h0M1179.7 463.1h0M1183.2 495.2h0M1181.6 466.9h0M1181.4 452.6h0M1182.3 494.3h0M1182.8 476.6h0M1183.8 491.7h0"/>
<path stroke="#20a486" d="M1182.5 502.2h0M1158.8 334.9h0M1174.6 428.7h0M1165.9 371.8h0M1163.6 361.5h0M1181.7 502.4h0M1151.5 297.6h0M1159.8 340.4h0"/>
<path stroke="#21a685" d="M1175.5 476.6h0M1176.1 501.8h0M1129.6 255.1h0M1167.5 416.2h0M1037.6 156.0h0M1164.3 400.6h0"/>
<path stroke="#22a884" d="M1165.7 445.2h0M1175.0 495.1h0M1160.1 389.5h0"/>
<path stroke="#24aa83" d="M1167.2 485.7h0M1115.2 266.8h0M1169.5 488.0h0M1160.0 425.1h0"/>
<path stroke="#25ac82" d="M1103.5 252.7h0M1149.5 395.6h0M1129.4 304.4h0"/>
<path stroke="#27ad81" d="M1162.3 491.2h0M1145.4 396.4h0"/>
<path stroke="#29af7f" d="M1160.4 512.8h0M1153.7 461.2h0M1122.0 326.5h0"/>
<path stroke="#2cb17e" d="M1146.4 429.1h0M1127.0 364.7h0M1157.3 512.8h0"/>
<path stroke="#2eb37c" d="M1101.0 297.8h0M1095.9 299.1h0"/>
<path stroke="#3aba76" d="M1092.5 335.0h0M1061.2 282.0h0"/>
<path stroke="#3dbc74" d="M1039.1 258.8h0"/>
<path stroke="#40bd72" d="M1135.0 512.8h0"/>
<path stroke="#44bf70" d="M1085.4 359.3h0M1130.4 512.8h0M1071.8 327.7h0"/>
<path stroke="#4cc26c" d="M1122.0 504.6h0"/>
<path stroke="#54c568" d="M1091.8 425.0h0"/>
<path stroke="#5cc863" d="M1106.2 495.2h0"/>
<path stroke="#65cb5e" d="M1070.7 410.0h0"/>
<path stroke="#81d34d" d="M1051.3 427.0h0"/>
<path stroke="#86d549" d="M1012.7 360.8h0"/>
<path stroke="#d5e21a" d="M955.0 383.1h0"/>
<path stroke="#fde725" d="M967.5 501.3h0M996.5 512.8h0"/>
<path stroke="#440256" d="M1448.6 512.8h0M1436.1 512.8h0M1443.5 512.8h0M1450.5 512.8h0"/>
<path stroke="#450559" d="M1433.3 512.8h0"/>
<path stroke="#46085c" d="M1429.3 512.8h0"/>
<path stroke="#481769" d="M1409.9 512.8h0"/>
<path stroke="#481a6c" d="M1408.7 512.8h0M1409.2 512.8h0"/>
<path stroke="#481f70" d="M1399.4 512.8h0M1399.7 512.8h0"/>
<path stroke="#482979" d="M1387.5 512.8h0M1385.9 512.8h0"/>
<path stroke="#472c7a" d="M1382.4 512.8h0"/>
<path stroke="#46307e" d="M1375.6 512.8h0M1376.1 512.8h0M1375.8 512.8h0M1376.4 512.8h0"/>
<path stroke="#46337f" d="M1374.1 512.8h0M1375.1 512.8h0M1375.0 512.8h0M1374.2 512.8h0M1373.4 512.8h0M1374.0 512.8h0M1374.1 512.8h0M1375.1 512.8h0M1373.0 512.8h0M1373.5 512.8h0M1373.9 512.8h0M1371.9 512.8h0"/>
<path stroke="#453581" d="M1368.6 512.8h0M1370.3 512.8h0M1371.2 512.8h0M1369.5 512.8h0M1370.0 512.8h0M1370.0 512.8h0M1371.3 512.8h0M1369.0 512.8h0M1369.9 512.8h0"/>
<path stroke="#453882" d="M1366.7 512.8h0M1366.5 512.8h0M1367.7 512.8h0M1367.8 512.8h0M1367.1 512.8h0"/>
<path stroke="#443a83" d="M1362.7 512.8h0M1362.1 512.8h0M1362.7 512.8h0M1364.4 512.8h0M1363.6 512.8h0M1363.8 512.8h0M1363.5 512.8h0M1363.3 512.8h0M1363.3 512.8h0M1362.5 512.8h0"/>
<path stroke="#433d84" d="M1358.7 512.8h0M1359.8 512.8h0M1358.5 512.8h0M1360.3 512.8h0M1361.0 512.8h0M1360.7 512.8h0M1361.1 512.8h0M1359.2 512.8h0M1359.6 512.8h0M1361.2 512.8h0M1360.8 512.8h0M1360.4 512.8h0"/>
<path stroke="#423f85" d="M1354.9 512.8h0M1357.7 512.8h0M1355.3 512.8h0M1356.8 512.8h0M1357.0 512.8h0M1354.9 512.8h0M1356.3 512.8h0M1357.6 512.8h0"/>
<path stroke="#424186" d="M1353.7 512.8h0M1352.4 512.8h0M1353.0 512.8h0M1354.5 512.8h0M1352.3 512.8h0M1354.0 512.8h0M1354.5 512.8h0M1354.0 512.8h0M1353.8 512.8h0M1351.2 512.8h0"/>
<path stroke="#414487" d="M1350.4 512.8h0M1348.4 512.8h0M1348.0 512.8h0M1348.4 512.8h0M1348.2 512.8h0M1348.3 512.8h0M1348.9 512.8h0"/>
<path stroke="#404688" d="M1344.6 512.8h0M1344.6 512.8h0M1344.9 512.8h0M1347.1 512.8h0M1346.5 512.8h0M1345.5 512.8h0M1344.6 512.8h0M1347.7 512.8h0M1346.9 512.8h0"/>
<path stroke="#3f4889" d="M1342.6 512.8h0M1341.4 512.8h0M1342.8 512.8h0M1342.2 512.8h0M1343.1 512.8h0M1343.6 512.8h0M1343.1 512.8h0M1342.2 512.8h0M1343.4 512.8h0M1343.5 512.8h0M1341.9 512.8h0M1343.8 512.8h0"/>
<path stroke="#3e4a89" d="M1339.1 512.8h0M1338.4 512.8h0M1340.4 512.8h0M1340.4 512.8h0M1340.2 512.8h0M1339.5 512.8h0M1338.8 512.8h0M1340.5 512.8h0M1338.4 512.8h0"/>
<path stroke="#3d4d8a" d="M1335.0 512.8h0M1334.9 512.8h0M1335.2 512.8h0M1334.4 512.8h0M1334.3 512.8h0M1336.8 512.8h0M1336.4 512.8h0M1335.0 512.8h0M1335.9 512.8h0M1335.7 512.8h0M1335.3 512.8h0M1337.5 512.8h0M1336.9 512.8h0M1336.5 512.8h0"/>
<path stroke="#3c4f8a" d="M1331.2 512.8h0M1331.3 512.8h0M1333.7 512.8h0M1333.4 512.8h0M1331.7 512.8h0M1331.1 512.8h0M1332.8 512.8h0M1333.8 512.8h0M1332.2 512.8h0M1330.8 512.8h0M1332.3 512.8h0"/>
<path stroke="#3b518b" d="M1329.5 512.8h0M1328.3 512.8h0M1328.6 512.8h0M1328.6 512.8h0M1327.7 512.8h0M1327.4 512.8h0M1328.5 512.8h0M1330.3 512.8h0M1327.3 512.8h0M1329.0 512.8h0M1329.4 512.8h0"/>
<path stroke="#3a538b" d="M1324.4 512.8h0M1324.2 512.8h0M1324.1 512.8h0M1326.9 512.8h0"/>
<path stroke="#39558c" d="M1321.4 512.8h0M1320.8 512.8h0M1323.0 512.8h0M1323.3 512.8h0M1321.7 512.8h0M1322.6 512.8h0M1321.0 512.8h0M1323.3 512.8h0"/>
<path stroke="#38588c" d="M1320.3 512.8h0M1318.8 512.8h0M1317.4 512.8h0M1318.5 512.8h0M1319.7 512.8h0M1320.1 512.8h0M1320.1 512.8h0M1317.9 512.8h0"/>
<path stroke="#375a8c" d="M1315.9 512.8h0M1316.9 512.8h0M1314.7 512.8h0M1314.8 512.8h0M1314.8 512.8h0"/>
<path stroke="#365c8d" d="M1310.2 512.8h0M1312.0 512.8h0M1312.0 512.8h0M1312.8 512.8h0M1312.4 512.8h0M1312.8 512.8h0M1312.9 512.8h0M1310.8 512.8h0M1311.2 512.8h0"/>
<path stroke="#355e8d" d="M1309.2 512.8h0M1307.8 512.8h0M1308.1 512.8h0M1307.6 512.8h0M1308.7 512.8h0M1308.8 512.8h0"/>
<path stroke="#34608d" d="M1304.4 512.8h0M1305.2 512.8h0M1305.3 512.8h0M1306.2 512.8h0M1304.4 512.8h0M1305.5 512.8h0M1306.0 512.8h0M1305.2 512.8h0M1305.3 512.8h0"/>
<path stroke="#33628d" d="M1301.4 512.8h0M1302.6 512.8h0M1301.4 512.8h0M1301.9 512.8h0M1302.4 512.8h0M1302.3 512.8h0"/>
<path stroke="#32648e" d="M1296.8 512.8h0M1299.7 512.8h0M1298.2 512.8h0M1297.2 512.8h0M1299.0 512.8h0M1298.9 512.8h0M1296.7 512.8h0M1299.0 512.8h0M1296.8 512.8h0M1297.6 512.8h0M1297.0 512.8h0"/>
<path stroke="#31668e" d="M1295.0 512.8h0M1294.3 512.8h0M1293.7 512.8h0M1293.5 512.8h0M1295.5 512.8h0M1294.5 512.8h0M1295.8 512.8h0M1296.0 512.8h0M1295.3 512.8h0"/>
<path stroke="#31688e" d="M1292.3 512.8h0M1290.0 512.8h0M1292.6 512.8h0M1292.5 512.8h0M1290.6 512.8h0M1291.9 512.8h0M1291.9 512.8h0"/>
<path stroke="#306a8e" d="M1288.3 512.8h0M1287.3 512.8h0M1286.5 512.8h0M1287.2 512.8h0M1289.3 512.8h0M1286.5 512.8h0M1288.3 512.8h0M1288.9 512.8h0M1289.5 512.8h0M1286.3 512.8h0M1286.6 512.8h0M1289.0 512.8h0"/>
<path stroke="#2f6c8e" d="M1284.3 512.8h0M1285.4 512.8h0M1283.9 512.8h0M1285.1 512.8h0M1285.6 512.8h0M1283.8 512.8h0M1285.5 512.8h0M1284.8 512.8h0M1283.0 512.8h0M1283.3 512.8h0"/>
<path stroke="#2e6e8e" d="M1281.0 512.8h0M1282.1 512.8h0M1281.6 512.8h0M1282.2 512.8h0M1281.3 512.8h0M1281.4 512.8h0M1282.3 512.8h0M1282.7 512.8h0M1279.7 512.8h0M1279.5 512.8h0M1281.8 512.8h0"/>
<path stroke="#2d708e" d="M1276.9 512.8h0M1277.5 512.8h0M1277.0 512.8h0M1278.4 512.8h0M1276.0 512.8h0M1277.9 512.8h0M1279.0 512.8h0M1278.7 512.8h0M1277.7 512.8h0M1278.0 512.8h0M1278.9 512.8h0M1277.1 512.8h0M1276.5 512.8h0"/>
<path stroke="#2c718e" d="M1274.0 512.8h0M1272.6 512.8h0M1275.3 512.8h0M1273.5 512.8h0M1272.6 512.8h0M1272.6 512.8h0M1275.3 512.8h0M1273.3 512.8h0M1273.8 512.8h0M1273.1 512.8h0M1274.5 512.8h0M1272.9 512.8h0M1274.3 512.8h0"/>
<path stroke="#2c738e" d="M1270.3 512.8h0M1269.5 512.8h0M1270.6 512.8h0M1269.8 512.8h0M1271.5 512.8h0M1271.2 512.8h0M1271.6 512.8h0M1269.6 512.8h0M1271.3 512.8h0M1272.3 512.8h0M1270.9 512.8h0M1271.7 512.8h0"/>
<path stroke="#2b758e" d="M1277.8 445.5h0M1268.6 512.8h0M1266.8 512.8h0M1267.3 512.8h0M1265.7 512.8h0M1267.8 512.8h0M1266.7 512.8h0"/>
<path stroke="#2a778e" d="M1264.1 512.8h0M1265.5 512.8h0M1264.8 512.8h0M1263.8 512.8h0M1262.7 512.8h0M1262.4 512.8h0M1264.0 512.8h0M1265.6 512.8h0M1263.2 512.8h0M1262.6 512.8h0"/>
<path stroke="#29798e" d="M1264.4 461.7h0M1259.0 512.8h0M1261.5 512.8h0M1258.8 512.8h0M1259.5 512.8h0M1258.9 512.8h0M1261.4 512.8h0M1260.6 512.8h0M1261.5 512.8h0"/>
<path stroke="#297b8e" d="M1286.4 323.5h0M1255.9 512.8h0M1257.1 512.8h0M1256.7 512.8h0M1256.8 512.8h0M1255.9 512.8h0M1258.1 512.8h0M1258.1 512.8h0M1257.3 512.8h0M1256.6 512.8h0M1256.2 512.8h0M1257.9 512.8h0M1258.6 512.8h0"/>
<path stroke="#287d8e" d="M1254.4 494.2h0M1252.1 512.8h0M1253.4 512.8h0M1252.6 512.8h0M1254.9 512.8h0M1254.4 512.8h0M1254.8 512.8h0M1252.3 512.8h0M1252.6 512.8h0M1254.5 512.8h0M1255.1 512.8h0"/>
<path stroke="#277f8e" d="M1253.3 473.8h0M1251.9 503.9h0M1250.1 512.8h0M1251.2 512.8h0M1248.7 512.8h0M1248.8 512.8h0M1249.6 512.8h0M1249.3 512.8h0"/>
<path stroke="#26818e" d="M1245.5 512.8h0M1248.0 512.8h0M1247.9 512.8h0M1247.3 512.8h0M1245.9 512.8h0M1246.2 512.8h0M1247.6 512.8h0M1246.8 512.8h0M1246.5 512.8h0"/>
<path stroke="#26828e" d="M1244.2 512.8h0M1242.5 512.8h0M1244.6 512.8h0M1244.2 512.8h0M1242.2 512.8h0M1244.8 512.8h0M1242.4 512.8h0"/>
<path stroke="#25848e" d="M1239.0 512.8h0M1239.2 512.8h0M1240.8 512.8h0M1241.6 512.8h0M1238.3 512.8h0M1238.7 512.8h0M1238.4 512.8h0M1239.1 512.8h0M1240.9 512.8h0M1241.2 512.8h0"/>
<path stroke="#24868e" d="M1247.3 360.4h0M1238.6 435.4h0M1244.9 373.2h0M1277.4 193.6h0M1242.2 418.7h0M1237.3 512.8h0M1236.6 512.8h0M1235.6 512.8h0M1236.4 512.8h0M1238.1 512.8h0M1235.7 512.8h0M1235.8 512.8h0M1235.3 512.8h0M1235.3 512.8h0M1236.0 512.8h0M1236.1 512.8h0M1237.4 512.8h0"/>
<path stroke="#23888e" d="M1240.0 349.2h0M1239.7 408.9h0M1235.8 452.5h0M1276.1 181.6h0M1260.0 229.3h0M1234.4 512.8h0M1234.2 512.8h0M1232.5 512.8h0M1233.5 512.8h0M1234.7 512.8h0M1234.5 512.8h0M1234.7 512.8h0M1233.2 512.8h0M1231.5 512.8h0"/>
<path stroke="#238a8d" d="M1238.5 306.5h0M1231.3 463.0h0M1234.9 391.8h0M1230.8 481.5h0M1229.3 512.8h0M1230.6 512.8h0M1228.3 512.8h0M1230.6 512.8h0M1231.3 512.8h0M1229.7 512.8h0"/>
<path stroke="#228c8d" d="M1237.2 222.9h0M1230.6 386.1h0M1234.0 266.6h0M1228.3 378.0h0M1241.4 207.0h0M1247.8 203.6h0M1229.5 414.8h0M1231.6 335.4h0M1244.7 215.6h0M1225.9 441.1h0M1229.3 339.4h0M1225.9 512.8h0M1227.5 512.8h0M1226.6 512.8h0M1226.5 512.8h0M1227.7 512.8h0M1226.5 512.8h0M1226.0 512.8h0M1227.2 512.8h0M1225.9 512.8h0M1224.8 512.8h0M1224.9 512.8h0M1226.1 512.8h0M1225.9 512.8h0M1226.6 512.8h0"/>
<path stroke="#218e8d" d="M1224.6 311.4h0M1232.3 271.3h0M1223.3 342.1h0M1224.3 348.3h0M1223.0 432.0h0M1235.2 181.7h0M1225.5 377.1h0M1222.9 411.9h0M1243.4 165.4h0M1221.4 493.0h0M1236.1 205.8h0M1222.1 512.8h0M1222.3 512.8h0M1222.5 512.8h0M1224.5 512.8h0M1224.4 512.8h0M1221.5 512.8h0M1222.5 512.8h0M1221.3 512.8h0M1221.2 512.8h0M1224.3 512.8h0"/>
<path stroke="#21908d" d="M1224.2 197.5h0M1224.0 266.8h0M1220.9 500.6h0M1223.0 62.2h0M1221.3 202.4h0M1219.2 269.1h0M1218.3 269.7h0M1221.0 151.8h0M1220.0 434.5h0M1227.9 70.9h0M1219.5 258.5h0M1220.6 292.0h0M1222.7 170.5h0M1236.1 128.6h0M1233.6 77.5h0M1227.3 126.3h0M1218.0 410.2h0M1230.1 94.8h0M1222.6 340.1h0M1221.1 173.2h0M1222.7 292.0h0M1234.3 133.9h0M1218.6 414.6h0M1226.3 142.3h0M1221.2 512.8h0M1219.1 512.8h0M1218.4 512.8h0M1219.2 512.8h0M1220.9 512.8h0M1220.4 512.8h0M1220.2 512.8h0M1220.7 512.8h0M1220.5 512.8h0M1219.1 512.8h0M1219.6 512.8h0M1219.7 512.8h0"/>
<path stroke="#20928c" d="M1206.9 124.3h0M1216.0 469.8h0M1213.3 364.1h0M1215.9 121.4h0M1212.0 78.8h0M1203.0 77.6h0M1203.3 81.9h0M1213.7 257.9h0M1212.8 92.8h0M1217.2 381.9h0M1215.3 107.6h0M1197.1 100.1h0M1213.1 270.7h0M1214.1 358.9h0M1214.9 455.0h0M1213.4 382.5h0M1217.4 63.5h0M1205.3 74.8h0M1213.9 422.1h0M1216.4 226.9h0M1205.6 149.5h0M1212.8 67.9h0M1217.2 512.8h0M1216.8 512.8h0M1217.3 512.8h0M1214.5 512.8h0M1217.7 512.8h0M1216.0 512.8h0"/>
<path stroke="#20938c" d="M1211.3 403.2h0M1209.2 420.9h0M1203.9 268.6h0M1201.2 201.6h0M1204.2 172.5h0M1207.6 226.2h0M1210.8 353.9h0M1208.9 319.0h0M1213.7 512.8h0M1211.1 512.8h0M1214.1 512.8h0M1211.8 512.8h0M1211.4 512.8h0M1213.7 512.8h0M1213.7 512.8h0M1214.1 512.8h0M1213.3 512.8h0M1212.4 512.8h0"/>
<path stroke="#1f958b" d="M1197.9 264.7h0M1204.3 330.3h0M1196.6 223.2h0M1199.6 313.6h0M1202.7 330.4h0M1206.7 355.8h0M1189.9 211.8h0M1205.3 326.5h0M1209.4 437.8h0M1210.6 512.8h0M1209.5 512.8h0M1210.3 512.8h0M1208.8 512.8h0M1209.8 512.8h0M1209.7 512.8h0M1209.3 512.8h0M1208.5 512.8h0"/>
<path stroke="#1f978b" d="M1198.8 330.9h0M1083.7 100.7h0M1196.5 308.2h0M1194.3 266.5h0M1205.8 489.1h0M1196.9 340.0h0M1205.5 512.8h0M1204.4 512.8h0M1205.6 512.8h0M1204.1 512.8h0M1204.7 512.8h0M1206.0 512.8h0M1207.2 512.8h0M1204.1 512.8h0"/>
<path stroke="#1f998a" d="M1197.5 433.7h0M1201.7 496.5h0M1202.3 512.8h0M1200.9 512.8h0M1202.6 512.8h0M1202.6 512.8h0M1202.8 512.8h0M1201.0 512.8h0M1201.1 512.8h0M1203.7 512.8h0M1201.6 512.8h0M1202.7 512.8h0M1202.8 512.8h0"/>
<path stroke="#1e9b8a" d="M1196.6 481.1h0M1193.8 382.6h0M1190.5 374.4h0M1189.8 379.7h0M1197.9 496.0h0M1199.2 512.8h0M1199.6 512.8h0M1198.2 512.8h0M1200.1 512.8h0M1199.9 512.8h0M1198.6 512.8h0M1199.1 512.8h0M1200.6 512.8h0M1198.2 512.8h0M1198.3 512.8h0M1199.3 512.8h0M1197.7 512.8h0"/>
<path stroke="#1e9d89" d="M1192.8 444.3h0M1197.1 512.8h0M1195.9 512.8h0M1194.5 512.8h0M1195.2 512.8h0M1196.3 512.8h0M1195.2 512.8h0M1196.2 512.8h0M1197.2 512.8h0M1194.5 512.8h0M1195.9 512.8h0M1194.3 512.8h0M1196.1 512.8h0M1196.6 512.8h0M1195.3 512.8h0"/>
<path stroke="#1f9f88" d="M1188.9 473.1h0M1191.1 502.8h0M1170.6 295.6h0M1193.1 512.8h0M1193.8 512.8h0M1193.5 512.8h0M1192.5 512.8h0M1191.2 512.8h0M1192.1 512.8h0M1191.2 512.8h0M1191.6 512.8h0"/>
<path stroke="#1fa188" d="M1188.7 486.2h0M1188.6 512.8h0M1189.3 512.8h0M1188.2 512.8h0M1189.9 512.8h0M1188.0 512.8h0M1189.1 512.8h0M1190.0 512.8h0M1187.7 512.8h0M1188.4 512.8h0M1188.9 512.8h0M1188.7 512.8h0M1187.2 512.8h0M1187.5 512.8h0M1187.6 512.8h0M1189.3 512.8h0M1188.9 512.8h0M1187.1 512.8h0"/>
<path stroke="#1fa287" d="M1186.8 512.8h0M1185.8 512.8h0M1184.1 512.8h0M1185.6 512.8h0M1185.7 512.8h0M1185.3 512.8h0M1184.1 512.8h0M1184.9 512.8h0M1184.3 512.8h0M1186.2 512.8h0M1184.0 512.8h0M1186.7 512.8h0M1185.3 512.8h0"/>
<path stroke="#20a486" d="M1181.3 512.8h0M1180.8 512.8h0M1180.4 512.8h0M1183.5 512.8h0M1181.5 512.8h0M1180.4 512.8h0M1181.2 512.8h0M1183.5 512.8h0M1181.9 512.8h0"/>
<path stroke="#21a685" d="M1173.6 471.3h0M1179.1 512.8h0M1178.8 512.8h0M1178.4 512.8h0M1177.5 512.8h0M1178.4 512.8h0M1177.5 512.8h0M1178.2 512.8h0M1176.9 512.8h0M1179.2 512.8h0M1177.4 512.8h0M1176.8 512.8h0M1177.2 512.8h0M1177.9 512.8h0M1177.2 512.8h0"/>
<path stroke="#22a884" d="M1174.9 512.8h0M1176.2 512.8h0M1174.3 512.8h0M1175.4 512.8h0M1175.9 512.8h0M1176.6 512.8h0M1176.0 512.8h0"/>
<path stroke="#24aa83" d="M1172.8 512.8h0M1171.1 512.8h0M1170.5 512.8h0M1170.3 512.8h0M1171.6 512.8h0M1171.2 512.8h0M1172.0 512.8h0M1172.5 512.8h0M1171.8 512.8h0M1172.0 512.8h0M1172.5 512.8h0"/>
<path stroke="#25ac82" d="M1168.1 512.8h0M1166.9 512.8h0M1168.9 512.8h0M1167.0 512.8h0M1168.6 512.8h0M1168.8 512.8h0M1168.6 512.8h0M1169.5 512.8h0M1169.6 512.8h0"/>
<path stroke="#27ad81" d="M1166.2 512.8h0M1165.0 512.8h0M1164.2 512.8h0M1166.1 512.8h0M1163.8 512.8h0M1163.5 512.8h0M1164.3 512.8h0M1164.5 512.8h0M1163.6 512.8h0M1163.1 512.8h0"/>
<path stroke="#29af7f" d="M1159.7 512.8h0M1160.6 512.8h0M1161.2 512.8h0M1161.6 512.8h0M1160.4 512.8h0M1159.6 512.8h0M1161.0 512.8h0M1162.1 512.8h0M1161.2 512.8h0M1162.5 512.8h0M1160.7 512.8h0"/>
<path stroke="#2cb17e" d="M1157.8 512.8h0M1156.4 512.8h0M1157.9 512.8h0M1156.5 512.8h0M1156.9 512.8h0M1157.4 512.8h0M1158.3 512.8h0M1158.5 512.8h0M1157.0 512.8h0M1156.4 512.8h0M1156.5 512.8h0M1157.9 512.8h0M1159.1 512.8h0M1159.3 512.8h0M1159.2 512.8h0M1158.7 512.8h0M1157.1 512.8h0M1159.5 512.8h0M1156.7 512.8h0"/>
<path stroke="#2eb37c" d="M1153.0 512.8h0M1153.6 512.8h0M1153.2 512.8h0M1156.1 512.8h0M1156.1 512.8h0M1154.0 512.8h0M1154.7 512.8h0M1154.8 512.8h0M1152.8 512.8h0"/>
<path stroke="#31b57b" d="M1149.8 512.8h0M1152.0 512.8h0M1149.6 512.8h0M1149.7 512.8h0M1149.7 512.8h0M1150.4 512.8h0M1151.8 512.8h0M1149.4 512.8h0M1151.6 512.8h0M1150.8 512.8h0"/>
<path stroke="#34b679" d="M1149.1 512.8h0M1146.5 512.8h0M1147.0 512.8h0M1146.4 512.8h0M1146.4 512.8h0M1146.3 512.8h0M1148.4 512.8h0M1149.2 512.8h0M1147.6 512.8h0M1146.4 512.8h0"/>
<path stroke="#37b878" d="M1145.0 512.8h0M1143.9 512.8h0M1143.6 512.8h0M1144.1 512.8h0M1144.0 512.8h0M1143.7 512.8h0M1143.5 512.8h0M1142.6 512.8h0M1145.5 512.8h0M1142.9 512.8h0M1142.9 512.8h0M1143.4 512.8h0M1143.9 512.8h0"/>
<path stroke="#3aba76" d="M1140.1 512.8h0M1139.9 512.8h0M1139.7 512.8h0M1142.0 512.8h0M1140.9 512.8h0M1141.6 512.8h0M1142.2 512.8h0M1140.1 512.8h0"/>
<path stroke="#3dbc74" d="M1136.7 512.8h0M1136.6 512.8h0M1136.2 512.8h0M1137.1 512.8h0M1136.1 512.8h0M1138.7 512.8h0M1135.9 512.8h0M1136.3 512.8h0M1136.6 512.8h0M1137.6 512.8h0M1135.9 512.8h0"/>
<path stroke="#40bd72" d="M1119.4 437.9h0M1133.3 512.8h0M1133.5 512.8h0M1133.3 512.8h0M1135.2 512.8h0M1133.5 512.8h0M1132.3 512.8h0M1133.2 512.8h0M1135.3 512.8h0M1135.4 512.8h0M1134.0 512.8h0M1134.3 512.8h0M1135.3 512.8h0"/>
<path stroke="#44bf70" d="M1130.7 512.8h0M1132.1 512.8h0M1131.4 512.8h0M1131.0 512.8h0M1129.8 512.8h0M1131.3 512.8h0M1129.9 512.8h0M1131.5 512.8h0"/>
<path stroke="#48c16e" d="M1119.0 469.6h0M1128.5 512.8h0M1125.8 512.8h0M1126.3 512.8h0M1127.5 512.8h0M1125.7 512.8h0M1128.8 512.8h0M1126.3 512.8h0M1125.5 512.8h0M1126.9 512.8h0M1127.1 512.8h0M1126.6 512.8h0M1126.6 512.8h0M1126.1 512.8h0M1126.9 512.8h0M1126.5 512.8h0"/>
<path stroke="#4cc26c" d="M1122.9 512.8h0M1122.0 512.8h0M1124.2 512.8h0M1123.7 512.8h0M1123.5 512.8h0M1124.5 512.8h0M1124.1 512.8h0M1125.3 512.8h0M1125.1 512.8h0M1122.6 512.8h0"/>
<path stroke="#50c46a" d="M1120.6 512.8h0M1119.5 512.8h0M1119.8 512.8h0M1121.2 512.8h0M1120.2 512.8h0M1119.9 512.8h0M1118.5 512.8h0M1121.7 512.8h0M1121.7 512.8h0M1118.9 512.8h0M1120.6 512.8h0M1118.6 512.8h0M1120.1 512.8h0"/>
<path stroke="#54c568" d="M1115.9 512.8h0M1115.1 512.8h0M1118.3 512.8h0M1115.2 512.8h0M1115.6 512.8h0M1116.1 512.8h0M1118.0 512.8h0M1116.8 512.8h0M1115.7 512.8h0M1115.4 512.8h0M1116.2 512.8h0M1115.3 512.8h0M1117.2 512.8h0"/>
<path stroke="#58c765" d="M1113.8 512.8h0M1112.6 512.8h0M1113.1 512.8h0M1112.8 512.8h0M1114.2 512.8h0M1113.9 512.8h0M1114.2 512.8h0M1114.2 512.8h0M1112.1 512.8h0M1114.1 512.8h0M1114.0 512.8h0M1114.1 512.8h0M1112.9 512.8h0M1113.2 512.8h0M1111.7 512.8h0"/>
<path stroke="#5cc863" d="M1111.4 512.8h0M1110.1 512.8h0M1111.5 512.8h0M1108.8 512.8h0M1109.9 512.8h0M1110.3 512.8h0M1111.4 512.8h0M1109.4 512.8h0"/>
<path stroke="#60ca60" d="M1105.2 501.0h0M1108.2 512.8h0M1106.8 512.8h0M1107.1 512.8h0M1107.6 512.8h0M1106.0 512.8h0M1108.2 512.8h0M1107.8 512.8h0M1105.1 512.8h0M1105.2 512.8h0M1106.8 512.8h0M1105.3 512.8h0"/>
<path stroke="#65cb5e" d="M1103.5 512.8h0M1104.0 512.8h0M1102.5 512.8h0M1103.7 512.8h0M1102.2 512.8h0M1104.1 512.8h0M1104.4 512.8h0"/>
<path stroke="#69cd5b" d="M1100.5 512.8h0M1099.4 512.8h0M1099.9 512.8h0M1099.0 512.8h0M1099.9 512.8h0M1099.7 512.8h0M1100.2 512.8h0M1098.3 512.8h0M1100.0 512.8h0"/>
<path stroke="#6ece58" d="M1095.4 512.8h0M1096.2 512.8h0M1095.7 512.8h0M1095.0 512.8h0M1096.3 512.8h0M1096.3 512.8h0M1095.3 512.8h0"/>
<path stroke="#73d056" d="M1092.8 512.8h0M1092.2 512.8h0M1092.9 512.8h0M1093.4 512.8h0M1094.1 512.8h0M1093.0 512.8h0M1092.8 512.8h0M1092.3 512.8h0M1092.9 512.8h0M1091.4 512.8h0M1092.8 512.8h0"/>
<path stroke="#77d153" d="M1090.9 512.8h0M1090.2 512.8h0M1090.7 512.8h0M1088.1 512.8h0M1089.0 512.8h0M1089.2 512.8h0M1089.2 512.8h0M1090.5 512.8h0M1090.4 512.8h0"/>
<path stroke="#7cd250" d="M1084.8 512.8h0M1085.6 512.8h0M1087.4 512.8h0M1086.5 512.8h0M1085.0 512.8h0M1086.6 512.8h0M1087.3 512.8h0M1086.6 512.8h0M1087.6 512.8h0M1084.7 512.8h0M1084.6 512.8h0M1086.9 512.8h0"/>
<path stroke="#81d34d" d="M1084.1 512.8h0M1084.1 512.8h0M1081.2 512.8h0M1082.4 512.8h0M1083.7 512.8h0M1083.4 512.8h0M1083.5 512.8h0M1084.1 512.8h0M1082.0 512.8h0M1081.2 512.8h0M1083.0 512.8h0"/>
<path stroke="#86d549" d="M1080.1 512.8h0M1080.5 512.8h0M1077.5 512.8h0M1080.7 512.8h0M1079.9 512.8h0M1078.0 512.8h0M1078.3 512.8h0M1079.3 512.8h0M1078.2 512.8h0M1077.7 512.8h0M1080.7 512.8h0M1078.0 512.8h0"/>
<path stroke="#8bd646" d="M1077.0 512.8h0M1075.2 512.8h0M1075.0 512.8h0M1075.4 512.8h0M1075.0 512.8h0M1076.7 512.8h0M1074.4 512.8h0M1076.1 512.8h0M1075.2 512.8h0M1076.3 512.8h0M1074.3 512.8h0M1075.4 512.8h0M1075.2 512.8h0M1077.3 512.8h0"/>
<path stroke="#90d743" d="M1072.2 512.8h0M1073.6 512.8h0M1073.7 512.8h0M1072.9 512.8h0M1073.4 512.8h0M1073.9 512.8h0M1072.9 512.8h0M1072.4 512.8h0"/>
<path stroke="#95d840" d="M1069.2 512.8h0M1068.9 512.8h0M1069.9 512.8h0M1069.1 512.8h0M1067.3 512.8h0M1067.5 512.8h0M1067.3 512.8h0M1068.0 512.8h0M1067.3 512.8h0M1070.3 512.8h0M1068.7 512.8h0M1069.8 512.8h0M1068.3 512.8h0M1069.3 512.8h0"/>
<path stroke="#9bd93c" d="M1066.1 512.8h0M1065.5 512.8h0M1064.5 512.8h0M1064.1 512.8h0M1065.6 512.8h0M1063.9 512.8h0M1065.4 512.8h0M1067.0 512.8h0M1066.9 512.8h0M1067.1 512.8h0"/>
<path stroke="#a0da39" d="M1063.2 512.8h0M1062.6 512.8h0M1061.2 512.8h0M1061.1 512.8h0M1062.4 512.8h0M1061.9 512.8h0M1063.5 512.8h0M1061.4 512.8h0M1062.4 512.8h0"/>
<path stroke="#a5db36" d="M1058.4 512.8h0M1057.9 512.8h0M1059.8 512.8h0M1057.7 512.8h0M1058.9 512.8h0M1059.7 512.8h0M1057.4 512.8h0M1058.2 512.8h0M1058.1 512.8h0M1059.7 512.8h0M1059.8 512.8h0"/>
<path stroke="#aadc32" d="M1053.7 512.8h0M1055.4 512.8h0M1054.2 512.8h0M1053.9 512.8h0M1054.5 512.8h0M1056.9 512.8h0M1056.3 512.8h0M1054.5 512.8h0M1056.4 512.8h0M1054.1 512.8h0M1054.5 512.8h0"/>
<path stroke="#b0dd2f" d="M1052.3 512.8h0M1050.3 512.8h0M1051.6 512.8h0M1053.0 512.8h0M1050.1 512.8h0M1053.3 512.8h0M1050.1 512.8h0M1053.4 512.8h0M1052.2 512.8h0M1050.2 512.8h0M1051.9 512.8h0"/>
<path stroke="#b5de2b" d="M1047.0 512.8h0M1048.8 512.8h0M1049.9 512.8h0M1047.9 512.8h0M1047.3 512.8h0M1048.5 512.8h0M1047.5 512.8h0M1046.9 512.8h0M1049.5 512.8h0M1048.2 512.8h0M1046.8 512.8h0M1047.2 512.8h0"/>
<path stroke="#bade28" d="M1043.7 512.8h0M1044.4 512.8h0M1045.7 512.8h0M1045.1 512.8h0M1043.8 512.8h0M1046.5 512.8h0M1045.0 512.8h0M1046.6 512.8h0M1046.4 512.8h0M1045.4 512.8h0M1043.7 512.8h0"/>
<path stroke="#c0df25" d="M1042.6 512.8h0M1041.5 512.8h0M1041.7 512.8h0M1040.9 512.8h0M1041.5 512.8h0M1043.0 512.8h0M1041.1 512.8h0M1042.9 512.8h0M1041.3 512.8h0M1042.9 512.8h0M1041.4 512.8h0M1042.9 512.8h0M1040.6 512.8h0M1041.7 512.8h0"/>
<path stroke="#c5e021" d="M1038.4 512.8h0M1036.9 512.8h0M1039.6 512.8h0M1037.5 512.8h0"/>
<path stroke="#cae11f" d="M1033.2 512.8h0M1035.5 512.8h0M1035.4 512.8h0M1033.3 512.8h0M1035.3 512.8h0M1034.4 512.8h0M1033.9 512.8h0M1036.2 512.8h0"/>
<path stroke="#d0e11c" d="M1032.7 512.8h0M1031.8 512.8h0M1031.9 512.8h0M1032.7 512.8h0M1030.0 512.8h0M1032.8 512.8h0M1032.2 512.8h0"/>
<path stroke="#d5e21a" d="M1027.5 512.8h0M1026.6 512.8h0M1026.8 512.8h0M1028.4 512.8h0M1027.6 512.8h0M1029.4 512.8h0M1026.5 512.8h0M1026.8 512.8h0M1029.5 512.8h0M1026.2 512.8h0"/>
<path stroke="#dae319" d="M1024.3 512.8h0M1025.3 512.8h0M1023.8 512.8h0M1024.6 512.8h0M1025.2 512.8h0M1023.7 512.8h0M1024.9 512.8h0M1025.4 512.8h0M1025.1 512.8h0M1025.8 512.8h0"/>
<path stroke="#dfe318" d="M1022.6 512.8h0M1021.2 512.8h0M1022.6 512.8h0M1020.6 512.8h0M1019.9 512.8h0M1021.2 512.8h0M1019.9 512.8h0M1020.5 512.8h0M1019.6 512.8h0M1022.5 512.8h0M1020.5 512.8h0"/>
<path stroke="#e5e419" d="M1017.9 512.8h0M1018.7 512.8h0M1016.2 512.8h0M1019.1 512.8h0M1017.4 512.8h0M1016.9 512.8h0M1016.6 512.8h0M1018.7 512.8h0M1017.0 512.8h0M1016.2 512.8h0M1017.7 512.8h0M1017.0 512.8h0"/>
<path stroke="#eae51a" d="M1013.3 512.8h0M1014.2 512.8h0M1012.4 512.8h0M1014.0 512.8h0M1015.5 512.8h0M1015.1 512.8h0"/>
<path stroke="#efe51c" d="M1012.4 512.8h0M1011.8 512.8h0M1010.6 512.8h0M1009.8 512.8h0M1010.3 512.8h0M1010.9 512.8h0M1010.0 512.8h0M1011.7 512.8h0M1011.8 512.8h0M1011.7 512.8h0"/>
<path stroke="#f4e61e" d="M1005.6 512.8h0M1007.3 512.8h0M1005.6 512.8h0M1006.9 512.8h0M1006.0 512.8h0M1005.8 512.8h0M1006.3 512.8h0M1008.6 512.8h0"/>
<path stroke="#f8e621" d="M1005.6 512.8h0M1002.6 512.8h0M1004.9 512.8h0M1003.2 512.8h0M1002.6 512.8h0M1002.2 512.8h0M1003.9 512.8h0M1003.3 512.8h0M1004.7 512.8h0"/>
<path stroke="#fde725" d="M994.6 512.8h0M999.7 512.8h0M1000.1 512.8h0M995.3 512.8h0M998.9 512.8h0M994.7 512.8h0M998.6 512.8h0M992.5 512.8h0M997.1 512.8h0M999.1 512.8h0M994.4 512.8h0M1000.2 512.8h0M998.1 512.8h0M999.6 512.8h0M997.5 512.8h0M995.2 512.8h0M991.9 512.8h0M1001.0 512.8h0M1000.9 512.8h0M1002.1 512.8h0M997.9 512.8h0M994.0 512.8h0M1002.0 512.8h0M997.1 512.8h0M999.8 512.8h0M994.3 512.8h0M995.7 512.8h0M996.3 512.8h0"/>
</g>
<rect x="944.00" y="34.00" width="547.50" height="478.05" fill="none" stroke="#000" stroke-width="1.20"/>
<line x1="944.00" y1="512.05" x2="944.00" y2="517.55" stroke="#000" stroke-width="1.20"/>
<text x="944.00" y="543.00" text-anchor="middle">−100</text>
<line x1="1080.88" y1="512.05" x2="1080.88" y2="517.55" stroke="#000" stroke-width="1.20"/>
<text x="1080.88" y="543.00" text-anchor="middle">−50</text>
<line x1="1217.75" y1="512.05" x2="1217.75" y2="517.55" stroke="#000" stroke-width="1.20"/>
<text x="1217.75" y="543.00" text-anchor="middle">0</text>
<line x1="1354.62" y1="512.05" x2="1354.62" y2="517.55" stroke="#000" stroke-width="1.20"/>
<text x="1354.62" y="543.00" text-anchor="middle">50</text>
<line x1="1491.50" y1="512.05" x2="1491.50" y2="517.55" stroke="#000" stroke-width="1.20"/>
<text x="1491.50" y="543.00" text-anchor="middle">100</text>
<line x1="938.50" y1="512.05" x2="944.00" y2="512.05" stroke="#000" stroke-width="1.20"/>
<text x="933.60" y="522.75" text-anchor="end">0.0</text>
<line x1="938.50" y1="420.99" x2="944.00" y2="420.99" stroke="#000" stroke-width="1.20"/>
<text x="933.60" y="431.69" text-anchor="end">0.2</text>
<line x1="938.50" y1="329.94" x2="944.00" y2="329.94" stroke="#000" stroke-width="1.20"/>
<text x="933.60" y="340.64" text-anchor="end">0.4</text>
<line x1="938.50" y1="238.88" x2="944.00" y2="238.88" stroke="#000" stroke-width="1.20"/>
<text x="933.60" y="249.58" text-anchor="end">0.6</text>
<line x1="938.50" y1="147.82" x2="944.00" y2="147.82" stroke="#000" stroke-width="1.20"/>
<text x="933.60" y="158.52" text-anchor="end">0.8</text>
<line x1="938.50" y1="56.76" x2="944.00" y2="56.76" stroke="#000" stroke-width="1.20"/>
<text x="933.60" y="67.46" text-anchor="end">1.0</text>
<rect x="1525.60" y="34.00" width="23.80" height="478.05" fill="url(#vg)" stroke="#000" stroke-width="1.20"/>
<line x1="1549.40" y1="512.05" x2="1554.90" y2="512.05" stroke="#000" stroke-width="1.20"/>
<text x="1560.10" y="522.75" text-anchor="start">−40</text>
<line x1="1549.40" y1="452.29" x2="1554.90" y2="452.29" stroke="#000" stroke-width="1.20"/>
<text x="1560.10" y="462.99" text-anchor="start">−30</text>
<line x1="1549.40" y1="392.54" x2="1554.90" y2="392.54" stroke="#000" stroke-width="1.20"/>
<text x="1560.10" y="403.24" text-anchor="start">−20</text>
<line x1="1549.40" y1="332.78" x2="1554.90" y2="332.78" stroke="#000" stroke-width="1.20"/>
<text x="1560.10" y="343.48" text-anchor="start">−10</text>
<line x1="1549.40" y1="273.02" x2="1554.90" y2="273.02" stroke="#000" stroke-width="1.20"/>
<text x="1560.10" y="283.72" text-anchor="start">0</text>
<line x1="1549.40" y1="213.27" x2="1554.90" y2="213.27" stroke="#000" stroke-width="1.20"/>
<text x="1560.10" y="223.97" text-anchor="start">10</text>
<line x1="1549.40" y1="153.51" x2="1554.90" y2="153.51" stroke="#000" stroke-width="1.20"/>
<text x="1560.10" y="164.21" text-anchor="start">20</text>
<line x1="1549.40" y1="93.76" x2="1554.90" y2="93.76" stroke="#000" stroke-width="1.20"/>
<text x="1560.10" y="104.46" text-anchor="start">30</text>
<line x1="1549.40" y1="34.00" x2="1554.90" y2="34.00" stroke="#000" stroke-width="1.20"/>
<text x="1560.10" y="44.70" text-anchor="start">40</text>
<text x="399.2" y="24.5" text-anchor="middle" class="t">(a)</text>
<text x="1218" y="24.5" text-anchor="middle" class="t">(b)</text>
<text x="398.5" y="578.4" text-anchor="middle">V<tspan class="i s" dy="4.4">zz</tspan><tspan dy="-4.4" dx="2"> (10</tspan><tspan class="s" dy="-10.4">21</tspan><tspan class="i" dy="10.4">Vm</tspan><tspan class="s" dy="-10.4">−2</tspan><tspan dy="10.4">)</tspan></text>
<text x="1217.5" y="578.4" text-anchor="middle">V<tspan class="i s" dy="4.4">zz</tspan><tspan dy="-4.4" dx="2"> (10</tspan><tspan class="s" dy="-10.4">21</tspan><tspan class="i" dy="10.4">Vm</tspan><tspan class="s" dy="-10.4">−2</tspan><tspan dy="10.4">)</tspan></text>
<text transform="translate(25.3 273.2) rotate(-90)" text-anchor="middle">V<tspan class="i s" dy="4.4">xx</tspan><tspan dy="-4.4" dx="2.5">-V</tspan><tspan class="i s" dy="4.4">yy</tspan><tspan dy="-4.4" dx="2"> (10</tspan><tspan class="s" dy="-10.4">21</tspan><tspan class="i" dy="10.4">Vm</tspan><tspan class="s" dy="-10.4">−2</tspan><tspan dy="10.4">)</tspan></text>
<text transform="translate(809.2 274.2) rotate(-90)" text-anchor="middle" class="i">η</text>
<text transform="translate(877.2 275.4) rotate(-90)" text-anchor="middle" class="i">η</text>
<text transform="translate(1642.2 274.2) rotate(-90)" text-anchor="middle">V<tspan class="i s" dy="5">xx</tspan></text>

</svg></body></html>
